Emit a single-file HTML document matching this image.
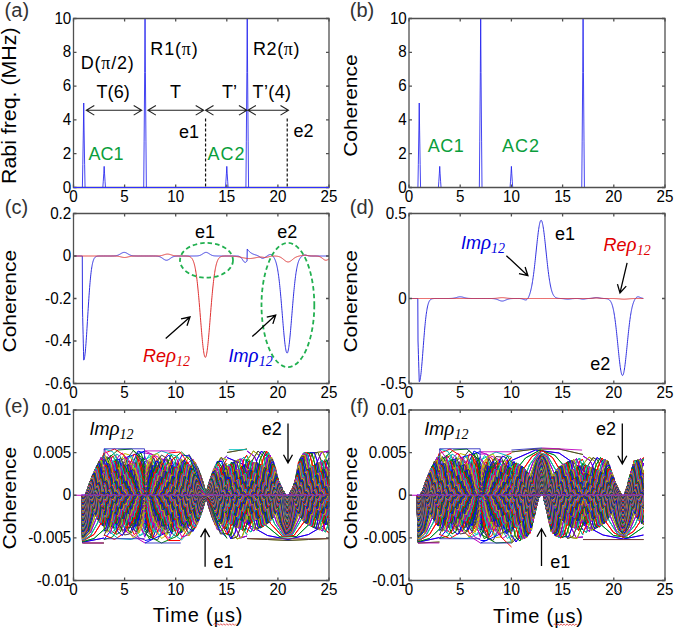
<!DOCTYPE html>
<html><head><meta charset="utf-8"><style>
html,body{margin:0;padding:0;background:#fff;width:675px;height:630px;overflow:hidden}
svg{display:block}
text{font-family:"Liberation Sans", sans-serif}
</style></head><body>
<svg width="675" height="630" viewBox="0 0 675 630">
<rect width="675" height="630" fill="#fff"/>
<path d="M73.5,187.5 82.39,187.5 82.8,164.69 83.36,130.04 83.72,103 84.08,130.04 84.64,164.69 85.05,187.5 102.83,187.5 103.24,181.8 103.8,173.13 104.16,166.38 104.52,173.13 105.08,181.8 105.49,187.5 143.71,187.5 144.12,141.87 144.68,72.58 145.04,18.5 145.4,72.58 145.96,141.87 146.37,187.5 225.47,187.5 225.88,181.8 226.44,173.13 226.8,166.38 227.16,173.13 227.72,181.8 228.13,187.5 245.91,187.5 246.32,141.87 246.88,72.58 247.24,18.5 247.6,72.58 248.16,141.87 248.57,187.5 329,187.5" fill="none" stroke="#2222ee" stroke-width="0.85" stroke-linejoin="round" />
<path d="M73.5,18.5H329.0V187.5H73.5Z" fill="none" stroke="#505050" stroke-width="1.3"/>
<path d="M73.5,187.5v-3M73.5,18.5v3M124.6,187.5v-3M124.6,18.5v3M175.7,187.5v-3M175.7,18.5v3M226.8,187.5v-3M226.8,18.5v3M277.9,187.5v-3M277.9,18.5v3M329,187.5v-3M329,18.5v3M73.5,187.5h3M329.0,187.5h-3M73.5,153.7h3M329.0,153.7h-3M73.5,119.9h3M329.0,119.9h-3M73.5,86.1h3M329.0,86.1h-3M73.5,52.3h3M329.0,52.3h-3M73.5,18.5h3M329.0,18.5h-3" stroke="#505050" stroke-width="1.3"/>
<path d="M205.56,118.5V187M287.22,118.5V187" stroke="#111" stroke-width="1.2" stroke-dasharray="3,2"/>
<path d="M73.5,187.5H329" stroke="#3030ff" stroke-width="1.2"/>
<path d="M409,187.5 417.91,187.5 418.32,164.69 418.88,130.04 419.24,103 419.6,130.04 420.16,164.69 420.57,187.5 438.39,187.5 438.8,181.8 439.36,173.13 439.72,166.38 440.08,173.13 440.64,181.8 441.05,187.5 479.35,187.5 479.76,141.87 480.32,72.58 480.68,18.5 481.04,72.58 481.6,141.87 482.01,187.5 510.07,187.5 510.48,181.8 511.04,173.13 511.4,166.38 511.76,173.13 512.32,181.8 512.73,187.5 581.75,187.5 582.16,141.87 582.72,72.58 583.08,18.5 583.44,72.58 584,141.87 584.41,187.5 665,187.5" fill="none" stroke="#2222ee" stroke-width="0.85" stroke-linejoin="round" />
<path d="M409.0,18.5H665.0V187.5H409.0Z" fill="none" stroke="#505050" stroke-width="1.3"/>
<path d="M409,187.5v-3M409,18.5v3M460.2,187.5v-3M460.2,18.5v3M511.4,187.5v-3M511.4,18.5v3M562.6,187.5v-3M562.6,18.5v3M613.8,187.5v-3M613.8,18.5v3M665,187.5v-3M665,18.5v3M409.0,187.5h3M665.0,187.5h-3M409.0,153.7h3M665.0,153.7h-3M409.0,119.9h3M665.0,119.9h-3M409.0,86.1h3M665.0,86.1h-3M409.0,52.3h3M665.0,52.3h-3M409.0,18.5h3M665.0,18.5h-3" stroke="#505050" stroke-width="1.3"/>
<path d="M73.5,256 73.7,256 73.91,256 74.11,256 74.32,256 74.52,256 74.73,256 74.93,256 75.14,256 75.34,256 75.54,256 75.75,256 75.95,256 76.16,256 76.36,256 76.57,256 76.77,256 76.97,256 77.18,256 77.38,256 77.59,256 77.79,256 78,256 78.2,256 78.41,256 78.61,256 78.81,256 79.02,256 79.22,256 79.43,256 79.63,256 79.84,256 80.04,256 80.25,256 80.45,256 80.65,256 80.86,256 81.06,256 81.27,256 81.47,256 81.68,256 81.88,256 82.08,256 82.29,256 82.49,309.12 82.7,317.62 82.9,326.12 83.11,334.63 83.31,343.12 83.52,351.62 83.72,360.12 83.92,359.98 84.13,359.53 84.33,358.8 84.54,357.78 84.74,356.48 84.95,354.92 85.15,353.11 85.36,351.06 85.56,348.78 85.76,346.3 85.97,343.64 86.17,340.82 86.38,337.85 86.58,334.77 86.79,331.58 86.99,328.32 87.19,325 87.4,321.64 87.6,318.27 87.81,314.91 88.01,311.57 88.22,308.27 88.42,305.02 88.63,301.85 88.83,298.76 89.03,295.76 89.24,292.87 89.44,290.1 89.65,287.44 89.85,284.9 90.06,282.5 90.26,280.23 90.47,278.08 90.67,276.07 90.87,274.2 91.08,272.45 91.28,270.82 91.49,269.32 91.69,267.94 91.9,266.67 92.1,265.51 92.3,264.45 92.51,263.48 92.71,262.61 92.92,261.82 93.12,261.12 93.33,260.48 93.53,259.91 93.74,259.41 93.94,258.96 94.14,258.56 94.35,258.21 94.55,257.91 94.76,257.64 94.96,257.4 95.17,257.2 95.37,257.02 95.58,256.87 95.78,256.73 95.98,256.62 96.19,256.52 96.39,256.44 96.6,256.37 96.8,256.31 97.01,256.25 97.21,256.21 97.41,256.17 97.62,256.14 97.82,256.12 98.03,256.1 98.23,256.08 98.44,256.06 98.64,256.05 98.85,256.04 99.05,256.03 99.25,256.03 99.46,256.02 99.66,256.02 99.87,256.01 100.07,256.01 100.28,256.01 100.48,256.01 100.69,256.01 100.89,256 101.09,256 101.3,256 101.5,256 101.71,256 101.91,256 102.12,256 102.32,256 102.52,256 102.73,256 102.93,256 103.14,256 103.34,256 103.55,256 103.75,256 103.96,256 104.16,256 104.36,256 104.57,256 104.77,256 104.98,256 105.18,256 105.39,256 105.59,256 105.8,256 106,256 106.2,256 106.41,256 106.61,256 106.82,256 107.02,256 107.23,256 107.43,256 107.63,256 107.84,256 108.04,256 108.25,256 108.45,256 108.66,256 108.86,256 109.07,256 109.27,256 109.47,256 109.68,256 109.88,256 110.09,256 110.29,256 110.5,256 110.7,256 110.91,256 111.11,255.99 111.31,255.99 111.52,255.99 111.72,255.99 111.93,255.99 112.13,255.99 112.34,255.98 112.54,255.98 112.74,255.98 112.95,255.97 113.15,255.97 113.36,255.96 113.56,255.95 113.77,255.94 113.97,255.93 114.18,255.92 114.38,255.91 114.58,255.89 114.79,255.88 114.99,255.86 115.2,255.84 115.4,255.81 115.61,255.79 115.81,255.75 116.02,255.72 116.22,255.68 116.42,255.64 116.63,255.6 116.83,255.55 117.04,255.49 117.24,255.43 117.45,255.37 117.65,255.3 117.85,255.22 118.06,255.14 118.26,255.06 118.47,254.97 118.67,254.87 118.88,254.78 119.08,254.67 119.29,254.56 119.49,254.45 119.69,254.33 119.9,254.22 120.1,254.1 120.31,253.97 120.51,253.85 120.72,253.72 120.92,253.6 121.13,253.48 121.33,253.36 121.53,253.24 121.74,253.13 121.94,253.02 122.15,252.92 122.35,252.83 122.56,252.74 122.76,252.66 122.96,252.59 123.17,252.53 123.37,252.48 123.58,252.44 123.78,252.41 123.99,252.39 124.19,252.39 124.4,252.39 124.6,252.41 124.8,252.44 125.01,252.48 125.21,252.53 125.42,252.59 125.62,252.66 125.83,252.74 126.03,252.83 126.24,252.92 126.44,253.02 126.64,253.13 126.85,253.24 127.05,253.36 127.26,253.48 127.46,253.6 127.67,253.72 127.87,253.85 128.07,253.97 128.28,254.1 128.48,254.22 128.69,254.33 128.89,254.45 129.1,254.56 129.3,254.67 129.51,254.78 129.71,254.87 129.91,254.97 130.12,255.06 130.32,255.14 130.53,255.22 130.73,255.3 130.94,255.37 131.14,255.43 131.35,255.49 131.55,255.55 131.75,255.6 131.96,255.64 132.16,255.68 132.37,255.72 132.57,255.75 132.78,255.79 132.98,255.81 133.18,255.84 133.39,255.86 133.59,255.88 133.8,255.89 134,255.91 134.21,255.92 134.41,255.93 134.62,255.94 134.82,255.95 135.02,255.96 135.23,255.97 135.43,255.97 135.64,255.98 135.84,255.98 136.05,255.98 136.25,255.99 136.46,255.99 136.66,255.99 136.86,255.99 137.07,255.99 137.27,255.99 137.48,256 137.68,256 137.89,256 138.09,256 138.29,256 138.5,256 138.7,256 138.91,256 139.11,256 139.32,256 139.52,256 139.73,256 139.93,256 140.13,256 140.34,256 140.54,256 140.75,256 140.95,256 141.16,256 141.36,256 141.57,256 141.77,256 141.97,256 142.18,256 142.38,256 142.59,256 142.79,256 143,256 143.2,256 143.4,256 143.61,256 143.81,256 144.02,256 144.22,256 144.43,256 144.63,256 144.84,256 145.04,256 145.24,256 145.45,256 145.65,256 145.86,256 146.06,256 146.27,256 146.47,256 146.68,256 146.88,256 147.08,256 147.29,256 147.49,256 147.7,256 147.9,256 148.11,256 148.31,256 148.51,256 148.72,256 148.92,256 149.13,256 149.33,256 149.54,256 149.74,256 149.95,256 150.15,256 150.35,256 150.56,256 150.76,256 150.97,256 151.17,256 151.38,256 151.58,256 151.79,256 151.99,256 152.19,256 152.4,256 152.6,256 152.81,256 153.01,256 153.22,256 153.42,256.01 153.62,256.01 153.83,256.01 154.03,256.01 154.24,256.01 154.44,256.02 154.65,256.02 154.85,256.02 155.06,256.03 155.26,256.03 155.46,256.04 155.67,256.05 155.87,256.06 156.08,256.07 156.28,256.08 156.49,256.09 156.69,256.11 156.9,256.12 157.1,256.14 157.3,256.17 157.51,256.19 157.71,256.22 157.92,256.25 158.12,256.29 158.33,256.33 158.53,256.37 158.73,256.42 158.94,256.48 159.14,256.53 159.35,256.6 159.55,256.67 159.76,256.74 159.96,256.83 160.17,256.91 160.37,257.01 160.57,257.11 160.78,257.21 160.98,257.32 161.19,257.44 161.39,257.56 161.6,257.69 161.8,257.82 162.01,257.96 162.21,258.1 162.41,258.24 162.62,258.39 162.82,258.53 163.03,258.68 163.23,258.82 163.44,258.97 163.64,259.11 163.84,259.24 164.05,259.38 164.25,259.5 164.46,259.62 164.66,259.73 164.87,259.84 165.07,259.93 165.28,260.01 165.48,260.08 165.68,260.14 165.89,260.19 166.09,260.22 166.3,260.24 166.5,260.25 166.71,260.24 166.91,260.22 167.12,260.19 167.32,260.14 167.52,260.08 167.73,260.01 167.93,259.93 168.14,259.84 168.34,259.73 168.55,259.62 168.75,259.5 168.95,259.38 169.16,259.24 169.36,259.11 169.57,258.97 169.77,258.82 169.98,258.68 170.18,258.53 170.39,258.39 170.59,258.24 170.79,258.1 171,257.96 171.2,257.82 171.41,257.69 171.61,257.56 171.82,257.44 172.02,257.32 172.23,257.21 172.43,257.11 172.63,257.01 172.84,256.91 173.04,256.83 173.25,256.74 173.45,256.67 173.66,256.6 173.86,256.53 174.06,256.48 174.27,256.42 174.47,256.37 174.68,256.33 174.88,256.29 175.09,256.25 175.29,256.22 175.5,256.19 175.7,256.17 175.9,256.14 176.11,256.12 176.31,256.11 176.52,256.09 176.72,256.08 176.93,256.07 177.13,256.06 177.34,256.05 177.54,256.04 177.74,256.03 177.95,256.03 178.15,256.02 178.36,256.02 178.56,256.02 178.77,256.01 178.97,256.01 179.17,256.01 179.38,256.01 179.58,256.01 179.79,256 179.99,256 180.2,256 180.4,256 180.61,256 180.81,256 181.01,256 181.22,256 181.42,256 181.63,256 181.83,256 182.04,256 182.24,256 182.45,256 182.65,256 182.85,256 183.06,256 183.26,256 183.47,256 183.67,256 183.88,256 184.08,256 184.28,256 184.49,256 184.69,256 184.9,256 185.1,256 185.31,256 185.51,256 185.72,256 185.92,256 186.12,256 186.33,256 186.53,256 186.74,256 186.94,256 187.15,256 187.35,256 187.56,256 187.76,256 187.96,256 188.17,256 188.37,256 188.58,256 188.78,256 188.99,256 189.19,256 189.39,256 189.6,256 189.8,256 190.01,256 190.21,256 190.42,256 190.62,256 190.83,256 191.03,256 191.23,256 191.44,256 191.64,256 191.85,256 192.05,256 192.26,256 192.46,256 192.67,256 192.87,256 193.07,256 193.28,256 193.48,256 193.69,256 193.89,256 194.1,256 194.3,255.99 194.5,255.99 194.71,255.99 194.91,255.99 195.12,255.99 195.32,255.98 195.53,255.98 195.73,255.98 195.94,255.97 196.14,255.97 196.34,255.96 196.55,255.95 196.75,255.94 196.96,255.93 197.16,255.91 197.37,255.9 197.57,255.88 197.78,255.86 197.98,255.83 198.18,255.81 198.39,255.78 198.59,255.74 198.8,255.7 199,255.66 199.21,255.61 199.41,255.55 199.61,255.49 199.82,255.42 200.02,255.35 200.23,255.27 200.43,255.19 200.64,255.1 200.84,255 201.05,254.9 201.25,254.79 201.45,254.67 201.66,254.55 201.86,254.42 202.07,254.3 202.27,254.16 202.48,254.03 202.68,253.89 202.89,253.75 203.09,253.62 203.29,253.48 203.5,253.35 203.7,253.22 203.91,253.09 204.11,252.98 204.32,252.87 204.52,252.77 204.72,252.68 204.93,252.6 205.13,252.53 205.34,252.47 205.54,252.43 205.75,252.4 205.95,252.39 206.16,252.39 206.36,252.4 206.56,252.43 206.77,252.47 206.97,252.53 207.18,252.6 207.38,252.68 207.59,252.77 207.79,252.87 208,252.98 208.2,253.09 208.4,253.22 208.61,253.35 208.81,253.48 209.02,253.62 209.22,253.75 209.43,253.89 209.63,254.03 209.83,254.16 210.04,254.3 210.24,254.42 210.45,254.55 210.65,254.67 210.86,254.79 211.06,254.9 211.27,255 211.47,255.1 211.67,255.19 211.88,255.27 212.08,255.35 212.29,255.42 212.49,255.49 212.7,255.55 212.9,255.61 213.11,255.66 213.31,255.7 213.51,255.74 213.72,255.78 213.92,255.81 214.13,255.83 214.33,255.86 214.54,255.88 214.74,255.9 214.94,255.91 215.15,255.93 215.35,255.94 215.56,255.95 215.76,255.96 215.97,255.97 216.17,255.97 216.38,255.98 216.58,255.98 216.78,255.98 216.99,255.99 217.19,255.99 217.4,255.99 217.6,255.99 217.81,255.99 218.01,256 218.22,256 218.42,256 218.62,256 218.83,256 219.03,256 219.24,256 219.44,256 219.65,256 219.85,256 220.05,256 220.26,256 220.46,256 220.67,256 220.87,256 221.08,256 221.28,256 221.49,256 221.69,256 221.89,256 222.1,256 222.3,256 222.51,256 222.71,256 222.92,256 223.12,256 223.33,256 223.53,256 223.73,256 223.94,256 224.14,256 224.35,256 224.55,256 224.76,256 224.96,256 225.16,256 225.37,256 225.57,256 225.78,256 225.98,256 226.19,256 226.39,256 226.6,256 226.8,256 227,256 227.21,256 227.41,256 227.62,256 227.82,256 228.03,256 228.23,256 228.44,256 228.64,256 228.84,256 229.05,256 229.25,256 229.46,256 229.66,256 229.87,256 230.07,256 230.27,256 230.48,256 230.68,256 230.89,256 231.09,256 231.3,256 231.5,256 231.71,256 231.91,256 232.11,256 232.32,256 232.52,256 232.73,256 232.93,256 233.14,256 233.34,256 233.55,256 233.75,256 233.95,256 234.16,256 234.36,256 234.57,256 234.77,256 234.98,256 235.18,256 235.38,256 235.59,256 235.79,256.01 236,256.01 236.2,256.01 236.41,256.02 236.61,256.02 236.82,256.03 237.02,256.03 237.22,256.04 237.43,256.06 237.63,256.07 237.84,256.09 238.04,256.12 238.25,256.15 238.45,256.18 238.66,256.23 238.86,256.28 239.06,256.34 239.27,256.41 239.47,256.49 239.68,256.59 239.88,256.7 240.09,256.83 240.29,256.97 240.49,257.13 240.7,257.31 240.9,257.51 241.11,257.73 241.31,257.96 241.52,258.21 241.72,258.48 241.93,258.76 242.13,259.06 242.33,259.36 242.54,259.67 242.74,259.98 242.95,260.29 243.15,260.6 243.36,260.89 243.56,261.17 243.77,261.43 243.97,261.67 244.17,261.88 244.38,262.05 244.58,262.19 244.79,262.29 244.99,262.35 245.2,262.38 245.4,262.35 245.6,262.29 245.81,262.19 246.01,262.05 246.22,261.88 246.42,261.67 246.63,261.43 246.83,261.17 247.04,260.89 247.24,248.99 247.44,249.29 247.65,249.58 247.85,249.86 248.06,250.13 248.26,250.38 248.47,250.63 248.67,250.86 248.88,251.09 249.08,251.3 249.28,251.5 249.49,251.7 249.69,251.89 249.9,252.06 250.1,252.24 250.31,252.4 250.51,252.56 250.71,252.71 250.92,252.85 251.12,252.99 251.33,253.12 251.53,253.24 251.74,253.36 251.94,253.48 252.15,253.59 252.35,253.69 252.55,253.79 252.76,253.89 252.96,253.98 253.17,254.07 253.37,254.15 253.58,254.24 253.78,254.31 253.99,254.39 254.19,254.46 254.39,254.53 254.6,254.6 254.8,254.67 255.01,254.73 255.21,254.8 255.42,254.86 255.62,254.92 255.82,254.99 256.03,255.05 256.23,255.12 256.44,255.19 256.64,255.26 256.85,255.33 257.05,255.41 257.26,255.49 257.46,255.57 257.66,255.66 257.87,255.76 258.07,255.86 258.28,255.97 258.48,256.08 258.69,256.2 258.89,256.33 259.1,256.46 259.3,256.6 259.5,256.74 259.71,256.88 259.91,257.02 260.12,257.17 260.32,257.31 260.53,257.45 260.73,257.58 260.93,257.71 261.14,257.83 261.34,257.94 261.55,258.04 261.75,258.12 261.96,258.19 262.16,258.24 262.37,258.28 262.57,258.3 262.77,258.3 262.98,258.29 263.18,258.25 263.39,258.21 263.59,258.14 263.8,258.07 264,257.98 264.21,257.88 264.41,257.77 264.61,257.65 264.82,257.53 265.02,257.4 265.23,257.26 265.43,257.13 265.64,256.99 265.84,256.86 266.04,256.72 266.25,256.58 266.45,256.45 266.66,256.31 266.86,256.18 267.07,256.04 267.27,255.91 267.48,255.78 267.68,255.65 267.88,255.52 268.09,255.39 268.29,255.27 268.5,255.15 268.7,255.04 268.91,254.93 269.11,254.83 269.32,254.74 269.52,254.66 269.72,254.6 269.93,254.55 270.13,254.52 270.34,254.51 270.54,254.52 270.75,254.54 270.95,254.59 271.15,254.66 271.36,254.76 271.56,254.87 271.77,255 271.97,255.16 272.18,255.33 272.38,255.52 272.59,255.73 272.79,255.96 272.99,256.21 273.2,256.47 273.4,256.75 273.61,257.04 273.81,257.36 274.02,257.69 274.22,258.05 274.43,258.42 274.63,258.83 274.83,259.26 275.04,259.72 275.24,260.21 275.45,260.74 275.65,261.31 275.86,261.92 276.06,262.58 276.26,263.28 276.47,264.04 276.67,264.86 276.88,265.74 277.08,266.67 277.29,267.68 277.49,268.75 277.7,269.89 277.9,271.11 278.1,272.4 278.31,273.77 278.51,275.21 278.72,276.73 278.92,278.34 279.13,280.02 279.33,281.78 279.54,283.62 279.74,285.53 279.94,287.53 280.15,289.59 280.35,291.72 280.56,293.92 280.76,296.18 280.97,298.49 281.17,300.86 281.37,303.27 281.58,305.72 281.78,308.2 281.99,310.7 282.19,313.22 282.4,315.74 282.6,318.26 282.81,320.77 283.01,323.26 283.21,325.71 283.42,328.12 283.62,330.47 283.83,332.77 284.03,334.98 284.24,337.11 284.44,339.15 284.65,341.08 284.85,342.9 285.05,344.59 285.26,346.15 285.46,347.57 285.67,348.84 285.87,349.95 286.08,350.91 286.28,351.69 286.48,352.31 286.69,352.76 286.89,353.02 287.1,353.11 287.3,353.02 287.51,352.76 287.71,352.31 287.92,351.7 288.12,350.91 288.32,349.95 288.53,348.84 288.73,347.57 288.94,346.15 289.14,344.59 289.35,342.9 289.55,341.08 289.76,339.15 289.96,337.12 290.16,334.98 290.37,332.77 290.57,330.48 290.78,328.12 290.98,325.71 291.19,323.26 291.39,320.77 291.59,318.27 291.8,315.75 292,313.22 292.21,310.7 292.41,308.2 292.62,305.72 292.82,303.27 293.03,300.86 293.23,298.5 293.43,296.18 293.64,293.92 293.84,291.73 294.05,289.59 294.25,287.53 294.46,285.54 294.66,283.63 294.87,281.79 295.07,280.03 295.27,278.35 295.48,276.74 295.68,275.22 295.89,273.78 296.09,272.41 296.3,271.12 296.5,269.91 296.7,268.77 296.91,267.7 297.11,266.71 297.32,265.77 297.52,264.91 297.73,264.1 297.93,263.35 298.14,262.66 298.34,262.02 298.54,261.43 298.75,260.88 298.95,260.38 299.16,259.92 299.36,259.5 299.57,259.1 299.77,258.75 299.98,258.41 300.18,258.11 300.38,257.83 300.59,257.57 300.79,257.32 301,257.1 301.2,256.89 301.41,256.69 301.61,256.5 301.81,256.33 302.02,256.17 302.22,256.02 302.43,255.87 302.63,255.74 302.84,255.62 303.04,255.51 303.25,255.41 303.45,255.32 303.65,255.25 303.86,255.18 304.06,255.13 304.27,255.09 304.47,255.07 304.68,255.05 304.88,255.05 305.09,255.06 305.29,255.08 305.49,255.11 305.7,255.14 305.9,255.19 306.11,255.24 306.31,255.29 306.52,255.34 306.72,255.4 306.92,255.46 307.13,255.51 307.33,255.57 307.54,255.62 307.74,255.67 307.95,255.71 308.15,255.75 308.36,255.79 308.56,255.82 308.76,255.85 308.97,255.88 309.17,255.9 309.38,255.92 309.58,255.94 309.79,255.95 309.99,255.96 310.2,255.97 310.4,255.98 310.6,255.98 310.81,255.99 311.01,255.99 311.22,255.99 311.42,255.99 311.63,256 311.83,256 312.03,256 312.24,256 312.44,256 312.65,256 312.85,256 313.06,256 313.26,256 313.47,256 313.67,256 313.87,256 314.08,256 314.28,256 314.49,256 314.69,256 314.9,256 315.1,256 315.31,256 315.51,256 315.71,256 315.92,256 316.12,256 316.33,256 316.53,256 316.74,256 316.94,256 317.14,256 317.35,256 317.55,256 317.76,256 317.96,256 318.17,256 318.37,256 318.58,256 318.78,256 318.98,256 319.19,256 319.39,256 319.6,256 319.8,256 320.01,256 320.21,256 320.42,256 320.62,256 320.82,256 321.03,256 321.23,256 321.44,256 321.64,256 321.85,256 322.05,256 322.25,256 322.46,256 322.66,256 322.87,256 323.07,256 323.28,256 323.48,256 323.69,256 323.89,256 324.09,256 324.3,256 324.5,256 324.71,256 324.91,256 325.12,256 325.32,256 325.53,256 325.73,256 325.93,256 326.14,256 326.34,256 326.55,256 326.75,256 326.96,256 327.16,256 327.36,256 327.57,256 327.77,256 327.98,256 328.18,256 328.39,256 328.59,256 328.8,256 329,256" fill="none" stroke="#3030e0" stroke-width="1.0" stroke-linejoin="round" />
<path d="M73.5,256 73.7,256 73.91,256 74.11,256 74.32,256 74.52,256 74.73,256 74.93,256 75.14,256 75.34,256 75.54,256 75.75,256 75.95,256 76.16,256 76.36,256 76.57,256 76.77,256 76.97,256 77.18,256 77.38,256 77.59,256 77.79,256 78,256 78.2,256 78.41,256 78.61,256 78.81,256 79.02,256 79.22,256 79.43,256 79.63,256 79.84,256 80.04,256 80.25,256 80.45,256 80.65,256 80.86,256 81.06,256 81.27,256 81.47,256 81.68,256 81.88,256 82.08,256 82.29,256 82.49,256 82.7,256 82.9,256 83.11,256 83.31,256 83.52,256 83.72,256 83.92,256 84.13,256 84.33,256 84.54,256 84.74,256 84.95,256 85.15,256 85.36,256 85.56,256 85.76,256 85.97,256 86.17,256 86.38,256 86.58,256 86.79,256 86.99,256 87.19,256 87.4,256 87.6,256 87.81,256 88.01,256 88.22,256 88.42,256 88.63,256 88.83,256 89.03,256 89.24,256 89.44,256 89.65,256 89.85,256 90.06,256 90.26,256 90.47,256 90.67,256 90.87,256 91.08,256 91.28,256 91.49,256 91.69,256 91.9,256 92.1,256 92.3,256 92.51,256 92.71,256 92.92,256 93.12,256 93.33,256 93.53,256 93.74,256 93.94,256 94.14,256 94.35,256 94.55,256 94.76,256 94.96,256 95.17,256 95.37,256 95.58,256 95.78,256 95.98,256 96.19,256 96.39,256 96.6,256 96.8,256 97.01,256 97.21,256 97.41,256 97.62,256 97.82,256 98.03,256 98.23,256 98.44,256 98.64,256 98.85,256 99.05,256 99.25,256 99.46,256 99.66,256 99.87,256 100.07,256 100.28,256 100.48,256 100.69,256 100.89,256 101.09,256 101.3,256 101.5,256 101.71,256 101.91,256 102.12,256 102.32,256 102.52,256 102.73,256 102.93,256 103.14,256 103.34,256 103.55,256 103.75,256 103.96,256 104.16,256 104.36,256 104.57,256 104.77,256 104.98,256 105.18,256 105.39,256 105.59,256 105.8,256 106,256 106.2,256 106.41,256 106.61,256 106.82,256 107.02,256 107.23,256 107.43,256 107.63,256 107.84,256 108.04,256 108.25,256 108.45,256 108.66,256 108.86,256 109.07,256 109.27,256 109.47,256 109.68,256 109.88,256 110.09,256 110.29,256 110.5,256 110.7,256 110.91,256 111.11,256 111.31,256 111.52,256 111.72,256 111.93,256 112.13,256 112.34,256 112.54,256.01 112.74,256.01 112.95,256.01 113.15,256.01 113.36,256.01 113.56,256.01 113.77,256.02 113.97,256.02 114.18,256.02 114.38,256.03 114.58,256.03 114.79,256.04 114.99,256.04 115.2,256.05 115.4,256.06 115.61,256.07 115.81,256.08 116.02,256.09 116.22,256.1 116.42,256.11 116.63,256.13 116.83,256.15 117.04,256.17 117.24,256.19 117.45,256.21 117.65,256.23 117.85,256.26 118.06,256.29 118.26,256.32 118.47,256.35 118.67,256.39 118.88,256.42 119.08,256.46 119.29,256.5 119.49,256.55 119.69,256.59 119.9,256.64 120.1,256.69 120.31,256.73 120.51,256.78 120.72,256.83 120.92,256.89 121.13,256.94 121.33,256.99 121.53,257.04 121.74,257.09 121.94,257.14 122.15,257.18 122.35,257.23 122.56,257.27 122.76,257.31 122.96,257.34 123.17,257.38 123.37,257.4 123.58,257.43 123.78,257.45 123.99,257.47 124.19,257.48 124.4,257.49 124.6,257.49 124.8,257.49 125.01,257.48 125.21,257.47 125.42,257.45 125.62,257.43 125.83,257.4 126.03,257.38 126.24,257.34 126.44,257.31 126.64,257.27 126.85,257.23 127.05,257.18 127.26,257.14 127.46,257.09 127.67,257.04 127.87,256.99 128.07,256.94 128.28,256.89 128.48,256.83 128.69,256.78 128.89,256.73 129.1,256.69 129.3,256.64 129.51,256.59 129.71,256.55 129.91,256.5 130.12,256.46 130.32,256.42 130.53,256.39 130.73,256.35 130.94,256.32 131.14,256.29 131.35,256.26 131.55,256.23 131.75,256.21 131.96,256.19 132.16,256.17 132.37,256.15 132.57,256.13 132.78,256.11 132.98,256.1 133.18,256.09 133.39,256.08 133.59,256.07 133.8,256.06 134,256.05 134.21,256.04 134.41,256.04 134.62,256.03 134.82,256.03 135.02,256.02 135.23,256.02 135.43,256.02 135.64,256.01 135.84,256.01 136.05,256.01 136.25,256.01 136.46,256.01 136.66,256.01 136.86,256 137.07,256 137.27,256 137.48,256 137.68,256 137.89,256 138.09,256 138.29,256 138.5,256 138.7,256 138.91,256 139.11,256 139.32,256 139.52,256 139.73,256 139.93,256 140.13,256 140.34,256 140.54,256 140.75,256 140.95,256 141.16,256 141.36,256 141.57,256 141.77,256 141.97,256 142.18,256 142.38,256 142.59,256 142.79,256 143,256 143.2,256 143.4,256 143.61,256 143.81,256 144.02,256 144.22,256 144.43,256 144.63,256 144.84,256 145.04,256 145.24,256 145.45,256 145.65,256 145.86,256 146.06,256 146.27,256 146.47,256 146.68,256 146.88,256 147.08,256 147.29,256 147.49,256 147.7,256 147.9,256 148.11,256 148.31,256 148.51,256 148.72,256 148.92,256 149.13,256 149.33,256 149.54,256 149.74,256 149.95,256 150.15,256 150.35,256 150.56,256 150.76,256 150.97,256 151.17,256 151.38,256 151.58,256 151.79,256 151.99,256 152.19,256 152.4,256 152.6,256 152.81,256 153.01,256 153.22,256 153.42,256 153.62,256 153.83,256 154.03,256 154.24,256 154.44,256 154.65,256 154.85,256 155.06,256 155.26,255.99 155.46,255.99 155.67,255.99 155.87,255.99 156.08,255.99 156.28,255.98 156.49,255.98 156.69,255.98 156.9,255.97 157.1,255.97 157.3,255.96 157.51,255.96 157.71,255.95 157.92,255.94 158.12,255.94 158.33,255.93 158.53,255.91 158.73,255.9 158.94,255.89 159.14,255.87 159.35,255.85 159.55,255.83 159.76,255.81 159.96,255.79 160.17,255.76 160.37,255.73 160.57,255.7 160.78,255.67 160.98,255.63 161.19,255.59 161.39,255.55 161.6,255.5 161.8,255.45 162.01,255.4 162.21,255.35 162.41,255.3 162.62,255.24 162.82,255.18 163.03,255.12 163.23,255.06 163.44,254.99 163.64,254.93 163.84,254.86 164.05,254.8 164.25,254.73 164.46,254.67 164.66,254.6 164.87,254.54 165.07,254.48 165.28,254.42 165.48,254.37 165.68,254.32 165.89,254.27 166.09,254.23 166.3,254.19 166.5,254.16 166.71,254.14 166.91,254.11 167.12,254.1 167.32,254.09 167.52,254.09 167.73,254.09 167.93,254.1 168.14,254.11 168.34,254.14 168.55,254.16 168.75,254.19 168.95,254.23 169.16,254.27 169.36,254.32 169.57,254.37 169.77,254.42 169.98,254.48 170.18,254.54 170.39,254.6 170.59,254.67 170.79,254.73 171,254.8 171.2,254.86 171.41,254.93 171.61,254.99 171.82,255.06 172.02,255.12 172.23,255.18 172.43,255.24 172.63,255.3 172.84,255.35 173.04,255.4 173.25,255.45 173.45,255.5 173.66,255.55 173.86,255.59 174.06,255.63 174.27,255.67 174.47,255.7 174.68,255.73 174.88,255.76 175.09,255.79 175.29,255.81 175.5,255.83 175.7,255.85 175.9,255.87 176.11,255.89 176.31,255.9 176.52,255.91 176.72,255.93 176.93,255.94 177.13,255.94 177.34,255.95 177.54,255.96 177.74,255.96 177.95,255.97 178.15,255.97 178.36,255.98 178.56,255.98 178.77,255.98 178.97,255.99 179.17,255.99 179.38,255.99 179.58,255.99 179.79,255.99 179.99,256 180.2,256 180.4,256 180.61,256 180.81,256 181.01,256 181.22,256 181.42,256 181.63,256 181.83,256 182.04,256 182.24,256 182.45,256 182.65,256 182.85,256 183.06,256 183.26,256 183.47,256 183.67,256.01 183.88,256.01 184.08,256.01 184.28,256.01 184.49,256.01 184.69,256.01 184.9,256.02 185.1,256.02 185.31,256.02 185.51,256.03 185.72,256.03 185.92,256.04 186.12,256.05 186.33,256.06 186.53,256.07 186.74,256.08 186.94,256.09 187.15,256.11 187.35,256.12 187.56,256.15 187.76,256.17 187.96,256.2 188.17,256.23 188.37,256.26 188.58,256.3 188.78,256.35 188.99,256.4 189.19,256.46 189.39,256.53 189.6,256.6 189.8,256.69 190.01,256.78 190.21,256.89 190.42,257.01 190.62,257.14 190.83,257.29 191.03,257.46 191.23,257.65 191.44,257.86 191.64,258.09 191.85,258.34 192.05,258.62 192.26,258.93 192.46,259.27 192.67,259.65 192.87,260.05 193.07,260.5 193.28,260.99 193.48,261.52 193.69,262.1 193.89,262.73 194.1,263.4 194.3,264.14 194.5,264.92 194.71,265.77 194.91,266.68 195.12,267.66 195.32,268.7 195.53,269.81 195.73,271 195.94,272.25 196.14,273.58 196.34,274.99 196.55,276.48 196.75,278.04 196.96,279.68 197.16,281.4 197.37,283.19 197.57,285.07 197.78,287.01 197.98,289.04 198.18,291.13 198.39,293.29 198.59,295.51 198.8,297.8 199,300.14 199.21,302.53 199.41,304.97 199.61,307.44 199.82,309.95 200.02,312.48 200.23,315.03 200.43,317.59 200.64,320.14 200.84,322.69 201.05,325.21 201.25,327.71 201.45,330.17 201.66,332.59 201.86,334.94 202.07,337.23 202.27,339.43 202.48,341.55 202.68,343.58 202.89,345.49 203.09,347.29 203.29,348.96 203.5,350.5 203.7,351.9 203.91,353.16 204.11,354.25 204.32,355.19 204.52,355.97 204.72,356.58 204.93,357.01 205.13,357.27 205.34,357.36 205.54,357.27 205.75,357.01 205.95,356.58 206.16,355.97 206.36,355.19 206.56,354.25 206.77,353.16 206.97,351.9 207.18,350.5 207.38,348.96 207.59,347.29 207.79,345.49 208,343.58 208.2,341.55 208.4,339.43 208.61,337.23 208.81,334.94 209.02,332.59 209.22,330.17 209.43,327.71 209.63,325.21 209.83,322.69 210.04,320.14 210.24,317.59 210.45,315.03 210.65,312.48 210.86,309.95 211.06,307.44 211.27,304.97 211.47,302.53 211.67,300.14 211.88,297.8 212.08,295.51 212.29,293.29 212.49,291.13 212.7,289.04 212.9,287.01 213.11,285.07 213.31,283.19 213.51,281.4 213.72,279.68 213.92,278.04 214.13,276.48 214.33,274.99 214.54,273.58 214.74,272.25 214.94,271 215.15,269.81 215.35,268.7 215.56,267.66 215.76,266.68 215.97,265.77 216.17,264.92 216.38,264.14 216.58,263.4 216.78,262.73 216.99,262.1 217.19,261.52 217.4,260.99 217.6,260.5 217.81,260.05 218.01,259.65 218.22,259.27 218.42,258.93 218.62,258.62 218.83,258.34 219.03,258.09 219.24,257.86 219.44,257.65 219.65,257.46 219.85,257.29 220.05,257.14 220.26,257.01 220.46,256.89 220.67,256.78 220.87,256.69 221.08,256.6 221.28,256.53 221.49,256.46 221.69,256.4 221.89,256.35 222.1,256.3 222.3,256.26 222.51,256.23 222.71,256.2 222.92,256.17 223.12,256.15 223.33,256.13 223.53,256.11 223.73,256.1 223.94,256.08 224.14,256.07 224.35,256.06 224.55,256.06 224.76,256.05 224.96,256.04 225.16,256.04 225.37,256.04 225.57,256.03 225.78,256.03 225.98,256.03 226.19,256.03 226.39,256.03 226.6,256.03 226.8,256.03 227,256.03 227.21,256.03 227.41,256.03 227.62,256.03 227.82,256.03 228.03,256.04 228.23,256.04 228.44,256.04 228.64,256.04 228.84,256.05 229.05,256.05 229.25,256.06 229.46,256.06 229.66,256.06 229.87,256.07 230.07,256.07 230.27,256.08 230.48,256.09 230.68,256.09 230.89,256.1 231.09,256.11 231.3,256.12 231.5,256.12 231.71,256.13 231.91,256.14 232.11,256.15 232.32,256.16 232.52,256.17 232.73,256.18 232.93,256.2 233.14,256.21 233.34,256.22 233.55,256.24 233.75,256.25 233.95,256.27 234.16,256.29 234.36,256.3 234.57,256.32 234.77,256.34 234.98,256.36 235.18,256.38 235.38,256.4 235.59,256.42 235.79,256.45 236,256.47 236.2,256.5 236.41,256.52 236.61,256.55 236.82,256.58 237.02,256.6 237.22,256.63 237.43,256.66 237.63,256.7 237.84,256.73 238.04,256.76 238.25,256.79 238.45,256.83 238.66,256.86 238.86,256.9 239.06,256.94 239.27,256.98 239.47,257.01 239.68,257.05 239.88,257.09 240.09,257.13 240.29,257.18 240.49,257.22 240.7,257.26 240.9,257.3 241.11,257.34 241.31,257.39 241.52,257.43 241.72,257.47 241.93,257.52 242.13,257.56 242.33,257.61 242.54,257.65 242.74,257.69 242.95,257.74 243.15,257.78 243.36,257.82 243.56,257.86 243.77,257.91 243.97,257.95 244.17,257.99 244.38,258.03 244.58,258.06 244.79,258.1 244.99,258.14 245.2,258.17 245.4,258.21 245.6,258.24 245.81,258.27 246.01,258.3 246.22,258.33 246.42,258.36 246.63,258.38 246.83,258.41 247.04,258.43 247.24,258.45 247.44,258.47 247.65,258.49 247.85,258.5 248.06,258.51 248.26,258.52 248.47,258.53 248.67,258.54 248.88,258.55 249.08,258.55 249.28,258.55 249.49,258.55 249.69,258.55 249.9,258.54 250.1,258.53 250.31,258.52 250.51,258.51 250.71,258.5 250.92,258.49 251.12,258.47 251.33,258.45 251.53,258.43 251.74,258.41 251.94,258.38 252.15,258.36 252.35,258.33 252.55,258.3 252.76,258.27 252.96,258.24 253.17,258.21 253.37,258.17 253.58,258.14 253.78,258.1 253.99,258.06 254.19,258.03 254.39,257.99 254.6,257.95 254.8,257.91 255.01,257.87 255.21,257.82 255.42,257.78 255.62,257.74 255.82,257.7 256.03,257.65 256.23,257.61 256.44,257.57 256.64,257.53 256.85,257.49 257.05,257.45 257.26,257.41 257.46,257.37 257.66,257.33 257.87,257.29 258.07,257.26 258.28,257.23 258.48,257.19 258.69,257.16 258.89,257.14 259.1,257.11 259.3,257.09 259.5,257.07 259.71,257.06 259.91,257.04 260.12,257.04 260.32,257.03 260.53,257.03 260.73,257.03 260.93,257.03 261.14,257.04 261.34,257.06 261.55,257.07 261.75,257.09 261.96,257.12 262.16,257.14 262.37,257.17 262.57,257.2 262.77,257.23 262.98,257.26 263.18,257.29 263.39,257.32 263.59,257.35 263.8,257.38 264,257.41 264.21,257.43 264.41,257.45 264.61,257.47 264.82,257.48 265.02,257.48 265.23,257.49 265.43,257.48 265.64,257.47 265.84,257.46 266.04,257.44 266.25,257.41 266.45,257.38 266.66,257.34 266.86,257.3 267.07,257.25 267.27,257.2 267.48,257.15 267.68,257.09 267.88,257.04 268.09,256.98 268.29,256.92 268.5,256.86 268.7,256.8 268.91,256.74 269.11,256.68 269.32,256.62 269.52,256.57 269.72,256.52 269.93,256.47 270.13,256.42 270.34,256.38 270.54,256.34 270.75,256.3 270.95,256.27 271.15,256.24 271.36,256.21 271.56,256.18 271.77,256.16 271.97,256.14 272.18,256.12 272.38,256.11 272.59,256.09 272.79,256.08 272.99,256.08 273.2,256.07 273.4,256.06 273.61,256.06 273.81,256.06 274.02,256.06 274.22,256.06 274.43,256.06 274.63,256.06 274.83,256.07 275.04,256.07 275.24,256.08 275.45,256.09 275.65,256.1 275.86,256.11 276.06,256.13 276.26,256.15 276.47,256.16 276.67,256.19 276.88,256.21 277.08,256.24 277.29,256.26 277.49,256.3 277.7,256.33 277.9,256.37 278.1,256.41 278.31,256.46 278.51,256.51 278.72,256.57 278.92,256.63 279.13,256.69 279.33,256.76 279.54,256.84 279.74,256.92 279.94,257.01 280.15,257.1 280.35,257.2 280.56,257.3 280.76,257.41 280.97,257.53 281.17,257.65 281.37,257.77 281.58,257.91 281.78,258.05 281.99,258.19 282.19,258.34 282.4,258.49 282.6,258.65 282.81,258.81 283.01,258.97 283.21,259.14 283.42,259.31 283.62,259.48 283.83,259.65 284.03,259.82 284.24,259.98 284.44,260.15 284.65,260.32 284.85,260.48 285.05,260.63 285.26,260.79 285.46,260.93 285.67,261.07 285.87,261.2 286.08,261.32 286.28,261.44 286.48,261.54 286.69,261.63 286.89,261.72 287.1,261.79 287.3,261.85 287.51,261.89 287.71,261.92 287.92,261.94 288.12,261.95 288.32,261.94 288.53,261.92 288.73,261.89 288.94,261.85 289.14,261.79 289.35,261.72 289.55,261.63 289.76,261.54 289.96,261.44 290.16,261.32 290.37,261.2 290.57,261.07 290.78,260.93 290.98,260.79 291.19,260.63 291.39,260.48 291.59,260.32 291.8,260.15 292,259.98 292.21,259.81 292.41,259.64 292.62,259.47 292.82,259.31 293.03,259.14 293.23,258.97 293.43,258.81 293.64,258.65 293.84,258.49 294.05,258.34 294.25,258.19 294.46,258.04 294.66,257.9 294.87,257.77 295.07,257.64 295.27,257.52 295.48,257.4 295.68,257.29 295.89,257.19 296.09,257.09 296.3,256.99 296.5,256.9 296.7,256.82 296.91,256.73 297.11,256.66 297.32,256.59 297.52,256.52 297.73,256.46 297.93,256.39 298.14,256.34 298.34,256.28 298.54,256.23 298.75,256.18 298.95,256.13 299.16,256.08 299.36,256.03 299.57,255.98 299.77,255.93 299.98,255.89 300.18,255.84 300.38,255.8 300.59,255.75 300.79,255.7 301,255.66 301.2,255.61 301.41,255.57 301.61,255.53 301.81,255.48 302.02,255.44 302.22,255.4 302.43,255.36 302.63,255.33 302.84,255.29 303.04,255.26 303.25,255.24 303.45,255.21 303.65,255.19 303.86,255.18 304.06,255.17 304.27,255.16 304.47,255.15 304.68,255.16 304.88,255.16 305.09,255.17 305.29,255.19 305.49,255.2 305.7,255.22 305.9,255.25 306.11,255.28 306.31,255.31 306.52,255.34 306.72,255.37 306.92,255.41 307.13,255.44 307.33,255.48 307.54,255.52 307.74,255.55 307.95,255.59 308.15,255.62 308.36,255.66 308.56,255.69 308.76,255.72 308.97,255.75 309.17,255.77 309.38,255.8 309.58,255.82 309.79,255.84 309.99,255.86 310.2,255.88 310.4,255.9 310.6,255.91 310.81,255.92 311.01,255.93 311.22,255.94 311.42,255.95 311.63,255.96 311.83,255.97 312.03,255.97 312.24,255.98 312.44,255.98 312.65,255.99 312.85,255.99 313.06,255.99 313.26,255.99 313.47,256 313.67,256 313.87,256 314.08,256 314.28,256 314.49,256.01 314.69,256.01 314.9,256.01 315.1,256.02 315.31,256.02 315.51,256.02 315.71,256.03 315.92,256.04 316.12,256.04 316.33,256.05 316.53,256.06 316.74,256.08 316.94,256.09 317.14,256.11 317.35,256.13 317.55,256.15 317.76,256.18 317.96,256.21 318.17,256.25 318.37,256.28 318.58,256.33 318.78,256.38 318.98,256.43 319.19,256.49 319.39,256.56 319.6,256.64 319.8,256.72 320.01,256.81 320.21,256.9 320.42,257.01 320.62,257.12 320.82,257.24 321.03,257.36 321.23,257.49 321.44,257.63 321.64,257.78 321.85,257.93 322.05,258.08 322.25,258.24 322.46,258.4 322.66,258.56 322.87,258.73 323.07,258.89 323.28,259.04 323.48,259.2 323.69,259.35 323.89,259.49 324.09,259.62 324.3,259.75 324.5,259.86 324.71,259.96 324.91,260.05 325.12,260.12 325.32,260.18 325.53,260.22 325.73,260.24 325.93,260.25 326.14,260.24 326.34,260.22 326.55,260.18 326.75,260.12 326.96,260.05 327.16,259.96 327.36,259.86 327.57,259.75 327.77,259.62 327.98,259.49 328.18,259.35 328.39,259.2 328.59,259.04 328.8,258.89 329,258.73" fill="none" stroke="#e03030" stroke-width="1.0" stroke-linejoin="round" />
<path d="M73.5,213.5H329.0V383.5H73.5Z" fill="none" stroke="#505050" stroke-width="1.3"/>
<path d="M73.5,383.5v-3M73.5,213.5v3M124.6,383.5v-3M124.6,213.5v3M175.7,383.5v-3M175.7,213.5v3M226.8,383.5v-3M226.8,213.5v3M277.9,383.5v-3M277.9,213.5v3M329,383.5v-3M329,213.5v3M73.5,383.5h3M329.0,383.5h-3M73.5,341h3M329.0,341h-3M73.5,298.5h3M329.0,298.5h-3M73.5,256h3M329.0,256h-3M73.5,213.5h3M329.0,213.5h-3" stroke="#505050" stroke-width="1.3"/>
<path d="M409,298.5 409.2,298.5 409.41,298.5 409.61,298.5 409.82,298.5 410.02,298.5 410.23,298.5 410.43,298.5 410.64,298.5 410.84,298.5 411.05,298.5 411.25,298.5 411.46,298.5 411.66,298.5 411.87,298.5 412.07,298.5 412.28,298.5 412.48,298.5 412.69,298.5 412.89,298.5 413.1,298.5 413.3,298.5 413.51,298.5 413.71,298.5 413.92,298.5 414.12,298.5 414.32,298.5 414.53,298.5 414.73,298.5 414.94,298.5 415.14,298.5 415.35,298.5 415.55,298.5 415.76,298.5 415.96,298.5 416.17,298.5 416.37,298.5 416.58,298.5 416.78,298.5 416.99,298.5 417.19,298.5 417.4,298.5 417.6,298.5 417.81,298.5 418.01,341 418.22,347.8 418.42,354.6 418.63,361.4 418.83,368.2 419.04,375 419.24,381.8 419.44,381.68 419.65,381.33 419.85,380.74 420.06,379.92 420.26,378.89 420.47,377.64 420.67,376.19 420.88,374.54 421.08,372.73 421.29,370.74 421.49,368.62 421.7,366.36 421.9,363.98 422.11,361.51 422.31,358.96 422.52,356.35 422.72,353.7 422.93,351.01 423.13,348.32 423.34,345.63 423.54,342.95 423.75,340.31 423.95,337.72 424.16,335.18 424.36,332.71 424.56,330.31 424.77,328 424.97,325.78 425.18,323.65 425.38,321.62 425.59,319.7 425.79,317.88 426,316.17 426.2,314.56 426.41,313.06 426.61,311.66 426.82,310.36 427.02,309.16 427.23,308.05 427.43,307.03 427.64,306.1 427.84,305.26 428.05,304.49 428.25,303.79 428.46,303.16 428.66,302.59 428.87,302.09 429.07,301.63 429.28,301.23 429.48,300.87 429.68,300.55 429.89,300.27 430.09,300.03 430.3,299.81 430.5,299.62 430.71,299.46 430.91,299.32 431.12,299.19 431.32,299.09 431.53,298.99 431.73,298.92 431.94,298.85 432.14,298.79 432.35,298.74 432.55,298.7 432.76,298.67 432.96,298.64 433.17,298.62 433.37,298.59 433.58,298.58 433.78,298.56 433.99,298.55 434.19,298.54 434.4,298.53 434.6,298.53 434.8,298.52 435.01,298.52 435.21,298.51 435.42,298.51 435.62,298.51 435.83,298.51 436.03,298.51 436.24,298.5 436.44,298.5 436.65,298.5 436.85,298.5 437.06,298.5 437.26,298.5 437.47,298.5 437.67,298.5 437.88,298.5 438.08,298.5 438.29,298.5 438.49,298.5 438.7,298.5 438.9,298.5 439.11,298.5 439.31,298.5 439.52,298.5 439.72,298.5 439.92,298.5 440.13,298.5 440.33,298.5 440.54,298.5 440.74,298.5 440.95,298.5 441.15,298.5 441.36,298.5 441.56,298.5 441.77,298.5 441.97,298.5 442.18,298.5 442.38,298.5 442.59,298.5 442.79,298.5 443,298.5 443.2,298.5 443.41,298.5 443.61,298.5 443.82,298.5 444.02,298.5 444.23,298.5 444.43,298.5 444.64,298.5 444.84,298.5 445.04,298.5 445.25,298.5 445.45,298.5 445.66,298.5 445.86,298.5 446.07,298.5 446.27,298.5 446.48,298.5 446.68,298.5 446.89,298.5 447.09,298.5 447.3,298.5 447.5,298.5 447.71,298.5 447.91,298.49 448.12,298.49 448.32,298.49 448.53,298.49 448.73,298.49 448.94,298.49 449.14,298.48 449.35,298.48 449.55,298.48 449.76,298.47 449.96,298.47 450.16,298.46 450.37,298.46 450.57,298.45 450.78,298.44 450.98,298.43 451.19,298.42 451.39,298.41 451.6,298.4 451.8,298.38 452.01,298.37 452.21,298.35 452.42,298.33 452.62,298.31 452.83,298.29 453.03,298.26 453.24,298.23 453.44,298.2 453.65,298.17 453.85,298.13 454.06,298.1 454.26,298.06 454.47,298.02 454.67,297.97 454.88,297.92 455.08,297.87 455.28,297.82 455.49,297.77 455.69,297.72 455.9,297.66 456.1,297.6 456.31,297.55 456.51,297.49 456.72,297.43 456.92,297.37 457.13,297.31 457.33,297.26 457.54,297.2 457.74,297.15 457.95,297.1 458.15,297.05 458.36,297.01 458.56,296.97 458.77,296.93 458.97,296.9 459.18,296.87 459.38,296.84 459.59,296.82 459.79,296.81 460,296.8 460.2,296.8 460.4,296.8 460.61,296.81 460.81,296.82 461.02,296.84 461.22,296.87 461.43,296.9 461.63,296.93 461.84,296.97 462.04,297.01 462.25,297.05 462.45,297.1 462.66,297.15 462.86,297.2 463.07,297.26 463.27,297.31 463.48,297.37 463.68,297.43 463.89,297.49 464.09,297.55 464.3,297.6 464.5,297.66 464.71,297.72 464.91,297.77 465.12,297.82 465.32,297.87 465.52,297.92 465.73,297.97 465.93,298.02 466.14,298.06 466.34,298.1 466.55,298.13 466.75,298.17 466.96,298.2 467.16,298.23 467.37,298.26 467.57,298.29 467.78,298.31 467.98,298.33 468.19,298.35 468.39,298.37 468.6,298.38 468.8,298.4 469.01,298.41 469.21,298.42 469.42,298.43 469.62,298.44 469.83,298.45 470.03,298.46 470.24,298.46 470.44,298.47 470.64,298.47 470.85,298.48 471.05,298.48 471.26,298.48 471.46,298.49 471.67,298.49 471.87,298.49 472.08,298.49 472.28,298.49 472.49,298.49 472.69,298.5 472.9,298.5 473.1,298.5 473.31,298.5 473.51,298.5 473.72,298.5 473.92,298.5 474.13,298.5 474.33,298.5 474.54,298.5 474.74,298.5 474.95,298.5 475.15,298.5 475.36,298.5 475.56,298.5 475.76,298.5 475.97,298.5 476.17,298.5 476.38,298.5 476.58,298.5 476.79,298.5 476.99,298.5 477.2,298.5 477.4,298.5 477.61,298.5 477.81,298.5 478.02,298.5 478.22,298.5 478.43,298.5 478.63,298.5 478.84,298.5 479.04,298.5 479.25,298.5 479.45,298.5 479.66,298.5 479.86,298.5 480.07,298.5 480.27,298.5 480.48,298.5 480.68,298.5 480.88,298.5 481.09,298.5 481.29,298.5 481.5,298.5 481.7,298.5 481.91,298.5 482.11,298.5 482.32,298.5 482.52,298.5 482.73,298.5 482.93,298.5 483.14,298.5 483.34,298.5 483.55,298.5 483.75,298.5 483.96,298.5 484.16,298.5 484.37,298.5 484.57,298.5 484.78,298.5 484.98,298.5 485.19,298.5 485.39,298.5 485.6,298.5 485.8,298.5 486,298.5 486.21,298.5 486.41,298.5 486.62,298.5 486.82,298.5 487.03,298.5 487.23,298.5 487.44,298.5 487.64,298.5 487.85,298.5 488.05,298.5 488.26,298.5 488.46,298.5 488.67,298.5 488.87,298.5 489.08,298.5 489.28,298.5 489.49,298.51 489.69,298.51 489.9,298.51 490.1,298.51 490.31,298.51 490.51,298.51 490.72,298.52 490.92,298.52 491.12,298.52 491.33,298.53 491.53,298.53 491.74,298.54 491.94,298.55 492.15,298.55 492.35,298.56 492.56,298.57 492.76,298.59 492.97,298.6 493.17,298.62 493.38,298.63 493.58,298.65 493.79,298.67 493.99,298.7 494.2,298.72 494.4,298.75 494.61,298.79 494.81,298.82 495.02,298.86 495.22,298.9 495.43,298.95 495.63,299 495.84,299.05 496.04,299.1 496.24,299.16 496.45,299.23 496.65,299.29 496.86,299.36 497.06,299.44 497.27,299.51 497.47,299.59 497.68,299.68 497.88,299.76 498.09,299.84 498.29,299.93 498.5,300.02 498.7,300.11 498.91,300.19 499.11,300.28 499.32,300.36 499.52,300.45 499.73,300.53 499.93,300.6 500.14,300.67 500.34,300.74 500.55,300.8 500.75,300.86 500.96,300.91 501.16,300.95 501.36,300.99 501.57,301.01 501.77,301.03 501.98,301.05 502.18,301.05 502.39,301.05 502.59,301.03 502.8,301.01 503,300.99 503.21,300.95 503.41,300.91 503.62,300.86 503.82,300.8 504.03,300.74 504.23,300.67 504.44,300.6 504.64,300.53 504.85,300.45 505.05,300.36 505.26,300.28 505.46,300.19 505.67,300.11 505.87,300.02 506.08,299.93 506.28,299.84 506.48,299.76 506.69,299.68 506.89,299.59 507.1,299.51 507.3,299.44 507.51,299.36 507.71,299.29 507.92,299.23 508.12,299.16 508.33,299.1 508.53,299.05 508.74,299 508.94,298.95 509.15,298.9 509.35,298.86 509.56,298.82 509.76,298.79 509.97,298.75 510.17,298.72 510.38,298.7 510.58,298.67 510.79,298.65 510.99,298.63 511.2,298.62 511.4,298.6 511.6,298.59 511.81,298.57 512.01,298.56 512.22,298.55 512.42,298.55 512.63,298.54 512.83,298.53 513.04,298.53 513.24,298.52 513.45,298.52 513.65,298.52 513.86,298.51 514.06,298.51 514.27,298.51 514.47,298.51 514.68,298.51 514.88,298.51 515.09,298.5 515.29,298.5 515.5,298.5 515.7,298.5 515.91,298.5 516.11,298.5 516.32,298.5 516.52,298.5 516.72,298.5 516.93,298.5 517.13,298.5 517.34,298.5 517.54,298.5 517.75,298.5 517.95,298.5 518.16,298.51 518.36,298.51 518.57,298.51 518.77,298.51 518.98,298.52 519.18,298.52 519.39,298.53 519.59,298.53 519.8,298.54 520,298.56 520.21,298.57 520.41,298.58 520.62,298.6 520.82,298.63 521.03,298.65 521.23,298.68 521.44,298.72 521.64,298.76 521.84,298.8 522.05,298.85 522.25,298.9 522.46,298.96 522.66,299.03 522.87,299.1 523.07,299.17 523.28,299.25 523.48,299.33 523.69,299.41 523.89,299.49 524.1,299.57 524.3,299.65 524.51,299.72 524.71,299.79 524.92,299.84 525.12,299.89 525.33,299.92 525.53,299.94 525.74,299.93 525.94,299.91 526.15,299.87 526.35,299.8 526.56,299.7 526.76,299.58 526.96,299.43 527.17,299.25 527.37,299.04 527.58,298.79 527.78,298.51 527.99,298.2 528.19,297.86 528.4,297.48 528.6,297.07 528.81,296.62 529.01,296.14 529.22,295.62 529.42,295.07 529.63,294.48 529.83,293.85 530.04,293.18 530.24,292.48 530.45,291.73 530.65,290.94 530.86,290.1 531.06,289.22 531.27,288.3 531.47,287.32 531.68,286.3 531.88,285.22 532.08,284.09 532.29,282.91 532.49,281.67 532.7,280.37 532.9,279.02 533.11,277.62 533.31,276.15 533.52,274.64 533.72,273.06 533.93,271.44 534.13,269.76 534.34,268.04 534.54,266.27 534.75,264.46 534.95,262.61 535.16,260.73 535.36,258.82 535.57,256.88 535.77,254.93 535.98,252.96 536.18,250.99 536.39,249.02 536.59,247.05 536.8,245.1 537,243.17 537.2,241.28 537.41,239.41 537.61,237.6 537.82,235.83 538.02,234.13 538.23,232.5 538.43,230.94 538.64,229.46 538.84,228.07 539.05,226.78 539.25,225.59 539.46,224.51 539.66,223.55 539.87,222.7 540.07,221.97 540.28,221.37 540.48,220.91 540.69,220.57 540.89,220.37 541.1,220.3 541.3,220.37 541.51,220.57 541.71,220.91 541.92,221.37 542.12,221.97 542.32,222.7 542.53,223.55 542.73,224.51 542.94,225.59 543.14,226.78 543.35,228.07 543.55,229.46 543.76,230.94 543.96,232.5 544.17,234.13 544.37,235.83 544.58,237.6 544.78,239.41 544.99,241.28 545.19,243.17 545.4,245.1 545.6,247.05 545.81,249.02 546.01,250.99 546.22,252.96 546.42,254.92 546.63,256.88 546.83,258.81 547.04,260.72 547.24,262.6 547.44,264.45 547.65,266.25 547.85,268.02 548.06,269.73 548.26,271.4 548.47,273.01 548.67,274.57 548.88,276.08 549.08,277.52 549.29,278.91 549.49,280.23 549.7,281.5 549.9,282.7 550.11,283.85 550.31,284.93 550.52,285.96 550.72,286.93 550.93,287.84 551.13,288.7 551.34,289.51 551.54,290.26 551.75,290.96 551.95,291.62 552.16,292.22 552.36,292.79 552.56,293.31 552.77,293.79 552.97,294.24 553.18,294.65 553.38,295.03 553.59,295.37 553.79,295.69 554,295.98 554.2,296.24 554.41,296.48 554.61,296.69 554.82,296.89 555.02,297.07 555.23,297.23 555.43,297.37 555.64,297.5 555.84,297.62 556.05,297.72 556.25,297.81 556.46,297.9 556.66,297.97 556.87,298.04 557.07,298.1 557.28,298.15 557.48,298.19 557.68,298.23 557.89,298.27 558.09,298.3 558.3,298.33 558.5,298.35 558.71,298.38 558.91,298.39 559.12,298.41 559.32,298.43 559.53,298.44 559.73,298.45 559.94,298.47 560.14,298.48 560.35,298.49 560.55,298.5 560.76,298.51 560.96,298.52 561.17,298.53 561.37,298.55 561.58,298.56 561.78,298.57 561.99,298.59 562.19,298.6 562.4,298.62 562.6,298.64 562.8,298.66 563.01,298.68 563.21,298.7 563.42,298.72 563.62,298.75 563.83,298.77 564.03,298.8 564.24,298.83 564.44,298.86 564.65,298.89 564.85,298.92 565.06,298.95 565.26,298.97 565.47,299 565.67,299.03 565.88,299.06 566.08,299.08 566.29,299.1 566.49,299.12 566.7,299.14 566.9,299.15 567.11,299.16 567.31,299.17 567.52,299.18 567.72,299.18 567.92,299.18 568.13,299.17 568.33,299.16 568.54,299.15 568.74,299.14 568.95,299.12 569.15,299.1 569.36,299.08 569.56,299.06 569.77,299.03 569.97,299 570.18,298.97 570.38,298.95 570.59,298.92 570.79,298.89 571,298.86 571.2,298.83 571.41,298.8 571.61,298.78 571.82,298.75 572.02,298.73 572.23,298.7 572.43,298.68 572.64,298.66 572.84,298.64 573.04,298.63 573.25,298.61 573.45,298.6 573.66,298.58 573.86,298.57 574.07,298.56 574.27,298.55 574.48,298.54 574.68,298.54 574.89,298.53 575.09,298.53 575.3,298.52 575.5,298.52 575.71,298.52 575.91,298.52 576.12,298.51 576.32,298.51 576.53,298.51 576.73,298.51 576.94,298.52 577.14,298.52 577.35,298.52 577.55,298.53 577.76,298.54 577.96,298.54 578.16,298.55 578.37,298.57 578.57,298.58 578.78,298.6 578.98,298.62 579.19,298.64 579.39,298.66 579.6,298.69 579.8,298.72 580.01,298.75 580.21,298.78 580.42,298.82 580.62,298.86 580.83,298.9 581.03,298.94 581.24,298.97 581.44,299.01 581.65,299.05 581.85,299.08 582.06,299.11 582.26,299.13 582.47,299.15 582.67,299.17 582.88,299.18 583.08,299.18 583.28,299.18 583.49,299.17 583.69,299.15 583.9,299.13 584.1,299.11 584.31,299.08 584.51,299.05 584.72,299.01 584.92,298.97 585.13,298.94 585.33,298.9 585.54,298.86 585.74,298.82 585.95,298.78 586.15,298.75 586.36,298.72 586.56,298.69 586.77,298.66 586.97,298.63 587.18,298.61 587.38,298.59 587.59,298.57 587.79,298.55 588,298.54 588.2,298.53 588.4,298.51 588.61,298.5 588.81,298.49 589.02,298.48 589.22,298.47 589.43,298.46 589.63,298.45 589.84,298.44 590.04,298.43 590.25,298.41 590.45,298.4 590.66,298.38 590.86,298.36 591.07,298.34 591.27,298.32 591.48,298.3 591.68,298.27 591.89,298.25 592.09,298.22 592.3,298.19 592.5,298.16 592.71,298.12 592.91,298.09 593.12,298.05 593.32,298.02 593.52,297.98 593.73,297.94 593.93,297.91 594.14,297.87 594.34,297.84 594.55,297.81 594.75,297.78 594.96,297.75 595.16,297.72 595.37,297.7 595.57,297.68 595.78,297.67 595.98,297.66 596.19,297.65 596.39,297.65 596.6,297.65 596.8,297.66 597.01,297.67 597.21,297.68 597.42,297.7 597.62,297.72 597.83,297.75 598.03,297.78 598.24,297.81 598.44,297.84 598.64,297.87 598.85,297.91 599.05,297.94 599.26,297.98 599.46,298.02 599.67,298.05 599.87,298.09 600.08,298.12 600.28,298.16 600.49,298.19 600.69,298.22 600.9,298.25 601.1,298.28 601.31,298.3 601.51,298.32 601.72,298.35 601.92,298.37 602.13,298.39 602.33,298.4 602.54,298.42 602.74,298.43 602.95,298.44 603.15,298.46 603.36,298.47 603.56,298.48 603.76,298.49 603.97,298.5 604.17,298.51 604.38,298.52 604.58,298.53 604.79,298.54 604.99,298.55 605.2,298.56 605.4,298.58 605.61,298.59 605.81,298.61 606.02,298.63 606.22,298.66 606.43,298.69 606.63,298.72 606.84,298.75 607.04,298.79 607.25,298.84 607.45,298.89 607.66,298.95 607.86,299.02 608.07,299.1 608.27,299.19 608.48,299.29 608.68,299.4 608.88,299.53 609.09,299.67 609.29,299.82 609.5,300 609.7,300.2 609.91,300.42 610.11,300.66 610.32,300.93 610.52,301.22 610.73,301.55 610.93,301.91 611.14,302.3 611.34,302.73 611.55,303.21 611.75,303.72 611.96,304.28 612.16,304.88 612.37,305.54 612.57,306.24 612.78,307 612.98,307.82 613.19,308.7 613.39,309.64 613.6,310.63 613.8,311.7 614,312.83 614.21,314.02 614.41,315.28 614.62,316.61 614.82,318 615.03,319.47 615.23,320.99 615.44,322.58 615.64,324.24 615.85,325.95 616.05,327.72 616.26,329.55 616.46,331.42 616.67,333.34 616.87,335.3 617.08,337.29 617.28,339.31 617.49,341.35 617.69,343.41 617.9,345.47 618.1,347.53 618.31,349.59 618.51,351.62 618.72,353.63 618.92,355.6 619.12,357.53 619.33,359.41 619.53,361.22 619.74,362.95 619.94,364.61 620.15,366.18 620.35,367.65 620.56,369.01 620.76,370.26 620.97,371.39 621.17,372.4 621.38,373.27 621.58,374 621.79,374.59 621.99,375.04 622.2,375.34 622.4,375.49 622.61,375.49 622.81,375.34 623.02,375.04 623.22,374.59 623.43,374 623.63,373.27 623.84,372.4 624.04,371.39 624.24,370.26 624.45,369.01 624.65,367.65 624.86,366.18 625.06,364.61 625.27,362.95 625.47,361.22 625.68,359.41 625.88,357.53 626.09,355.6 626.29,353.63 626.5,351.62 626.7,349.59 626.91,347.53 627.11,345.47 627.32,343.41 627.52,341.35 627.73,339.31 627.93,337.29 628.14,335.29 628.34,333.33 628.55,331.42 628.75,329.54 628.96,327.71 629.16,325.94 629.36,324.22 629.57,322.57 629.77,320.97 629.98,319.44 630.18,317.97 630.39,316.56 630.59,315.22 630.8,313.95 631,312.74 631.21,311.59 631.41,310.5 631.62,309.48 631.82,308.51 632.03,307.6 632.23,306.74 632.44,305.93 632.64,305.17 632.85,304.46 633.05,303.79 633.26,303.17 633.46,302.58 633.67,302.03 633.87,301.51 634.08,301.02 634.28,300.57 634.48,300.15 634.69,299.75 634.89,299.38 635.1,299.04 635.3,298.73 635.51,298.44 635.71,298.17 635.92,297.93 636.12,297.71 636.33,297.52 636.53,297.35 636.74,297.21 636.94,297.09 637.15,296.99 637.35,296.91 637.56,296.86 637.76,296.83 637.97,296.81 638.17,296.82 638.38,296.84 638.58,296.87 638.79,296.92 638.99,296.98 639.2,297.05 639.4,297.13 639.6,297.21 639.81,297.3 640.01,297.39 640.22,297.48 640.42,297.57 640.63,297.65 640.83,297.74 641.04,297.82 641.24,297.89 641.45,297.97 641.65,298.03 641.86,298.09 642.06,298.15 642.27,298.2 642.47,298.24 642.68,298.28 642.88,298.32 643.09,298.35 643.29,298.37" fill="none" stroke="#3030e0" stroke-width="1.0" stroke-linejoin="round" />
<path d="M409,298.5 409.2,298.5 409.41,298.5 409.61,298.5 409.82,298.5 410.02,298.5 410.23,298.5 410.43,298.5 410.64,298.5 410.84,298.5 411.05,298.5 411.25,298.5 411.46,298.5 411.66,298.5 411.87,298.5 412.07,298.5 412.28,298.5 412.48,298.5 412.69,298.5 412.89,298.5 413.1,298.5 413.3,298.5 413.51,298.5 413.71,298.5 413.92,298.5 414.12,298.5 414.32,298.5 414.53,298.5 414.73,298.5 414.94,298.5 415.14,298.5 415.35,298.5 415.55,298.5 415.76,298.5 415.96,298.5 416.17,298.5 416.37,298.5 416.58,298.5 416.78,298.5 416.99,298.5 417.19,298.5 417.4,298.5 417.6,298.5 417.81,298.5 418.01,298.5 418.22,298.5 418.42,298.5 418.63,298.5 418.83,298.5 419.04,298.5 419.24,298.5 419.44,298.5 419.65,298.5 419.85,298.5 420.06,298.5 420.26,298.5 420.47,298.5 420.67,298.5 420.88,298.5 421.08,298.5 421.29,298.5 421.49,298.5 421.7,298.5 421.9,298.5 422.11,298.5 422.31,298.5 422.52,298.5 422.72,298.5 422.93,298.5 423.13,298.5 423.34,298.5 423.54,298.5 423.75,298.5 423.95,298.5 424.16,298.5 424.36,298.5 424.56,298.5 424.77,298.5 424.97,298.5 425.18,298.5 425.38,298.5 425.59,298.5 425.79,298.5 426,298.5 426.2,298.5 426.41,298.5 426.61,298.5 426.82,298.5 427.02,298.5 427.23,298.5 427.43,298.5 427.64,298.5 427.84,298.5 428.05,298.5 428.25,298.5 428.46,298.5 428.66,298.5 428.87,298.5 429.07,298.5 429.28,298.5 429.48,298.5 429.68,298.5 429.89,298.5 430.09,298.5 430.3,298.5 430.5,298.5 430.71,298.5 430.91,298.5 431.12,298.5 431.32,298.5 431.53,298.5 431.73,298.5 431.94,298.5 432.14,298.5 432.35,298.5 432.55,298.5 432.76,298.5 432.96,298.5 433.17,298.5 433.37,298.5 433.58,298.5 433.78,298.5 433.99,298.5 434.19,298.5 434.4,298.5 434.6,298.5 434.8,298.5 435.01,298.5 435.21,298.5 435.42,298.5 435.62,298.5 435.83,298.5 436.03,298.5 436.24,298.5 436.44,298.5 436.65,298.5 436.85,298.5 437.06,298.5 437.26,298.5 437.47,298.5 437.67,298.5 437.88,298.5 438.08,298.5 438.29,298.5 438.49,298.5 438.7,298.5 438.9,298.5 439.11,298.5 439.31,298.5 439.52,298.5 439.72,298.5 439.92,298.5 440.13,298.5 440.33,298.5 440.54,298.5 440.74,298.5 440.95,298.5 441.15,298.5 441.36,298.5 441.56,298.5 441.77,298.5 441.97,298.5 442.18,298.5 442.38,298.5 442.59,298.5 442.79,298.5 443,298.5 443.2,298.5 443.41,298.5 443.61,298.5 443.82,298.5 444.02,298.5 444.23,298.5 444.43,298.5 444.64,298.5 444.84,298.5 445.04,298.5 445.25,298.5 445.45,298.5 445.66,298.5 445.86,298.5 446.07,298.5 446.27,298.5 446.48,298.5 446.68,298.5 446.89,298.5 447.09,298.5 447.3,298.5 447.5,298.5 447.71,298.5 447.91,298.5 448.12,298.5 448.32,298.5 448.53,298.5 448.73,298.5 448.94,298.5 449.14,298.5 449.35,298.5 449.55,298.5 449.76,298.5 449.96,298.5 450.16,298.5 450.37,298.5 450.57,298.5 450.78,298.5 450.98,298.5 451.19,298.5 451.39,298.5 451.6,298.5 451.8,298.5 452.01,298.5 452.21,298.5 452.42,298.5 452.62,298.5 452.83,298.5 453.03,298.5 453.24,298.5 453.44,298.5 453.65,298.5 453.85,298.5 454.06,298.5 454.26,298.5 454.47,298.5 454.67,298.5 454.88,298.5 455.08,298.5 455.28,298.5 455.49,298.5 455.69,298.5 455.9,298.5 456.1,298.5 456.31,298.5 456.51,298.5 456.72,298.5 456.92,298.5 457.13,298.5 457.33,298.5 457.54,298.5 457.74,298.5 457.95,298.5 458.15,298.5 458.36,298.5 458.56,298.5 458.77,298.5 458.97,298.5 459.18,298.5 459.38,298.5 459.59,298.5 459.79,298.5 460,298.5 460.2,298.5 460.4,298.5 460.61,298.5 460.81,298.5 461.02,298.5 461.22,298.5 461.43,298.5 461.63,298.5 461.84,298.5 462.04,298.5 462.25,298.5 462.45,298.5 462.66,298.5 462.86,298.5 463.07,298.5 463.27,298.5 463.48,298.5 463.68,298.5 463.89,298.5 464.09,298.5 464.3,298.5 464.5,298.5 464.71,298.5 464.91,298.5 465.12,298.5 465.32,298.5 465.52,298.5 465.73,298.5 465.93,298.5 466.14,298.5 466.34,298.5 466.55,298.5 466.75,298.5 466.96,298.5 467.16,298.5 467.37,298.5 467.57,298.5 467.78,298.5 467.98,298.5 468.19,298.5 468.39,298.5 468.6,298.5 468.8,298.5 469.01,298.5 469.21,298.5 469.42,298.5 469.62,298.5 469.83,298.5 470.03,298.5 470.24,298.5 470.44,298.5 470.64,298.5 470.85,298.5 471.05,298.5 471.26,298.5 471.46,298.5 471.67,298.5 471.87,298.5 472.08,298.5 472.28,298.5 472.49,298.5 472.69,298.5 472.9,298.5 473.1,298.5 473.31,298.5 473.51,298.5 473.72,298.5 473.92,298.5 474.13,298.5 474.33,298.5 474.54,298.5 474.74,298.5 474.95,298.5 475.15,298.5 475.36,298.5 475.56,298.5 475.76,298.5 475.97,298.5 476.17,298.5 476.38,298.5 476.58,298.5 476.79,298.5 476.99,298.5 477.2,298.5 477.4,298.5 477.61,298.5 477.81,298.5 478.02,298.5 478.22,298.5 478.43,298.5 478.63,298.5 478.84,298.5 479.04,298.5 479.25,298.5 479.45,298.5 479.66,298.5 479.86,298.5 480.07,298.5 480.27,298.5 480.48,298.5 480.68,298.5 480.88,298.5 481.09,298.5 481.29,298.5 481.5,298.5 481.7,298.5 481.91,298.5 482.11,298.5 482.32,298.5 482.52,298.5 482.73,298.5 482.93,298.5 483.14,298.5 483.34,298.5 483.55,298.5 483.75,298.5 483.96,298.5 484.16,298.5 484.37,298.5 484.57,298.5 484.78,298.5 484.98,298.5 485.19,298.5 485.39,298.5 485.6,298.5 485.8,298.5 486,298.5 486.21,298.5 486.41,298.5 486.62,298.5 486.82,298.5 487.03,298.5 487.23,298.5 487.44,298.5 487.64,298.5 487.85,298.5 488.05,298.5 488.26,298.5 488.46,298.5 488.67,298.5 488.87,298.5 489.08,298.5 489.28,298.5 489.49,298.5 489.69,298.5 489.9,298.5 490.1,298.5 490.31,298.5 490.51,298.5 490.72,298.49 490.92,298.49 491.12,298.49 491.33,298.49 491.53,298.49 491.74,298.49 491.94,298.48 492.15,298.48 492.35,298.48 492.56,298.48 492.76,298.47 492.97,298.47 493.17,298.46 493.38,298.46 493.58,298.45 493.79,298.44 493.99,298.43 494.2,298.43 494.4,298.42 494.61,298.4 494.81,298.39 495.02,298.38 495.22,298.37 495.43,298.35 495.63,298.33 495.84,298.32 496.04,298.3 496.24,298.28 496.45,298.26 496.65,298.24 496.86,298.21 497.06,298.19 497.27,298.16 497.47,298.14 497.68,298.11 497.88,298.08 498.09,298.05 498.29,298.02 498.5,297.99 498.7,297.96 498.91,297.94 499.11,297.91 499.32,297.88 499.52,297.85 499.73,297.82 499.93,297.8 500.14,297.78 500.34,297.75 500.55,297.73 500.75,297.71 500.96,297.7 501.16,297.68 501.36,297.67 501.57,297.66 501.77,297.66 501.98,297.65 502.18,297.65 502.39,297.65 502.59,297.66 502.8,297.66 503,297.67 503.21,297.68 503.41,297.7 503.62,297.71 503.82,297.73 504.03,297.75 504.23,297.78 504.44,297.8 504.64,297.82 504.85,297.85 505.05,297.88 505.26,297.91 505.46,297.94 505.67,297.96 505.87,297.99 506.08,298.02 506.28,298.05 506.48,298.08 506.69,298.11 506.89,298.14 507.1,298.16 507.3,298.19 507.51,298.21 507.71,298.24 507.92,298.26 508.12,298.28 508.33,298.3 508.53,298.32 508.74,298.33 508.94,298.35 509.15,298.37 509.35,298.38 509.56,298.39 509.76,298.4 509.97,298.42 510.17,298.43 510.38,298.43 510.58,298.44 510.79,298.45 510.99,298.46 511.2,298.46 511.4,298.47 511.6,298.47 511.81,298.48 512.01,298.48 512.22,298.48 512.42,298.48 512.63,298.49 512.83,298.49 513.04,298.49 513.24,298.49 513.45,298.49 513.65,298.49 513.86,298.5 514.06,298.5 514.27,298.5 514.47,298.5 514.68,298.5 514.88,298.5 515.09,298.5 515.29,298.5 515.5,298.5 515.7,298.5 515.91,298.5 516.11,298.5 516.32,298.5 516.52,298.5 516.72,298.5 516.93,298.5 517.13,298.5 517.34,298.5 517.54,298.5 517.75,298.5 517.95,298.5 518.16,298.5 518.36,298.5 518.57,298.5 518.77,298.5 518.98,298.5 519.18,298.5 519.39,298.5 519.59,298.5 519.8,298.5 520,298.5 520.21,298.5 520.41,298.5 520.62,298.5 520.82,298.5 521.03,298.5 521.23,298.5 521.44,298.5 521.64,298.5 521.84,298.5 522.05,298.5 522.25,298.5 522.46,298.5 522.66,298.5 522.87,298.5 523.07,298.5 523.28,298.5 523.48,298.5 523.69,298.5 523.89,298.5 524.1,298.5 524.3,298.5 524.51,298.5 524.71,298.5 524.92,298.5 525.12,298.5 525.33,298.5 525.53,298.5 525.74,298.5 525.94,298.5 526.15,298.5 526.35,298.5 526.56,298.5 526.76,298.5 526.96,298.5 527.17,298.5 527.37,298.5 527.58,298.5 527.78,298.5 527.99,298.5 528.19,298.5 528.4,298.5 528.6,298.5 528.81,298.5 529.01,298.5 529.22,298.5 529.42,298.5 529.63,298.5 529.83,298.5 530.04,298.5 530.24,298.5 530.45,298.5 530.65,298.5 530.86,298.5 531.06,298.5 531.27,298.5 531.47,298.5 531.68,298.5 531.88,298.5 532.08,298.5 532.29,298.5 532.49,298.5 532.7,298.5 532.9,298.5 533.11,298.5 533.31,298.5 533.52,298.5 533.72,298.5 533.93,298.5 534.13,298.5 534.34,298.5 534.54,298.5 534.75,298.5 534.95,298.5 535.16,298.5 535.36,298.5 535.57,298.5 535.77,298.5 535.98,298.5 536.18,298.5 536.39,298.5 536.59,298.5 536.8,298.5 537,298.5 537.2,298.5 537.41,298.5 537.61,298.5 537.82,298.5 538.02,298.5 538.23,298.5 538.43,298.5 538.64,298.5 538.84,298.5 539.05,298.5 539.25,298.5 539.46,298.5 539.66,298.5 539.87,298.5 540.07,298.5 540.28,298.5 540.48,298.5 540.69,298.5 540.89,298.5 541.1,298.5 541.3,298.5 541.51,298.5 541.71,298.5 541.92,298.5 542.12,298.5 542.32,298.5 542.53,298.5 542.73,298.5 542.94,298.5 543.14,298.5 543.35,298.5 543.55,298.5 543.76,298.5 543.96,298.5 544.17,298.5 544.37,298.5 544.58,298.5 544.78,298.5 544.99,298.5 545.19,298.5 545.4,298.5 545.6,298.5 545.81,298.5 546.01,298.5 546.22,298.5 546.42,298.5 546.63,298.5 546.83,298.5 547.04,298.5 547.24,298.5 547.44,298.5 547.65,298.5 547.85,298.5 548.06,298.5 548.26,298.5 548.47,298.5 548.67,298.5 548.88,298.5 549.08,298.5 549.29,298.5 549.49,298.5 549.7,298.5 549.9,298.5 550.11,298.5 550.31,298.5 550.52,298.5 550.72,298.5 550.93,298.5 551.13,298.5 551.34,298.5 551.54,298.5 551.75,298.5 551.95,298.5 552.16,298.5 552.36,298.5 552.56,298.5 552.77,298.5 552.97,298.5 553.18,298.5 553.38,298.5 553.59,298.5 553.79,298.5 554,298.5 554.2,298.5 554.41,298.5 554.61,298.5 554.82,298.5 555.02,298.5 555.23,298.5 555.43,298.5 555.64,298.5 555.84,298.5 556.05,298.5 556.25,298.5 556.46,298.5 556.66,298.5 556.87,298.5 557.07,298.5 557.28,298.5 557.48,298.5 557.68,298.5 557.89,298.5 558.09,298.5 558.3,298.5 558.5,298.5 558.71,298.5 558.91,298.5 559.12,298.5 559.32,298.5 559.53,298.5 559.73,298.5 559.94,298.5 560.14,298.5 560.35,298.5 560.55,298.5 560.76,298.5 560.96,298.5 561.17,298.5 561.37,298.5 561.58,298.5 561.78,298.5 561.99,298.5 562.19,298.5 562.4,298.5 562.6,298.5 562.8,298.5 563.01,298.5 563.21,298.5 563.42,298.5 563.62,298.5 563.83,298.5 564.03,298.5 564.24,298.5 564.44,298.5 564.65,298.5 564.85,298.5 565.06,298.5 565.26,298.5 565.47,298.5 565.67,298.5 565.88,298.5 566.08,298.5 566.29,298.5 566.49,298.5 566.7,298.5 566.9,298.5 567.11,298.5 567.31,298.5 567.52,298.5 567.72,298.5 567.92,298.5 568.13,298.5 568.33,298.5 568.54,298.5 568.74,298.5 568.95,298.5 569.15,298.5 569.36,298.5 569.56,298.5 569.77,298.5 569.97,298.5 570.18,298.5 570.38,298.5 570.59,298.5 570.79,298.5 571,298.5 571.2,298.5 571.41,298.5 571.61,298.5 571.82,298.5 572.02,298.5 572.23,298.5 572.43,298.5 572.64,298.5 572.84,298.5 573.04,298.5 573.25,298.5 573.45,298.5 573.66,298.5 573.86,298.5 574.07,298.5 574.27,298.5 574.48,298.5 574.68,298.5 574.89,298.5 575.09,298.5 575.3,298.5 575.5,298.5 575.71,298.5 575.91,298.5 576.12,298.5 576.32,298.5 576.53,298.5 576.73,298.5 576.94,298.5 577.14,298.5 577.35,298.5 577.55,298.5 577.76,298.5 577.96,298.5 578.16,298.5 578.37,298.5 578.57,298.5 578.78,298.5 578.98,298.5 579.19,298.5 579.39,298.5 579.6,298.5 579.8,298.5 580.01,298.5 580.21,298.5 580.42,298.5 580.62,298.5 580.83,298.5 581.03,298.5 581.24,298.5 581.44,298.5 581.65,298.5 581.85,298.5 582.06,298.5 582.26,298.5 582.47,298.5 582.67,298.5 582.88,298.5 583.08,298.5 583.28,298.5 583.49,298.5 583.69,298.5 583.9,298.5 584.1,298.5 584.31,298.5 584.51,298.5 584.72,298.5 584.92,298.5 585.13,298.5 585.33,298.5 585.54,298.5 585.74,298.5 585.95,298.5 586.15,298.5 586.36,298.5 586.56,298.5 586.77,298.5 586.97,298.5 587.18,298.5 587.38,298.5 587.59,298.49 587.79,298.49 588,298.49 588.2,298.49 588.4,298.49 588.61,298.49 588.81,298.48 589.02,298.48 589.22,298.48 589.43,298.47 589.63,298.47 589.84,298.46 590.04,298.45 590.25,298.45 590.45,298.44 590.66,298.43 590.86,298.42 591.07,298.41 591.27,298.39 591.48,298.38 591.68,298.36 591.89,298.35 592.09,298.33 592.3,298.31 592.5,298.29 592.71,298.27 592.91,298.25 593.12,298.23 593.32,298.21 593.52,298.19 593.73,298.17 593.93,298.14 594.14,298.12 594.34,298.1 594.55,298.08 594.75,298.07 594.96,298.05 595.16,298.03 595.37,298.02 595.57,298.01 595.78,298 595.98,298 596.19,297.99 596.39,297.99 596.6,297.99 596.8,298 597.01,298 597.21,298.01 597.42,298.02 597.62,298.03 597.83,298.05 598.03,298.07 598.24,298.08 598.44,298.1 598.64,298.12 598.85,298.14 599.05,298.17 599.26,298.19 599.46,298.21 599.67,298.23 599.87,298.25 600.08,298.27 600.28,298.29 600.49,298.31 600.69,298.33 600.9,298.35 601.1,298.36 601.31,298.38 601.51,298.39 601.72,298.41 601.92,298.42 602.13,298.43 602.33,298.44 602.54,298.45 602.74,298.45 602.95,298.46 603.15,298.47 603.36,298.47 603.56,298.48 603.76,298.48 603.97,298.48 604.17,298.49 604.38,298.49 604.58,298.49 604.79,298.49 604.99,298.49 605.2,298.5 605.4,298.5 605.61,298.5 605.81,298.5 606.02,298.5 606.22,298.5 606.43,298.5 606.63,298.5 606.84,298.5 607.04,298.5 607.25,298.5 607.45,298.5 607.66,298.5 607.86,298.5 608.07,298.5 608.27,298.5 608.48,298.5 608.68,298.5 608.88,298.5 609.09,298.5 609.29,298.5 609.5,298.5 609.7,298.5 609.91,298.5 610.11,298.5 610.32,298.5 610.52,298.51 610.73,298.51 610.93,298.51 611.14,298.51 611.34,298.51 611.55,298.51 611.75,298.51 611.96,298.51 612.16,298.52 612.37,298.52 612.57,298.52 612.78,298.52 612.98,298.53 613.19,298.53 613.39,298.53 613.6,298.54 613.8,298.54 614,298.55 614.21,298.55 614.41,298.56 614.62,298.56 614.82,298.57 615.03,298.58 615.23,298.59 615.44,298.6 615.64,298.61 615.85,298.61 616.05,298.63 616.26,298.64 616.46,298.65 616.67,298.66 616.87,298.67 617.08,298.69 617.28,298.7 617.49,298.72 617.69,298.73 617.9,298.75 618.1,298.77 618.31,298.78 618.51,298.8 618.72,298.82 618.92,298.84 619.12,298.86 619.33,298.88 619.53,298.9 619.74,298.92 619.94,298.94 620.15,298.96 620.35,298.97 620.56,298.99 620.76,299.01 620.97,299.03 621.17,299.05 621.38,299.06 621.58,299.08 621.79,299.09 621.99,299.11 622.2,299.12 622.4,299.13 622.61,299.14 622.81,299.15 623.02,299.16 623.22,299.17 623.43,299.17 623.63,299.18 623.84,299.18 624.04,299.18 624.24,299.18 624.45,299.18 624.65,299.17 624.86,299.17 625.06,299.16 625.27,299.15 625.47,299.14 625.68,299.13 625.88,299.12 626.09,299.11 626.29,299.09 626.5,299.08 626.7,299.06 626.91,299.05 627.11,299.03 627.32,299.01 627.52,298.99 627.73,298.97 627.93,298.96 628.14,298.94 628.34,298.92 628.55,298.9 628.75,298.88 628.96,298.86 629.16,298.84 629.36,298.82 629.57,298.8 629.77,298.78 629.98,298.77 630.18,298.75 630.39,298.73 630.59,298.72 630.8,298.7 631,298.69 631.21,298.67 631.41,298.66 631.62,298.65 631.82,298.64 632.03,298.63 632.23,298.61 632.44,298.61 632.64,298.6 632.85,298.59 633.05,298.58 633.26,298.57 633.46,298.56 633.67,298.56 633.87,298.55 634.08,298.55 634.28,298.54 634.48,298.54 634.69,298.53 634.89,298.53 635.1,298.53 635.3,298.52 635.51,298.52 635.71,298.52 635.92,298.52 636.12,298.51 636.33,298.51 636.53,298.51 636.74,298.51 636.94,298.51 637.15,298.51 637.35,298.51 637.56,298.51 637.76,298.5 637.97,298.5 638.17,298.5 638.38,298.5 638.58,298.5 638.79,298.5 638.99,298.5 639.2,298.5 639.4,298.5 639.6,298.5 639.81,298.5 640.01,298.5 640.22,298.5 640.42,298.5 640.63,298.5 640.83,298.5 641.04,298.5 641.24,298.5 641.45,298.5 641.65,298.5 641.86,298.5 642.06,298.5 642.27,298.5 642.47,298.5 642.68,298.5 642.88,298.5 643.09,298.5 643.29,298.5" fill="none" stroke="#e03030" stroke-width="1.0" stroke-linejoin="round" />
<path d="M409.0,213.5H665.0V383.5H409.0Z" fill="none" stroke="#505050" stroke-width="1.3"/>
<path d="M409,383.5v-3M409,213.5v3M460.2,383.5v-3M460.2,213.5v3M511.4,383.5v-3M511.4,213.5v3M562.6,383.5v-3M562.6,213.5v3M613.8,383.5v-3M613.8,213.5v3M665,383.5v-3M665,213.5v3M409.0,383.5h3M665.0,383.5h-3M409.0,298.5h3M665.0,298.5h-3M409.0,213.5h3M665.0,213.5h-3" stroke="#505050" stroke-width="1.3"/>
<g fill="none" stroke-width="2.0" stroke-linejoin="round" transform="scale(0.5)">
<path stroke="#0000ff" d="M163,990l2,0 1,0 1,0m0,0l3,0 2,0 3,0 2,0 2,0 3,0 2,0 3,0 2,0 2,0 3,0 2,0 3,0 2,0 3,0 2,0 2,0m0,0l3,0 2,0 3,0 2,0 2,0 3,0 2,0 3,0 2,0 2,0 3,0 2,0 3,0 2,0 2,0 3,0 2,0 3,0 2,0 2,0 3,0 2,0 3,0 2,0 2,0 3,0 2,0 3,0 2,0 2,0 3,0 2,0 3,0 2,0m0,0l3,0 2,0 2,0 3,0 2,0 3,0 2,0 3,0 2,0 2,0 3,0 2,0 3,0 2,0 3,0 2,0 3,0 2,0 2,0 3,0 2,0 3,0 2,0 3,0 2,0 3,0 2,0 2,0 3,0 2,0 3,0 2,0 3,0 2,0 2,0 3,0 2,0 3,0 2,0 3,0 2,0 3,0 2,0 2,0 3,0 2,0 3,0 2,0 3,0 2,0 3,0 2,0 2,0 3,0 2,0 3,0 2,0 3,0 2,0 3,0 2,0 2,0 3,0 2,0 3,0 2,0 3,0m0,0l2,0 2,0 3,0 2,0 3,0 2,0 2,0 3,0 2,0 3,0 2,0 2,0 3,0 2,0 3,0 2,0 2,0m0,0l3,0 2,0 3,0 2,0 3,0 2,0 3,0 2,0 2,0 3,0 2,0 3,0 2,0 3,0 2,0 3,0 2,0 2,0 3,0 2,0 3,0 2,0 3,0 2,0 2,0 3,0 2,0 3,0 2,0 3,0 2,0 3,0 2,0 2,0 3,0 2,0 3,0 2,0 3,0 2,0 3,0 2,0 2,0 3,0 2,0 3,0 2,0 3,0 2,0 3,0 2,0 2,0 3,0 2,0 3,0 2,0 3,0 2,0 2,0 3,0 2,0 3,0 2,0 3,0 2,0 3,0 2,0"/>
<path stroke="#008000" d="M163,990l2,2 1,0 1,0m0,0l3-1 2-2 3,0 2,1 2,1 3,1 2-1 3-1 2-1 2,1 3,2 2,0 3-1 2-2 3,0 2,1 2,2m0-3l3,2 2,1 3-1 2-1 2-1 3,1 2,1 3,1 2-1 2-1 3-1 2,1 3,1 2,1 2-1 3-1 2-1 3,1 2,1 2,1 3-1 2-2 3,0 2,1 2,2 3,0 2-1 3-2 2,0 2,1 3,2 2,0 3-1 2-2m0,2l3-2 2,0 2,1 3,2 2,0 3-1 2-2 3,0 2,2 2,1 3,0 2-2 3-1 2,0 3,2 2,1 3,0 2-2 2-1 3,1 2,1 3,1 2-1 3-1 2-1 3,1 2,1 2,1 3-1 2-2 3,0 2,1 3,2 2,0 2-1 3-2 2,0 3,1 2,2 3,0 2-2 3-1 2,1 2,1 3,0 2,0 3-1 2,0 3,0 2,1 3,0 2,0 2-1 3,0 2,0 3,1 2,1 3-1 2-1 3-1 2,1 2,1 3,1 2-1 3-2 2,0 3,1m0-1l2,1 2,1 3,1 2-1 3-1 2-1 2,1 3,1 2,1 3-1 2-1 2-1 3,1 2,1 3,1 2-1 2-2m0,0l3,0 2,1 3,2 2,0 3-1 2-2 3,0 2,2 2,1 3,0 2-2 3-1 2,0 3,2 2,1 3-1 2-1 2-1 3,1 2,1 3,1 2-1 3-1 2-1 2,1 3,1 2,1 3-1 2-1 3,0 2-1 3,3 2,0 2-1 3-1 2,0 3,0 2,2 3,0 2-2 3-1 2,0 2,2 3,1 2,0 3-2 2-1 3,0 2,2 3,1 2-1 2-1 3-1 2,1 3,1 2,1 3-1 2-2 2,0 3,1 2,2 3,0 2-1 3-2 2,0 3,1 2,2"/>
<path stroke="#ff0000" d="M163,990l2,4 1,0 1,0m0,0l3-2 2-4 3,0 2,2 2,2 3,2 2-2 3-3 2-1 2,1 3,3 2,2 3-2 2-3 3-2 2,2 2,3m0-4l3,2 2,3 3,0 2-2 2-3 3,0 2,2 3,3 2,0 2-2 3-3 2,0 3,2 2,3 2,0 3-2 2-3 3,0 2,2 2,3 3,0 2-2 3-3 2,0 2,2 3,3 2,0 3-2 2-3 2,0 3,2 2,3 3,0 2-2m0-2l3-2 2,2 2,4 3,1 2-2 3-4 2-1 3,3 2,3 2,1 3-3 2-3 3,0 2,2 3,3 2,1 3-3 2-3 2,0 3,2 2,3 3,1 2-3 3-3 2,0 3,2 2,3 2,0 3-3 2-2 3,0 2,3 3,2 2,0 2-3 3-2 2,0 3,3 2,2 3,0 2-3 3-2 2,1 2,2 3,1 2,0 3-2 2-1 3,0 2,2 3,1 2-1 2-1 3-1 2,0 3,2 2,2 3-1 2-3 3-1 2,1 2,3 3,1 2-1 3-3 2-1 3,1m0-1l2,0 2,3 3,2 2,0 3-3 2-2 2,0 3,3 2,2 3,0 2-3 2-2 3,0 2,3 3,2 2,0 2-3m0-3l3,2 2,3 3,1 2-1 3-3 2-2 3,2 2,3 2,1 3-1 2-3 3-2 2,2 3,3 2,1 3-1 2-4 2-1 3,2 2,3 3,1 2-2 3-2 2-1 2,2 3,3 2,0 3-2 2-1 3-1 2-1 3,5 2,0 2-2 3-2 2,0 3,1 2,3 3,0 2-2 3-3 2,0 2,2 3,3 2,0 3-3 2-3 3,1 2,3 3,2 2,0 2-3 3-3 2,1 3,3 2,2 3,0 2-3 2-3 3,1 2,3 3,2 2,0 3-3 2-3 3,1 2,4"/>
<path stroke="#00bfbf" d="M163,990l2,5 1,0 1,0m0,0l3-2 2-6 3,0 2,2 2,3 3,3 2-2 3-4 2-2 2,1 3,4 2,3 3-1 2-5 3-3 2,1 2,5m0-6l3,3 2,5 3,1 2-3 2-5 3-1 2,3 3,4 2,2 2-2 3-5 2-2 3,2 2,5 2,2 3-2 2-5 3-2 2,2 2,4 3,3 2-2 3-4 2-3 2,1 3,5 2,3 3-1 2-5 2-3 3,1 2,4 3,4 2-1m0-8l3,2 2,5 2,3 3-3 2-5 3-2 2,2 3,5 2,2 2-2 3-4 2-3 3,2 2,5 3,2 2-2 3-4 2-3 2,2 3,5 2,3 3-3 2-4 3-3 2,2 3,4 2,3 2-2 3-4 2-3 3,2 2,4 3,3 2-2 2-4 3-3 2,2 3,4 2,3 3-2 2-4 3-2 2,1 2,4 3,1 2-1 3-2 2-2 3,0 2,3 3,1 2,0 2-2 3-2 2,1 3,3 2,2 3-1 2-4 3-2 2,1 2,4 3,3 2-1 3-5 2-3 3,2m0-1l2-1 2,3 3,5 2,1 3-3 2-4 2-2 3,3 2,5 3,1 2-3 2-4 3-2 2,2 3,5 2,2 2-2m0-7l3,4 2,4 3,1 2-4 3-4 2-1 3,4 2,4 2,1 3-4 2-5 3,0 2,4 3,4 2,1 3-4 2-5 2,0 3,4 2,4 3,1 2-4 3-3 2-1 2,3 3,4 2,1 3-4 2-2 3-1 2-1 3,7 2,1 2-4 3-3 2,1 3,1 2,4 3,1 2-4 3-3 2-2 2,4 3,4 2,1 3-4 2-4 3-1 2,3 3,5 2,1 2-4 3-4 2-1 3,3 2,5 3,1 2-3 2-5 3-1 2,3 3,5 2,1 3-3 2-5 3-1 2,3"/>
<path stroke="#bf00bf" d="M163,990l2,7 1,0 1,0m0,0l3-3 2-8 3,0 2,2 2,5 3,4 2-2 3-6 2-3 2,1 3,4 2,5 3,0 2-6 3-5 2,0 2,5m0-6l3,3 2,6 3,4 2-2 2-6 3-5 2,2 3,6 2,4 2,0 3-6 2-5 3,0 2,5 2,6 3,0 2-5 3-5 2-2 2,5 3,6 2,1 3-3 2-6 2-3 3,4 2,6 3,3 2-3 2-6 3-4 2,2 3,6 2,5m0-11l3,6 2,5 2-2 3-6 2-5 3,2 2,6 3,5 2-1 2-6 3-5 2,0 3,6 2,5 3,0 2-5 3-6 2,0 2,5 3,6 2,1 3-6 2-5 3-1 2,4 3,6 2,2 2-5 3-6 2-1 3,4 2,6 3,2 2-4 2-6 3-2 2,3 3,6 2,2 3-3 2-5 3-3 2,3 2,4 3,3 2-2 3-4 2-2 3,1 2,3 3,2 2-1 2-2 3-3 2,1 3,3 2,4 3-1 2-4 3-4 2,0 2,5 3,5 2,0 3-6 2-5 3,1m0,2l2-3 2,2 3,6 2,4 3-2 2-6 2-4 3,1 2,6 3,5 2-1 2-6 3-5 2,0 3,5 2,6 2,0m0-9l3,6 2,3 3-2 2-6 3-4 2,2 3,7 2,3 2-2 3-5 2-5 3,2 2,6 3,4 2-1 3-6 2-5 2,1 3,6 2,5 3-1 2-5 3-4 2,1 2,3 3,5 2,1 3-5 2-3 3-1 2,0 3,8 2,1 2-4 3-5 2,1 3,2 2,5 3,1 2-4 3-5 2-2 2,3 3,6 2,2 3-3 2-6 3-3 2,3 3,6 2,3 2-2 3-7 2-3 3,3 2,6 3,3 2-2 2-6 3-4 2,2 3,6 2,4 3-1 2-6 3-5 2,2"/>
<path stroke="#bfbf00" d="M163,990l2,8 1,0 1,0m0,0l3-3 2-10 3,0 2,2 2,6 3,5 2-1 3-7 2-5 2,0 3,5 2,7 3,1 2-6 3-7 2-2 2,4m0-4l3,1 2,7 3,6 2,0 2-6 3-7 2-1 3,5 2,8 2,2 3-4 2-8 3-4 2,4 2,7 3,5 2-2 3-7 2-6 2,1 3,7 2,6 3,0 2-6 2-7 3-1 2,6 3,7 2,2 2-5 3-7 2-4 3,4 2,8m0-2l3,6 2-1 2-7 3-6 2-1 3,7 2,7 3,1 2-6 2-7 3-2 2,5 3,8 2,3 3-5 2-8 3-3 2,4 2,7 3,5 2-3 3-8 2-5 3,2 2,7 3,6 2-1 2-7 3-6 2,0 3,7 2,6 3,0 2-6 2-6 3-1 2,5 3,7 2,1 3-4 2-7 3-2 2,4 2,5 3,3 2-3 3-4 2-3 3,1 2,4 3,2 2,0 2-3 3-4 2,1 3,4 2,5 3,0 2-5 3-6 2-1 2,6 3,6 2,2 3-6 2-7 3-1m0,5l2-5 2,1 3,6 2,7 3,0 2-7 2-6 3-2 2,6 3,7 2,2 2-4 3-8 2-3 3,3 2,8 2,4m0-7l3,6 2,0 3-6 2-7 3-1 2,6 3,7 2,2 2-5 3-8 2-3 3,5 2,8 3,3 2-4 3-7 2-5 2,3 3,8 2,5 3-2 2-7 3-4 2,1 2,5 3,6 2,0 3-7 2-2 3-2 2,1 3,9 2,1 2-5 3-6 2,2 3,2 2,5 3,3 2-4 3-7 2-4 2,3 3,8 2,4 3-3 2-7 3-6 2,2 3,8 2,5 2-1 3-6 2-7 3,0 2,7 3,7 2,0 2-6 3-7 2-1 3,6 2,7 3,2 2-5 3-7 2-4"/>
<path stroke="#404040" d="M163,990l2,10 1,0 1,0m0,0l3-4 2-12 3,0 2,3 2,5 3,7 2,0 3-8 2-6 2-2 3,6 2,8 3,3 2-5 3-9 2-5 2,3m0-1l3-2 2,7 3,8 2,4 2-5 3-9 2-5 3,3 2,9 2,6 3-1 2-8 3-8 2,0 2,7 3,8 2,2 3-5 2-9 2-4 3,4 2,9 3,5 2-2 2-8 3-8 2,1 3,8 2,8 2,1 3-6 2-9 3-3 2,6m0,12l3,0 2-7 2-9 3-2 2,7 3,9 2,4 3-6 2-9 2-5 3,4 2,9 3,6 2-3 3-8 2-7 3,1 2,8 2,8 3,1 2-8 3-8 2-2 3,6 2,9 3,3 2-5 2-9 3-5 2,4 3,9 2,6 3-3 2-8 2-7 3,1 2,8 3,7 2,0 3-6 2-7 3-2 2,5 2,7 3,2 2-4 3-5 2-3 3,2 2,4 3,3 2-1 2-3 3-4 2,0 3,4 2,6 3,1 2-5 3-7 2-2 2,5 3,8 2,4 3-5 2-9 3-4m0,9l2-7 2-2 3,6 2,9 3,3 2-5 2-8 3-5 2,2 3,9 2,7 2-2 3-8 2-7 3-1 2,7 2,8m0-1l3,3 2-4 3-9 2-5 3,3 2,9 3,6 2-2 2-8 3-7 2,0 3,8 2,8 3,1 2-6 3-10 2-3 2,7 3,8 2,4 3-4 2-8 3-4 2,3 2,7 3,6 2-2 3-7 2-3 3-1 2,2 3,10 2,1 2-6 3-7 2,1 3,2 2,6 3,4 2-4 3-8 2-5 2,2 3,9 2,6 3-2 2-7 3-9 2,0 3,9 2,7 2,2 3-6 2-9 3-3 2,5 3,9 2,4 2-4 3-8 2-6 3,3 2,9 3,6 2-1 3-8 2-8"/>
<path stroke="#0000ff" d="M163,990l2,11 1,0 1,0m0,0l3-4 2-13 3-1 2,3 2,5 3,9 2,0 3-8 2-7 2-3 3,4 2,10 3,5 2-3 3-10 2-8 2,1m0,3l3-5 2,5 3,10 2,7 2-2 3-9 2-9 3-1 2,8 2,10 3,3 2-6 3-10 2-6 2,4 3,10 2,7 3-1 2-8 2-9 3-2 2,7 3,10 2,4 2-5 3-10 2-7 3,3 2,10 2,8 3,0 2-8 3-10 2-2m0,21l3-8 2-10 2-3 3,6 2,10 3,7 2-5 3-11 2-7 2,2 3,9 2,9 3,1 2-9 3-9 2-3 3,7 2,10 2,5 3-5 2-10 3-7 2,3 3,9 2,9 3-1 2-9 2-9 3-2 2,7 3,10 2,4 3-5 2-10 2-6 3,4 2,9 3,7 2-2 3-8 2-7 3-1 2,7 2,7 3,1 2-4 3-6 2-3 3,2 2,5 3,3 2,0 2-4 3-5 2,0 3,5 2,7 3,2 2-6 3-8 2-4 2,4 3,10 2,6 3-3 2-10 3-7m0,14l2-10 2-5 3,4 2,10 3,7 2-1 2-10 3-8 2-1 3,7 2,10 2,4 3-6 2-10 3-6 2,3 2,10m0,7l3-1 2-8 3-10 2-1 3,8 2,10 3,3 2-6 2-10 3-6 2,4 3,11 2,6 3-2 2-9 3-9 2,0 2,9 3,9 2,2 3-6 2-9 3-3 2,4 2,8 3,7 2-3 3-8 2-4 3-1 2,3 3,11 2,1 2-7 3-8 2,1 3,3 2,6 3,6 2-4 3-9 2-7 2,0 3,10 2,8 3,1 2-8 3-10 2-3 3,7 2,10 2,5 3-4 2-11 3-7 2,3 3,10 2,8 2,0 3-9 2-9 3-3 2,8 3,10 2,4 3-5 2-10"/>
<path stroke="#008000" d="M163,990l2,13 1,0 1,0m0,0l3-5 2-14 3-1 2,2 2,5 3,11 2,1 3-8 2-9 2-5 3,4 2,10 3,8 2-1 3-10 2-11 2-2m0,9l3-9 2,2 3,10 2,10 2,2 3-7 2-12 3-5 2,5 2,11 3,8 2-1 3-10 2-11 2-2 3,8 2,11 3,6 2-5 2-11 3-8 2,1 3,10 2,10 2,3 3-8 2-12 3-6 2,5 2,12 3,8 2-1 3-10 2-10m0,14l3-12 2-5 2,5 3,12 2,9 3-3 2-11 3-10 2-1 2,9 3,11 2,4 3-7 2-11 3-6 2,3 3,11 2,10 2-1 3-11 2-10 3-2 2,7 3,12 2,6 3-6 2-12 2-7 3,2 2,10 3,10 2,1 3-9 2-11 2-3 3,6 2,11 3,6 2-4 3-10 2-7 3,1 2,8 2,7 3,1 2-5 3-6 2-3 3,1 2,6 3,4 2,0 2-5 3-5 2-2 3,6 2,8 3,3 2-5 3-9 2-6 2,3 3,10 2,9 3-1 2-9 3-10m0,17l2-11 2-8 3,0 2,9 3,11 2,3 2-7 3-12 2-6 3,4 2,11 2,10 3-1 2-10 3-11 2-3 2,7m0,17l3-7 2-11 3-6 2,4 3,12 2,8 3-2 2-9 2-11 3-2 2,9 3,11 2,4 3-5 2-12 3-8 2,3 2,12 3,9 2,0 3-9 2-10 3-1 2,6 2,9 3,6 2-4 3-9 2-3 3-2 2,6 3,10 2,2 2-8 3-9 2,1 3,2 2,7 3,7 2-3 3-10 2-9 2-1 3,9 2,11 3,3 2-7 3-11 2-7 3,5 2,11 2,8 3-1 2-9 3-11 2-2 3,9 2,11 2,4 3-5 2-11 3-8 2,3 3,11 2,9 3,0 2-8"/>
<path stroke="#ff0000" d="M163,990l2,15 1,0 1,0m0,0l3-6 2-15 3-2 2,2 2,6 3,11 2,3 3-7 2-11 2-7 3,3 2,10 3,11 2,1 3-10 2-12 2-6m0,15l3-12 2-3 3,9 2,13 2,7 3-5 2-12 3-10 2,0 2,10 3,12 2,5 3-7 2-13 2-8 3,2 2,11 3,11 2,3 2-9 3-12 2-7 3,5 2,12 2,10 3,0 2-10 3-13 2-4 2,7 3,13 2,8 3-3 2-10m0-8l3-6 2,4 2,13 3,10 2,0 3-12 2-12 3-3 2,8 2,13 3,7 2-4 3-13 2-10 3,1 2,9 3,13 2,4 2-8 3-13 2-7 3,3 2,12 3,11 2,1 3-11 2-12 2-4 3,7 2,12 3,8 2-3 3-12 2-10 2-1 3,9 2,12 3,4 2-6 3-11 2-7 3,3 2,9 2,8 3,0 2-6 3-7 2-3 3,2 2,6 3,4 2,0 2-4 3-7 2-2 3,5 2,9 3,6 2-4 3-11 2-8 2,1 3,10 2,11 3,3 2-9 3-11m0,18l2-10 2-11 3-3 2,7 3,12 2,8 2-4 3-12 2-10 3-1 2,9 2,12 3,6 2-6 3-12 2-10 2,1m0,22l3-12 2-10 3-1 2,11 3,12 2,4 3-7 2-13 2-8 3,4 2,12 3,10 2,1 3-10 2-13 3-5 2,7 2,13 3,8 2-2 3-11 2-10 3,0 2,8 2,11 3,5 2-6 3-9 2-4 3-1 2,7 3,10 2,2 2-8 3-10 2,0 3,2 2,7 3,9 2-2 3-10 2-11 2-4 3,9 2,13 3,6 2-5 3-12 2-11 3,1 2,12 2,11 3,3 2-7 3-13 2-7 3,4 2,13 2,10 3-1 2-10 3-12 2-4 3,8 2,13 3,7 2-4"/>
<path stroke="#00bfbf" d="M163,990l2,16 1,0 1,0m0,0l3-6 2-16 3-3 2,2 2,6 3,12 2,5 3-7 2-12 2-8 3,0 2,10 3,13 2,4 3-7 2-14 2-10m0,20l3-14 2-7 3,6 2,13 2,11 3,1 2-11 3-13 2-7 2,7 3,13 2,11 3-1 2-11 2-13 3-5 2,7 3,13 2,10 2-2 3-11 2-13 3-4 2,7 2,14 3,10 2-2 3-13 2-13 2-4 3,9 2,14 3,8 2-2m0-28l3,5 2,13 2,12 3,1 2-11 3-15 2-5 3,6 2,14 2,11 3-2 2-12 3-13 2-3 3,8 2,14 3,8 2-3 2-14 3-11 2-2 3,10 2,14 3,7 2-6 3-14 2-10 2,0 3,11 2,13 3,5 2-8 3-13 2-9 2,3 3,11 2,12 3,2 2-8 3-12 2-6 3,4 2,10 2,8 3,0 2-7 3-8 2-3 3,2 2,8 3,4 2,0 2-5 3-7 2-3 3,5 2,10 3,7 2-3 3-11 2-10 2-2 3,9 2,13 3,7 2-6 3-13m0,18l2-8 2-13 3-8 2,3 3,12 2,13 2,2 3-10 2-13 3-8 2,5 2,12 3,12 2,1 3-10 2-13 2-7m0,18l3-13 2-5 3,7 2,13 3,10 2-2 3-12 2-13 2-4 3,10 2,13 3,8 2-4 3-12 2-13 3-2 2,12 2,13 3,6 2-6 3-13 2-9 3,3 2,9 2,12 3,4 2-7 3-10 2-4 3-1 2,8 3,12 2,2 2-10 3-11 2,1 3,2 2,6 3,11 2,0 3-11 2-13 2-6 3,7 2,15 3,9 2-3 3-11 2-14 3-3 2,10 2,14 3,7 2-4 3-13 2-12 3-1 2,11 2,14 3,5 2-6 3-13 2-10 3,1 2,12 3,12 2,4"/>
<path stroke="#bf00bf" d="M163,990l2,18 1,0 1,0m0,0l3-7 2-17 3-4 2,1 2,7 3,13 2,7 3-6 2-13 2-10 3-2 2,8 3,15 2,8 3-5 2-14 2-14m0,25l3-15 2-11 3,1 2,12 2,15 3,6 2-7 3-14 2-12 2-1 3,12 2,15 3,7 2-6 2-14 3-13 2-1 3,11 2,15 2,7 3-5 2-13 3-13 2-2 2,10 3,15 2,9 3-4 2-14 2-14 3-3 2,10 3,15 2,10m0-30l3,14 2,14 2,2 3-11 2-16 3-8 2,5 3,15 2,13 2,2 3-12 2-15 3-7 2,5 3,14 2,13 3,1 2-11 2-15 3-8 2,6 3,15 2,13 3,0 2-12 3-15 2-6 2,6 3,14 2,12 3,0 2-12 3-14 2-6 2,6 3,14 2,11 3,0 2-12 3-12 2-5 3,6 2,12 2,8 3-2 2-8 3-8 2-3 3,3 2,8 3,4 2,1 2-5 3-8 2-4 3,4 2,11 3,8 2-1 3-10 2-12 2-5 3,7 2,15 3,10 2-3 3-12m0,15l2-5 2-14 3-11 2-2 3,10 2,15 2,8 3-4 2-15 3-12 2-3 2,10 3,15 2,9 3-4 2-14 2-13m0,7l3-10 2,2 3,14 2,13 3,4 2-9 3-15 2-10 2,3 3,14 2,13 3,3 2-8 3-16 2-10 3,4 2,15 2,12 3,3 2-9 3-14 2-8 3,5 2,11 2,13 3,2 2-9 3-10 2-3 3-1 2,9 3,12 2,2 2-10 3-12 2,0 3,2 2,6 3,12 2,2 3-10 2-14 2-9 3,5 2,15 3,11 2,2 3-11 2-15 3-8 2,6 2,15 3,12 2,0 3-10 2-15 3-8 2,7 2,15 3,11 2,0 3-11 2-14 3-7 2,7 3,14 2,11"/>
<path stroke="#bfbf00" d="M163,990l2,19 1,0 1,0m0,0l3-6 2-18 3-5 2,0 2,7 3,13 2,9 3-4 2-14 2-12 3-4 2,7 3,15 2,11 3-1 2-13 2-16m0,27l3-14 2-15 3-5 2,9 2,16 3,12 2-1 3-13 2-15 2-8 3,6 2,16 3,13 2,2 2-10 3-16 2-10 3,3 2,14 2,15 3,5 2-8 3-16 2-12 2,0 3,13 2,16 3,8 2-6 2-16 3-14 2-2 3,11 2,16m0-7l3,15 2,3 2-11 3-17 2-10 3,3 2,15 3,16 2,4 2-10 3-16 2-11 3,2 2,13 3,16 2,6 3-8 2-17 2-11 3,0 2,13 3,16 2,7 3-7 2-16 3-13 2-1 2,12 3,16 2,8 3-5 2-15 3-14 2-2 2,11 3,15 2,9 3-4 2-13 3-13 2-3 3,8 2,13 2,7 3-2 2-9 3-9 2-3 3,3 2,9 3,5 2,1 2-6 3-8 2-5 3,4 2,10 3,11 2,1 3-10 2-14 2-7 3,4 2,15 3,13 2,1 3-10m0,11l2-1 2-12 3-15 2-7 3,6 2,14 2,14 3,2 2-11 3-16 2-9 2,3 3,14 2,14 3,5 2-8 2-16m0-10l3-3 2,11 3,16 2,9 3-4 2-13 3-16 2-4 2,10 3,16 2,10 3-2 2-13 3-16 2-6 3,9 2,17 2,11 3-1 2-12 3-15 2-5 3,7 2,13 2,12 3,1 2-11 3-10 2-3 3,0 2,9 3,13 2,2 2-10 3-13 2,0 3,1 2,6 3,13 2,4 3-9 2-16 2-11 3,2 2,15 3,14 2,5 3-8 2-16 3-13 2,2 2,14 3,15 2,6 3-6 2-16 3-13 2-1 2,13 3,16 2,7 3-5 2-15 3-14 2-2 3,12 2,15"/>
<path stroke="#404040" d="M163,990l2,21 1,0 1,0m0,0l3-7 2-18 3-7 2,0 2,6 3,14 2,11 3-2 2-14 2-14 3-7 2,5 3,15 2,14 3,3 2-10 2-17m0,27l3-13 2-17 3-10 2,4 2,15 3,16 2,5 3-7 2-17 2-14 3-1 2,12 3,17 2,10 2-3 3-14 2-16 3-7 2,7 2,17 3,13 2,2 3-10 2-17 2-12 3,2 2,15 3,17 2,7 2-7 3-16 2-15 3-3 2,12m0,26l3,3 2-11 2-18 3-11 2,2 3,15 2,18 3,6 2-8 2-17 3-14 2-1 3,12 2,17 3,10 2-4 3-16 2-15 2-5 3,9 2,17 3,13 2,0 3-14 2-17 3-8 2,5 2,16 3,15 2,3 3-11 2-16 3-11 2,2 2,14 3,15 2,6 3-7 2-15 3-12 2,0 3,10 2,13 2,6 3-3 2-10 3-9 2-3 3,4 2,9 3,5 2,1 2-5 3-9 2-6 3,3 2,11 3,11 2,4 3-9 2-14 2-11 3,2 2,13 3,16 2,6 3-7m0,3l2,5 2-9 3-17 2-12 3,0 2,12 2,17 3,9 2-5 3-15 2-15 2-5 3,8 2,17 3,13 2,1 2-13m0-27l3,7 2,16 3,14 2,2 3-11 2-17 3-11 2,3 2,16 3,15 2,6 3-8 2-17 3-14 2-1 3,14 2,17 2,8 3-4 2-15 3-15 2-3 3,10 2,15 2,11 3-1 2-13 3-9 2-3 3,0 2,11 3,14 2,2 2-11 3-14 2-1 3,1 2,6 3,14 2,6 3-8 2-16 2-14 3-2 2,14 3,17 2,8 3-4 2-15 3-17 2-4 2,10 3,18 2,11 3-1 2-13 3-17 2-8 2,7 3,17 2,14 3,2 2-11 3-16 2-11 3,2 2,15"/>
<path stroke="#0000ff" d="M163,990l2,22 1,0 1,0m0,0l3-7 2-18 3-8 2-1 2,6 3,13 2,13 3,1 2-13 2-16 3-10 2,2 3,14 2,17 3,8 2-7 2-17m0,24l3-9 2-17 3-16 2-3 2,12 3,18 2,13 3-1 2-14 2-18 3-10 2,5 3,16 2,17 2,6 3-8 2-17 3-15 2-3 2,11 3,18 2,12 3,0 2-13 2-19 3-10 2,4 3,17 2,17 2,6 3-7 2-17 3-16 2-2m0,43l3-13 2-18 2-12 3,1 2,15 3,19 2,9 3-7 2-18 2-15 3-4 2,10 3,17 2,14 3,0 2-14 3-18 2-10 2,5 3,16 2,18 3,6 2-10 3-18 2-14 3-2 2,13 2,18 3,11 2-3 3-16 2-17 3-7 2,8 2,16 3,15 2,2 3-10 2-17 3-10 2,1 3,13 2,13 2,6 3-5 2-11 3-9 2-2 3,4 2,9 3,6 2,1 2-5 3-10 2-7 3,2 2,11 3,13 2,6 3-7 2-15 2-13 3-3 2,12 3,17 2,10 3-1m0-7l2,10 2-4 3-16 2-16 3-6 2,7 2,17 3,15 2,3 3-11 2-18 2-12 3,0 2,13 3,18 2,10 2-5m0-35l3,15 2,17 3,7 2-6 3-17 2-16 3-4 2,11 2,18 3,13 2-1 3-13 2-19 3-10 2,5 3,18 2,16 2,5 3-9 2-17 3-14 2,1 3,13 2,15 2,11 3-4 2-15 3-8 2-2 3,0 2,12 3,14 2,2 2-11 3-15 2-1 3,1 2,5 3,14 2,8 3-6 2-16 2-17 3-5 2,11 3,19 2,12 3,0 2-13 3-19 2-10 2,5 3,18 2,16 3,5 2-8 3-18 2-15 2-1 3,13 2,18 3,11 2-3 3-15 2-17 3-8 2,8"/>
<path stroke="#008000" d="M163,990l2,24 1,0 1,0m0,0l3-7 2-19 3-10 2-1 2,6 3,12 2,15 3,3 2-11 2-18 3-12 2-1 3,12 2,18 3,12 2-2 2-15m0,18l3-4 2-16 3-18 2-10 2,6 3,18 2,17 3,6 2-7 2-18 3-17 2-5 3,11 2,19 2,14 3,2 2-12 3-18 2-13 2,0 3,14 2,18 3,12 2-3 2-15 3-19 2-11 3,6 2,18 2,18 3,7 2-8 3-17 2-16m0,27l3-19 2-12 2,1 3,15 2,20 3,11 2-6 3-18 2-18 2-6 3,8 2,18 3,16 2,4 3-12 2-18 3-14 2,0 2,13 3,19 2,13 3-4 2-17 3-18 2-8 3,6 2,17 2,18 3,5 2-10 3-18 2-15 3-2 2,12 2,18 3,12 2-1 3-14 2-17 3-8 2,4 3,14 2,13 2,5 3-6 2-12 3-9 2-2 3,4 2,10 3,6 2,2 2-5 3-10 2-8 3,0 2,10 3,15 2,8 3-5 2-14 2-16 3-6 2,8 3,17 2,15 3,4m0-17l2,15 2,3 3-13 2-19 3-12 2,0 2,14 3,19 2,11 3-4 2-16 2-18 3-8 2,5 3,17 2,17 2,6m0-32l3,18 2,13 3-2 2-14 3-19 2-10 3,4 2,18 2,17 3,7 2-8 3-17 2-18 3-5 2,12 3,20 2,13 2,1 3-13 2-18 3-12 2,5 3,14 2,17 2,8 3-5 2-17 3-7 2-2 3,1 2,13 3,14 2,3 2-12 3-16 2-2 3,1 2,5 3,14 2,10 3-4 2-15 2-19 3-9 2,8 3,19 2,16 3,4 2-10 3-18 2-16 2-1 3,14 2,19 3,12 2-2 3-15 2-19 2-10 3,6 2,18 3,17 2,6 3-9 2-17 3-16 2-4"/>
<path stroke="#ff0000" d="M163,990l2,26 1,0 1,0m0,0l3-8 2-19 3-11 2-2 2,5 3,12 2,17 3,5 2-9 2-19 3-14 2-5 3,9 2,19 3,16 2,3 2-12m0,9l3,3 2-13 3-19 2-16 2-1 3,14 2,19 3,14 2,0 2-14 3-19 2-14 3,1 2,16 2,19 3,12 2-3 3-15 2-19 2-11 3,3 2,17 3,19 2,10 2-5 3-16 2-20 3-10 2,6 2,19 3,18 2,8 3-7 2-17m0-12l3-12 2,2 2,16 3,21 2,11 3-4 2-19 3-20 2-8 2,7 3,17 2,19 3,7 2-9 3-19 2-17 3-4 2,10 2,19 3,17 2,4 3-14 2-20 3-15 2,0 3,13 2,20 2,14 3-2 2-16 3-19 2-11 3,3 2,17 2,18 3,9 2-6 3-16 2-17 3-6 2,7 3,16 2,13 2,3 3-8 2-12 3-9 2-2 3,5 2,10 3,6 2,3 2-5 3-11 2-9 3-1 2,10 3,15 2,10 3-1 2-14 2-17 3-10 2,4 3,16 2,18 3,9m0-26l2,19 2,9 3-8 2-19 3-17 2-6 2,8 3,17 2,18 3,6 2-10 2-19 3-16 2-5 3,10 2,19 2,16m0-17l3,16 2,4 3-11 2-19 3-16 2-2 3,13 2,20 2,13 3,0 2-14 3-20 2-14 3,3 2,18 3,19 2,10 2-5 3-16 2-19 3-8 2,8 3,17 2,17 2,6 3-8 2-17 3-7 2-2 3,2 2,14 3,15 2,2 2-11 3-17 2-3 3,0 2,5 3,14 2,12 3-2 2-14 2-20 3-13 2,4 3,18 2,19 3,9 2-6 3-16 2-20 2-9 3,9 2,20 3,17 2,5 3-9 2-19 2-17 3-4 2,12 3,20 2,15 3,1 2-13 3-19 2-15"/>
<path stroke="#00bfbf" d="M163,990l2,27 1,0 1,0m0,0l3-8 2-18 3-13 2-3 2,5 3,10 2,19 3,8 2-7 2-19 3-16 2-8 3,5 2,18 3,19 2,8 2-7m0-1l3,8 2-7 3-18 2-20 2-9 3,7 2,19 3,19 2,8 2-6 3-18 2-20 3-9 2,7 2,19 3,18 2,9 3-6 2-17 2-20 3-9 2,6 3,18 2,19 2,10 3-6 2-18 3-20 2-10 2,6 3,19 2,19 3,9 2-4m0-47l3,4 2,17 2,21 3,12 2-5 3-19 2-21 3-10 2,6 2,18 3,20 2,10 3-6 2-19 3-19 2-9 3,7 2,18 2,20 3,9 2-8 3-21 2-18 3-7 2,8 3,19 2,19 2,7 3-10 2-20 3-17 2-6 3,9 2,19 2,18 3,4 2-10 3-18 2-16 3-3 2,10 3,17 2,12 2,2 3-9 2-13 3-9 2-2 3,5 2,11 3,7 2,3 2-5 3-11 2-10 3-2 2,8 3,16 2,12 3,2 2-12 2-18 3-14 2,0 3,13 2,20 3,14m0-33l2,20 2,15 3-1 2-15 3-21 2-13 2,0 3,14 2,20 3,15 2,0 2-15 3-21 2-14 3,0 2,14 2,20m0,8l3,8 2-7 3-18 2-20 3-8 2,8 3,20 2,18 2,7 3-9 2-18 3-20 2-7 3,10 2,21 3,17 2,5 2-9 3-19 2-18 3-4 2,12 3,18 2,16 2,4 3-11 2-16 3-7 2-1 3,2 2,15 3,15 2,3 2-12 3-18 2-3 3-1 2,4 3,13 2,15 3,1 2-13 2-20 3-17 2-1 3,16 2,21 3,14 2-1 3-14 2-21 2-15 3,2 2,17 3,20 2,12 3-1 2-16 2-20 3-13 2,3 3,17 2,20 3,11 2-3 3-16 2-21"/>
<path stroke="#bf00bf" d="M163,990l2,29 1,0 1,0m0,0l3-8 2-19 3-14 2-4 2,4 3,10 2,20 3,10 2-4 2-18 3-18 2-12 3,2 2,15 3,21 2,14 2-2m0-13l3,14 2-1 3-15 2-21 2-16 3-1 2,14 3,21 2,16 2,3 3-12 2-21 3-18 2-4 2,11 3,21 2,18 3,5 2-9 2-19 3-19 2-8 3,8 2,20 2,19 3,10 2-6 3-19 2-22 2-11 3,6 2,18 3,21 2,13m0-50l3,18 2,22 2,11 3-5 2-20 3-22 2-11 3,5 2,19 2,21 3,12 2-4 3-18 2-21 3-12 2,3 3,17 2,21 2,14 3-2 2-18 3-22 2-13 3,2 2,16 3,22 2,14 2-1 3-17 2-21 3-14 2,0 3,15 2,21 2,14 3,0 2-14 3-20 2-13 3,0 2,12 3,18 2,11 2,0 3-10 2-13 3-9 2-1 3,5 2,11 3,7 2,3 2-4 3-11 2-11 3-4 2,7 3,16 2,15 3,4 2-9 2-18 3-17 2-5 3,9 2,20 3,18m0-37l2,18 2,20 3,7 2-9 3-21 2-18 2-8 3,7 2,18 3,20 2,10 2-5 3-19 2-21 3-11 2,4 2,17m0,32l3-2 2-17 3-21 2-14 3,3 2,17 3,21 2,13 2-2 3-15 2-22 3-15 2,1 3,17 2,21 3,14 2,0 2-14 3-21 2-16 3,1 2,15 3,19 2,15 2,2 3-14 2-15 3-7 2,0 3,2 2,16 3,16 2,2 2-12 3-18 2-4 3-2 2,4 3,12 2,17 3,4 2-12 2-20 3-19 2-6 3,11 2,23 3,18 2,5 3-10 2-20 2-20 3-6 2,10 3,22 2,18 3,6 2-9 2-19 3-20 2-8 3,9 2,21 3,18 2,8 3-7 2-19"/>
<path stroke="#bfbf00" d="M163,990l2,30 1,0 1,0m0,0l3-8 2-19 3-15 2-4 2,2 3,10 2,19 3,14 2-2 2-16 3-20 2-15 3-2 2,12 3,21 2,18 2,5m0-25l3,19 2,6 3-9 2-20 2-22 3-9 2,7 3,19 2,21 2,12 3-3 2-17 3-22 2-15 2,0 3,15 2,22 3,16 2,3 2-11 3-21 2-19 3-7 2,10 2,20 3,21 2,10 3-7 2-19 2-22 3-13 2,4 3,17 2,23m0-14l3,22 2,10 2-7 3-21 2-22 3-12 2,6 3,18 2,23 2,14 3-3 2-18 3-22 2-14 3,0 2,15 3,22 2,17 2,3 3-15 2-22 3-18 2-4 3,11 2,21 3,21 2,6 2-10 3-21 2-20 3-8 2,7 3,19 2,20 2,11 3-6 2-17 3-20 2-11 3,3 2,15 3,18 2,10 2-2 3-11 2-14 3-8 2-1 3,6 2,11 3,7 2,4 2-4 3-11 2-12 3-5 2,5 3,16 2,16 3,8 2-6 2-18 3-19 2-10 3,5 2,18 3,21m0-39l2,16 2,22 3,14 2-1 3-17 2-22 2-15 3-2 2,13 3,21 2,19 2,5 3-11 2-22 3-19 2-8 2,7m0,49l3-14 2-21 3-18 2-4 3,14 2,22 3,17 2,5 2-10 3-20 2-21 3-8 2,9 3,22 2,19 3,9 2-6 2-18 3-22 2-11 3,5 2,18 3,20 2,13 2-2 3-15 2-15 3-6 2,0 3,4 2,16 3,16 2,3 2-13 3-19 2-5 3-1 2,3 3,10 2,19 3,6 2-8 2-19 3-22 2-11 3,6 2,23 3,20 2,11 3-4 2-17 2-23 3-14 2,2 3,19 2,21 3,15 2,0 2-15 3-21 2-18 3-2 2,14 3,22 2,17 3,4 2-11"/>
<path stroke="#404040" d="M163,990l2,32 1,0 1,0m0,0l3-8 2-20 3-16 2-5 2,2 3,9 2,19 3,16 2,2 2-14 3-21 2-18 3-7 2,8 3,20 2,22 2,11m0-36l3,22 2,13 3-3 2-16 2-23 3-17 2-3 3,14 2,22 2,19 3,7 2-8 3-20 2-22 2-12 3,4 2,18 3,22 2,15 2,1 3-13 2-22 3-19 2-7 2,10 3,22 2,22 3,10 2-6 2-18 3-23 2-15 3,1 2,16m0,39l3,7 2-9 2-22 3-22 2-11 3,5 2,20 3,24 2,14 2-2 3-17 2-23 3-16 2-2 3,12 2,22 3,20 2,7 2-10 3-23 2-21 3-9 2,6 3,19 2,23 3,14 2-3 2-17 3-23 2-16 3-1 2,13 3,22 2,18 2,5 3-10 2-21 3-19 2-7 3,7 2,17 3,18 2,8 2-4 3-12 2-14 3-8 2-1 3,7 2,11 3,8 2,4 2-4 3-11 2-12 3-7 2,3 3,15 2,18 3,11 2-3 2-16 3-20 2-15 3,0 2,14 3,22m0-36l2,12 2,21 3,20 2,7 3-10 2-21 2-20 3-11 2,4 3,18 2,22 2,16 3,0 2-16 3-22 2-18 2-6m0,50l3-21 2-21 3-9 2,8 3,22 2,21 3,11 2-5 2-17 3-23 2-16 3,1 2,16 3,23 2,17 3,3 2-12 2-21 3-20 2-7 3,10 2,20 3,20 2,11 2-5 3-18 2-13 3-6 2,1 3,4 2,17 3,17 2,2 2-12 3-20 2-6 3-2 2,2 3,9 2,20 3,10 2-6 2-18 3-23 2-16 3,1 2,20 3,23 2,16 3,2 2-13 2-22 3-20 2-7 3,12 2,22 3,20 2,9 2-6 3-19 2-22 3-14 2,3 3,18 2,22 3,16 2,1"/>
<path stroke="#0000ff" d="M163,990l2,33 1,0 1,0m0,0l3-8 2-20 3-16 2-7 2,1 3,9 2,17 3,19 2,5 2-11 3-21 2-20 3-11 2,4 3,17 2,23 2,17m0-46l3,24 2,19 3,5 2-10 2-22 3-22 2-12 3,5 2,18 2,23 3,17 2,2 3-13 2-22 2-21 3-9 2,8 3,19 2,22 2,14 3,0 2-15 3-22 2-20 2-7 3,10 2,23 3,22 2,12 2-4 3-17 2-24 3-17 2-2m0,65l3-13 2-23 2-21 3-9 2,7 3,20 2,24 3,15 2-2 2-17 3-24 2-18 3-4 2,12 3,21 2,22 3,11 2-7 2-21 3-23 2-15 3,2 2,16 3,23 2,20 3,4 2-12 2-23 3-21 2-9 3,6 2,19 3,22 2,14 2-1 3-15 2-21 3-18 2-3 3,10 2,19 3,17 2,7 2-6 3-14 2-14 3-7 2,0 3,6 2,12 3,8 2,5 2-4 3-10 2-14 3-8 2,2 3,13 2,19 3,14 2,1 2-13 3-21 2-18 3-6 2,9 3,21m0-29l2,6 2,18 3,23 2,15 3-1 2-16 2-23 3-18 2-6 3,10 2,20 2,23 3,12 2-5 3-18 2-23 2-17m0,32l3-23 2-12 3,3 2,19 3,23 2,16 3,1 2-13 2-22 3-21 2-9 3,10 2,22 3,22 2,12 3-4 2-16 2-24 3-17 2-1 3,14 2,22 3,19 2,7 2-8 3-19 2-12 3-5 2,2 3,5 2,18 3,16 2,3 2-13 3-20 2-7 3-3 2,2 3,8 2,20 3,12 2-2 2-16 3-24 2-19 3-5 2,15 3,25 2,19 3,8 2-7 2-19 3-24 2-14 3,2 2,18 3,23 2,17 2,4 3-12 2-21 3-22 2-9 3,8 2,20 3,22 2,14"/>
<path stroke="#008000" d="M163,990l2,35 1,0 1,0m0,0l3-8 2-20 3-18 2-7 2,0 3,8 2,16 3,20 2,9 2-7 3-20 2-22 3-16 2-1 3,13 2,23 2,21m0-50l3,23 2,22 3,13 2-3 2-17 3-23 2-20 3-6 2,11 2,22 3,22 2,14 3-3 2-16 2-23 3-20 2-6 3,10 2,21 2,22 3,13 2-1 3-15 2-24 2-20 3-8 2,9 3,23 2,23 2,14 3-1 2-15 3-24 2-19m0,43l3-24 2-20 2-7 3,10 2,21 3,25 2,15 3-3 2-19 2-24 3-19 2-4 3,10 2,22 3,23 2,13 3-4 2-19 2-24 3-18 2-4 3,12 2,23 3,23 2,11 3-5 2-21 2-23 3-17 2-2 3,14 2,22 3,21 2,9 2-7 3-20 2-22 3-14 2,1 3,13 2,20 3,17 2,4 2-7 3-15 2-14 3-8 2,1 3,7 2,12 3,8 2,5 2-3 3-10 2-14 3-10 2,0 3,12 2,19 3,16 2,6 2-10 3-20 2-21 3-11 2,3 3,18m0-19l2,0 2,14 3,22 2,21 3,9 2-9 2-21 3-23 2-15 3,0 2,14 2,23 3,21 2,8 3-7 2-20 2-24m0-1l3-15 2,0 3,15 2,24 3,19 2,7 3-9 2-20 2-23 3-15 2,1 3,18 2,24 3,18 2,6 3-10 2-21 2-24 3-13 2,5 3,18 2,23 3,17 2,4 2-11 3-21 2-10 3-4 2,3 3,5 2,19 3,17 2,2 2-12 3-21 2-8 3-3 2,1 3,7 2,19 3,15 2,1 2-13 3-23 2-23 3-11 2,9 3,24 2,23 3,14 2,0 2-15 3-23 2-22 3-7 2,10 3,23 2,22 2,13 3-2 2-16 3-23 2-20 3-5 2,11 3,22 2,22"/>
<path stroke="#ff0000" d="M163,990l2,37 1,0 1,0m0,0l3-8 2-21 3-18 2-8 2-2 3,7 2,15 3,22 2,12 2-4 3-17 2-23 3-19 2-7 3,8 2,21 2,24m0-52l3,20 2,24 3,19 2,6 2-10 3-21 2-24 3-15 2,0 2,15 3,24 2,21 3,10 2-6 2-19 3-24 2-18 3-4 2,11 2,22 3,23 2,13 3-1 2-16 2-23 3-22 2-10 3,8 2,21 2,24 3,17 2,3 3-12 2-22m0-14l3-18 2-3 2,12 3,23 2,25 3,14 2-5 3-20 2-25 2-19 3-5 2,10 3,22 2,24 3,14 2-1 3-17 2-25 2-20 3-8 2,8 3,21 2,25 3,17 2,0 3-15 2-25 2-21 3-10 2,7 3,19 2,24 3,17 2,2 2-12 3-22 2-21 3-11 2,5 3,17 2,20 3,15 2,2 2-9 3-16 2-14 3-7 2,1 3,8 2,12 3,9 2,5 2-2 3-10 2-15 3-11 2-2 3,10 2,19 3,18 2,9 2-5 3-18 2-23 3-16 2-3 3,14m0-7l2-6 2,7 3,19 2,25 3,16 2,1 2-14 3-24 2-21 3-11 2,4 2,18 3,24 2,19 3,6 2-10 2-22m0-37l3-3 2,13 3,23 2,22 3,11 2-4 3-17 2-24 2-20 3-6 2,11 3,24 2,22 3,13 2-2 3-15 2-24 2-22 3-7 2,10 3,22 2,22 3,15 2,1 2-15 3-20 2-9 3-3 2,3 3,6 2,20 3,16 2,3 2-13 3-21 2-8 3-5 2,0 3,7 2,18 3,17 2,5 2-11 3-21 2-25 3-16 2,2 3,20 2,26 3,19 2,6 2-8 3-20 2-25 3-16 2,0 3,16 2,24 2,21 3,9 2-7 3-19 2-24 3-17 2-3 3,14 2,23"/>
<path stroke="#00bfbf" d="M163,990l2,38 1,0 1,0m0,0l3-8 2-20 3-19 2-9 2-3 3,6 2,13 3,23 2,15 2,0 3-14 2-24 3-21 2-12 3,2 2,17 2,25m0-47l3,13 2,24 3,24 2,14 2-2 3-16 2-24 3-22 2-11 2,5 3,19 2,25 3,20 2,6 2-9 3-20 2-24 3-17 2-4 2,13 3,22 2,23 3,15 2-1 2-15 3-24 2-23 3-12 2,5 2,19 3,25 2,20 3,7 2-6m0-66l3,2 2,15 2,25 3,23 2,11 3-6 2-22 3-26 2-19 2-4 3,11 2,22 3,25 2,15 3,0 2-16 3-25 2-21 2-11 3,5 2,19 3,25 2,21 3,6 2-11 3-23 2-24 2-16 3-1 2,15 3,23 2,22 3,12 2-5 2-18 3-23 2-19 3-6 2,9 3,19 2,21 3,13 2,0 2-12 3-16 2-14 3-6 2,2 3,8 2,12 3,9 2,6 2-2 3-10 2-14 3-13 2-4 3,7 2,19 3,20 2,13 2-1 3-15 2-23 3-20 2-9 3,8m0,8l2-13 2,0 3,14 2,23 3,23 2,11 2-5 3-19 2-24 3-20 2-7 2,8 3,20 2,24 3,18 2,4 2-14m0-61l3,11 2,22 3,23 2,15 3,0 2-14 3-23 2-24 2-12 3,5 2,20 3,25 2,19 3,6 2-9 3-21 2-26 2-17 3,0 2,15 3,24 2,22 3,11 2-3 2-17 3-19 2-9 3-2 2,4 3,7 2,20 3,17 2,2 2-12 3-22 2-9 3-5 2-1 3,6 2,16 3,20 2,8 2-7 3-19 2-26 3-21 2-4 3,14 2,25 3,23 2,13 2-1 3-15 2-24 3-23 2-10 3,7 2,21 2,24 3,18 2,5 3-11 2-21 3-24 2-15 3-1 2,16"/>
<path stroke="#bf00bf" d="M163,990l2,40 1,0 1,0m0,0l3-8 2-20 3-21 2-9 2-4 3,4 2,13 3,22 2,18 2,4 3-11 2-22 3-23 2-17 3-3 2,11 2,23m0-38l3,7 2,20 3,25 2,21 2,8 3-8 2-20 3-25 2-20 2-7 3,10 2,22 3,24 2,18 2,4 3-11 2-21 3-24 2-17 2-3 3,12 2,23 3,24 2,16 2,1 3-13 2-24 3-25 2-15 2,1 3,16 2,25 3,22 2,15m0-71l3,20 2,25 2,22 3,7 2-11 3-23 2-26 3-18 2-3 2,13 3,23 2,25 3,16 2,0 3-15 2-25 3-23 2-13 2,3 3,16 2,25 3,24 2,11 3-6 2-21 3-25 2-20 2-8 3,8 2,21 3,25 2,18 3,5 2-12 2-21 3-24 2-15 3-1 2,13 3,21 2,20 3,11 2-3 2-13 3-17 2-14 3-5 2,2 3,8 2,13 3,9 2,6 2-1 3-9 2-14 3-14 2-7 3,5 2,17 3,21 2,16 2,5 3-11 2-21 3-23 2-16 3,2m0,23l2-19 2-7 3,8 2,19 3,25 2,19 2,6 3-10 2-23 3-24 2-17 2-4 3,11 2,22 3,24 2,17 2,0m0-67l3,22 2,24 3,17 2,4 3-11 2-22 3-25 2-17 2-1 3,15 2,25 3,22 2,13 3-2 2-15 3-24 2-25 2-11 3,6 2,20 3,25 2,19 3,8 2-7 2-19 3-17 2-8 3-2 2,5 3,8 2,21 3,16 2,3 2-13 3-22 2-10 3-5 2-2 3,5 2,13 3,22 2,12 2-3 3-17 2-25 3-25 2-11 3,8 2,22 3,26 2,19 2,6 3-8 2-20 3-26 2-19 3-4 2,12 2,24 3,24 2,15 3,1 2-13 3-23 2-24 3-14 2,1"/>
<path stroke="#bfbf00" d="M163,990l2,41 1,0 1,0m0,0l3-7 2-21 3-21 2-10 2-5 3,3 2,12 3,20 2,21 2,8 3-7 2-19 3-25 2-20 3-10 2,6 2,19m0-25l3-1 2,14 3,24 2,25 2,16 3,2 2-13 3-23 2-25 2-17 3-3 2,13 3,24 2,24 2,17 3,2 2-12 3-22 2-24 2-18 3-3 2,12 3,23 2,24 2,18 3,4 2-11 3-23 2-26 2-18 3-4 2,11 3,23 2,26m0-21l3,25 2,18 2,2 3-15 2-25 3-26 2-15 3-1 2,15 2,24 3,25 2,16 3,0 2-16 3-25 2-23 3-14 2,0 2,15 3,24 2,26 3,14 2-1 3-18 2-25 3-23 2-13 2,2 3,16 2,24 3,23 2,13 3-3 2-17 2-24 3-22 2-11 3,4 2,17 3,22 2,19 3,8 2-6 2-14 3-17 2-13 3-5 2,3 3,8 2,13 3,9 2,7 2,0 3-9 2-14 3-15 2-9 3,3 2,15 3,21 2,19 2,9 3-6 2-18 3-25 2-20 3-5m0,37l2-22 2-14 3-1 2,13 3,23 2,24 2,16 3,1 2-15 3-24 2-23 2-16 3-1 2,13 3,23 2,25 2,13m0-47l3,25 2,18 3,7 2-8 3-21 2-25 3-20 2-8 2,11 3,23 2,24 3,18 2,6 3-10 2-21 3-26 2-21 2-4 3,13 2,23 3,24 2,17 3,4 2-11 2-21 3-15 2-7 3,0 2,5 3,9 2,21 3,17 2,2 2-12 3-22 2-11 3-6 2-3 3,4 2,11 3,22 2,15 2,1 3-13 2-22 3-28 2-17 3,0 2,17 3,26 2,23 2,14 3,0 2-15 3-23 2-25 3-15 2,1 2,17 3,26 2,22 3,13 2-2 3-15 2-24 3-24 2-14"/>
<path stroke="#404040" d="M163,990l2,43 1,0 1,0m0,0l3-8 2-20 3-21 2-12 2-6 3,2 2,10 3,19 2,22 2,13 3-2 2-17 3-24 2-23 3-15 2-2 2,13m0-7l3-9 2,7 3,19 2,26 2,23 3,11 2-4 3-17 2-24 2-24 3-15 2,1 3,15 2,25 2,24 3,15 2,2 3-12 2-22 2-25 3-18 2-5 3,10 2,22 2,26 3,20 2,8 3-8 2-21 2-26 3-22 2-10 3,6 2,20m0,50l3,12 2-5 2-19 3-26 2-24 3-13 2,3 3,18 2,25 2,25 3,14 2-1 3-17 2-25 3-23 2-15 3-1 2,14 2,24 3,26 2,18 3,1 2-14 3-25 2-25 3-17 2-3 2,11 3,23 2,25 3,18 2,5 3-10 2-22 2-25 3-18 2-6 3,9 2,20 3,22 2,17 3,6 2-8 2-16 3-18 2-12 3-4 2,4 3,8 2,13 3,10 2,7 2,0 3-8 2-14 3-16 2-11 3,0 2,13 3,21 2,21 2,13 3,0 2-14 3-25 2-23 3-12m0,49l2-24 2-19 3-9 2,5 3,18 2,25 2,23 3,12 2-4 3-18 2-25 2-23 3-13 2,0 3,15 2,24 2,23m0-11l3,20 2,9 3-7 2-19 3-25 2-22 3-11 2,4 2,20 3,26 2,22 3,11 2-4 3-16 2-25 3-26 2-15 2,4 3,19 2,26 3,22 2,14 3-1 2-14 2-23 3-12 2-6 3,1 2,6 3,9 2,22 3,16 2,3 2-12 3-22 2-13 3-6 2-4 3,3 2,9 3,22 2,18 2,5 3-9 2-21 3-27 2-22 3-8 2,10 3,23 2,26 2,20 3,8 2-6 3-19 2-25 3-23 2-11 2,7 3,19 2,26 3,21 2,11 3-4 2-16 3-25 2-24"/>
<path stroke="#0000ff" d="M163,990l2,44 1,0 1,0m0,0l3-7 2-20 3-22 2-12 2-7 3,0 2,8 3,17 2,24 2,16 3,3 2-13 3-22 2-25 3-20 2-8 2,6m0,12l3-16 2-2 3,13 2,23 2,26 3,19 2,6 3-7 2-20 2-25 3-23 2-13 3,4 2,17 2,25 3,24 2,15 3,2 2-12 2-22 3-25 2-20 3-7 2,7 2,21 3,26 2,23 3,11 2-3 2-17 3-25 2-24 3-16 2,0m0,87l3-11 2-23 2-27 3-20 2-9 3,7 2,20 3,27 2,24 2,12 3-4 2-18 3-26 2-23 3-14 2-1 3,13 2,23 2,27 3,19 2,5 3-12 2-23 3-26 2-20 3-8 2,6 2,20 3,25 2,23 3,11 2-3 3-17 2-25 2-23 3-14 2,0 3,14 2,22 3,22 2,14 3,3 2-11 2-17 3-17 2-12 3-3 2,4 3,9 2,13 3,10 2,7 2,1 3-7 2-14 3-16 2-13 3-3 2,10 3,20 2,22 2,17 3,6 2-9 3-22 2-25 3-18m0,58l2-24 2-23 3-16 2-3 3,10 2,21 2,26 3,21 2,7 3-7 2-19 2-26 3-22 2-13 3,2 2,15 2,24m0,34l3,9 2-5 3-18 2-24 3-25 2-13 3,1 2,15 2,26 3,24 2,16 3,2 2-12 3-21 2-27 3-22 2-8 2,12 3,23 2,26 3,20 2,9 3-4 2-18 2-22 3-11 2-4 3,1 2,7 3,10 2,23 3,16 2,2 2-12 3-21 2-14 3-7 2-5 3,1 2,9 3,20 2,20 2,10 3-5 2-18 3-25 2-26 3-15 2,2 3,17 2,27 2,24 3,16 2,2 3-12 2-21 3-27 2-20 2-6 3,10 2,21 3,26 2,20 3,10 2-5 3-17 2-25"/>
<path stroke="#008000" d="M163,990l2,46 1,0 1,0m0,0l3-7 2-20 3-23 2-13 2-8 3-1 2,7 3,15 2,24 2,19 3,7 2-7 3-20 2-25 3-23 2-15 2-2m0,32l3-23 2-10 3,6 2,19 3,27 2,24 3,14 2,0 3-15 2-23 3-27 2-20 3-4 2,11 2,22 3,27 2,20 3,10 2-5 3-18 2-25 3-25 2-15 3-1 2,15 3,26 2,27 3,18 2,5 3-11 2-22 3-26 2-21m0,60l3-27 2-25 3-16 2-2 3,15 2,24 3,29 2,20 3,4 2-11 3-24 2-27 3-21 2-8 3,7 2,19 3,27 2,24 3,14 2-3 3-19 2-27 3-25 2-15 3-1 2,14 3,24 3,26 2,19 3,4 2-11 3-22 2-26 3-20 2-8 3,7 2,19 3,24 2,20 3,10 2-5 3-15 2-19 3-15 2-8 3,1 2,6 3,10 2,14 3,10 2,4 3-2 2-12 3-16 2-17 3-9 2,4 3,16 3,23 2,22 3,13 2-2 3-17 2-25 3-23m0,60l2-19 2-25 3-21 2-12 3,1 2,15 2,22 3,26 2,18 3,6 2-9 2-21 3-26 2-22 3-13 2,2 2,15m0,70l3-4 3-18 2-26 3-25 2-15 3,1 2,16 3,27 2,24 3,17 2,2 3-11 2-23 3-27 2-23 3-8 2,11 3,24 2,27 3,21 2,10 3-5 2-18 3-23 2-11 3-5 2,2 3,7 2,10 3,23 2,17 3,3 2-12 3-23 3-14 2-8 3-5 2,1 3,9 2,21 3,21 2,10 3-5 2-18 3-25 2-28 3-15 2,1 3,18 2,28 3,24 2,17 3,3 2-12 3-22 2-28 3-20 2-7 3,9 2,22 3,27 2,21 3,10 2-4 3-18"/>
<path stroke="#ff0000" d="M163,990l2,47 1,0 1,0m0,0l3-7 3-22 2-23 3-13 2-9 3,0 2,10 3,17 2,27 3,17 3,3 2-13 3-24 2-27 3-22 2-10m0,50l3-28 2-18 3-2 3,13 2,25 3,27 2,21 3,7 2-7 3-21 2-27 3-25 3-13 2,3 3,18 2,26 3,26 2,16 3,3 2-12 3-24 3-27 2-22 3-9 2,8 3,22 2,29 3,24 2,12 3-3 3-17 2-25m0-15l3-22 2-10 3,7 2,20 3,29 3,27 2,14 3-4 2-20 3-28 3-25 2-16 3-1 2,14 3,24 3,28 2,21 3,6 2-11 3-25 3-29 2-21 3-9 2,7 3,20 3,27 2,25 3,13 2-4 3-18 3-26 2-25 3-16 2,0 3,14 3,23 2,25 3,16 2,3 3-11 2-19 3-19 3-13 2-3 3,5 2,9 3,14 3,10 2,9 3,1 2-7 3-15 3-19 2-14 3-3 2,11 3,21 3,24 2,19 3,7 2-10 3-24 3-25m0,57l2-15 3-25 2-26 3-17 2-5 3,11 2,22 3,27 3,23 2,10 3-6 2-21 3-28 2-24 3-15 2,0m0,85l3-18 3-26 2-27 3-16 2,2 3,16 3,27 2,25 3,18 2,3 3-12 3-23 2-28 3-24 2-9 3,10 3,25 2,28 3,22 2,11 3-4 3-18 2-24 3-13 2-5 3,2 3,7 2,10 3,25 2,17 3,3 3-12 2-23 3-15 2-9 3-5 3,1 2,8 3,22 2,23 3,10 2-4 3-18 3-27 2-28 3-16 2,0 3,19 3,28 2,25 3,18 2,3 3-12 3-23 2-27 3-22 2-8 3,8 3,24 2,27 3,23 2,11 3-5"/>
<path stroke="#00bfbf" d="M163,990l2,49 2,0m0,0l3-8 3-20 2-25 3-13 2-10 3-2 2,8 3,16 2,25 3,21 3,8 2-7 3-21 2-27 3-25 2-18m0,64l3-29 3-24 2-12 3,5 3,21 2,29 3,25 2,16 3,0 3-15 2-25 3-29 3-20 2-6 3,11 3,24 2,28 3,22 2,11 3-5 3-19 2-27 3-27 3-18 2-1 3,17 3,28 2,28 3,19 2,6 3-8m0-84l3-2 2,15 3,25 3,30 2,23 3,7 3-13 3-26 2-29 3-23 3-9 2,7 3,20 3,28 2,27 3,14 3-2 2-19 3-30 3-26 2-17 3-1 3,14 2,25 3,29 3,21 2,5 3-11 3-24 2-28 3-23 3-9 3,8 2,20 3,26 3,22 2,11 3-4 3-16 2-21 3-18 3-8 2,1 3,7 3,11 2,14 3,11 3,5 2-2 3-12 3-19 2-18 3-10 3,4 3,17 2,25 3,24 3,15 2-2 3-20 3-25m0,48l2-7 3-20 2-28 3-23 2-14 3,0 2,15 3,23 3,28 2,21 3,8 2-9 3-21 2-28 3-24 2-16m0,70l3-27 3-27 3-17 2,0 3,18 3,27 2,27 3,18 3,4 2-12 3-24 3-29 2-24 3-11 3,10 2,26 3,29 3,23 2,12 3-5 3-18 2-25 3-14 3-5 2,2 3,7 3,11 3,25 2,18 3,4 3-12 2-24 3-16 3-9 2-7 3,1 3,9 2,23 3,23 3,12 2-5 3-18 3-27 2-30 3-17 3,1 2,18 3,29 3,27 3,18 2,4 3-12 3-24 2-28 3-23 3-10 2,10 3,24 3,28 2,24 3,11"/>
<path stroke="#bf00bf" d="M163,990l2,51 2,0m0,0l3-9 3-22 3-25 2-15 3-9 3-1 3,11 2,19 3,28 3,19 2,3 3-14 3-25 3-30 2-24m0,72l3-28 3-29 2-20 3-3 3,14 3,27 2,29 3,22 3,9 3-8 2-22 3-29 3-26 2-14 3,2 3,19 3,27 2,27 3,19 3,4 3-13 2-25 3-30 3-25 2-9 3,9 3,23 3,30 2,25 3,18m0-93l3,21 3,29 2,29 3,16 3-2 3-21 2-31 3-28 3-17 3-2 3,15 2,26 3,29 3,23 3,6 2-11 3-25 3-31 3-24 3-10 2,7 3,22 3,29 3,27 2,15 3-4 3-19 3-28 2-27 3-18 3-1 3,15 3,25 2,26 3,18 3,4 3-10 2-21 3-21 3-14 3-4 2,5 3,10 3,15 3,11 3,9 2,2 3-7 3-17 3-20 2-16 3-3 3,11 3,22 3,27 2,22 3,7 3-13 3-22m0,33l2,1 3-15 3-28 3-28 2-20 3-5 3,10 2,23 3,29 3,26 3,11 2-7 3-20 3-29 2-27m0,28l3-28 3-17 3-2 3,18 2,28 3,28 3,19 3,4 2-12 3-24 3-30 3-26 3-9 2,8 3,26 3,31 3,24 2,12 3-4 3-19 3-26 2-16 3-5 3,3 3,8 3,11 2,25 3,19 3,4 3-12 2-24 3-17 3-10 3-7 2-1 3,10 3,25 3,24 3,12 2-4 3-19 3-27 3-31 2-18 3,1 3,17 3,30 3,28 2,19 3,4 3-12 3-24 2-29 3-25 3-8 3,9 2,24 3,29 3,24"/>
<path stroke="#bfbf00" d="M163,990l2,52 2,0m0,0l3-8 3-22 3-26 2-15 3-10 3-3 3,8 2,18 3,27 3,22 2,9 3-7 3-21 3-29 2-29m0,75l3-25 3-30 3-27 3-12 2,6 3,22 3,29 3,28 3,17 3,1 2-16 3-27 3-30 3-22 3-6 2,10 3,25 3,29 3,25 3,13 3-4 2-20 3-30 3-30 3-18 3-1 2,17 3,28 3,31m0-31l3,31 3,24 3,8 3-12 2-27 3-32 3-25 3-10 3,7 3,22 3,29 3,29 2,16 3-3 3-19 3-30 3-29 3-20 3-1 2,15 3,27 3,31 3,23 3,7 3-13 3-25 3-30 2-25 3-10 3,7 3,22 3,28 3,24 3,12 2-3 3-17 3-23 3-20 3-10 3,2 3,8 3,12 2,14 3,12 3,6 3-2 3-13 3-20 3-20 3-11 2,4 3,18 3,27 3,26 3,16 3-4 3-17m0,13l2,11 3-6 3-22 3-30 2-25 3-16 3-2 2,14 3,25 3,29 3,24 2,9 3-7 3-21 2-28m0-28l3-18 3-1 3,16 3,29 3,29 3,20 3,5 2-12 3-25 3-31 3-26 3-11 3,8 3,26 3,32 2,25 3,13 3-3 3-19 3-28 3-17 3-5 2,2 3,9 3,11 3,26 3,20 3,5 3-12 3-25 2-18 3-10 3-8 3-2 3,10 3,26 3,25 2,13 3-3 3-19 3-28 3-32 3-19 3-1 3,19 2,30 3,29 3,20 3,5 3-12 3-25 3-30 3-25 2-9 3,9 3,23 3,30"/>
<path stroke="#404040" d="M163,990l2,54 2,0m0,0l3-9 3-24 3-26 3-16 3-11 3-1 3,11 3,22 3,30 3,20 3,3 2-14 3-27 3-32m0,71l3-20 3-29 3-31 3-22 3-3 3,15 3,27 3,31 3,24 3,11 2-9 3-23 3-30 3-28 3-16 3,2 3,19 3,29 3,29 3,21 3,5 3-12 2-27 3-32 3-26 3-10 3,8 3,24m0,60l3,17 3-1 3-21 3-32 3-31 3-19 3-2 3,16 3,27 3,32 3,24 3,7 3-11 3-27 3-31 3-26 3-12 3,7 3,22 3,31 3,30 2,16 3-2 3-21 3-30 3-29 3-20 3-2 3,16 3,27 3,28 3,20 3,5 3-11 3-22 3-23 3-16 3-4 3,5 3,11 3,16 3,12 3,10 3,3 3-8 3-18 3-22 3-18 3-4 3,12 3,24 3,29 3,24 3,5 3-9m0-9l3,19 2,3 3-18 3-29 3-30 3-22 3-7 3,10 3,25 3,30 3,27 3,13 3-5 2-23m0-76l3-2 3,17 3,29 3,30 3,21 3,5 3-12 3-25 3-31 3-27 3-13 3,9 3,26 3,33 3,26 3,14 3-4 3-19 3-28 3-19 3-5 3,2 3,9 3,12 3,26 3,21 3,6 3-12 3-25 3-19 3-12 3-8 3-4 3,11 3,28 3,26 2,14 3-4 3-19 3-29 3-32 3-20 3-1 3,18 3,31 3,30 3,21 3,5 3-11 3-25 3-32 3-25 3-10 3,8 3,23"/>
<path stroke="#0000ff" d="M163,990l2,55 2,0m0,0l3-8 3-23 3-28 3-16 3-12 3-3 3,8 3,20 3,28 3,24 3,11 2-7 3-22 3-31m0,60l3-12 3-26 3-33 3-28 3-13 3,6 4,22 3,32 3,29 3,19 3,1 3-17 3-28 3-31 3-24 3-8 3,11 3,25 3,32 3,28 3,15 3-5 3-21 3-31 3-31 3-20 3,1m0,109l3-12 3-27 3-34 3-27 4-14 3,8 3,24 3,32 3,31 3,17 3-2 3-21 3-31 3-30 3-21 3-4 4,16 3,28 3,33 3,26 3,7 3-11 3-28 3-32 3-26 3-13 3,7 3,23 4,30 3,27 3,13 3-3 3-17 3-26 3-21 3-11 3,1 3,9 3,13 3,15 4,13 3,8 3-2 3-14 3-22 3-23 3-12 3,4 3,19 3,29 3,30 4,14 3,0m0-32l3,26 2,13 3-6 3-23 3-31 3-27 3-19 3-4 3,13 3,25 3,31 3,26 3,13 2-8m0-101l4,17 3,29 3,31 3,22 3,6 3-12 3-25 3-33 3-28 3-12 3,7 4,26 3,34 3,27 3,15 3-3 3-20 3-29 3-20 3-7 3,4 3,9 3,13 4,26 3,22 3,6 3-12 3-25 3-21 3-12 3-9 3-6 3,13 3,29 3,27 4,15 3-3 3-19 3-30 3-33 3-21 3-1 3,17 3,32 3,31 3,22 3,6 4-12 3-25 3-32 3-27 3-11 3,7"/>
<path stroke="#008000" d="M163,990l2,57 2,0m0,0l4-10 3-25 3-28 3-17 3-12 3-1 3,12 4,24 3,31 3,21 3,4 3-14 3-29m0,43l3-3 4-20 3-31 3-32 3-22 3-5 3,15 3,29 4,32 3,26 3,11 3-9 3-23 3-31 3-30 4-18 3,1 3,19 3,31 3,33 3,23 3,5 4-14 3-27 3-33 3-25m0,77l3-33 3-32 4-21 3-5 3,16 3,30 4,35 3,26 3,8 3-12 3-28 4-33 3-27 3-13 3,5 3,23 4,34 3,31 3,19 3-2 3-21 4-33 3-31 3-21 3-4 3,16 4,29 3,31 3,22 3,6 3-11 4-24 3-25 3-18 3-5 4,6 3,12 3,17 3,13 3,11 4,4 3-9 3-19 3-25 3-19 4-5 3,12 3,26 3,32 3,23 4,10m0-53l3,31 3,22 3,2 3-17 3-31 3-32 4-24 3-8 3,9 3,25 3,33 3,29 3,11m0-91l4,30 3,32 3,23 3,7 4-12 3-26 3-33 3-30 3-13 4,8 3,26 3,35 3,28 3,15 4-2 3-20 3-30 3-23 3-7 4,4 3,10 3,13 3,27 3,23 4,7 3-12 3-26 3-22 3-13 4-10 3-7 3,13 3,32 3,28 4,15 3-2 3-20 3-30 4-34 3-22 3-2 3,18 3,32 4,32 3,23 3,7 3-12 3-26 4-33 3-28 3-13"/>
<path stroke="#ff0000" d="M163,990l2,58 2,0m0,0l4-9 3-24 3-29 3-17 3-14 3-4 3,9 4,21 3,30 3,26 3,12 3-7 3-22m0,21l4,7 3-12 3-26 3-34 4-30 3-14 3,5 3,22 4,34 3,31 3,19 4,2 3-16 3-29 3-33 4-26 3-10 3,10 3,27 4,35 3,29 3,15 4-4 3-21 3-31m0-15l3-28 4-15 3,6 3,24 4,34 3,34 3,19 4-2 3-22 3-33 4-32 3-22 3-4 4,15 3,30 3,35 4,27 3,9 3-12 4-28 3-35 3-28 4-13 3,5 4,24 3,32 3,29 4,16 3-3 3-19 4-27 3-23 3-12 4,1 3,10 3,14 4,15 3,15 3,8 4-2 3-14 3-25 4-24 3-13 3,3 4,21 3,31 3,29 4,19m0-68l3,31 3,29 3,14 3-5 3-22 3-32 4-30 3-22 3-6 3,11 3,26 3,32 3,26m0-48l4,33 3,24 3,7 4-12 3-26 4-34 3-30 3-15 4,9 3,26 3,35 4,29 3,16 3-2 4-20 3-30 3-25 4-9 3,6 3,10 4,14 3,27 3,24 4,7 3-11 3-27 4-23 3-14 3-12 4-8 3,14 3,34 4,29 3,16 3-2 4-19 3-31 3-36 4-22 3-3 3,19 4,32 3,33 3,24 4,7 3-11 3-27 4-33 3-30"/>
<path stroke="#00bfbf" d="M163,990l2,60 2,0m0,0l4-10 3-26 4-30 3-18 3-14 4-3 3,14 4,26 3,33 4,23 3,5 3-15m0-3l4,16 3-2 4-20 3-33 3-34 4-23 3-6 4,14 3,30 3,35 4,27 3,12 4-8 3-23 3-33 4-33 3-20 4,0 3,19 3,34 4,34 3,24 4,6 3-9m0-101l4-5 3,15 4,30 3,38 3,29 4,9 3-12 4-30 3-35 4-29 3-14 4,5 3,24 4,34 3,34 4,20 3-1 4-22 3-34 4-34 3-22 4-4 3,15 4,30 3,33 4,25 3,7 3-12 4-25 3-28 4-19 3-6 4,7 3,13 4,19 3,12 4,13 3,5 4-9 3-21 4-27 3-21 4-6 3,13 4,27 3,33 4,27m0-78l3,30 3,35 4,23 3,2 4-16 3-32 3-34 4-26 3-11 4,9 3,26 3,33m0,14l4,25 3,8 4-12 3-27 4-35 3-31 4-14 3,7 4,26 3,37 4,30 3,17 4-2 3-20 4-31 3-28 4-10 3,7 4,11 3,14 4,28 3,24 3,9 4-12 3-27 4-24 3-14 4-16 3-8 4,17 3,35 4,30 3,17 4-2 3-20 4-31 3-36 4-25 3-2 4,18 3,33 4,34 3,25 4,8 3-11 4-28 3-34"/>
<path stroke="#bf00bf" d="M163,990l2,62 2,0m0,0l4-10 3-25 4-30 3-19 3-16 4-6 3,10 4,23 3,32 4,28 3,13 3-6m0-29l4,26 3,8 4-11 4-29 3-35 4-31 3-17 4,4 3,25 4,35 3,32 4,21 4,3 3-16 4-30 3-35 4-29 3-13 4,11 3,29 4,36 4,31 3,21m0-116l4,24 3,35 4,36 4,23 3-1 4-24 4-35 3-35 4-23 3-4 4,15 4,30 3,37 4,30 4,10 3-12 4-30 3-36 4-31 4-14 3,5 4,24 4,35 3,31 4,18 4-3 3-19 4-29 3-27 4-13 4,1 3,11 4,15 4,17 3,15 4,10 4-1 3-16 4-27 3-26 4-15 4,3 3,22 4,32 4,33m0-80l3,25 3,32 4,32 3,15 4-2 3-21 3-32 4-33 3-25 4-9 3,9 3,25m0,76l4,8 4-11 3-27 4-36 4-32 3-15 4,6 4,27 3,37 4,31 3,18 4-1 4-21 3-31 4-31 4-11 3,7 4,13 4,15 3,28 4,25 3,9 4-11 4-27 3-26 4-15 4-19 3-9 4,20 3,36 4,31 4,18 3-1 4-20 4-32 3-37 4-25 4-4 3,18 4,34 3,35 4,26 4,9 3-12 4-27"/>
<path stroke="#bfbf00" d="M163,990l2,63 2,0m0,0l4-10 4-28 4-31 3-21 4-15 4-3 3,15 4,29 4,34 4,25 3,5m0-53l4,32 4,19 3-1 4-22 4-33 4-36 3-26 4-8 4,16 3,32 4,35 4,29 4,13 3-6 4-24 4-35 3-36 4-22 4,0 4,21 3,34 4,37m0-42l4,38 4,31 3,13 4-11 4-33 4-38 4-31 4-15 3,5 4,24 4,35 4,37 4,22 3,0 4-22 4-37 4-35 4-25 3-5 4,16 4,31 4,36 4,26 3,10 4-13 4-26 4-31 4-21 3-7 4,8 4,14 4,21 4,12 3,14 4,6 4-9 4-23 4-29 3-23 4-7 4,13 4,29 4,36m0-75l3,19 4,32 4,36 3,24 4,6 4-17 4-32 3-36 4-29 4-13 3,8m0,114l4-11 4-28 4-36 4-33 3-18 4,8 4,26 4,38 4,32 4,19 3-1 4-20 4-32 4-33 4-14 3,7 4,16 4,15 4,28 4,27 3,10 4-11 4-28 4-26 4-17 3-22 4-10 4,23 4,37 4,32 3,19 4-1 4-20 4-32 4-38 3-25 4-6 4,19 4,33 4,36 3,27 4,10 4-11"/>
<path stroke="#404040" d="M163,990l2,65 2,0m0,0l4-10 4-26 4-32 3-21 4-18 4-6 3,9 4,25 4,34 4,30 3,15m0-75l4,37 4,28 4,10 4-13 4-29 4-36 4-34 3-18 4,5 4,24 4,36 4,34 4,23 4,5 4-15 4-32 4-38 3-31 4-12 4,10 4,29m0,69l4,23 4,2 4-22 4-39 4-37 4-25 4-5 4,16 4,31 4,38 4,32 4,13 4-11 4-32 4-39 4-32 4-17 4,6 4,25 4,36 4,33 4,20 4-1 4-21 4-31 4-29 4-15 4,1 4,13 4,15 4,18 4,16 4,12 4-1 4-17 4-29 4-28 4-17 4,3 4,23 4,35m0-62l3,10 4,25 4,34 3,32 4,21 4-1 4-19 3-32 4-35 4-29 3-13m0,115l4-29 4-37 4-33 4-17 4,4 4,28 4,38 4,33 4,20 4,0 4-20 4-33 4-36 4-16 4,7 4,18 4,17 4,28 4,28 4,10 4-11 4-28 4-27 4-18 4-26 4-10 4,25 4,39 4,33 4,20 4,0 4-20 4-33 4-39 4-27 4-4 4,17 4,34 4,37 4,28 4,11"/>
<path stroke="#0000ff" d="M163,990l2,66 2,0m0,0l5-11 4-29 4-32 4-23 4-18 4-3 4,16 4,32 4,36 4,27m0-91l4,39 4,35 5,20 4-2 4-21 4-35 4-38 4-27 4-7 4,15 4,31 4,37 4,32 5,16 4-5 4-25 4-38 4-37 4-23 4,1m0,131l4-10 4-31 5-41 4-35 4-16 4,6 4,26 5,36 4,38 4,24 4,1 4-21 5-39 4-38 4-26 4-7 4,17 5,32 4,38 4,29 4,10 4-11 5-28 4-34 4-24 4-7 4,8 4,16 5,22 4,13 4,15 4,7 4-9 5-24 4-32 4-26 4-8 4,14 5,32m0-43l4,0 4,20 4,33 4,38 4,27 4,6 4-14 4-33 4-38 4-33m0,75l5-38 4-36 4-16 4,5 4,26 5,40 4,34 4,20 4,1 4-21 5-33 4-38 4-19 4,7 4,20 5,18 4,29 4,28 4,12 4-11 5-28 4-29 4-20 4-29 4-7 4,25 5,41 4,34 4,20 4,1 4-21 5-33 4-40 4-27 4-6 4,16 5,36 4,38 4,29"/>
<path stroke="#008000" d="M163,990l2,68 2,0m0,0l5-10 4-27 4-34 4-23 4-20 4-8 4,10 4,26 4,37 4,32m0-99l5,37 4,39 4,29 5,9 4-11 4-29 4-39 5-35 4-18 4,3 5,24 4,37 4,37 5,26 4,8 4-17 4-34 5-39 4-30m0,97l4-38 5-39 4-29 5-7 4,17 5,34 4,40 4,33 5,13 4-10 5-31 4-41 5-34 4-18 4,4 5,26 4,37 5,37 4,22 4-1 5-21 4-33 5-33 4-17 5,1 4,15 4,17 5,18 4,18 5,13 4,0 5-18 4-31 4-32 5-19 4,4 5,25m0-19l4-10 4,8 4,25 4,35 4,35 4,22 4,6 4-19 4-31 4-38m0,5l5-36 4-20 5,6 4,27 5,40 4,35 4,21 5,1 4-20 5-34 4-39 5-23 4,6 4,22 5,20 4,29 5,30 4,12 4-10 5-29 4-30 5-23 4-32 5-4 4,26 4,42 5,35 4,22 5,0 4-20 4-34 5-40 4-28 5-9 4,19 5,35 4,39"/>
<path stroke="#ff0000" d="M163,990l2,69 2,0m0,0l5-11 5-30 4-35 5-25 4-20 5-4 4,17 5,36 4,38m0-98l5,31 4,40 5,36 4,21 5,0 5-21 4-36 5-39 4-29 5-9 4,14 5,31 4,40 5,35 4,18 5-5 5-26 4-37m0-13l5-35 4-20 5,3 5,27 4,40 5,40 5,25 4,1 5-22 5-38 4-40 5-28 5-7 4,15 5,34 5,40 5,32 4,11 5-11 5-29 4-36 5-28 5-8 4,8 5,18 5,24 4,14 5,17 5,8 4-8 5-28 5-34 4-28 5-9 5,17m0,7l4-20 5-1 4,20 5,34 4,40 5,30 4,8 5-15 4-34m0-71l5-19 5,2 4,29 5,40 5,36 5,23 4,1 5-20 5-35 4-41 5-26 5,5 4,23 5,23 5,30 4,31 5,13 5-10 4-29 5-32 5-27 4-34 5-1 5,26 4,44 5,36 5,23 4,1 5-20 5-35 4-41 5-30 5-6 4,17 5,34"/>
<path stroke="#00bfbf" d="M163,990l2,71 2,0m0,0l5-10 5-28 4-36 5-25 4-22 5-10 4,9 5,29 4,38m0-89l5,23 5,37 5,40 5,31 4,12 5-10 5-31 5-40 5-36 4-21 5,1 5,23 5,39 5,40 4,28 5,6 5-11m0-118l5-9 5,15 5,35 5,44 5,35 5,14 5-11 5-32 5-42 5-37 5-20 5,5 4,26 5,39 5,39 5,25 5,0 5-22 5-36 5-35 5-20 5,1 5,16 5,19 5,19 5,19 5,16 5,1 5-20 5-34 5-34 5-20 5,6m0,34l4-28 5-14 4,7 5,24 4,35 5,38 4,26 5,7 4-16m0-124l5,3 5,26 5,42 5,37 5,24 5,2 5-21 5-35 5-43 5-27 5,1 5,25 5,26 5,30 5,32 5,14 5-10 5-29 5-33 5-30 5-36 4,0 5,28 5,45 5,37 5,24 5,2 5-20 5-36 5-42 5-30 5-7 5,14"/>
<path stroke="#bf00bf" d="M163,990l2,73 2,0m0,0l6-12 5-32 5-36 5-29 5-22 5-5 5,20 5,38m0-71l5,11 6,30 5,42 5,37 5,24 5,2 5-23 5-36 5-41 5-31 6-12 5,11 5,33 5,43 5,36 5,24m0-138l5,25 6,41 5,44 5,27 5,1 6-23 5-40 5-42 6-30 5-10 5,17 5,35 6,42 5,34 5,14 5-11 6-31 5-39 5-31 6-10 5,10 5,20 5,23 6,16 5,20 5,10 5-9 6-30 5-38 5-29 6-6m0,59l5-36 5-23 5-2 5,20 5,36 5,41 5,31 5,7m0-136l6,27 5,41 5,38 6,25 5,2 5-20 5-36 6-45 5-29 5-3 6,27 5,30 5,31 5,33 6,14 5-9 5-29 5-35 6-35 5-33 5-1 6,30 5,45 5,38 5,25 6,3 5-21 5-36 5-42 6-31 5-11"/>
<path stroke="#bfbf00" d="M163,990l2,74 2,0m0,0l6-10 5-29 5-37 5-28 5-25 5-13 5,11 5,29m0-44l6-3 5,21 6,39 5,41 6,34 5,13 5-11 6-30 5-40 6-40 5-25 6-2 5,25 6,41 5,43m0-54l6,44 5,39 6,18 6-13 5-34 6-44 6-38 5-22 6,2 5,28 6,41 6,43 5,25 6,2 6-23 5-37 6-39 6-24 5,1 6,18 5,21 6,20 6,21 5,18 6,3 6-22 5-37 6-37 6-18m0,80l5-37 5-31 5-17 5,4 5,22 5,36 5,39 5,26m0-100l6,42 6,39 5,26 6,3 6-20 5-37 6-45 6-33 5-5 6,27 6,34 5,31 6,34 5,16 6-9 6-30 5-36 6-39 6-32 5-2 6,32 6,46 5,39 6,26 5,3 6-20 6-37 5-42 6-34"/>
<path stroke="#404040" d="M163,990l2,76 2,0m0,0l6-13 6-32 6-39 6-32 6-25 5-5 6,21m0-13l6-15 6,8 6,32 6,42 6,40 5,24 6,2 6-20 6-37 6-43 6-37 5-13 6,13 6,35m0,75l6,31 6,6 6-24 6-44 6-43 6-32 6-10 7,14 6,36 6,45 6,38 6,15 6-11 6-33 6-41 6-34 6-15 6,12 6,23 6,22 6,20 6,23 6,12 6-10 6-33 7-40 6-29m0,96l5-41 6-38 6-26 6-4 6,19 6,37 5,41m0-27l7,40 6,27 6,4 6-20 6-37 6-47 6-36 6-6 6,25 6,37 6,34 6,35 6,16 6-8 6-30 6-38 6-44 6-30 7,0 6,31 6,47 6,40 6,27 6,4 6-20 6-37 6-45"/>
<path stroke="#0000ff" d="M163,990l2,77 2,0m0,0l6-10 6-30 6-38 6-31 6-30 5-13 6,8m0,22l7-28 6-5 6,21 6,39 7,43 6,34 6,15 7-8 6-29 6-42 6-43 7-26 6,2m0,152l7-8 6-34 7-48 6-39 7-22 6,2 7,26 6,42 7,46 6,29 7,2 7-23 6-40 7-42 6-27 7-1 6,20 7,24 6,21 7,24 6,21 7,3 7-24 6-41 7-37m0,103l5-32 6-41 6-34 6-21 6-1 6,19 5,35m0,57l7,28 7,5 6-20 7-38 6-47 7-39 6-8 7,21 6,42 7,36 6,36 7,18 7-8 6-31 7-39 6-46 7-32 6,3 7,31 6,46 7,42 6,28 7,5 6-20 7-38"/>
<path stroke="#008000" d="M163,990l2,79 2,0m0,0l7-13 7-33 7-41 7-37 7-28 6-6m0,55l7-38 7-18 7,8 7,30 6,44 7,41 7,27 7,6 7-18 6-38 7-45 7-34m0,117l7-43 7-47 7-34 8-9 7,15 7,36 7,47 7,41 7,18 7-11 7-35 7-44 8-39 7-16 7,11 7,26 7,22 7,24 7,26 7,16 7-13 7-35 8-42m0,99l6-26 7-44 7-41 7-29 7-7 6,17m0,127l8,6 7-20 7-39 7-47 7-39 7-14 7,22 7,43 7,38 8,38 7,18 7-8 7-30 7-41 7-48 7-32 7,4 7,31 8,46 7,43 7,29 7,6 7-20"/>
<path stroke="#ff0000" d="M163,990l2,80 2,0m0,0l7-10 7-30 7-39 7-35 7-33 6-17m0,85l8-45 7-31 8-5 7,17 7,41 8,44 7,37 8,20 7-4 8-32 7-42m0-9l8-43 8-28 7,5 8,29 8,42 8,48 8,33 7,5 8-24 8-44 8-45 8-31 7-4 8,23 8,28 8,22 7,27 8,25 8,2 8-25 8-44m0,86l6-11 7-34 7-42 7-38 7-26 6-8m0,155l8-19 8-39 8-48 8-40 7-17 8,20 8,44 8,42 8,38 7,19 8-7 8-30 8-43 7-49 8-31 8,3 8,29 8,48 7,44 8,30 8,7"/>
<path stroke="#00bfbf" d="M163,990l2,82 2,0m0,0l9-13 8-34 8-43 8-42 8-32m0,107l8-47 9-40 8-20 8,5 8,31 8,44 9,44 8,33 8,6 8-14m0-133l9-15 8,14 9,40 9,48 8,43 9,23 8-10 9-36 9-48 8-42 9-20 8,9 9,31 9,25 8,25 9,31 8,17 9-12 9-41m0,63l8,1 8-29 8-45 8-44 8-34m0,130l9-40 9-48 8-41 9-17 9,15 8,44 9,46 8,39 9,20 9-6 8-31 9-44 8-52 9-28 9,2 8,30 9,47 8,45 9,31"/>
<path stroke="#bf00bf" d="M163,990l2,83 2,0m0,0l9-10 8-29 8-40 8-39 8-37m0,120l9-45 9-46 10-33 9-8 9,18 9,37 9,48 9,40 9,26m0-161l10,26 9,45 10,50 10,33 9,9 10-23 9-46 10-48 10-35 9-7 10,23 10,34 9,23 10,31 9,30 10,2 10-31m0,32l8,16 8-12 8-31 8-41 8-41m0,57l10-49 10-42 9-17 10,11 10,45 9,48 10,41 9,21 10-6 10-31 9-45 10-52 10-29 9,1 10,30 9,46 10,47"/>
<path stroke="#bfbf00" d="M163,990l2,85 2,0m0,0l11-13 10-35 10-45 10-48m0,124l11-40 10-47 10-43 10-21 10,3 11,25 10,46 10,48m0-68l11,50 11,46 11,20 11-7 11-35 10-51 11-45 11-25 11,8 11,34 11,30 11,27 11,38 11,17 11-17m0-4l10,30 10-3 10-27 10-45m0-40l11-42 11-18 11,10 11,42 11,51 11,42 11,22 11-5 11-31 10-46 11-52 11-30 11,0 11,28 11,48"/>
<path stroke="#404040" d="M163,990l2,87 2,0m0,0l11-10 10-28 10-39 10-43m0,115l12-30 12-44 11-47 12-35 12-15 11,13 12,40m0,81l13,40 12,5 13-24 12-44 13-52 13-38 12-13 13,22 12,41 13,26 12,37 13,33 13-1m0-40l10,36 10,15 10-4 10-27m0-126l13-19 13,10 12,39 13,53 12,43 13,23 13-5 12-30 13-47 12-52 13-31 12-2 13,28"/>
<path stroke="#0000ff" d="M163,990l2,88 2,0m0,0l14-13 14-34 13-47m0,95l14-18 14-37 13-47 14-44 13-31 14,5m0,174l15-3 15-41 15-51 15-48 14-28 15,2 15,35 15,39 15,30 15,44 15,16m0-74l13,46 14,28 13-4m0-170l15,11 15,37 15,53 15,44 15,24 15-4 15-31 14-46 15-53 15-32 15-3"/>
<path stroke="#008000" d="M163,990l2,90 2,0m0,0l14-9 14-25 13-35m0,68l17-5 16-26 16-42 17-49 16-34m0,138l18-46 18-54 19-42 18-15 18,17 18,47 18,30 18,46 19,33m0-101l13,39 14,37 13,17m0-157l19,37 18,53 18,45 18,25 18-3 18-31 19-47 18-52 18-35"/>
<path stroke="#ff0000" d="M163,990l2,91 2,0m0,0l21-12 20-32m0,33l21,9 20-13 21-30 20-45m0-4l23-49 24-32 23-2 24,33 23,48 23,37 24,47m0-117l20,42 20,42m0-87l24,52 23,46 24,26 23-2 23-31 24-48 23-53"/>
<path stroke="#00bfbf" d="M163,990l2,93 2,0m0,0l21-6 20-18m0-5l28,23 27,2 27-13m0-147l33-17 32,11 33,45 33,41 33,55m0-123l20,23 20,32m0,14l33,47 33,27 33-1 32-31 33-48"/>
<path stroke="#bf00bf" d="M163,990l2,94 2,0m0,0l41-8m0-44l41,29 41,25m0-184l41,19 41,31 41,39 41,41m0-117l40,17m0,116l41,23 41,8 41-10 41-24"/>
<path stroke="#bfbf00" d="M163,990l2,96 2,0m0,0l41,0m0-81l41,13 41,16m0-83l41,13 41,13 41,14 41,14m0-100l40-7m0,179l41,2 41,2 41-2 41-2"/>
<path stroke="#404040" d="M163,990l2,96 2,0m0,0l41,0m0-111l41-13 41-12m0,83l41-14 41-15 41-14 41-13m0-72l40-7m0,179l41,2 41,2 41-2 41-2"/>
<path stroke="#0000ff" d="M163,990l2,94 2,0m0,0l41-8m0-129l41-31 41-14m0,184l41-20 41-37 41-39 41-38m0-37l40,17m0,116l41,23 41,8 41-10 41-24"/>
<path stroke="#008000" d="M163,990l2,93 2,0m0,0l21-6 20-18m0-135l28-24 27-2 27,22m0,148l33,18 32-14 33-49 33-41 33-50m0-1l20,23 20,32m0,14l33,47 33,27 33-1 32-31 33-48"/>
<path stroke="#ff0000" d="M163,990l2,91 2,0m0,0l21-12 20-32m0-130l21-9 20,13 21,32 20,47m0,4l23,54 24,33 23,0 24-37 23-48 23-37 24-41m0,34l20,42 20,42m0-87l24,52 23,46 24,26 23-2 23-31 24-48 23-53"/>
<path stroke="#00bfbf" d="M163,990l2,90 2,0m0,0l14-9 14-25 13-35m0-113l17,5 16,27 16,44 17,49 16,40m0-138l18,43 18,54 19,45 18,13 18-20 18-47 18-30 18-45 19-27m0,65l13,39 14,37 13,17m0-157l19,37 18,53 18,45 18,25 18-3 18-31 19-47 18-52 18-35"/>
<path stroke="#bf00bf" d="M163,990l2,88 2,0m0,0l14-13 14-34 13-47m0-86l14,19 14,38 13,48 14,42 13,30 14,5m0-174l15,3 15,38 15,49 15,51 14,27 15-5 15-35 15-39 15-30 15-42 15-11m0,90l13,46 14,28 13-4m0-170l15,11 15,37 15,53 15,44 15,24 15-4 15-31 14-46 15-53 15-32 15-3"/>
<path stroke="#bfbf00" d="M163,990l2,87 2,0m0,0l11-10 10-28 10-39 10-43m0-52l12,31 12,47 11,46 12,32 12,15 11-12 12-34m0-81l13-37 12-5 13,22 12,42 13,52 13,38 12,11 13-22 12-41 13-26 12-37 13-31 13,5m0,107l10,36 10,15 10-4 10-27m0-126l13-19 13,10 12,39 13,53 12,43 13,23 13-5 12-30 13-47 12-52 13-31 12-2 13,28"/>
<path stroke="#404040" d="M163,990l2,85 2,0m0,0l11-13 10-35 10-45 10-48m0-14l11,41 10,48 10,41 10,20 10-2 11-25 10-43 10-45m0,67l11-51 11-42 11-19 11,7 11,32 10,48 11,46 11,24 11-8 11-34 11-30 11-27 11-38 11-15 11,20m0,112l10,30 10-3 10-27 10-45m0-40l11-42 11-18 11,10 11,42 11,51 11,42 11,22 11-5 11-31 10-46 11-52 11-30 11,0 11,28 11,48"/>
<path stroke="#0000ff" d="M163,990l2,83 2,0m0,0l9-10 8-29 8-40 8-39 8-37m0,23l9,47 9,44 10,32 9,7 9-17 9-36 9-46 9-42 9-18m0,161l10-28 9-49 10-47 10-31 9-8 10,22 9,41 10,49 10,34 9,7 10-23 10-34 9-23 10-31 9-29 10,0 10,31m0,108l8,16 8-12 8-31 8-41 8-41m0,57l10-49 10-42 9-17 10,11 10,45 9,48 10,41 9,21 10-6 10-31 9-45 10-52 10-29 9,1 10,30 9,46 10,47"/>
<path stroke="#008000" d="M163,990l2,82 2,0m0,0l9-13 8-34 8-43 8-42 8-32m0,57l8,47 9,38 8,19 8-5 8-29 8-42 9-46 8-35 8-6 8,23m0,133l9,16 8-15 9-43 9-49 8-40 9-21 8,10 9,32 9,46 8,42 9,20 8-9 9-31 9-25 8-25 9-31 8-16 9,14 9,39m0,93l8,1 8-29 8-45 8-44 8-34m0,130l9-40 9-48 8-41 9-17 9,15 8,44 9,46 8,39 9,20 9-6 8-31 9-44 8-52 9-28 9,2 8,30 9,47 8,45 9,31"/>
<path stroke="#ff0000" d="M163,990l2,80 2,0m0,0l7-10 7-30 7-39 7-35 7-33 6-17m0,84l8,43 7,29 8,6 7-17 7-39 8-44 7-39 8-21 7,5 8,33 7,44m0,10l8,46 8,30 7-6 8-30 8-46 8-45 8-31 7-4 8,21 8,41 8,45 8,31 7,4 8-23 8-28 8-22 7-27 8-25 8-1 8,26 8,43m0,70l6-11 7-34 7-42 7-38 7-26 6-8m0,155l8-19 8-39 8-48 8-40 7-17 8,20 8,44 8,42 8,38 7,19 8-7 8-30 8-43 7-49 8-31 8,3 8,29 8,48 7,44 8,30 8,7"/>
<path stroke="#00bfbf" d="M163,990l2,79 2,0m0,0l7-13 7-33 7-41 7-37 7-28 6-6m0,103l7,36 7,18 7-9 7-28 6-42 7-43 7-28 7-6 7,18 6,40 7,45 7,40m0-118l7,40 7,49 7,36 8,10 7-17 7-38 7-47 7-38 7-18 7,9 7,32 7,44 8,39 7,16 7-11 7-26 7-22 7-24 7-26 7-16 7,14 7,35 8,44m0,39l6-26 7-44 7-41 7-29 7-7 6,17m0,127l8,6 7-20 7-39 7-47 7-39 7-14 7,22 7,43 7,38 8,38 7,18 7-8 7-30 7-41 7-48 7-32 7,4 7,31 8,46 7,43 7,29 7,6 7-20"/>
<path stroke="#bf00bf" d="M163,990l2,77 2,0m0,0l6-10 6-30 6-38 6-31 6-30 5-13 6,8m0,111l7,27 6,5 6-21 6-36 7-45 6-35 6-15 7,8 6,30 6,44 6,41 7,25 6,7m0-153l7,8 6,31 7,46 6,43 7,24 6-3 7-28 6-45 7-43 6-28 7-4 7,22 6,39 7,42 6,27 7,1 6-20 7-24 6-21 7-24 6-21 7-2 7,24 6,40 7,41m0,6l5-32 6-41 6-34 6-21 6-1 6,19 5,35m0,57l7,28 7,5 6-20 7-38 6-47 7-39 6-8 7,21 6,42 7,36 6,36 7,18 7-8 6-31 7-39 6-46 7-32 6,3 7,31 6,46 7,42 6,28 7,5 6-20 7-38"/>
<path stroke="#bfbf00" d="M163,990l2,76 2,0m0,0l6-13 6-32 6-39 6-32 6-25 5-5 6,21m0,109l6,15 6-8 6-30 6-41 6-43 5-25 6-1 6,21 6,38 6,42 6,36 5,12 6-12 6-29m0-75l6-29 6-5 6,22 6,41 6,45 6,33 6,12 7-16 6-38 6-46 6-36 6-15 6,9 6,32 6,41 6,34 6,15 6-12 6-23 6-22 6-20 6-23 6-12 6,11 6,32 7,42 6,32m0-26l5-41 6-38 6-26 6-4 6,19 6,37 5,41m0-27l7,40 6,27 6,4 6-20 6-37 6-47 6-36 6-6 6,25 6,37 6,34 6,35 6,16 6-8 6-30 6-38 6-44 6-30 7,0 6,31 6,47 6,40 6,27 6,4 6-20 6-37 6-45"/>
<path stroke="#404040" d="M163,990l2,74 2,0m0,0l6-10 5-29 5-37 5-28 5-25 5-13 5,11 5,29m0,98l6,2 5-19 6-37 5-43 6-35 5-13 5,11 6,32 5,41 6,38 5,24 6,2 5-24 6-39 5-40m0,53l6-44 5-37 6-16 6,12 5,32 6,42 6,41 5,23 6-2 5-30 6-44 6-40 5-26 6-3 6,22 5,37 6,39 6,24 5-1 6-18 5-21 6-20 6-21 5-18 6-3 6,23 5,37 6,39 6,21m0-55l5-37 5-31 5-17 5,4 5,22 5,36 5,39 5,26m0-100l6,42 6,39 5,26 6,3 6-20 5-37 6-45 6-33 5-5 6,27 6,34 5,31 6,34 5,16 6-9 6-30 5-36 6-39 6-32 5-2 6,32 6,46 5,39 6,26 5,3 6-20 6-37 5-42 6-34"/>
<path stroke="#0000ff" d="M163,990l2,73 2,0m0,0l6-12 5-32 5-36 5-29 5-22 5-5 5,20 5,38m0,78l5-10 6-29 5-40 5-39 5-25 5-2 5,24 5,38 5,39 5,30 6,12 5-11 5-31 5-42 5-38 5-17m0,138l5-27 6-43 5-42 5-24 5-2 6,22 5,37 5,43 6,33 5,10 5-18 5-37 6-43 5-34 5-15 5,11 6,31 5,39 5,31 6,10 5-10 5-20 5-23 6-16 5-20 5-10 5,9 6,30 5,39 5,31 6,9m0-76l5-36 5-23 5-2 5,20 5,36 5,41 5,31 5,7m0-136l6,27 5,41 5,38 6,25 5,2 5-20 5-36 6-45 5-29 5-3 6,27 5,30 5,31 5,33 6,14 5-9 5-29 5-35 6-35 5-33 5-1 6,30 5,45 5,38 5,25 6,3 5-21 5-36 5-42 6-31 5-11"/>
<path stroke="#008000" d="M163,990l2,71 2,0m0,0l5-10 5-28 4-36 5-25 4-22 5-10 4,9 5,29 4,38m0,54l5-21 5-36 5-41 5-31 4-13 5,10 5,33 5,40 5,35 4,20 5-1 5-22 5-37 5-42 4-29 5-7 5,19m0,118l5,10 5-16 5-37 5-44 5-32 5-13 5,10 5,30 5,40 5,40 5,21 5-5 4-29 5-41 5-38 5-25 5-1 5,22 5,36 5,35 5,20 5-1 5-16 5-19 5-19 5-19 5-16 5-1 5,20 5,34 5,36 5,21 5-4m0-88l4-28 5-14 4,7 5,24 4,35 5,38 4,26 5,7 4-16m0-124l5,3 5,26 5,42 5,37 5,24 5,2 5-21 5-35 5-43 5-27 5,1 5,25 5,26 5,30 5,32 5,14 5-10 5-29 5-33 5-30 5-36 4,0 5,28 5,45 5,37 5,24 5,2 5-20 5-36 5-42 5-30 5-7 5,14"/>
<path stroke="#ff0000" d="M163,990l2,69 2,0m0,0l5-11 5-30 4-35 5-25 4-20 5-4 4,17 5,36 4,38m0,26l5-30 4-39 5-37 4-22 5,0 5,21 4,38 5,39 4,27 5,9 4-13 5-30 4-40 5-37 4-19 5,6 5,28 4,38m0,14l5,38 4,22 5-4 5-30 4-42 5-37 5-23 4-1 5,20 5,36 4,42 5,30 5,8 4-18 5-36 5-40 5-33 4-11 5,11 5,29 4,36 5,28 5,8 4-8 5-18 5-24 4-14 5-17 5-8 4,8 5,28 5,35 4,30 5,8 5-15m0-92l4-20 5-1 4,20 5,34 4,40 5,30 4,8 5-15 4-34m0-71l5-19 5,2 4,29 5,40 5,36 5,23 4,1 5-20 5-35 4-41 5-26 5,5 4,23 5,23 5,30 4,31 5,13 5-10 4-29 5-32 5-27 4-34 5-1 5,26 4,44 5,36 5,23 4,1 5-20 5-35 4-41 5-30 5-6 4,17 5,34"/>
<path stroke="#00bfbf" d="M163,990l2,68 2,0m0,0l5-10 4-27 4-34 4-23 4-20 4-8 4,10 4,26 4,37 4,32m0-4l5-35 4-40 4-31 5-10 4,12 4,31 4,39 5,33 4,18 4-3 5-23 4-35 4-38 5-28 4-8 4,18 4,35 5,39 4,35m0-98l4,36 5,41 4,31 5,7 4-19 5-36 4-39 4-31 5-12 4,9 5,29 4,40 5,37 4,19 4-6 5-27 4-39 5-37 4-22 4,1 5,21 4,33 5,33 4,17 5-1 4-15 4-17 5-18 4-18 5-13 4,0 5,18 4,31 4,33 5,20 4-4 5-25m0-86l4-10 4,8 4,25 4,35 4,35 4,22 4,6 4-19 4-31 4-38m0,5l5-36 4-20 5,6 4,27 5,40 4,35 4,21 5,1 4-20 5-34 4-39 5-23 4,6 4,22 5,20 4,29 5,30 4,12 4-10 5-29 4-30 5-23 4-32 5-4 4,26 4,42 5,35 4,22 5,0 4-20 4-34 5-40 4-28 5-9 4,19 5,35 4,39"/>
<path stroke="#bf00bf" d="M163,990l2,66 2,0m0,0l5-11 4-29 4-32 4-23 4-18 4-3 4,16 4,32 4,36 4,27m0-32l4-38 4-36 5-21 4,2 4,23 4,35 4,38 4,25 4,7 4-14 4-30 4-37 4-33 5-17 4,5 4,26 4,39 4,36 4,22 4,7m0-131l4,9 4,29 5,40 4,37 4,18 4-7 4-27 5-39 4-35 4-22 4-1 4,20 5,35 4,40 4,28 4,6 4-18 5-34 4-38 4-29 4-10 4,11 5,28 4,34 4,24 4,7 4-8 4-16 5-22 4-13 4-15 4-7 4,9 5,24 4,33 4,26 4,10 4-16 5-32m0-73l4,0 4,20 4,33 4,38 4,27 4,6 4-14 4-33 4-38 4-33m0,75l5-38 4-36 4-16 4,5 4,26 5,40 4,34 4,20 4,1 4-21 5-33 4-38 4-19 4,7 4,20 5,18 4,29 4,28 4,12 4-11 5-28 4-29 4-20 4-29 4-7 4,25 5,41 4,34 4,20 4,1 4-21 5-33 4-40 4-27 4-6 4,16 5,36 4,38 4,29"/>
<path stroke="#bfbf00" d="M163,990l2,65 2,0m0,0l4-10 4-26 4-32 3-21 4-18 4-6 3,9 4,25 4,34 4,30 3,15m0-55l4-38 4-28 4-11 4,13 4,31 4,37 4,32 3,17 4-5 4-23 4-34 4-36 4-24 4-5 4,16 4,33 4,38 3,30 4,11 4-10 4-24m0-68l4-22 4-1 4,21 4,35 4,39 4,27 4,6 4-17 4-34 4-38 4-29 4-12 4,10 4,30 4,38 4,34 4,17 4-7 4-26 4-37 4-33 4-20 4,1 4,21 4,31 4,29 4,15 4-1 4-13 4-15 4-18 4-16 4-12 4,1 4,17 4,29 4,29 4,18 4-2 4-25 4-35m0-54l3,10 4,25 4,34 3,32 4,21 4-1 4-19 3-32 4-35 4-29 3-13m0,115l4-29 4-37 4-33 4-17 4,4 4,28 4,38 4,33 4,20 4,0 4-20 4-33 4-36 4-16 4,7 4,18 4,17 4,28 4,28 4,10 4-11 4-28 4-27 4-18 4-26 4-10 4,25 4,39 4,33 4,20 4,0 4-20 4-33 4-39 4-27 4-4 4,17 4,34 4,37 4,28 4,11"/>
<path stroke="#404040" d="M163,990l2,63 2,0m0,0l4-10 4-28 4-31 3-21 4-15 4-3 3,15 4,29 4,34 4,25 3,5m0-72l4-34 4-20 3,1 4,23 4,35 4,35 3,25 4,7 4-15 3-30 4-36 4-30 4-14 3,6 4,25 4,37 3,34 4,21 4,0 4-20 3-32 4-35m0,41l4-37 4-29 3-12 4,10 4,31 4,37 4,34 4,16 3-6 4-26 4-37 4-34 4-21 3,0 4,21 4,34 4,37 4,26 3,4 4-17 4-32 4-36 4-26 3-10 4,13 4,26 4,31 4,21 3,7 4-8 4-14 4-21 4-12 3-14 4-6 4,9 4,23 4,29 3,24 4,8 4-12 4-32 4-34m0-32l3,19 4,32 4,36 3,24 4,6 4-17 4-32 3-36 4-29 4-13 3,8m0,114l4-11 4-28 4-36 4-33 3-18 4,8 4,26 4,38 4,32 4,19 3-1 4-20 4-32 4-33 4-14 3,7 4,16 4,15 4,28 4,27 3,10 4-11 4-28 4-26 4-17 3-22 4-10 4,23 4,37 4,32 3,19 4-1 4-20 4-32 4-38 3-25 4-6 4,19 4,33 4,36 3,27 4,10 4-11"/>
<path stroke="#0000ff" d="M163,990l2,62 2,0m0,0l4-10 3-25 4-30 3-19 3-16 4-6 3,10 4,23 3,32 4,28 3,13 3-6m0-84l4-26 3-9 4,12 4,30 3,35 4,30 3,16 4-4 3-23 4-34 3-34 4-22 4-3 3,17 4,31 3,35 4,28 3,12 4-10 3-28 4-35 4-33 3-14m0,115l4-26 3-37 4-33 4-21 3,1 4,21 4,34 3,36 4,25 3,5 4-17 4-32 3-36 4-28 4-10 3,12 4,27 3,36 4,32 4,14 3-6 4-25 4-35 3-31 4-18 4,3 3,19 4,29 3,27 4,13 4-1 3-11 4-15 4-17 3-15 4-10 4,1 3,16 4,27 3,26 4,16 4-2 3-22 4-34 4-30m0-8l3,25 3,32 4,32 3,15 4-2 3-21 3-32 4-33 3-25 4-9 3,9 3,25m0,76l4,8 4-11 3-27 4-36 4-32 3-15 4,6 4,27 3,37 4,31 3,18 4-1 4-21 3-31 4-31 4-11 3,7 4,13 4,15 3,28 4,25 3,9 4-11 4-27 3-26 4-15 4-19 3-9 4,20 3,36 4,31 4,18 3-1 4-20 4-32 3-37 4-25 4-4 3,18 4,34 3,35 4,26 4,9 3-12 4-27"/>
<path stroke="#008000" d="M163,990l2,60 2,0m0,0l4-10 3-26 4-30 3-18 3-14 4-3 3,14 4,26 3,33 4,23 3,5 3-15m0-87l4-18 3,2 4,21 3,34 3,33 4,23 3,5 4-13 3-29 3-35 4-28 3-12 4,7 3,25 3,34 4,31 3,19 4,1 3-19 3-32 4-36 3-25 4-6 3,15m0,102l4,5 3-16 4-33 3-36 3-27 4-9 3,12 4,28 3,35 4,31 3,15 4-6 3-25 4-36 3-32 4-19 3,1 4,20 3,32 4,35 3,23 4,4 3-16 4-31 3-33 4-25 3-7 3,12 4,25 3,28 4,19 3,6 4-7 3-13 4-19 3-12 4-13 3-5 4,9 3,21 4,27 3,22 4,6 3-12 4-29 3-33 4-24m0,16l3,30 3,35 4,23 3,2 4-16 3-32 3-34 4-26 3-11 4,9 3,26 3,33m0,14l4,25 3,8 4-12 3-27 4-35 3-31 4-14 3,7 4,26 3,37 4,30 3,17 4-2 3-20 4-31 3-28 4-10 3,7 4,11 3,14 4,28 3,24 3,9 4-12 3-27 4-24 3-14 4-16 3-8 4,17 3,35 4,30 3,17 4-2 3-20 4-31 3-36 4-25 3-2 4,18 3,33 4,34 3,25 4,8 3-11 4-28 3-34"/>
<path stroke="#ff0000" d="M163,990l2,58 2,0m0,0l4-9 3-24 3-29 3-17 3-14 3-4 3,9 4,21 3,30 3,26 3,12 3-7 3-22m0-83l4-7 3,12 3,29 3,34 4,28 3,13 3-4 3-22 4-32 3-33 3-20 4-2 3,18 3,30 3,32 4,25 3,9 3-9 3-26 4-34 3-31 3-16 4,4 3,23 3,32m0,16l3,31 4,15 3-6 3-26 4-36 3-31 3-17 4,1 3,20 3,31 4,34 3,23 3,5 4-16 3-32 3-34 4-25 3-9 3,11 4,26 3,35 3,28 4,13 3-6 4-24 3-32 3-29 4-16 3,3 3,19 4,27 3,23 3,12 4-1 3-10 3-14 4-15 3-15 3-8 4,2 3,14 3,25 4,24 3,14 3-3 4-21 3-31 3-30 4-15m0,37l3,31 3,29 3,14 3-5 3-22 3-32 4-30 3-22 3-6 3,11 3,26 3,32 3,26m0-48l4,33 3,24 3,7 4-12 3-26 4-34 3-30 3-15 4,9 3,26 3,35 4,29 3,16 3-2 4-20 3-30 3-25 4-9 3,6 3,10 4,14 3,27 3,24 4,7 3-11 3-27 4-23 3-14 3-12 4-8 3,14 3,34 4,29 3,16 3-2 4-19 3-31 3-36 4-22 3-3 3,19 4,32 3,33 3,24 4,7 3-11 3-27 4-33 3-30"/>
<path stroke="#00bfbf" d="M163,990l2,57 2,0m0,0l4-10 3-25 3-28 3-17 3-12 3-1 3,12 4,24 3,31 3,21 3,4 3-14 3-29m0-71l3,3 4,21 3,32 3,32 3,21 3,4 3-14 3-27 4-33 3-27 3-11 3,8 3,25 3,32 3,28 4,17 3-1 3-18 3-30 3-33 3-24 3-6 4,15 3,29 3,32 3,30m0-79l3,31 3,34 4,23 3,5 3-17 3-33 4-33 3-24 3-8 3,11 3,26 4,33 3,29 3,14 3-6 3-24 4-35 3-30 3-17 3,2 3,19 4,31 3,32 3,21 3,3 3-16 4-29 3-31 3-22 3-6 3,11 4,24 3,25 3,18 3,5 4-6 3-12 3-17 3-13 3-11 4-4 3,9 3,19 3,25 3,19 4,5 3-11 3-27 3-31 3-24 4-5m0,53l3,31 3,22 3,2 3-17 3-31 3-32 4-24 3-8 3,9 3,25 3,33 3,29 3,11m0-91l4,30 3,32 3,23 3,7 4-12 3-26 3-33 3-30 3-13 4,8 3,26 3,35 3,28 3,15 4-2 3-20 3-30 3-23 3-7 4,4 3,10 3,13 3,27 3,23 4,7 3-12 3-26 3-22 3-13 4-10 3-7 3,13 3,32 3,28 4,15 3-2 3-20 3-30 4-34 3-22 3-2 3,18 3,32 4,32 3,23 3,7 3-12 3-26 4-33 3-28 3-13"/>
<path stroke="#bf00bf" d="M163,990l2,55 2,0m0,0l3-8 3-23 3-28 3-16 3-12 3-3 3,8 3,20 3,28 3,24 3,11 2-7 3-22 3-31m0-54l3,13 3,27 3,33 3,27 3,12 3-5 4-22 3-30 3-31 3-19 3-1 3,17 3,29 3,31 3,23 3,7 3-10 3-24 3-32 3-29 3-15 3,4 3,23 3,32 3,30 3,18 3,6m0-109l3,11 3,25 3,34 3,30 4,14 3-8 3-26 3-33 3-29 3-16 3,2 3,19 3,29 3,33 3,22 3,4 4-17 3-31 3-32 3-23 3-8 3,11 3,26 3,32 3,26 3,12 3-7 3-23 4-30 3-27 3-13 3,3 3,17 3,26 3,21 3,11 3-1 3-9 3-13 3-15 4-13 3-8 3,2 3,14 3,22 3,23 3,12 3-4 3-19 3-29 3-27 4-17 3,4m0,65l3,26 2,13 3-6 3-23 3-31 3-27 3-19 3-4 3,13 3,25 3,31 3,26 3,13 2-8m0-101l4,17 3,29 3,31 3,22 3,6 3-12 3-25 3-33 3-28 3-12 3,7 4,26 3,34 3,27 3,15 3-3 3-20 3-29 3-20 3-7 3,4 3,9 3,13 4,26 3,22 3,6 3-12 3-25 3-21 3-12 3-9 3-6 3,13 3,29 3,27 4,15 3-3 3-19 3-30 3-33 3-21 3-1 3,17 3,32 3,31 3,22 3,6 4-12 3-25 3-32 3-27 3-11 3,7"/>
<path stroke="#bfbf00" d="M163,990l2,54 2,0m0,0l3-9 3-24 3-26 3-16 3-11 3-1 3,11 3,22 3,30 3,20 3,3 2-14 3-27 3-32m0-32l3,21 3,30 3,30 3,20 3,3 3-14 3-26 3-31 3-25 3-11 2,9 3,24 3,31 3,26 3,15 3-2 3-17 3-28 3-31 3-21 3-6 3,13 2,29 3,31 3,25 3,10 3-8 3-20m0-59l3-16 3,1 3,19 3,30 3,33 3,21 3,2 3-17 3-30 3-30 3-23 3-6 3,10 3,25 3,31 3,28 3,14 3-8 3-25 3-32 3-27 2-16 3,1 3,20 3,29 3,30 3,19 3,2 3-16 3-27 3-28 3-20 3-5 3,11 3,22 3,23 3,16 3,4 3-5 3-11 3-16 3-12 3-10 3-3 3,8 3,18 3,22 3,18 3,4 3-11 3-25 3-28 3-22 3-8 3,13m0,70l3,19 2,3 3-18 3-29 3-30 3-22 3-7 3,10 3,25 3,30 3,27 3,13 3-5 2-23m0-76l3-2 3,17 3,29 3,30 3,21 3,5 3-12 3-25 3-31 3-27 3-13 3,9 3,26 3,33 3,26 3,14 3-4 3-19 3-28 3-19 3-5 3,2 3,9 3,12 3,26 3,21 3,6 3-12 3-25 3-19 3-12 3-8 3-4 3,11 3,28 3,26 2,14 3-4 3-19 3-29 3-32 3-20 3-1 3,18 3,31 3,30 3,21 3,5 3-11 3-25 3-32 3-25 3-10 3,8 3,23"/>
<path stroke="#404040" d="M163,990l2,52 2,0m0,0l3-8 3-22 3-26 2-15 3-10 3-3 3,8 2,18 3,27 3,22 2,9 3-7 3-21 3-29 2-29m0-8l3,26 3,31 3,25 3,12 2-6 3-21 3-29 3-28 3-18 3-1 2,16 3,29 3,29 3,21 3,6 2-10 3-24 3-29 3-26 3-13 3,4 2,21 3,31 3,28 3,18 3,0 2-16 3-26 3-29m0,30l3-30 3-23 3-7 3,11 2,25 3,32 3,27 3,11 3-8 3-23 3-31 3-26 2-15 3,2 3,18 3,28 3,32 3,20 3,2 2-16 3-29 3-30 3-22 3-7 3,11 3,25 3,30 2,24 3,10 3-7 3-22 3-28 3-24 3-12 2,3 3,17 3,23 3,20 3,10 3-2 3-8 3-12 2-14 3-12 3-6 3,2 3,13 3,20 3,20 3,12 2-4 3-19 3-26 3-26 3-14 3,1 3,19m0,68l2,11 3-6 3-22 3-30 2-25 3-16 3-2 2,14 3,25 3,29 3,24 2,9 3-7 3-21 2-28m0-28l3-18 3-1 3,16 3,29 3,29 3,20 3,5 2-12 3-25 3-31 3-26 3-11 3,8 3,26 3,32 2,25 3,13 3-3 3-19 3-28 3-17 3-5 2,2 3,9 3,11 3,26 3,20 3,5 3-12 3-25 2-18 3-10 3-8 3-2 3,10 3,26 3,25 2,13 3-3 3-19 3-28 3-32 3-19 3-1 3,19 2,30 3,29 3,20 3,5 3-12 3-25 3-30 3-25 2-9 3,9 3,23 3,30"/>
<path stroke="#0000ff" d="M163,990l2,51 2,0m0,0l3-9 3-22 3-25 2-15 3-9 3-1 3,11 2,19 3,28 3,19 2,3 3-14 3-25 3-30 2-24m0,13l3,30 3,28 2,18 3,4 3-14 3-25 2-29 3-24 3-9 3,8 2,23 3,29 3,25 2,14 3-3 3-17 3-26 2-29 3-19 3-4 3,13 2,26 3,30 3,24 2,8 3-8 3-22 3-29 2-27 3-12m0,93l3-23 3-30 2-27 3-15 3,2 3,19 2,29 3,30 3,19 3,1 3-16 2-27 3-29 3-20 3-7 2,11 3,23 3,31 3,26 3,10 2-7 3-23 3-30 3-26 2-15 3,3 3,19 3,27 2,28 3,17 3,1 3-15 3-25 2-26 3-18 3-4 3,10 2,21 3,21 3,14 3,4 2-5 3-10 3-15 3-11 3-9 2-2 3,7 3,17 3,20 2,16 3,4 3-11 3-23 3-26 2-21 3-6 3,9 3,25m0,60l2,1 3-15 3-28 3-28 2-20 3-5 3,10 2,23 3,29 3,26 3,11 2-7 3-20 3-29 2-27m0,28l3-28 3-17 3-2 3,18 2,28 3,28 3,19 3,4 2-12 3-24 3-30 3-26 3-9 2,8 3,26 3,31 3,24 2,12 3-4 3-19 3-26 2-16 3-5 3,3 3,8 3,11 2,25 3,19 3,4 3-12 2-24 3-17 3-10 3-7 2-1 3,10 3,25 3,24 3,12 2-4 3-19 3-27 3-31 2-18 3,1 3,17 3,30 3,28 2,19 3,4 3-12 3-24 2-29 3-25 3-8 3,9 2,24 3,29 3,24"/>
<path stroke="#008000" d="M163,990l2,49 2,0m0,0l3-8 3-20 2-25 3-13 2-10 3-2 2,8 3,16 2,25 3,21 3,8 2-7 3-21 2-27 3-25 2-18m0,34l3,29 3,24 2,10 3-5 3-19 2-28 3-27 2-16 3,0 3,15 2,27 3,28 3,19 2,5 3-10 3-22 2-28 3-24 2-11 3,5 3,20 2,28 3,26 3,17 2,0 3-16 3-26 2-29 3-20 2-6 3,13m0,84l3,2 2-15 3-28 3-29 2-21 3-6 3,12 3,24 2,30 3,24 3,10 2-8 3-22 3-28 2-25 3-14 3,3 2,17 3,28 3,28 2,19 3,1 3-16 2-27 3-28 3-20 2-6 3,11 3,24 2,27 3,23 3,9 3-8 2-20 3-26 3-22 2-11 3,4 3,16 2,21 3,18 3,8 2-1 3-7 3-11 2-14 3-11 3-5 2,2 3,12 3,19 2,18 3,10 3-4 3-17 2-25 3-23 3-14 2,3 3,16 3,26m0,47l2-7 3-20 2-28 3-23 2-14 3,0 2,15 3,23 3,28 2,21 3,8 2-9 3-21 2-28 3-24 2-16m0,70l3-27 3-27 3-17 2,0 3,18 3,27 2,27 3,18 3,4 2-12 3-24 3-29 2-24 3-11 3,10 2,26 3,29 3,23 2,12 3-5 3-18 2-25 3-14 3-5 2,2 3,7 3,11 3,25 2,18 3,4 3-12 2-24 3-16 3-9 2-7 3,1 3,9 2,23 3,23 3,12 2-5 3-18 3-27 2-30 3-17 3,1 2,18 3,29 3,27 3,18 2,4 3-12 3-24 2-28 3-23 3-10 2,10 3,24 3,28 2,24 3,11"/>
<path stroke="#ff0000" d="M163,990l2,47 1,0 1,0m0,0l3-7 3-22 2-23 3-13 2-9 3,0 2,10 3,17 2,27 3,17 3,3 2-13 3-24 2-27 3-22 2-10m0,49l3,27 2,17 3,2 3-12 2-24 3-28 2-22 3-8 2,8 3,22 2,28 3,23 3,13 2-3 3-17 2-25 3-27 2-17 3-3 2,13 3,24 3,27 2,21 3,9 2-8 3-21 2-28 3-25 2-13 3,3 3,18 2,26m0,16l3,24 2,10 3-7 2-22 3-29 3-25 2-13 3,4 2,18 3,26 3,27 2,17 3,1 2-15 3-26 3-26 2-20 3-5 2,10 3,23 3,29 2,23 3,10 2-8 3-22 3-28 2-24 3-12 2,3 3,17 3,26 2,25 3,16 2,0 3-14 3-23 2-25 3-16 2-3 3,11 2,19 3,19 3,13 2,3 3-5 2-9 3-14 3-10 2-9 3-1 2,7 3,15 3,19 2,14 3,3 2-11 3-21 3-24 2-18 3-6 2,10 3,22 3,26m0,29l2-15 3-25 2-26 3-17 2-5 3,11 2,22 3,27 3,23 2,10 3-6 2-21 3-28 2-24 3-15 2,0m0,85l3-18 3-26 2-27 3-16 2,2 3,16 3,27 2,25 3,18 2,3 3-12 3-23 2-28 3-24 2-9 3,10 3,25 2,28 3,22 2,11 3-4 3-18 2-24 3-13 2-5 3,2 3,7 2,10 3,25 2,17 3,3 3-12 2-23 3-15 2-9 3-5 3,1 2,8 3,22 2,23 3,10 2-4 3-18 3-27 2-28 3-16 2,0 3,19 3,28 2,25 3,18 2,3 3-12 3-23 2-27 3-22 2-8 3,8 3,24 2,27 3,23 2,11 3-5"/>
<path stroke="#00bfbf" d="M163,990l2,46 1,0 1,0m0,0l3-7 2-20 3-23 2-13 2-8 3-1 2,7 3,15 2,24 2,19 3,7 2-7 3-20 2-25 3-23 2-15 2-2m0,60l3,22 2,9 3-5 2-18 3-26 2-25 3-15 2,0 3,15 2,25 3,26 2,19 3,4 2-10 2-22 3-26 2-22 3-10 2,5 3,19 2,26 3,24 2,14 3,1 2-15 3-24 2-28 3-19 2-5 3,11 2,23 3,27 2,24m0-61l3,26 2,26 3,18 2,1 3-15 2-27 3-27 2-19 3-4 2,11 3,22 2,27 3,22 2,9 3-7 2-21 3-27 2-23 3-12 2,2 3,18 2,25 3,27 2,17 3,0 2-15 3-25 3-26 2-19 3-4 2,10 3,22 2,26 3,20 2,8 3-7 2-19 3-24 2-20 3-10 2,5 3,15 2,19 3,15 2,8 3-1 2-6 3-10 2-14 3-10 2-4 3,2 2,12 3,16 2,17 3,9 2-4 3-16 3-23 2-21 3-12 2,2 3,16 2,24 3,25m0,9l2-19 2-25 3-21 2-12 3,1 2,15 2,22 3,26 2,18 3,6 2-9 2-21 3-26 2-22 3-13 2,2 2,15m0,70l3-4 3-18 2-26 3-25 2-15 3,1 2,16 3,27 2,24 3,17 2,2 3-11 2-23 3-27 2-23 3-8 2,11 3,24 2,27 3,21 2,10 3-5 2-18 3-23 2-11 3-5 2,2 3,7 2,10 3,23 2,17 3,3 2-12 3-23 3-14 2-8 3-5 2,1 3,9 2,21 3,21 2,10 3-5 2-18 3-25 2-28 3-15 2,1 3,18 2,28 3,24 2,17 3,3 2-12 3-22 2-28 3-20 2-7 3,9 2,22 3,27 2,21 3,10 2-4 3-18"/>
<path stroke="#bf00bf" d="M163,990l2,44 1,0 1,0m0,0l3-7 2-20 3-22 2-12 2-7 3,0 2,8 3,17 2,24 2,16 3,3 2-13 3-22 2-25 3-20 2-8 2,6m0,64l3,15 2,2 3-12 2-22 2-27 3-20 2-7 3,9 2,20 2,25 3,23 2,12 3-4 2-16 2-24 3-25 2-16 3-2 2,13 2,23 3,24 2,19 3,7 2-7 2-20 3-26 2-24 3-12 2,4 2,18 3,26 2,23 3,15 2,5m0-87l3,10 2,22 2,27 3,22 2,9 3-7 2-22 3-27 2-23 2-11 3,4 2,17 3,24 2,25 3,16 2,0 3-14 2-25 2-25 3-18 2-5 3,11 2,22 3,26 2,22 3,8 2-7 2-21 3-26 2-22 3-11 2,3 3,16 2,25 2,23 3,14 2,0 3-14 2-22 3-22 2-14 3-3 2,11 2,17 3,17 2,12 3,3 2-4 3-9 2-13 3-10 2-7 2-1 3,7 2,14 3,16 2,13 3,3 2-10 3-20 2-22 2-16 3-5 2,9 3,20 2,25 3,20m0-9l2-24 2-23 3-16 2-3 3,10 2,21 2,26 3,21 2,7 3-7 2-19 2-26 3-22 2-13 3,2 2,15 2,24m0,34l3,9 2-5 3-18 2-24 3-25 2-13 3,1 2,15 2,26 3,24 2,16 3,2 2-12 3-21 2-27 3-22 2-8 2,12 3,23 2,26 3,20 2,9 3-4 2-18 2-22 3-11 2-4 3,1 2,7 3,10 2,23 3,16 2,2 2-12 3-21 2-14 3-7 2-5 3,1 2,9 3,20 2,20 2,10 3-5 2-18 3-25 2-26 3-15 2,2 3,17 2,27 2,24 3,16 2,2 3-12 2-21 3-27 2-20 2-6 3,10 2,21 3,26 2,20 3,10 2-5 3-17 2-25"/>
<path stroke="#bfbf00" d="M163,990l2,43 1,0 1,0m0,0l3-8 2-20 3-21 2-12 2-6 3,2 2,10 3,19 2,22 2,13 3-2 2-17 3-24 2-23 3-15 2-2 2,13m0,62l3,9 2-6 3-19 2-26 2-23 3-12 2,4 3,18 2,25 2,23 3,14 2-1 3-15 2-23 2-25 3-16 2-2 3,13 2,23 2,24 3,17 2,5 3-10 2-21 2-25 3-22 2-8 3,9 2,21 2,26 3,21 2,10 3-6 2-16m0-49l3-11 2,3 2,18 3,26 2,25 3,14 2-3 3-19 2-27 2-23 3-13 2,1 3,15 2,24 3,25 2,16 3,1 2-15 2-25 3-25 2-17 3-1 2,13 3,23 2,26 3,18 2,4 2-13 3-23 2-25 3-18 2-5 3,10 2,21 2,25 3,18 2,6 3-9 2-20 3-22 2-17 3-6 2,8 2,16 3,18 2,12 3,4 2-4 3-8 2-13 3-10 2-7 2,0 3,8 2,14 3,16 2,11 3,0 2-13 3-21 2-20 2-13 3,0 2,15 3,23 2,22 3,16m0-27l2-24 2-19 3-9 2,5 3,18 2,25 2,23 3,12 2-4 3-18 2-25 2-23 3-13 2,0 3,15 2,24 2,23m0-11l3,20 2,9 3-7 2-19 3-25 2-22 3-11 2,4 2,20 3,26 2,22 3,11 2-4 3-16 2-25 3-26 2-15 2,4 3,19 2,26 3,22 2,14 3-1 2-14 2-23 3-12 2-6 3,1 2,6 3,9 2,22 3,16 2,3 2-12 3-22 2-13 3-6 2-4 3,3 2,9 3,22 2,18 2,5 3-9 2-21 3-27 2-22 3-8 2,10 3,23 2,26 2,20 3,8 2-6 3-19 2-25 3-23 2-11 2,7 3,19 2,26 3,21 2,11 3-4 2-16 3-25 2-24"/>
<path stroke="#404040" d="M163,990l2,41 1,0 1,0m0,0l3-7 2-21 3-21 2-10 2-5 3,3 2,12 3,20 2,21 2,8 3-7 2-19 3-25 2-20 3-10 2,6 2,19m0,54l3,1 2-14 3-23 2-25 2-17 3-2 2,14 3,24 2,24 2,16 3,3 2-12 3-23 2-25 2-17 3-3 2,13 3,22 2,24 2,17 3,3 2-11 3-22 2-25 2-19 3-4 2,12 3,24 2,25 2,17 3,4 2-11 3-21 2-25m0,21l3-25 2-16 2-2 3,14 2,24 3,26 2,17 3,1 2-16 2-26 3-23 2-15 3,0 2,15 3,23 2,25 3,15 2,0 2-16 3-26 2-24 3-13 2,1 3,16 2,24 3,25 2,14 2-3 3-17 2-25 3-23 2-12 3,2 2,17 2,24 3,22 2,11 3-4 2-17 3-22 2-19 3-8 2,6 2,14 3,17 2,13 3,5 2-3 3-8 2-13 3-9 2-7 2,0 3,9 2,14 3,15 2,9 3-3 2-15 3-21 2-18 2-9 3,6 2,18 3,24 2,19 3,9m0-39l2-22 2-14 3-1 2,13 3,23 2,24 2,16 3,1 2-15 3-24 2-23 2-16 3-1 2,13 3,23 2,25 2,13m0-47l3,25 2,18 3,7 2-8 3-21 2-25 3-20 2-8 2,11 3,23 2,24 3,18 2,6 3-10 2-21 3-26 2-21 2-4 3,13 2,23 3,24 2,17 3,4 2-11 2-21 3-15 2-7 3,0 2,5 3,9 2,21 3,17 2,2 2-12 3-22 2-11 3-6 2-3 3,4 2,11 3,22 2,15 2,1 3-13 2-22 3-28 2-17 3,0 2,17 3,26 2,23 2,14 3,0 2-15 3-23 2-25 3-15 2,1 2,17 3,26 2,22 3,13 2-2 3-15 2-24 3-24 2-14"/>
<path stroke="#0000ff" d="M163,990l2,40 1,0 1,0m0,0l3-8 2-20 3-21 2-9 2-4 3,4 2,13 3,22 2,18 2,4 3-11 2-22 3-23 2-17 3-3 2,11 2,23m0,43l3-6 2-20 3-25 2-21 2-9 3,9 2,21 3,25 2,19 2,6 3-9 2-21 3-25 2-19 2-4 3,11 2,23 3,23 2,17 2,2 3-12 2-21 3-25 2-16 2-2 3,14 2,25 3,24 2,14 2-1 3-15 2-24 3-23 2-12m0,71l3-21 2-25 2-20 3-7 2,10 3,22 2,26 3,19 2,3 2-13 3-24 2-24 3-15 2,0 3,14 2,23 3,25 2,13 2-2 3-18 2-26 3-22 2-10 3,6 2,19 3,25 2,21 2,8 3-9 2-22 3-24 2-19 3-4 2,11 2,21 3,24 2,15 3,1 2-13 3-21 2-20 3-11 2,3 2,13 3,17 2,14 3,5 2-2 3-8 2-13 3-9 2-6 2,1 3,9 2,14 3,14 2,7 3-5 2-17 3-21 2-16 2-4 3,11 2,21 3,23 2,14 3,2m0-47l2-19 2-7 3,8 2,19 3,25 2,19 2,6 3-10 2-23 3-24 2-17 2-4 3,11 2,22 3,24 2,17 2,0m0-67l3,22 2,24 3,17 2,4 3-11 2-22 3-25 2-17 2-1 3,15 2,25 3,22 2,13 3-2 2-15 3-24 2-25 2-11 3,6 2,20 3,25 2,19 3,8 2-7 2-19 3-17 2-8 3-2 2,5 3,8 2,21 3,16 2,3 2-13 3-22 2-10 3-5 2-2 3,5 2,13 3,22 2,12 2-3 3-17 2-25 3-25 2-11 3,8 2,22 3,26 2,19 2,6 3-8 2-20 3-26 2-19 3-4 2,12 2,24 3,24 2,15 3,1 2-13 3-23 2-24 3-14 2,1"/>
<path stroke="#008000" d="M163,990l2,38 1,0 1,0m0,0l3-8 2-20 3-19 2-9 2-3 3,6 2,13 3,23 2,15 2,0 3-14 2-24 3-21 2-12 3,2 2,17 2,25m0,29l3-14 2-22 3-25 2-14 2,1 3,17 2,24 3,22 2,10 2-5 3-18 2-25 3-20 2-7 2,9 3,21 2,24 3,17 2,3 2-12 3-22 2-23 3-15 2,0 2,16 3,24 2,23 3,11 2-5 2-18 3-25 2-20 3-8 2,10m0,66l3-1 2-17 2-25 3-22 2-11 3,7 2,20 3,26 2,20 2,5 3-12 2-24 3-23 2-15 3,1 2,14 3,24 2,23 2,12 3-5 2-21 3-25 2-19 3-6 2,10 3,21 2,25 2,17 3,0 2-15 3-24 2-22 3-12 2,5 2,18 3,23 2,19 3,6 2-9 3-19 2-21 3-13 2,0 2,12 3,16 2,14 3,6 2-2 3-8 2-12 3-9 2-6 2,2 3,10 2,14 3,13 2,4 3-7 2-19 3-19 2-13 2,1 3,14 2,23 3,21 2,8 3-5m0-50l2-13 2,0 3,14 2,23 3,23 2,11 2-5 3-19 2-24 3-20 2-7 2,8 3,20 2,24 3,18 2,4 2-14m0-61l3,11 2,22 3,23 2,15 3,0 2-14 3-23 2-24 2-12 3,5 2,20 3,25 2,19 3,6 2-9 3-21 2-26 2-17 3,0 2,15 3,24 2,22 3,11 2-3 2-17 3-19 2-9 3-2 2,4 3,7 2,20 3,17 2,2 2-12 3-22 2-9 3-5 2-1 3,6 2,16 3,20 2,8 2-7 3-19 2-26 3-21 2-4 3,14 2,25 3,23 2,13 2-1 3-15 2-24 3-23 2-10 3,7 2,21 2,24 3,18 2,5 3-11 2-21 3-24 2-15 3-1 2,16"/>
<path stroke="#ff0000" d="M163,990l2,37 1,0 1,0m0,0l3-8 2-21 3-18 2-8 2-2 3,7 2,15 3,22 2,12 2-4 3-17 2-23 3-19 2-7 3,8 2,21 2,24m0,13l3-18 2-25 3-20 2-6 2,10 3,23 2,23 3,15 2,0 2-15 3-23 2-23 3-10 2,7 2,19 3,24 2,17 3,5 2-11 2-21 3-23 2-15 3,2 2,16 2,24 3,21 2,9 3-7 2-21 2-24 3-18 2-3 3,13 2,23m0,15l3,19 2,4 2-13 3-25 2-23 3-13 2,4 3,19 2,25 2,20 3,6 2-11 3-24 2-22 3-14 2,2 3,16 2,24 2,21 3,9 2-9 3-23 2-24 3-15 2-1 3,15 2,23 2,23 3,9 2-7 3-20 2-24 3-17 2-2 2,12 3,22 2,21 3,11 2-5 3-17 2-20 3-15 2-2 2,9 3,16 2,14 3,7 2-1 3-8 2-12 3-9 2-5 2,2 3,10 2,15 3,11 2,2 3-10 2-19 3-18 2-9 2,6 3,17 2,23 3,17 2,1 3-11m0-48l2-6 2,7 3,19 2,25 3,16 2,1 2-14 3-24 2-21 3-11 2,4 2,18 3,24 2,19 3,6 2-10 2-22m0-37l3-3 2,13 3,23 2,22 3,11 2-4 3-17 2-24 2-20 3-6 2,11 3,24 2,22 3,13 2-2 3-15 2-24 2-22 3-7 2,10 3,22 2,22 3,15 2,1 2-15 3-20 2-9 3-3 2,3 3,6 2,20 3,16 2,3 2-13 3-21 2-8 3-5 2,0 3,7 2,18 3,17 2,5 2-11 3-21 2-25 3-16 2,2 3,20 2,26 3,19 2,6 2-8 3-20 2-25 3-16 2,0 3,16 2,24 2,21 3,9 2-7 3-19 2-24 3-17 2-3 3,14 2,23"/>
<path stroke="#00bfbf" d="M163,990l2,35 1,0 1,0m0,0l3-8 2-20 3-18 2-7 2,0 3,8 2,16 3,20 2,9 2-7 3-20 2-22 3-16 2-1 3,13 2,23 2,21m0-2l3-22 2-23 3-13 2,2 2,18 3,24 2,18 3,6 2-10 2-21 3-23 2-14 3,2 2,17 2,24 3,19 2,6 3-10 2-20 2-23 3-14 2,1 3,17 2,23 2,20 3,7 2-8 3-22 2-24 2-15 3,1 2,17 3,23 2,22m0-44l3,24 2,21 2,7 3-10 2-23 3-24 2-13 3,2 2,18 2,24 3,20 2,5 3-12 2-22 3-22 2-12 3,4 2,17 2,24 3,20 2,4 3-14 2-24 3-21 2-11 3,5 2,19 2,24 3,17 2,2 3-14 2-23 3-21 2-9 2,7 3,20 2,22 3,14 2-1 3-13 2-20 3-17 2-4 2,7 3,15 2,14 3,8 2-1 3-7 2-12 3-8 2-5 2,3 3,10 2,14 3,10 2,0 3-12 2-19 3-16 2-5 2,9 3,20 2,22 3,12 2-6 3-16m0-41l2,0 2,14 3,22 2,21 3,9 2-9 2-21 3-23 2-15 3,0 2,14 2,23 3,21 2,8 3-7 2-20 2-24m0-1l3-15 2,0 3,15 2,24 3,19 2,7 3-9 2-20 2-23 3-15 2,1 3,18 2,24 3,18 2,6 3-10 2-21 2-24 3-13 2,5 3,18 2,23 3,17 2,4 2-11 3-21 2-10 3-4 2,3 3,5 2,19 3,17 2,2 2-12 3-21 2-8 3-3 2,1 3,7 2,19 3,15 2,1 2-13 3-23 2-23 3-11 2,9 3,24 2,23 3,14 2,0 2-15 3-23 2-22 3-7 2,10 3,23 2,22 2,13 3-2 2-16 3-23 2-20 3-5 2,11 3,22 2,22"/>
<path stroke="#bf00bf" d="M163,990l2,33 1,0 1,0m0,0l3-8 2-20 3-16 2-7 2,1 3,9 2,17 3,19 2,5 2-11 3-21 2-20 3-11 2,4 3,17 2,23 2,17m0-16l3-24 2-19 3-5 2,10 2,23 3,21 2,11 3-4 2-17 2-24 3-17 2-3 3,14 2,23 2,20 3,8 2-7 3-19 2-22 2-15 3,1 2,15 3,23 2,19 2,6 3-9 2-22 3-23 2-13 2,5 3,18 2,23 3,17 2,5m0-65l3,12 2,22 2,23 3,10 2-8 3-21 2-24 3-14 2,2 2,16 3,24 2,19 3,4 2-12 3-23 2-21 3-9 2,6 2,19 3,24 2,16 3-1 2-18 3-23 2-19 3-4 2,11 2,22 3,22 2,9 3-6 2-20 3-22 2-14 2,1 3,15 2,21 3,18 2,3 3-10 2-19 3-17 2-7 2,6 3,14 2,14 3,7 2,0 3-6 2-12 3-8 2-5 2,4 3,10 2,14 3,8 2-2 3-13 2-19 3-13 2-1 2,12 3,21 2,20 3,5 2-11 3-20m0-30l2,6 2,18 3,23 2,15 3-1 2-16 2-23 3-18 2-6 3,10 2,20 2,23 3,12 2-5 3-18 2-23 2-17m0,32l3-23 2-12 3,3 2,19 3,23 2,16 3,1 2-13 2-22 3-21 2-9 3,10 2,22 3,22 2,12 3-4 2-16 2-24 3-17 2-1 3,14 2,22 3,19 2,7 2-8 3-19 2-12 3-5 2,2 3,5 2,18 3,16 2,3 2-13 3-20 2-7 3-3 2,2 3,8 2,20 3,12 2-2 2-16 3-24 2-19 3-5 2,15 3,25 2,19 3,8 2-7 2-19 3-24 2-14 3,2 2,18 3,23 2,17 2,4 3-12 2-21 3-22 2-9 3,8 2,20 3,22 2,14"/>
<path stroke="#bfbf00" d="M163,990l2,32 1,0 1,0m0,0l3-8 2-20 3-16 2-5 2,2 3,9 2,19 3,16 2,2 2-14 3-21 2-18 3-7 2,8 3,20 2,22 2,11m0-27l3-23 2-13 3,2 2,18 2,23 3,16 2,2 3-12 2-22 2-20 3-8 2,9 3,21 2,21 2,11 3-4 2-17 3-22 2-15 2-1 3,14 2,22 3,18 2,6 2-9 3-21 2-23 3-11 2,6 2,20 3,22 2,14 3,0 2-14m0-38l3-7 2,9 2,20 3,24 2,11 3-5 2-21 3-23 2-14 2,2 3,16 2,23 3,17 2,3 3-14 2-23 3-19 2-6 2,10 3,21 2,22 3,11 2-7 3-21 2-22 3-13 2,2 2,17 3,23 2,16 3,1 2-14 3-22 2-18 2-5 3,10 2,21 3,19 2,7 3-7 2-17 3-18 2-8 2,4 3,12 2,14 3,8 2,1 3-7 2-11 3-8 2-4 2,4 3,11 2,12 3,7 2-3 3-15 2-18 3-10 2,2 2,16 3,21 2,15 3,0 2-16 3-20m0-20l2,12 2,21 3,20 2,7 3-10 2-21 2-20 3-11 2,4 3,18 2,22 2,16 3,0 2-16 3-22 2-18 2-6m0,50l3-21 2-21 3-9 2,8 3,22 2,21 3,11 2-5 2-17 3-23 2-16 3,1 2,16 3,23 2,17 3,3 2-12 2-21 3-20 2-7 3,10 2,20 3,20 2,11 2-5 3-18 2-13 3-6 2,1 3,4 2,17 3,17 2,2 2-12 3-20 2-6 3-2 2,2 3,9 2,20 3,10 2-6 2-18 3-23 2-16 3,1 2,20 3,23 2,16 3,2 2-13 2-22 3-20 2-7 3,12 2,22 3,20 2,9 2-6 3-19 2-22 3-14 2,3 3,18 2,22 3,16 2,1"/>
<path stroke="#404040" d="M163,990l2,30 1,0 1,0m0,0l3-8 2-19 3-15 2-4 2,2 3,10 2,19 3,14 2-2 2-16 3-20 2-15 3-2 2,12 3,21 2,18 2,5m0-34l3-20 2-6 3,9 2,21 2,21 3,9 2-7 3-18 2-22 2-12 3,3 2,17 3,22 2,15 2-1 3-14 2-21 3-17 2-4 2,13 3,21 2,18 3,6 2-9 2-19 3-22 2-10 3,7 2,20 2,21 3,12 2-3 3-17 2-21m0,13l3-20 2-10 2,7 3,19 2,23 3,13 2-6 3-20 2-22 2-13 3,3 2,17 3,22 2,15 3,0 2-16 3-22 2-16 2-2 3,13 2,22 3,19 2,4 3-12 2-22 3-19 2-7 2,10 3,20 2,20 3,9 2-8 3-19 2-20 2-11 3,6 2,17 3,20 2,11 3-3 2-15 3-18 2-10 2,2 3,11 2,14 3,8 2,1 3-6 2-11 3-7 2-4 2,4 3,11 2,12 3,5 2-5 3-16 2-16 3-8 2,7 2,17 3,20 2,11 3-6 2-19 3-20m0-7l2,16 2,22 3,14 2-1 3-17 2-22 2-15 3-2 2,13 3,21 2,19 2,5 3-11 2-22 3-19 2-8 2,7m0,49l3-14 2-21 3-18 2-4 3,14 2,22 3,17 2,5 2-10 3-20 2-21 3-8 2,9 3,22 2,19 3,9 2-6 2-18 3-22 2-11 3,5 2,18 3,20 2,13 2-2 3-15 2-15 3-6 2,0 3,4 2,16 3,16 2,3 2-13 3-19 2-5 3-1 2,3 3,10 2,19 3,6 2-8 2-19 3-22 2-11 3,6 2,23 3,20 2,11 3-4 2-17 2-23 3-14 2,2 3,19 2,21 3,15 2,0 2-15 3-21 2-18 3-2 2,14 3,22 2,17 3,4 2-11"/>
<path stroke="#0000ff" d="M163,990l2,29 1,0 1,0m0,0l3-8 2-19 3-14 2-4 2,4 3,10 2,20 3,10 2-4 2-18 3-18 2-12 3,2 2,15 3,21 2,14 2-2m0-38l3-15 2,1 3,15 2,22 2,15 3,1 2-14 3-21 2-17 2-3 3,13 2,21 3,18 2,4 2-11 3-20 2-19 3-6 2,10 2,20 3,18 2,8 3-8 2-19 2-20 3-10 2,6 3,20 2,21 2,10 3-5 2-17 3-21 2-11m0,49l3-19 2-21 2-10 3,5 2,18 3,23 2,12 3-6 2-19 2-21 3-11 2,4 3,17 2,21 3,13 2-4 3-17 2-21 2-13 3,2 2,17 3,22 2,14 3-2 2-17 3-22 2-14 2,1 3,16 2,21 3,15 2-1 3-15 2-21 2-14 3,0 2,14 3,20 2,13 3,0 2-12 3-18 2-11 2,0 3,10 2,13 3,9 2,1 3-5 2-11 3-7 2-3 2,4 3,11 2,11 3,4 2-7 3-16 2-15 3-4 2,9 2,19 3,17 2,6 3-11 2-20 3-17m0,5l2,18 2,20 3,7 2-9 3-21 2-18 2-8 3,7 2,18 3,20 2,10 2-5 3-19 2-21 3-11 2,4 2,17m0,32l3-2 2-17 3-21 2-14 3,3 2,17 3,21 2,13 2-2 3-15 2-22 3-15 2,1 3,17 2,21 3,14 2,0 2-14 3-21 2-16 3,1 2,15 3,19 2,15 2,2 3-14 2-15 3-7 2,0 3,2 2,16 3,16 2,2 2-12 3-18 2-4 3-2 2,4 3,12 2,17 3,4 2-12 2-20 3-19 2-6 3,11 2,23 3,18 2,5 3-10 2-20 2-20 3-6 2,10 3,22 2,18 3,6 2-9 2-19 3-20 2-8 3,9 2,21 3,18 2,8 3-7 2-19"/>
<path stroke="#008000" d="M163,990l2,27 1,0 1,0m0,0l3-8 2-18 3-13 2-3 2,5 3,10 2,19 3,8 2-7 2-19 3-16 2-8 3,5 2,18 3,19 2,8 2-7m0-39l3-8 2,7 3,19 2,19 2,9 3-7 2-18 3-20 2-9 2,7 3,19 2,19 3,9 2-7 2-18 3-19 2-9 3,6 2,18 2,19 3,9 2-6 3-17 2-20 2-10 3,6 2,19 3,20 2,9 2-6 3-18 2-20 3-10 2,7m0,48l3-4 2-18 2-21 3-11 2,5 3,17 2,22 3,11 2-6 2-19 3-20 2-9 3,6 2,18 3,20 2,9 3-7 2-20 2-18 3-9 2,8 3,19 2,20 3,7 2-8 3-21 2-18 2-7 3,9 2,20 3,18 2,6 3-10 2-19 2-18 3-4 2,10 3,18 2,16 3,3 2-10 3-17 2-12 2-2 3,9 2,13 3,9 2,2 3-5 2-11 3-7 2-3 2,5 3,11 2,10 3,2 2-8 3-16 2-12 3-2 2,12 2,19 3,14 2,1 3-15 2-20 3-12m0,14l2,20 2,15 3-1 2-15 3-21 2-13 2,0 3,14 2,20 3,15 2,0 2-15 3-21 2-14 3,0 2,14 2,20m0,8l3,8 2-7 3-18 2-20 3-8 2,8 3,20 2,18 2,7 3-9 2-18 3-20 2-7 3,10 2,21 3,17 2,5 2-9 3-19 2-18 3-4 2,12 3,18 2,16 2,4 3-11 2-16 3-7 2-1 3,2 2,15 3,15 2,3 2-12 3-18 2-3 3-1 2,4 3,13 2,15 3,1 2-13 2-20 3-17 2-1 3,16 2,21 3,14 2-1 3-14 2-21 2-15 3,2 2,17 3,20 2,12 3-1 2-16 2-20 3-13 2,3 3,17 2,20 3,11 2-3 3-16 2-21"/>
<path stroke="#ff0000" d="M163,990l2,26 1,0 1,0m0,0l3-8 2-19 3-11 2-2 2,5 3,12 2,17 3,5 2-9 2-19 3-14 2-5 3,9 2,19 3,16 2,3 2-12m0-36l3-2 2,13 3,20 2,15 2,1 3-13 2-20 3-14 2,0 2,14 3,20 2,13 3-1 2-15 2-20 3-12 2,3 3,15 2,19 2,11 3-3 2-16 3-19 2-11 2,5 3,17 2,20 3,9 2-6 2-18 3-19 2-8 3,7 2,18m0,13l3,13 2-3 2-17 3-19 2-12 3,5 2,18 3,20 2,9 2-7 3-19 2-18 3-7 2,9 3,18 2,18 3,5 2-11 2-20 3-16 2-3 3,13 2,20 3,15 2,1 3-15 2-20 2-13 3,2 2,15 3,19 2,12 3-4 2-17 2-18 3-9 2,6 3,16 2,17 3,6 2-7 3-16 2-13 2-3 3,8 2,12 3,9 2,2 3-5 2-10 3-6 2-3 2,5 3,11 2,9 3,1 2-10 3-15 2-10 3,1 2,14 2,17 3,11 2-4 3-17 2-18 3-7m0,21l2,19 2,9 3-8 2-19 3-17 2-6 2,8 3,17 2,18 3,6 2-10 2-19 3-16 2-5 3,10 2,19 2,16m0-17l3,16 2,4 3-11 2-19 3-16 2-2 3,13 2,20 2,13 3,0 2-14 3-20 2-14 3,3 2,18 3,19 2,10 2-5 3-16 2-19 3-8 2,8 3,17 2,17 2,6 3-8 2-17 3-7 2-2 3,2 2,14 3,15 2,2 2-11 3-17 2-3 3,0 2,5 3,14 2,12 3-2 2-14 2-20 3-13 2,4 3,18 2,19 3,9 2-6 3-16 2-20 2-9 3,9 2,20 3,17 2,5 3-9 2-19 2-17 3-4 2,12 3,20 2,15 3,1 2-13 3-19 2-15"/>
<path stroke="#00bfbf" d="M163,990l2,24 1,0 1,0m0,0l3-7 2-19 3-10 2-1 2,6 3,12 2,15 3,3 2-11 2-18 3-12 2-1 3,12 2,18 3,12 2-2 2-15m0-30l3,4 2,17 3,18 2,9 2-6 3-17 2-18 3-7 2,9 2,18 3,16 2,5 3-11 2-18 2-15 3-2 2,12 3,19 2,12 2,0 3-13 2-19 3-12 2,3 2,16 3,19 2,9 3-5 2-17 2-18 3-8 2,8 3,18 2,18m0-29l3,20 2,13 2-2 3-16 2-19 3-10 2,5 3,17 2,19 2,7 3-9 2-19 3-15 2-3 3,10 2,19 3,15 2,0 2-14 3-20 2-11 3,3 2,16 3,19 2,9 3-7 2-18 2-17 3-5 2,9 3,18 2,15 3,3 2-13 2-18 3-12 2,1 3,14 2,17 3,8 2-4 3-14 2-13 2-5 3,6 2,12 3,9 2,2 3-4 2-10 3-6 2-2 2,5 3,10 2,8 3,0 2-10 3-15 2-8 3,5 2,14 2,16 3,7 2-8 3-18 2-15 3-2m0,26l2,15 2,3 3-13 2-19 3-12 2,0 2,14 3,19 2,11 3-4 2-16 2-18 3-8 2,5 3,17 2,17 2,6m0-32l3,18 2,13 3-2 2-14 3-19 2-10 3,4 2,18 2,17 3,7 2-8 3-17 2-18 3-5 2,12 3,20 2,13 2,1 3-13 2-18 3-12 2,5 3,14 2,17 2,8 3-5 2-17 3-7 2-2 3,1 2,13 3,14 2,3 2-12 3-16 2-2 3,1 2,5 3,14 2,10 3-4 2-15 2-19 3-9 2,8 3,19 2,16 3,4 2-10 3-18 2-16 2-1 3,14 2,19 3,12 2-2 3-15 2-19 2-10 3,6 2,18 3,17 2,6 3-9 2-17 3-16 2-4"/>
<path stroke="#bf00bf" d="M163,990l2,22 1,0 1,0m0,0l3-7 2-18 3-8 2-1 2,6 3,13 2,13 3,1 2-13 2-16 3-10 2,2 3,14 2,17 3,8 2-7 2-17m0-22l3,9 2,18 3,15 2,3 2-12 3-18 2-13 3,2 2,14 2,17 3,10 2-4 3-16 2-17 2-7 3,8 2,18 3,14 2,3 2-11 3-17 2-13 3,0 2,14 2,18 3,10 2-4 3-16 2-17 2-7 3,8 2,17 3,15 2,5m0-43l3,11 2,19 2,13 3-2 2-16 3-18 2-9 3,7 2,17 2,17 3,4 2-11 3-18 2-13 3,0 2,14 3,18 2,10 2-5 3-17 2-16 3-6 2,9 3,17 2,16 3,1 2-13 2-18 3-11 2,3 3,15 2,17 3,7 2-8 2-16 3-15 2-2 3,10 2,17 3,10 2-1 3-13 2-13 2-6 3,5 2,11 3,9 2,2 3-4 2-9 3-6 2-1 2,5 3,10 2,7 3-2 2-11 3-13 2-5 3,6 2,15 2,14 3,2 2-11 3-17 2-12 3,4m0,28l2,10 2-4 3-16 2-16 3-6 2,7 2,17 3,15 2,3 3-11 2-18 2-12 3,0 2,13 3,18 2,10 2-5m0-35l3,15 2,17 3,7 2-6 3-17 2-16 3-4 2,11 2,18 3,13 2-1 3-13 2-19 3-10 2,5 3,18 2,16 2,5 3-9 2-17 3-14 2,1 3,13 2,15 2,11 3-4 2-15 3-8 2-2 3,0 2,12 3,14 2,2 2-11 3-15 2-1 3,1 2,5 3,14 2,8 3-6 2-16 2-17 3-5 2,11 3,19 2,12 3,0 2-13 3-19 2-10 2,5 3,18 2,16 3,5 2-8 3-18 2-15 2-1 3,13 2,18 3,11 2-3 3-15 2-17 3-8 2,8"/>
<path stroke="#bfbf00" d="M163,990l2,21 1,0 1,0m0,0l3-7 2-18 3-7 2,0 2,6 3,14 2,11 3-2 2-14 2-14 3-7 2,5 3,15 2,14 3,3 2-10 2-17m0-13l3,13 2,17 3,10 2-3 2-15 3-16 2-6 3,8 2,16 2,14 3,1 2-11 3-17 2-11 2,3 3,15 2,16 3,6 2-7 2-16 3-14 2-2 3,11 2,17 2,11 3-2 2-15 3-17 2-7 2,7 3,17 2,14 3,3 2-10m0-26l3-3 2,11 2,17 3,13 2-3 3-16 2-16 3-7 2,8 2,17 3,14 2,1 3-12 2-17 3-10 2,4 3,15 2,16 2,6 3-10 2-18 3-12 2,1 3,13 2,17 3,9 2-7 2-16 3-15 2-3 3,11 2,16 3,12 2-3 2-14 3-15 2-6 3,7 2,15 3,12 2,0 3-10 2-13 2-6 3,3 2,10 3,9 2,3 3-4 2-9 3-5 2-1 2,5 3,9 2,6 3-3 2-11 3-11 2-4 3,9 2,14 2,11 3-1 2-14 3-15 2-7 3,8m0,27l2,5 2-9 3-17 2-12 3,0 2,12 2,17 3,9 2-5 3-15 2-15 2-5 3,8 2,17 3,13 2,1 2-13m0-27l3,7 2,16 3,14 2,2 3-11 2-17 3-11 2,3 2,16 3,15 2,6 3-8 2-17 3-14 2-1 3,14 2,17 2,8 3-4 2-15 3-15 2-3 3,10 2,15 2,11 3-1 2-13 3-9 2-3 3,0 2,11 3,14 2,2 2-11 3-14 2-1 3,1 2,6 3,14 2,6 3-8 2-16 2-14 3-2 2,14 3,17 2,8 3-4 2-15 3-17 2-4 2,10 3,18 2,11 3-1 2-13 3-17 2-8 2,7 3,17 2,14 3,2 2-11 3-16 2-11 3,2 2,15"/>
<path stroke="#404040" d="M163,990l2,19 1,0 1,0m0,0l3-6 2-18 3-5 2,0 2,7 3,13 2,9 3-4 2-14 2-12 3-4 2,7 3,15 2,11 3-1 2-13 2-16m0-3l3,15 2,14 3,5 2-9 2-16 3-12 2,1 3,13 2,16 2,7 3-6 2-15 3-14 2-2 2,11 3,16 2,9 3-3 2-14 2-14 3-5 2,8 3,16 2,11 2,0 3-12 2-16 3-8 2,6 2,15 3,14 2,2 3-10 2-15m0,6l3-14 2-2 2,10 3,17 2,11 3-4 2-16 3-15 2-4 2,9 3,17 2,11 3-2 2-14 3-15 2-6 3,8 2,16 2,13 3-1 2-13 3-16 2-7 3,7 2,15 3,14 2,1 2-13 3-16 2-8 3,6 2,14 3,14 2,2 2-11 3-15 2-9 3,4 2,13 3,13 2,3 3-8 2-13 2-7 3,2 2,9 3,9 2,3 3-3 2-9 3-5 2-1 2,6 3,8 2,5 3-4 2-10 3-11 2-1 3,10 2,14 2,8 3-5 2-14 3-13 2-3 3,11m0,24l2-1 2-12 3-15 2-7 3,6 2,14 2,14 3,2 2-11 3-16 2-9 2,3 3,14 2,14 3,5 2-8 2-16m0-10l3-3 2,11 3,16 2,9 3-4 2-13 3-16 2-4 2,10 3,16 2,10 3-2 2-13 3-16 2-6 3,9 2,17 2,11 3-1 2-12 3-15 2-5 3,7 2,13 2,12 3,1 2-11 3-10 2-3 3,0 2,9 3,13 2,2 2-10 3-13 2,0 3,1 2,6 3,13 2,4 3-9 2-16 2-11 3,2 2,15 3,14 2,5 3-8 2-16 3-13 2,2 2,14 3,15 2,6 3-6 2-16 3-13 2-1 2,13 3,16 2,7 3-5 2-15 3-14 2-2 3,12 2,15"/>
<path stroke="#0000ff" d="M163,990l2,18 1,0 1,0m0,0l3-7 2-17 3-4 2,1 2,7 3,13 2,7 3-6 2-13 2-10 3-2 2,8 3,15 2,8 3-5 2-14 2-14m0,5l3,15 2,11 3,0 2-12 2-15 3-6 2,7 3,14 2,12 2,0 3-11 2-15 3-7 2,6 2,14 3,12 2,1 3-10 2-15 2-8 3,5 2,14 3,13 2,2 2-10 3-16 2-9 3,5 2,14 2,13 3,3 2-9 3-15 2-9m0,30l3-15 2-13 2-2 3,11 2,15 3,9 2-5 3-16 2-12 2-1 3,10 2,15 3,8 2-5 3-15 2-12 3-1 2,11 2,15 3,8 2-6 3-16 2-11 3-1 2,11 3,15 2,7 2-6 3-15 2-11 3-1 2,12 3,14 2,6 2-6 3-14 2-11 3,0 2,12 3,12 2,5 3-6 2-12 2-8 3,2 2,8 3,8 2,3 3-3 2-8 3-4 2-1 2,5 3,8 2,4 3-4 2-11 3-8 2,1 3,10 2,12 2,5 3-7 2-14 3-10 2,2 3,12m0,18l2-5 2-14 3-11 2-2 3,10 2,15 2,8 3-4 2-15 3-12 2-3 2,10 3,15 2,9 3-4 2-14 2-13m0,7l3-10 2,2 3,14 2,13 3,4 2-9 3-15 2-10 2,3 3,14 2,13 3,3 2-8 3-16 2-10 3,4 2,15 2,12 3,3 2-9 3-14 2-8 3,5 2,11 2,13 3,2 2-9 3-10 2-3 3-1 2,9 3,12 2,2 2-10 3-12 2,0 3,2 2,6 3,12 2,2 3-10 2-14 2-9 3,5 2,15 3,11 2,2 3-11 2-15 3-8 2,6 2,15 3,12 2,0 3-10 2-15 3-8 2,7 2,15 3,11 2,0 3-11 2-14 3-7 2,7 3,14 2,11"/>
<path stroke="#008000" d="M163,990l2,16 1,0 1,0m0,0l3-6 2-16 3-3 2,2 2,6 3,12 2,5 3-7 2-12 2-8 3,0 2,10 3,13 2,4 3-7 2-14 2-10m0,11l3,13 2,7 3-5 2-13 2-12 3,0 2,11 3,13 2,6 2-6 3-13 2-11 3,0 2,12 2,13 3,5 2-7 3-13 2-10 2,1 3,12 2,12 3,5 2-8 2-13 3-10 2,2 3,13 2,12 2,4 3-8 2-14 3-9 2,4m0,28l3-5 2-14 2-11 3-1 2,11 3,14 2,7 3-8 2-14 2-10 3,2 2,11 3,13 2,4 3-8 2-14 3-8 2,3 2,13 3,12 2,2 3-10 2-14 3-7 2,6 3,13 2,11 2,0 3-12 2-13 3-5 2,8 3,13 2,9 2-3 3-11 2-12 3-2 2,8 3,12 2,6 3-4 2-10 2-8 3,0 2,7 3,8 2,3 3-2 2-8 3-4 2,0 2,5 3,7 2,3 3-5 2-10 3-7 2,3 3,11 2,10 2,2 3-9 2-13 3-6 2,5 3,13m0,11l2-8 2-13 3-8 2,3 3,12 2,13 2,2 3-10 2-13 3-8 2,5 2,12 3,12 2,1 3-10 2-13 2-7m0,18l3-13 2-5 3,7 2,13 3,10 2-2 3-12 2-13 2-4 3,10 2,13 3,8 2-4 3-12 2-13 3-2 2,12 2,13 3,6 2-6 3-13 2-9 3,3 2,9 2,12 3,4 2-7 3-10 2-4 3-1 2,8 3,12 2,2 2-10 3-11 2,1 3,2 2,6 3,11 2,0 3-11 2-13 2-6 3,7 2,15 3,9 2-3 3-11 2-14 3-3 2,10 2,14 3,7 2-4 3-13 2-12 3-1 2,11 2,14 3,5 2-6 3-13 2-10 3,1 2,12 3,12 2,4"/>
<path stroke="#ff0000" d="M163,990l2,15 1,0 1,0m0,0l3-6 2-15 3-2 2,2 2,6 3,11 2,3 3-7 2-11 2-7 3,3 2,10 3,11 2,1 3-10 2-12 2-6m0,14l3,12 2,2 3-8 2-13 2-7 3,5 2,12 3,10 2,0 2-10 3-12 2-5 3,7 2,12 2,9 3-3 2-10 3-12 2-2 2,8 3,13 2,6 3-4 2-12 2-11 3,0 2,11 3,12 2,5 2-7 3-13 2-8 3,2 2,11m0,8l3,7 2-5 2-13 3-9 2,0 3,11 2,13 3,3 2-8 2-13 3-7 2,4 3,12 2,11 3-1 2-10 3-12 2-4 2,7 3,13 2,8 3-4 2-12 3-11 2,0 3,10 2,12 2,5 3-7 2-13 3-8 2,3 3,12 2,10 2,1 3-9 2-12 3-4 2,6 3,11 2,7 3-3 2-9 2-8 3,0 2,6 3,7 2,3 3-2 2-6 3-4 2,0 2,4 3,7 2,2 3-5 2-9 3-6 2,4 3,11 2,8 2-1 3-10 2-11 3-2 2,7 3,13m0,4l2-10 2-11 3-3 2,7 3,12 2,8 2-4 3-12 2-10 3-1 2,9 2,12 3,6 2-6 3-12 2-10 2,1m0,22l3-12 2-10 3-1 2,11 3,12 2,4 3-7 2-13 2-8 3,4 2,12 3,10 2,1 3-10 2-13 3-5 2,7 2,13 3,8 2-2 3-11 2-10 3,0 2,8 2,11 3,5 2-6 3-9 2-4 3-1 2,7 3,10 2,2 2-8 3-10 2,0 3,2 2,7 3,9 2-2 3-10 2-11 2-4 3,9 2,13 3,6 2-5 3-12 2-11 3,1 2,12 2,11 3,3 2-7 3-13 2-7 3,4 2,13 2,10 3-1 2-10 3-12 2-4 3,8 2,13 3,7 2-4"/>
<path stroke="#00bfbf" d="M163,990l2,13 1,0 1,0m0,0l3-5 2-14 3-1 2,2 2,5 3,11 2,1 3-8 2-9 2-5 3,4 2,10 3,8 2-1 3-10 2-11 2-2m0,16l3,8 2-1 3-10 2-11 2-2 3,8 2,11 3,6 2-5 2-11 3-9 2,2 3,10 2,10 2,2 3-7 2-12 3-5 2,5 2,11 3,8 2-1 3-10 2-11 2-2 3,8 2,12 3,5 2-5 2-11 3-9 2,2 3,10 2,11m0-15l3,12 2,6 2-6 3-12 2-8 3,3 2,10 3,11 2,1 2-10 3-11 2-3 3,6 2,11 3,7 2-4 3-11 2-9 2,1 3,10 2,11 3,2 2-8 3-11 2-6 3,5 2,12 2,8 3-3 2-10 3-10 2-1 3,9 2,11 2,3 3-6 2-11 3-6 2,4 3,10 2,7 3-1 2-8 2-7 3-1 2,5 3,6 2,3 3-1 2-6 3-4 2,0 2,5 3,5 2,2 3-6 2-8 3-3 2,5 3,9 2,6 2-2 3-11 2-8 3,0 2,9 3,11m0-1l2-11 2-8 3,0 2,9 3,11 2,3 2-7 3-12 2-6 3,4 2,11 2,10 3-1 2-10 3-11 2-3 2,7m0,17l3-7 2-11 3-6 2,4 3,12 2,8 3-2 2-9 2-11 3-2 2,9 3,11 2,4 3-5 2-12 3-8 2,3 2,12 3,9 2,0 3-9 2-10 3-1 2,6 2,9 3,6 2-4 3-9 2-3 3-2 2,6 3,10 2,2 2-8 3-9 2,1 3,2 2,7 3,7 2-3 3-10 2-9 2-1 3,9 2,11 3,3 2-7 3-11 2-7 3,5 2,11 2,8 3-1 2-9 3-11 2-2 3,9 2,11 2,4 3-5 2-11 3-8 2,3 3,11 2,9 3,0 2-8"/>
<path stroke="#bf00bf" d="M163,990l2,11 1,0 1,0m0,0l3-4 2-13 3-1 2,3 2,5 3,9 2,0 3-8 2-7 2-3 3,4 2,10 3,5 2-3 3-10 2-8 2,1m0,16l3,5 2-5 3-10 2-8 2,3 3,9 2,9 3,0 2-7 2-10 3-4 2,6 3,11 2,5 2-3 3-10 2-8 3,1 2,9 2,9 3,2 2-7 3-10 2-5 2,5 3,11 2,7 3-3 2-10 2-9 3,0 2,9 3,9 2,4m0-22l3,8 2,10 2,4 3-6 2-11 3-6 2,4 3,11 2,8 2-2 3-10 2-9 3,0 2,8 3,10 2,3 3-7 2-10 2-5 3,4 2,11 3,7 2-3 3-10 2-8 3,0 2,9 2,9 3,2 2-7 3-10 2-4 3,5 2,10 2,6 3-4 2-9 3-7 2,2 3,8 2,7 3,1 2-7 2-7 3-1 2,4 3,6 2,3 3-2 2-5 3-3 2,0 2,4 3,5 2,0 3-5 2-7 3-2 2,6 3,8 2,4 2-4 3-10 2-6 3,3 2,9 3,8m0-5l2-10 2-5 3,4 2,10 3,7 2-1 2-10 3-8 2-1 3,7 2,10 2,4 3-6 2-10 3-6 2,3 2,10m0,7l3-1 2-8 3-10 2-1 3,8 2,10 3,3 2-6 2-10 3-6 2,4 3,11 2,6 3-2 2-9 3-9 2,0 2,9 3,9 2,2 3-6 2-9 3-3 2,4 2,8 3,7 2-3 3-8 2-4 3-1 2,3 3,11 2,1 2-7 3-8 2,1 3,3 2,6 3,6 2-4 3-9 2-7 2,0 3,10 2,8 3,1 2-8 3-10 2-3 3,7 2,10 2,5 3-4 2-11 3-7 2,3 3,10 2,8 2,0 3-9 2-9 3-3 2,8 3,10 2,4 3-5 2-10"/>
<path stroke="#bfbf00" d="M163,990l2,10 1,0 1,0m0,0l3-4 2-12 3,0 2,3 2,5 3,7 2,0 3-8 2-6 2-2 3,6 2,8 3,3 2-5 3-9 2-5 2,3m0,14l3,2 2-7 3-9 2-3 2,5 3,9 2,5 3-3 2-9 2-7 3,2 2,8 3,7 2,1 2-7 3-8 2-3 3,6 2,9 2,4 3-5 2-8 3-6 2,3 2,8 3,7 2,0 3-8 2-9 2-1 3,7 2,9 3,3 2-5m0-12l3-1 2,7 2,9 3,2 2-7 3-9 2-3 3,5 2,10 2,4 3-4 2-9 3-5 2,2 3,8 2,8 3-1 2-9 2-7 3-1 2,7 3,9 2,2 3-6 2-9 3-4 2,5 2,9 3,5 2-4 3-9 2-5 3,2 2,8 2,7 3-1 2-8 3-7 2,0 3,6 2,7 3,2 2-5 2-7 3-2 2,4 3,5 2,3 3-2 2-4 3-3 2,1 2,3 3,4 2,0 3-4 2-6 3-1 2,5 3,7 2,3 2-6 3-8 2-3 3,4 2,9 3,5m0-9l2-7 2-2 3,6 2,9 3,3 2-5 2-8 3-5 2,2 3,9 2,7 2-2 3-8 2-7 3-1 2,7 2,8m0-1l3,3 2-4 3-9 2-5 3,3 2,9 3,6 2-2 2-8 3-7 2,0 3,8 2,8 3,1 2-6 3-10 2-3 2,7 3,8 2,4 3-4 2-8 3-4 2,3 2,7 3,6 2-2 3-7 2-3 3-1 2,2 3,10 2,1 2-6 3-7 2,1 3,2 2,6 3,4 2-4 3-8 2-5 2,2 3,9 2,6 3-2 2-7 3-9 2,0 3,9 2,7 2,2 3-6 2-9 3-3 2,5 3,9 2,4 2-4 3-8 2-6 3,3 2,9 3,6 2-1 3-8 2-8"/>
<path stroke="#404040" d="M163,990l2,8 1,0 1,0m0,0l3-3 2-10 3,0 2,2 2,6 3,5 2-1 3-7 2-5 2,0 3,5 2,7 3,1 2-6 3-7 2-2 2,4m0,11l3-1 2-7 3-7 2,0 2,7 3,6 2,2 3-5 2-8 2-2 3,4 2,8 3,3 2-3 2-8 3-4 2,2 3,7 2,6 2-2 3-6 2-7 3,0 2,7 2,7 3,1 2-6 3-7 2-3 2,5 3,8 2,3 3-4 2-7m0,2l3-6 2,1 2,7 3,7 2,0 3-7 2-7 3-1 2,6 2,7 3,2 2-5 3-7 2-3 3,4 2,8 3,4 2-4 2-8 3-4 2,3 3,7 2,6 3-3 2-7 3-6 2,2 2,7 3,6 2-1 3-7 2-6 3,0 2,6 2,6 3,1 2-5 3-7 2-1 3,4 2,7 3,2 2-4 2-5 3-3 2,3 3,4 2,3 3-1 2-4 3-2 2,0 2,3 3,4 2-1 3-4 2-5 3,0 2,5 3,6 2,1 2-6 3-6 2-1 3,5 2,7 3,2m0-9l2-5 2,1 3,6 2,7 3,0 2-7 2-6 3-2 2,6 3,7 2,2 2-4 3-8 2-3 3,3 2,8 2,4m0-7l3,6 2,0 3-6 2-7 3-1 2,6 3,7 2,2 2-5 3-8 2-3 3,5 2,8 3,3 2-4 3-7 2-5 2,3 3,8 2,5 3-2 2-7 3-4 2,1 2,5 3,6 2,0 3-7 2-2 3-2 2,1 3,9 2,1 2-5 3-6 2,2 3,2 2,5 3,3 2-4 3-7 2-4 2,3 3,8 2,4 3-3 2-7 3-6 2,2 3,8 2,5 2-1 3-6 2-7 3,0 2,7 3,7 2,0 2-6 3-7 2-1 3,6 2,7 3,2 2-5 3-7 2-4"/>
<path stroke="#0000ff" d="M163,990l2,7 1,0 1,0m0,0l3-3 2-8 3,0 2,2 2,5 3,4 2-2 3-6 2-3 2,1 3,4 2,5 3,0 2-6 3-5 2,0 2,5m0,7l3-3 2-6 3-4 2,2 2,6 3,4 2-1 3-6 2-4 2,0 3,6 2,5 3,0 2-5 2-6 3,0 2,5 3,5 2,1 2-4 3-6 2-2 3,4 2,6 2,3 3-4 2-6 3-3 2,3 2,6 3,4 2-3 3-6 2-3m0,10l3-6 2-4 2,1 3,6 2,5 3-1 2-7 3-4 2,1 2,5 3,5 2,0 3-6 2-5 3,0 2,5 3,6 2,0 2-5 3-6 2,0 3,5 2,6 3,1 2-5 3-6 2-1 2,4 3,6 2,2 3-5 2-5 3-3 2,4 2,6 3,2 2-3 3-6 2-2 3,3 2,5 3,3 2-3 2-4 3-3 2,2 3,4 2,2 3-1 2-3 3-2 2,1 2,2 3,3 2-1 3-3 2-4 3,1 2,4 3,4 2,0 2-5 3-5 2,1 3,5 2,5 3,0m0-8l2-3 2,2 3,6 2,4 3-2 2-6 2-4 3,1 2,6 3,5 2-1 2-6 3-5 2,0 3,5 2,6 2,0m0-9l3,6 2,3 3-2 2-6 3-4 2,2 3,7 2,3 2-2 3-5 2-5 3,2 2,6 3,4 2-1 3-6 2-5 2,1 3,6 2,5 3-1 2-5 3-4 2,1 2,3 3,5 2,1 3-5 2-3 3-1 2,0 3,8 2,1 2-4 3-5 2,1 3,2 2,5 3,1 2-4 3-5 2-2 2,3 3,6 2,2 3-3 2-6 3-3 2,3 3,6 2,3 2-2 3-7 2-3 3,3 2,6 3,3 2-2 2-6 3-4 2,2 3,6 2,4 3-1 2-6 3-5 2,2"/>
<path stroke="#008000" d="M163,990l2,5 1,0 1,0m0,0l3-2 2-6 3,0 2,2 2,3 3,3 2-2 3-4 2-2 2,1 3,4 2,3 3-1 2-5 3-3 2,1 2,5m0,3l3-3 2-5 3-1 2,3 2,4 3,2 2-3 3-4 2-2 2,2 3,5 2,2 3-2 2-5 2-2 3,2 2,4 3,3 2-2 2-4 3-3 2,1 3,5 2,3 2-1 3-5 2-3 3,1 2,5 2,3 3-1 2-4 3-4 2,1m0,8l3-2 2-5 2-2 3,2 2,5 3,3 2-3 3-5 2-2 2,2 3,5 2,2 3-2 2-4 3-3 2,2 3,5 2,2 2-2 3-4 2-3 3,2 2,4 3,3 2-2 3-4 2-3 2,2 3,4 2,3 3-2 2-4 3-3 2,2 2,4 3,3 2-2 3-4 2-3 3,2 2,4 3,2 2-1 2-4 3-1 2,1 3,2 2,2 3,0 2-3 3-1 2,0 2,2 3,2 2-1 3-3 2-2 3,1 2,4 3,2 2-1 2-4 3-3 2,2 3,4 2,3 3-1m0-7l2-1 2,3 3,5 2,1 3-3 2-4 2-2 3,3 2,5 3,1 2-3 2-4 3-2 2,2 3,5 2,2 2-2m0-7l3,4 2,4 3,1 2-4 3-4 2-1 3,4 2,4 2,1 3-4 2-5 3,0 2,4 3,4 2,1 3-4 2-5 2,0 3,4 2,4 3,1 2-4 3-3 2-1 2,3 3,4 2,1 3-4 2-2 3-1 2-1 3,7 2,1 2-4 3-3 2,1 3,1 2,4 3,1 2-4 3-3 2-2 2,4 3,4 2,1 3-4 2-4 3-1 2,3 3,5 2,1 2-4 3-4 2-1 3,3 2,5 3,1 2-3 2-5 3-1 2,3 3,5 2,1 3-3 2-5 3-1 2,3"/>
<path stroke="#ff0000" d="M163,990l2,4 1,0 1,0m0,0l3-2 2-4 3,0 2,2 2,2 3,2 2-2 3-3 2-1 2,1 3,3 2,2 3-2 2-3 3-2 2,2 2,3m0,1l3-2 2-3 3,0 2,2 2,3 3,0 2-2 3-3 2,0 2,2 3,3 2,0 3-2 2-3 2,0 3,2 2,3 3,0 2-2 2-3 3,0 2,2 3,3 2,0 2-2 3-3 2,0 3,2 2,3 2,0 3-2 2-3 3,0 2,2m0,2l3,2 2-2 2-3 3-2 2,2 3,4 2,1 3-3 2-3 2,0 3,2 2,3 3,1 2-3 3-3 2,0 3,2 2,3 2,1 3-3 2-3 3,0 2,2 3,3 2,0 3-2 2-3 2,0 3,3 2,2 3,0 2-3 3-2 2,0 2,3 3,2 2,0 3-3 2-2 3,0 2,3 3,2 2-1 2-2 3-1 2,0 3,2 2,1 3,0 2-2 3-1 2,1 2,1 3,1 2,0 3-2 2-2 3,1 2,3 3,1 2-1 2-3 3-1 2,1 3,3 2,1 3-1m0-4l2,0 2,3 3,2 2,0 3-3 2-2 2,0 3,3 2,2 3,0 2-3 2-2 3,0 2,3 3,2 2,0 2-3m0-3l3,2 2,3 3,1 2-1 3-3 2-2 3,2 2,3 2,1 3-1 2-3 3-2 2,2 3,3 2,1 3-1 2-4 2-1 3,2 2,3 3,1 2-2 3-2 2-1 2,2 3,3 2,0 3-2 2-1 3-1 2-1 3,5 2,0 2-2 3-2 2,0 3,1 2,3 3,0 2-2 3-3 2,0 2,2 3,3 2,0 3-3 2-3 3,1 2,3 3,2 2,0 2-3 3-3 2,1 3,3 2,2 3,0 2-3 2-3 3,1 2,3 3,2 2,0 3-3 2-3 3,1 2,4"/>
<path stroke="#00bfbf" d="M163,990l2,2 1,0 1,0m0,0l3-1 2-2 3,0 2,1 2,1 3,1 2-1 3-1 2-1 2,1 3,2 2,0 3-1 2-2 3,0 2,1 2,2m0,0l3-2 2-1 3,0 2,2 2,1 3-1 2-1 3-1 2,1 2,1 3,1 2-1 3-1 2-1 2,1 3,1 2,1 3-1 2-1 2-1 3,1 2,1 3,1 2-1 2-2 3,0 2,1 3,2 2,0 2-1 3-2 2,0 3,1 2,2m0-2l3,2 2,0 2-1 3-2 2,0 3,1 2,2 3,0 2-2 2-1 3,0 2,2 3,1 2,0 3-2 2-1 3,0 2,2 2,1 3-1 2-1 3-1 2,1 3,1 2,1 3-1 2-1 2-1 3,1 2,2 3,0 2-1 3-2 2,0 2,1 3,2 2,0 3-1 2-2 3,0 2,2 3,1 2-1 2-1 3,0 2,0 3,1 2,0 3,0 2-1 3,0 2,0 2,1 3,0 2,0 3-1 2-1 3,1 2,1 3,1 2-1 2-1 3-1 2,1 3,2 2,0 3-1m0-2l2,1 2,1 3,1 2-1 3-1 2-1 2,1 3,1 2,1 3-1 2-1 2-1 3,1 2,1 3,1 2-1 2-2m0,0l3,0 2,1 3,2 2,0 3-1 2-2 3,0 2,2 2,1 3,0 2-2 3-1 2,0 3,2 2,1 3-1 2-1 2-1 3,1 2,1 3,1 2-1 3-1 2-1 2,1 3,1 2,1 3-1 2-1 3,0 2-1 3,3 2,0 2-1 3-1 2,0 3,0 2,2 3,0 2-2 3-1 2,0 2,2 3,1 2,0 3-2 2-1 3,0 2,2 3,1 2-1 2-1 3-1 2,1 3,1 2,1 3-1 2-2 2,0 3,1 2,2 3,0 2-1 3-2 2,0 3,1 2,2"/>
<path stroke="#bf00bf" d="M163,990l2,0 1,0 1,0m0,0l3,0 2,0 3,0 2,0 2,0 3,0 2,0 3,0 2,0 2,0 3,0 2,0 3,0 2,0 3,0 2,0 2,0m0,0l3,0 2,0 3,0 2,0 2,0 3,0 2,0 3,0 2,0 2,0 3,0 2,0 3,0 2,0 2,0 3,0 2,0 3,0 2,0 2,0 3,0 2,0 3,0 2,0 2,0 3,0 2,0 3,0 2,0 2,0 3,0 2,0 3,0 2,0m0,0l3,0 2,0 2,0 3,0 2,0 3,0 2,0 3,0 2,0 2,0 3,0 2,0 3,0 2,0 3,0 2,0 3,0 2,0 2,0 3,0 2,0 3,0 2,0 3,0 2,0 3,0 2,0 2,0 3,0 2,0 3,0 2,0 3,0 2,0 2,0 3,0 2,0 3,0 2,0 3,0 2,0 3,0 2,0 2,0 3,0 2,0 3,0 2,0 3,0 2,0 3,0 2,0 2,0 3,0 2,0 3,0 2,0 3,0 2,0 3,0 2,0 2,0 3,0 2,0 3,0 2,0 3,0m0,0l2,0 2,0 3,0 2,0 3,0 2,0 2,0 3,0 2,0 3,0 2,0 2,0 3,0 2,0 3,0 2,0 2,0m0,0l3,0 2,0 3,0 2,0 3,0 2,0 3,0 2,0 2,0 3,0 2,0 3,0 2,0 3,0 2,0 3,0 2,0 2,0 3,0 2,0 3,0 2,0 3,0 2,0 2,0 3,0 2,0 3,0 2,0 3,0 2,0 3,0 2,0 2,0 3,0 2,0 3,0 2,0 3,0 2,0 3,0 2,0 2,0 3,0 2,0 3,0 2,0 3,0 2,0 3,0 2,0 2,0 3,0 2,0 3,0 2,0 3,0 2,0 2,0 3,0 2,0 3,0 2,0 3,0 2,0 3,0 2,0"/>
</g>
<path d="M82.39,542.99L103.65,542.99" stroke="#bf00bf" stroke-width="0.9"/>
<path d="M104.16,464.56L104.16,448.79" stroke="#3030c0" stroke-width="0.9"/>
<path d="M104.16,448.79L144.53,448.79" stroke="#3030c0" stroke-width="0.9"/>
<path d="M144.53,448.79L144.53,457.74" stroke="#3030c0" stroke-width="0.9"/>
<path d="M145.04,450.92L175.7,450.92" stroke="#bf00bf" stroke-width="0.9"/>
<path d="M104.16,538.73L144.53,538.73" stroke="#3030c0" stroke-width="0.9"/>
<path d="M145.04,542.99L180.81,542.99" stroke="#3030c0" stroke-width="0.9"/>
<path d="M228.84,449.64L246.73,449.64" stroke="#00bfbf" stroke-width="0.9"/>
<path d="M247.24,538.73L329,538.73" stroke="#804040" stroke-width="0.9"/>
<path d="M73.5,495.25H82.39" stroke="#c000c0" stroke-width="1"/>
<g fill="none" stroke-width="2.0" stroke-linejoin="round" transform="scale(0.5)">
<path stroke="#0000ff" d="M834,990l2,0 1,0 1,0m0,0l3,0 2,0 3,0 2,0 3,0 2,0 2,0 3,0 2,0 3,0 2,0 2,0 3,0 2,0 3,0 2,0 2,0m0,0l3,0 2,0 3,0 2,0 2,0 3,0 2,0 3,0 2,0 3,0 2,0 2,0 3,0 2,0 3,0 2,0 2,0 3,0 2,0 3,0 2,0 2,0 3,0 2,0 3,0 2,0 2,0 3,0 2,0 3,0 2,0 3,0 2,0 2,0m0,0l3,0 2,0 3,0 2,0 3,0 2,0 3,0 2,0 2,0 3,0 2,0 3,0 2,0 3,0 2,0 3,0 2,0 3,0 2,0 3,0 2,0 2,0 3,0 2,0 3,0m0,0l2,0 3,0 2,0 3,0 2,0 2,0 3,0 2,0 3,0 2,0 3,0 2,0 2,0 3,0 2,0 3,0 2,0 3,0 2,0 2,0 3,0 2,0 3,0 2,0 3,0 2,0 2,0 3,0 2,0 3,0 2,0 3,0 2,0 2,0 3,0 2,0 3,0 2,0 3,0 2,0 2,0 3,0 2,0 3,0 2,0 3,0 2,0 2,0 3,0 2,0 3,0 2,0 3,0 2,0 2,0 3,0 2,0 3,0 2,0m0,0l3,0 2,0 2,0 3,0 2,0 3,0 2,0 2,0 3,0 2,0 3,0 2,0 3,0 2,0 2,0 3,0 2,0 3,0 2,0 2,0 3,0 2,0 3,0 2,0 3,0 2,0 2,0 3,0 2,0 3,0 2,0 2,0 3,0 2,0 3,0 2,0 3,0 2,0 2,0 3,0 2,0 3,0 2,0 2,0 3,0 2,0 3,0 2,0 3,0 2,0"/>
<path stroke="#008000" d="M834,990l2,2 1,0 1,0m0,0l3-1 2-2 3,0 2,1 3,1 2,1 2-1 3-1 2-1 3,1 2,2 2,0 3-1 2-2 3,0 2,1 2,2m0-3l3,2 2,1 3-1 2-1 2-1 3,1 2,1 3,1 2-1 3-1 2-1 2,1 3,1 2,1 3-1 2-1 2-1 3,1 2,1 3,1 2-1 2-2 3,0 2,1 3,2 2,0 2-1 3-2 2,0 3,1 2,2 3,0 2-1 2-2m0,2l3-2 2,0 3,1 2,2 3,0 2-1 3-2 2,0 2,2 3,1 2,0 3-2 2-1 3,0 2,2 3,1 2-1 3-1 2-1 3,1 2,1 2,1 3-1 2-1 3-1m0,1l2-1 3,0 2,2 3,1 2,0 2-2 3-1 2,1 3,1 2,1 3-1 2-1 2-1 3,1 2,1 3,1 2-1 3-1 2-1 2,1 3,1 2,1 3,0 2-3 3,0 2,1 2,2 3,0 2-1 3-2 2,0 3,1 2,2 2,0 3-2 2-1 3,0 2,2 3,1 2,0 2-2 3-1 2,0 3,2 2,1 3,0 2-2 2-1 3,1 2,1 3,1 2-1 3-1 2-1 2,1 3,1 2,1 3-1 2-1m0-1l3,0 2,1 2,2 3,0 2-1 3-2 2,0 2,1 3,2 2,0 3-2 2-1 3,0 2,2 2,1 3,0 2-2 3-1 2,0 2,2 3,1 2,0 3-2 2-1 3,1 2,1 2,1 3-1 2-1 3,0 2-1 2,2 3,1 2-1 3-2 2,0 3,1 2,1 2,1 3-1 2-1 3-1 2,1 2,1 3,1 2-1 3-2 2,0 3,1 2,2"/>
<path stroke="#ff0000" d="M834,990l2,4 1,0 1,0m0,0l3-2 2-4 3,0 2,2 3,2 2,2 2-2 3-3 2-1 3,1 2,3 2,2 3-2 2-3 3-2 2,2 2,3m0-4l3,2 2,3 3,0 2-2 2-3 3,0 2,2 3,3 2,0 3-2 2-3 2,0 3,2 2,3 3,0 2-2 2-3 3,0 2,2 3,3 2,0 2-2 3-3 2,0 3,2 2,3 2,0 3-2 2-3 3,0 2,2 3,3 2,0 2-2m0-2l3-1 2,1 3,4 2,1 3-2 2-4 3-1 2,3 2,3 3,1 2-3 3-3 2,0 3,2 2,3 3,0 2-2 3-3 2,0 3,2 2,3 2,0 3-3 2-2 3,0m0,1l2-1 3,1 2,4 3,1 2-2 2-3 3-1 2,1 3,4 2,1 3-2 2-4 2,0 3,2 2,3 3,1 2-3 3-3 2,0 2,2 3,2 2,1 3,0 2-5 3,0 2,2 2,4 3-1 2-2 3-3 2,0 3,2 2,3 2,1 3-3 2-3 3,0 2,2 3,3 2,1 2-3 3-3 2,0 3,2 2,3 3,0 2-2 2-3 3,0 2,3 3,2 2,0 3-3 2-2 2,0 3,3 2,2 3,0 2-3m0-2l3,1 2,3 2,1 3-1 2-3 3-1 2,1 2,3 3,1 2-1 3-3 2-1 3,1 2,3 2,1 3-1 2-3 3-1 2,1 2,3 3,1 2-1 3-2 2-2 3,1 2,3 2,1 3-1 2-2 3-1 2-1 2,4 3,1 2-1 3-5 2,1 3,1 2,3 2,1 3-1 2-3 3-2 2,2 2,3 3,1 2-1 3-3 2-1 3,1 2,3"/>
<path stroke="#00bfbf" d="M834,990l2,5 1,0 1,0m0,0l3-2 2-6 3,0 2,2 3,3 2,3 2-2 3-4 2-2 3,1 2,4 2,3 3-1 2-5 3-3 2,1 2,5m0-6l3,3 2,4 3,2 2-3 2-5 3-1 2,3 3,4 2,2 3-2 2-5 2-2 3,2 2,5 3,2 2-2 2-5 3-2 2,2 3,4 2,3 2-2 3-4 2-3 3,1 2,5 2,3 3-1 2-5 3-3 2,1 3,4 2,4 2-1m0-8l3,2 2,5 3,3 2-3 3-5 2-2 3,2 2,5 2,2 3-2 2-5 3-2 2,2 3,5 2,2 3-2 2-5 3-2 2,2 3,5 2,3 2-3 3-5 2-2 3,2m0-1l2,0 3,3 2,5 3,0 2-4 2-4 3,0 2,3 3,5 2,0 3-4 2-4 2-1 3,4 2,5 3,0 2-4 3-4 2-1 2,4 3,3 2,1 3,0 2-7 3-1 2,4 2,5 3-1 2-3 3-4 2-1 3,3 2,5 2,2 3-4 2-5 3-1 2,3 3,5 2,2 2-4 3-4 2-2 3,3 2,5 3,1 2-3 2-4 3-2 2,3 3,4 2,2 3-2 2-5 2-2 3,2 2,5 3,2 2-2m0-6l3,3 2,4 2,1 3-4 2-4 3,0 2,3 2,4 3,1 2-3 3-5 2-1 3,3 2,5 2,1 3-3 2-4 3-2 2,3 2,4 3,2 2-3 3-4 2-1 3,2 2,4 2,2 3-2 2-3 3-2 2-1 2,6 3,2 2-2 3-8 2,2 3,1 2,4 2,3 3-2 2-4 3-3 2,1 2,5 3,3 2-1 3-5 2-3 3,1 2,4"/>
<path stroke="#bf00bf" d="M834,990l2,7 1,0 1,0m0,0l3-3 2-8 3,0 2,2 3,5 2,4 2-2 3-6 2-3 3,1 2,4 2,5 3,0 2-6 3-5 2,0 2,5m0-6l3,3 2,6 3,4 2-2 2-6 3-5 2,2 3,5 2,5 3-1 2-5 2-5 3,0 2,5 3,5 2,1 2-5 3-5 2-2 3,5 2,6 2,1 3-3 2-6 3-3 2,4 2,6 3,3 2-3 3-6 2-4 3,2 2,6 2,5m0-11l3,6 2,5 3-2 2-6 3-4 2,1 3,6 2,5 2-1 3-6 2-5 3,1 2,5 3,5 2,0 3-6 2-5 3,0 2,6 3,5 2,0 2-5 3-6 2,0 3,5m0-5l2,2 3,6 2,5 3-3 2-6 2-4 3,1 2,6 3,5 2-1 3-6 2-5 2,1 3,5 2,6 3,0 2-7 3-5 2,0 2,5 3,4 2,1 3-1 2-8 3-1 2,4 2,7 3,0 2-4 3-5 2-3 3,4 2,7 2,3 3-4 2-7 3-3 2,3 3,7 2,3 2-2 3-7 2-4 3,2 2,6 3,5 2-2 2-6 3-4 2,1 3,5 2,5 3,0 2-6 2-5 3,0 2,5 3,6 2,0m0-8l3,5 2,4 2-3 3-5 2-4 3,2 2,5 2,4 3-1 2-5 3-5 2,1 3,5 2,5 2,0 3-5 2-5 3-1 2,5 2,5 3,1 2-4 3-5 2-1 3,3 2,5 2,2 3-3 2-4 3-1 2-1 2,6 3,3 2-2 3-10 2,2 3,2 2,4 2,4 3-1 2-6 3-5 2,1 2,6 3,5 2-1 3-5 2-5 3,0 2,5"/>
<path stroke="#bfbf00" d="M834,990l2,8 1,0 1,0m0,0l3-3 2-10 3,0 2,2 3,6 2,5 2-1 3-7 2-5 3,0 2,5 2,7 3,1 2-6 3-7 2-2 2,4m0-4l3,1 2,7 3,6 2,0 2-6 3-7 2-1 3,5 2,7 3,3 2-4 2-8 3-4 2,4 3,7 2,5 2-2 3-7 2-6 3,1 2,7 2,6 3,0 2-6 3-7 2-1 2,6 3,7 2,2 3-5 2-7 3-4 2,4 2,8m0-2l3,6 2-1 3-7 2-6 3,0 2,6 3,8 2,0 2-6 3-7 2-2 3,6 2,7 3,2 2-5 3-7 2-3 3,4 2,8 3,4 2-4 2-8 3-4 2,3 3,8m0-10l2,5 3,8 2,2 3-6 2-7 2-3 3,4 2,8 3,4 2-3 3-8 2-5 2,2 3,8 2,6 3-2 2-8 3-5 2,0 2,7 3,4 2,0 3-1 2-9 3-2 2,6 2,8 3,0 2-4 3-7 2-3 3,4 2,8 2,4 3-3 2-8 3-5 2,2 3,7 2,7 2-2 3-7 2-6 3,0 2,6 3,7 2,1 2-6 3-7 2-2 3,5 2,7 3,3 2-4 2-7 3-4 2,3 3,8 2,4m0-7l3,6 2,0 2-6 3-6 2-1 3,5 2,6 2,3 3-4 2-7 3-4 2,4 3,7 2,4 2-3 3-6 2-5 3,1 2,6 2,6 3,0 2-6 3-5 2,0 3,4 2,6 2,2 3-5 2-4 3-2 2-1 2,8 3,4 2-3 3-12 2,1 3,2 2,6 2,5 3-1 2-6 3-7 2,0 2,7 3,6 2,1 3-5 2-7 3-2 2,5"/>
<path stroke="#404040" d="M834,990l2,10 1,0 1,0m0,0l3-4 2-12 3,0 2,3 3,5 2,7 2,0 3-8 2-6 3-2 2,6 2,8 3,3 2-5 3-9 2-5 2,3m0-1l3-2 2,7 3,8 2,4 2-5 3-9 2-5 3,3 2,9 3,6 2-1 2-8 3-8 2,0 3,7 2,8 2,2 3-5 2-9 3-4 2,4 2,9 3,5 2-2 3-8 2-8 2,1 3,8 2,8 3,1 2-6 3-9 2-3 2,6m0,12l3,0 2-7 3-9 2-1 3,6 2,9 3,4 2-6 2-9 3-5 2,5 3,8 2,6 3-3 2-9 3-6 2,2 3,8 2,7 3,0 2-8 2-8 3-1 2,7 3,9m0-14l2,9 3,7 2-1 3-9 2-7 2-1 3,7 2,9 3,3 2-7 3-9 2-4 2,5 3,9 2,6 3-4 2-9 3-6 2,1 2,8 3,5 2,0 3-2 2-11 3-1 2,6 2,10 3,0 2-4 3-8 2-5 3,4 2,9 2,7 3-3 2-9 3-7 2,1 3,7 2,9 2,1 3-7 2-9 3-3 2,6 3,9 2,4 2-4 3-9 2-5 3,2 2,8 3,7 2,0 2-9 3-7 2-1 3,7 2,8m0-1l3,4 2-5 2-8 3-5 2,3 3,7 2,7 2-1 3-7 2-7 3-1 2,6 3,8 2,2 2-5 3-8 2-4 3,4 2,8 2,5 3-2 2-8 3-5 2,1 3,5 2,8 2,1 3-6 2-5 3-2 2-1 2,10 3,4 2-3 3-13 2,0 3,2 2,7 2,6 3,0 2-7 3-8 2-2 2,7 3,8 2,3 3-5 2-8 3-4 2,3"/>
<path stroke="#0000ff" d="M834,990l2,11 1,0 1,0m0,0l3-4 2-13 3-1 2,3 3,5 2,9 2,0 3-8 2-7 3-3 2,4 2,10 3,5 2-3 3-10 2-8 2,1m0,3l3-5 2,5 3,10 2,7 2-2 3-9 2-9 3-1 2,8 3,10 2,3 2-6 3-10 2-6 3,4 2,10 2,7 3-1 2-8 3-9 2-2 2,7 3,10 2,4 3-5 2-10 2-7 3,3 2,10 3,8 2,0 3-8 2-10 2-2m0,21l3-8 2-10 3-3 2,6 3,11 2,6 3-5 2-11 2-7 3,2 2,10 3,9 2-1 3-8 2-9 3-2 2,6 3,11 2,4 3-6 2-10 2-6 3,4 2,10 3,8m0-15l2,11 3,5 2-6 3-11 2-6 2,3 3,10 2,9 3-1 2-10 3-9 2-2 2,7 3,11 2,5 3-6 2-11 3-6 2,3 2,9 3,5 2,0 3-4 2-11 3-2 2,7 2,12 3,1 2-5 3-9 2-6 3,3 2,10 2,9 3-1 2-10 3-9 2-2 3,7 2,11 2,4 3-5 2-11 3-6 2,3 3,10 2,8 2-1 3-9 2-9 3-2 2,7 3,11 2,4 2-6 3-10 2-6 3,3 2,10m0,7l3-1 2-8 2-8 3-2 2,7 3,9 2,4 2-5 3-10 2-5 3,2 2,9 3,8 2-1 2-8 3-8 2-2 3,6 2,9 2,5 3-5 2-9 3-4 2,2 3,7 2,7 2,1 3-8 2-5 3-1 2-1 2,11 3,5 2-4 3-15 2,0 3,2 2,7 2,8 3,1 2-7 3-10 2-4 2,7 3,9 2,6 3-4 2-9 3-7 2,1"/>
<path stroke="#008000" d="M834,990l2,13 1,0 1,0m0,0l3-5 2-14 3-1 2,2 3,5 2,11 2,1 3-8 2-9 3-5 2,4 2,10 3,8 2-1 3-10 2-11 2-2m0,9l3-9 2,2 3,10 2,10 2,2 3-8 2-11 3-5 2,5 3,11 2,8 2-1 3-10 2-11 3-2 2,8 2,11 3,5 2-4 3-11 2-8 2,1 3,10 2,10 3,2 2-7 2-12 3-6 2,5 3,12 2,8 3-1 2-10 2-10m0,14l3-12 2-5 3,6 2,11 3,9 2-3 3-12 2-9 2,0 3,9 2,11 3,3 2-7 3-12 2-5 3,4 2,11 3,9 2-2 3-11 2-10 2-1 3,9 2,11 3,6m0-13l2,11 3,0 2-10 3-11 2-3 2,6 3,12 2,8 3-5 2-12 3-8 2,0 2,9 3,12 2,3 3-8 2-12 3-6 2,5 2,10 3,5 2,0 3-6 2-11 3-2 2,7 2,14 3,1 2-5 3-9 2-8 3,2 2,10 2,11 3,2 2-10 3-11 2-5 3,6 2,12 2,8 3-3 2-12 3-9 2-1 3,9 2,11 2,4 3-6 2-12 3-6 2,3 3,11 2,9 2,0 3-10 2-10 3-3 2,7m0,16l3-7 2-10 2-6 3,4 2,10 3,8 2,0 2-9 3-10 2-2 3,6 2,11 3,5 2-4 2-10 3-8 2,1 3,9 2,9 2,3 3-7 2-10 3-4 2,4 3,8 2,8 2-1 3-9 2-4 3-2 2,0 2,12 3,5 2-4 3-16 2-1 3,2 2,7 2,10 3,2 2-8 3-11 2-5 2,5 3,11 2,8 3-2 2-9 3-10 2-2"/>
<path stroke="#ff0000" d="M834,990l2,15 1,0 1,0m0,0l3-6 2-15 3-2 2,2 3,6 2,11 2,3 3-7 2-11 3-7 2,3 2,10 3,11 2,1 3-10 2-12 2-6m0,15l3-12 2-3 3,9 2,13 2,6 3-4 2-12 3-10 2,0 3,10 2,12 2,4 3-6 2-13 3-8 2,2 2,11 3,11 2,2 3-8 2-12 2-7 3,5 2,12 3,10 2,0 2-10 3-13 2-4 3,7 2,12 3,9 2-3 2-10m0-8l3-6 2,5 3,12 2,11 3-1 2-12 3-12 2-3 2,8 3,13 2,7 3-5 2-13 3-9 2,1 3,10 2,13 3,3 2-9 3-13 2-6 2,5 3,12 2,10 3,0m0-5l2,7 3-5 2-13 3-10 2,1 2,10 3,13 2,4 3-8 2-13 3-8 2,3 2,12 3,12 2,1 3-11 2-12 3-5 2,6 2,11 3,5 2-1 3-7 2-11 3-3 2,9 2,14 3,2 2-4 3-11 2-9 3,1 2,10 2,13 3,4 2-8 3-14 2-7 3,4 2,11 2,12 3,0 2-10 3-12 2-5 3,6 2,13 2,8 3-2 2-12 3-11 2-1 3,8 2,13 2,6 3-6 2-12 3-9 2,2m0,20l3-11 2-10 2,0 3,9 2,11 3,5 2-6 2-12 3-7 2,1 3,10 2,11 3,2 2-8 2-11 3-7 2,5 3,11 2,9 2,0 3-9 2-10 3-3 2,6 3,10 2,7 2-2 3-11 2-4 3-2 2,1 2,13 3,6 2-5 3-17 2-2 3,2 2,7 2,11 3,3 2-6 3-13 2-8 2,4 3,12 2,10 3,1 2-9 3-12 2-5"/>
<path stroke="#00bfbf" d="M834,990l2,16 1,0 1,0m0,0l3-6 2-16 3-3 2,2 3,6 2,12 2,5 3-7 2-12 3-8 2,0 2,10 3,13 2,4 3-7 2-14 2-10m0,20l3-14 2-7 3,6 2,13 2,11 3,0 2-10 3-13 2-7 3,7 2,13 2,11 3-1 2-11 3-13 2-5 2,7 3,13 2,9 3-1 2-11 2-13 3-4 2,7 3,14 2,9 2-2 3-12 2-13 3-4 2,9 3,14 2,8 2-2m0-27l3,4 2,13 3,12 2,1 3-12 2-14 3-5 2,7 2,14 3,10 2-2 3-13 2-12 3-3 2,9 3,14 2,8 3-5 2-14 3-11 2,0 2,10 3,14 2,6 3-7m0,5l2,2 3-11 2-14 3-6 2,5 2,13 3,12 2,1 3-13 2-13 3-5 2,6 2,14 3,11 2-2 3-13 2-13 3-3 2,7 2,12 3,5 2-1 3-9 2-12 3-2 2,9 2,16 3,3 2-5 3-11 2-11 3-1 2,11 2,14 3,7 2-7 3-14 2-11 3,1 2,11 2,14 3,5 2-8 3-14 2-9 3,2 2,12 2,13 3,3 2-9 3-13 2-8 3,3 2,13 2,12 3,1 2-10 3-13 2-6m0,18l3-13 2-4 2,5 3,13 2,9 3-1 2-11 2-12 3-3 2,6 3,13 2,9 3-2 2-12 2-12 3-3 2,8 3,13 2,8 2-3 3-12 2-10 3-1 2,8 3,11 2,7 2-4 3-11 2-5 3-1 2,1 2,14 3,6 2-5 3-18 2-2 3,0 2,8 2,12 3,5 2-6 3-13 2-10 2,1 3,11 2,13 3,4 2-7 3-13 2-9"/>
<path stroke="#bf00bf" d="M834,990l2,18 1,0 1,0m0,0l3-7 2-17 3-4 2,1 3,7 2,13 2,7 3-6 2-13 3-10 2-2 2,8 3,15 2,8 3-5 2-14 2-14m0,25l3-15 2-11 3,1 2,12 2,14 3,6 2-6 3-14 2-12 3-1 2,12 2,15 3,6 2-6 3-13 2-13 2-1 3,11 2,14 3,8 2-5 2-13 3-13 2-2 3,10 2,15 2,9 3-5 2-13 3-14 2-3 3,10 2,15 2,10m0-29l3,13 2,14 3,2 2-11 3-16 2-8 3,6 2,14 2,13 3,1 2-12 3-14 2-7 3,6 2,14 3,13 2,0 3-13 2-14 3-6 2,7 2,15 3,11 2-1 3-13m0,17l2-5 3-16 2-12 3-2 2,10 2,15 3,10 2-5 3-16 2-12 3-2 2,9 2,16 3,10 2-5 3-15 2-13 3-3 2,10 2,12 3,6 2-3 3-9 2-13 3-3 2,10 2,17 3,4 2-4 3-11 2-13 3-3 2,10 2,16 3,9 2-4 3-15 2-13 3-3 2,10 2,15 3,10 2-5 3-14 2-13 3-3 2,10 2,14 3,10 2-4 3-14 2-13 3-3 2,9 2,15 3,9 2-3 3-14 2-12m0,7l3-9 2,2 2,11 3,13 2,5 3-8 2-14 2-9 3,1 2,12 3,13 2,5 3-7 2-14 2-10 3,0 2,12 3,13 2,6 2-7 3-13 2-9 3,1 2,9 3,13 2,6 2-6 3-12 2-5 3-1 2,2 2,15 3,6 2-5 3-18 2-4 3,0 2,8 2,12 3,7 2-4 3-14 2-12 2-2 3,11 2,14 3,7 2-4 3-13 2-12"/>
<path stroke="#bfbf00" d="M834,990l2,19 1,0 1,0m0,0l3-6 2-18 3-5 2,0 3,7 2,13 2,9 3-4 2-14 3-12 2-4 2,7 3,15 2,11 3-1 2-13 2-16m0,27l3-14 2-15 3-5 2,9 2,16 3,11 2-1 3-12 2-15 3-8 2,6 2,16 3,13 2,2 3-11 2-15 2-10 3,3 2,14 3,14 2,5 2-8 3-15 2-12 3,0 2,13 2,16 3,7 2-6 3-15 2-14 3-2 2,11 2,16m0-7l3,15 2,3 3-12 2-16 3-10 2,4 3,15 2,15 2,4 3-11 2-16 3-10 2,3 3,14 2,15 3,5 2-10 3-16 2-11 3,2 2,13 2,16 3,6 2-8 3-17m0,26l2-12 3-17 2-9 3,4 2,13 2,16 3,6 2-11 3-17 2-10 3,1 2,13 2,17 3,7 2-8 3-17 2-13 3,0 2,11 2,13 3,5 2-3 3-11 2-14 3-2 2,10 2,18 3,5 2-3 3-12 2-14 3-5 2,9 2,16 3,13 2-1 3-15 2-15 3-7 2,7 2,15 3,14 2,1 3-12 2-16 3-9 2,5 2,15 3,14 2,3 3-10 2-16 3-10 2,3 2,13 3,15 2,5 3-8 2-15m0-9l3-3 2,10 2,14 3,10 2-3 3-13 2-13 2-5 3,7 2,14 3,12 2-1 3-11 2-15 2-7 3,5 2,14 3,13 2,2 2-10 3-14 2-8 3,4 2,11 3,13 2,5 2-8 3-12 2-5 3,0 2,2 2,16 3,7 2-6 3-18 2-6 3-1 2,8 2,14 3,9 2-4 3-13 2-15 2-4 3,9 2,15 3,11 2-1 3-12 2-14"/>
<path stroke="#404040" d="M834,990l2,21 1,0 1,0m0,0l3-7 2-18 3-7 2,0 3,6 2,14 2,11 3-2 2-14 3-14 2-7 2,5 3,15 2,14 3,3 2-10 2-17m0,26l3-12 2-17 3-10 2,4 2,15 3,15 2,6 3-8 2-16 3-14 2-1 2,12 3,17 2,10 3-4 2-13 2-16 3-7 2,7 3,17 2,13 2,2 3-11 2-16 3-12 2,2 2,15 3,17 2,7 3-7 2-16 3-15 2-3 2,12m0,26l3,3 2-11 3-18 2-11 3,3 2,14 3,18 2,6 2-9 3-17 2-13 3,0 2,12 3,17 2,9 3-5 2-16 3-15 2-4 3,10 2,18 2,12 3-2 2-16 3-15m0,30l2-18 3-14 2-4 3,9 2,17 2,14 3-1 2-15 3-17 2-8 3,6 2,15 2,17 3,4 2-12 3-18 2-11 3,1 2,14 2,12 3,5 2-4 3-12 2-14 3-3 2,11 2,19 3,6 2-3 3-11 2-16 3-6 2,7 2,16 3,16 2,2 3-12 2-18 3-11 2,3 2,14 3,18 2,6 3-8 2-17 3-14 2-1 2,12 3,17 2,10 3-4 2-15 3-16 2-5 2,8 3,16 2,14 3,1 2-13m0-25l3,6 2,15 2,14 3,2 2-10 3-16 2-10 2,2 3,12 2,16 3,7 2-6 3-16 2-13 2-3 3,10 2,16 3,11 2-2 2-13 3-15 2-5 3,6 2,12 3,14 2,3 2-10 3-12 2-4 3-1 2,4 2,16 3,7 2-6 3-18 2-8 3-1 2,7 2,15 3,10 2-1 3-13 2-16 2-8 3,7 2,15 3,14 2,3 3-10 2-15"/>
<path stroke="#0000ff" d="M834,990l2,22 1,0 1,0m0,0l3-7 2-18 3-8 2-1 3,6 2,13 2,13 3,1 2-13 3-16 2-10 2,2 3,14 2,17 3,8 2-7 2-17m0,23l3-8 2-17 3-16 2-3 2,12 3,18 2,12 3-1 2-13 3-18 2-10 2,5 3,16 2,16 3,6 2-7 2-17 3-15 2-3 3,11 2,18 2,12 3-1 2-13 3-18 2-10 2,4 3,17 2,16 3,7 2-8 3-16 2-16 2-2m0,43l3-13 2-18 3-12 2,2 3,15 2,19 3,8 2-7 2-19 3-15 2-3 3,11 2,18 3,13 2-2 3-15 2-17 3-8 2,5 3,17 2,17 2,4 3-11 2-18 3-12m0,28l2-18 3-11 2,2 3,14 2,19 2,9 3-7 2-19 3-15 2-4 3,10 2,18 2,15 3,0 2-15 3-18 2-10 3,3 2,16 2,12 3,4 2-5 3-13 2-14 3-3 2,11 2,20 3,7 2-2 3-11 2-17 3-9 2,5 2,16 3,19 2,6 3-10 2-19 3-14 2-2 2,12 3,19 2,12 3-3 2-16 3-17 2-8 2,7 3,16 2,16 3,4 2-10 3-18 2-13 2,0 3,13 2,18 3,10 2-5m0-33l3,13 2,17 2,8 3-6 2-16 3-14 2-5 2,9 3,16 2,13 3,1 2-12 3-16 2-11 2,2 3,14 2,16 3,8 2-6 2-16 3-14 2-2 3,9 2,14 3,13 2,1 2-12 3-12 2-4 3,0 2,4 2,17 3,8 2-6 3-18 2-10 3-2 2,7 2,14 3,13 2,0 3-11 2-18 2-11 3,4 2,15 3,16 2,7 3-6 2-16"/>
<path stroke="#008000" d="M834,990l2,24 1,0 1,0m0,0l3-7 2-19 3-10 2-1 3,6 2,12 2,15 3,3 2-11 3-18 2-12 2-1 3,12 2,18 3,12 2-2 2-15m0,17l3-3 2-16 3-18 2-10 2,6 3,18 2,17 3,6 2-8 3-17 2-17 2-5 3,11 2,19 3,14 2,2 2-12 3-18 2-13 3,0 2,14 2,18 3,11 2-2 3-15 2-19 2-11 3,6 2,18 3,17 2,7 3-7 2-17 2-16m0,27l3-19 2-12 3,2 2,15 3,19 2,11 3-6 2-19 2-17 3-6 2,9 3,18 2,16 3,3 2-13 3-19 2-12 3,1 2,14 3,19 2,11 2-5 3-18 2-17 3-6m0,21l2-16 3-5 2,9 3,18 2,17 2,3 3-13 2-20 3-13 2,0 3,14 2,20 2,13 3-4 2-19 3-18 2-8 3,6 2,17 2,12 3,3 2-6 3-13 2-16 3-3 2,12 2,20 3,9 2-1 3-11 2-17 3-12 2,3 2,15 3,20 2,11 3-7 2-19 3-17 2-6 2,8 3,18 2,17 3,4 2-12 3-19 2-14 2-1 3,13 2,19 3,13 2-3 3-16 2-18 2-9 3,5 2,17 3,17 2,6m0-31l3,17 2,13 2-1 3-14 2-17 3-10 2,3 2,14 3,18 2,8 3-6 2-16 3-16 2-6 2,8 3,17 2,15 3,3 2-10 2-18 3-12 2,0 3,12 2,16 3,11 2-1 2-14 3-11 2-4 3,1 2,5 2,18 3,7 2-6 3-17 2-12 3-4 2,7 2,14 3,15 2,3 3-11 2-18 2-14 3,0 2,13 3,18 2,12 3-2 2-15"/>
<path stroke="#ff0000" d="M834,990l2,26 1,0 1,0m0,0l3-8 2-19 3-11 2-2 3,5 2,12 2,17 3,5 2-9 3-19 2-14 2-5 3,9 2,19 3,16 2,3 2-12m0,9l3,2 2-12 3-19 2-16 2-1 3,14 2,19 3,14 2,0 3-14 2-19 2-14 3,1 2,16 3,19 2,11 2-2 3-15 2-19 3-11 2,3 2,17 3,18 2,10 3-4 2-16 2-20 3-10 2,6 3,19 2,18 3,8 2-7 2-17m0-11l3-13 2,3 3,15 2,21 3,12 2-6 3-19 2-19 2-8 3,8 2,17 3,19 2,6 3-10 2-19 3-16 2-4 3,11 2,20 3,16 2,2 2-15 3-20 2-13 3,2m0,10l2-12 3,2 2,15 3,21 2,12 2-4 3-19 2-19 3-9 2,5 3,17 2,21 2,9 3-8 2-21 3-17 2-7 3,9 2,18 2,11 3,3 2-7 3-14 2-16 3-3 2,11 2,22 3,9 2,1 3-10 2-19 3-13 2,0 2,14 3,21 2,14 3-2 2-17 3-20 2-11 2,3 3,17 2,19 3,11 2-6 3-19 2-18 2-8 3,7 2,18 3,18 2,7 3-9 2-19 2-17 3-4 2,10 3,18 2,16m0-17l3,16 2,4 2-10 3-19 2-14 3-2 2,11 2,18 3,14 2,1 3-13 2-18 3-13 2,0 2,13 3,19 2,12 3-2 2-14 2-18 3-10 2,4 3,13 2,17 3,10 2-4 2-15 3-10 2-4 3,2 2,6 2,18 3,8 2-7 3-16 2-15 3-4 2,6 2,14 3,16 2,6 3-9 2-18 2-17 3-4 2,11 3,18 2,15 3,3 2-11"/>
<path stroke="#00bfbf" d="M834,990l2,27 1,0 1,0m0,0l3-8 2-18 3-13 2-3 3,5 2,10 2,19 3,8 2-7 3-19 2-16 2-8 3,5 2,18 3,19 2,8 2-7m0-2l3,9 2-7 3-18 2-20 2-9 3,7 2,19 3,18 2,9 3-6 2-18 2-20 3-9 2,7 3,19 2,18 2,9 3-6 2-17 3-20 2-9 2,6 3,18 2,19 3,9 2-5 2-18 3-20 2-10 3,6 2,19 3,19 2,9 2-4m0-46l3,3 2,17 3,21 2,12 3-5 2-20 3-20 2-10 2,7 3,18 2,20 3,9 2-7 3-20 2-18 3-8 2,8 3,18 2,20 3,8 2-10 2-21 3-17 2-6 3,10m0-4l2-5 3,9 2,20 3,19 2,6 2-12 3-22 2-16 3-5 2,11 3,20 2,20 2,5 3-14 2-21 3-17 2-4 3,11 2,19 2,11 3,1 2-7 3-15 2-17 3-3 2,12 2,22 3,11 2,1 3-9 2-18 3-16 2-3 2,13 3,21 2,18 3,2 2-14 3-22 2-16 2-1 3,13 2,20 3,17 2,1 3-14 2-21 2-15 3-1 2,14 3,20 2,15 3,1 2-14 2-21 3-14 2,0 3,14 2,19m0,8l3,8 2-7 2-17 3-18 2-7 3,6 2,16 2,19 3,8 2-7 3-17 2-18 3-8 2,6 2,17 3,18 2,8 3-6 2-17 2-18 3-8 2,8 3,16 2,17 3,8 2-6 2-17 3-9 2-3 3,1 2,8 2,18 3,8 2-6 3-18 2-15 3-5 2,5 2,14 3,17 2,8 3-6 2-18 2-19 3-8 2,8 3,18 2,17 3,8 2-6"/>
<path stroke="#bf00bf" d="M834,990l2,29 1,0 1,0m0,0l3-8 2-19 3-14 2-4 3,4 2,10 2,20 3,10 2-4 3-18 2-18 2-12 3,2 2,15 3,21 2,14 2-2m0-13l3,14 2-1 3-15 2-21 2-16 3-1 2,14 3,21 2,16 3,3 2-12 2-21 3-18 2-4 3,11 2,21 2,17 3,6 2-9 3-19 2-19 2-8 3,8 2,20 3,19 2,9 2-6 3-18 2-22 3-11 2,6 3,18 2,20 2,14m0-49l3,18 2,21 3,11 2-5 3-21 2-21 3-10 2,5 2,19 3,21 2,12 3-6 2-19 3-20 2-11 3,5 2,17 3,21 2,13 3-5 2-18 2-21 3-12 2,4 3,17m0-20l2,3 3,16 2,23 3,14 2-3 2-18 3-22 2-13 3,1 2,15 3,23 2,17 2-1 3-17 2-22 3-15 2-1 3,13 2,19 2,11 3,0 2-8 3-17 2-16 3-3 2,12 2,22 3,12 2,3 3-8 2-19 3-18 2-5 2,10 3,21 2,21 3,7 2-10 3-23 2-19 2-7 3,8 2,19 3,21 2,9 3-8 2-20 2-19 3-10 2,6 3,18 2,21 3,11 2-5 2-19 3-20 2-11 3,4 2,17m0,32l3-3 2-16 2-19 3-13 2,2 3,14 2,19 2,14 3,0 2-14 3-19 2-14 3-2 2,12 2,20 3,15 2,3 3-11 2-20 2-16 3-4 2,12 3,17 2,17 3,6 2-10 2-17 3-8 2-3 3,2 2,9 2,19 3,8 2-7 3-18 2-16 3-6 2,4 2,13 3,19 2,10 3-4 2-16 2-20 3-12 2,3 3,16 2,20 3,13 2-2"/>
<path stroke="#bfbf00" d="M834,990l2,30 1,0 1,0m0,0l3-8 2-19 3-15 2-4 3,2 2,10 2,19 3,14 2-2 3-16 2-20 2-15 3-2 2,12 3,21 2,18 2,5m0-25l3,18 2,6 3-9 2-19 2-22 3-9 2,7 3,19 2,21 3,11 2-3 2-16 3-22 2-15 3,0 2,15 2,22 3,16 2,3 3-12 2-20 2-19 3-7 2,10 3,20 2,21 2,9 3-6 2-19 3-22 2-13 3,4 2,17 2,23m0-14l3,22 2,10 3-7 2-22 3-21 2-11 3,5 2,19 2,23 3,13 2-4 3-18 2-22 3-13 2,1 3,16 2,22 3,16 2,1 3-16 2-22 2-17 3-2 2,13 3,22m0-35l2,12 3,21 2,21 3,7 2-11 2-23 3-20 2-8 3,7 2,19 3,23 2,13 2-5 3-21 2-22 3-13 2,2 3,16 2,19 2,10 3-1 2-9 3-18 2-17 3-3 2,12 2,23 3,14 2,3 3-6 2-19 3-19 2-9 2,8 3,19 2,23 3,13 2-6 3-21 2-22 2-12 3,2 2,16 3,23 2,15 3,1 2-16 2-22 3-17 2-2 3,12 2,21 3,19 2,6 2-11 3-21 2-19 3-8 2,9m0,47l3-14 2-21 2-15 3-4 2,11 3,19 2,18 2,7 3-9 2-19 3-19 2-8 3,5 2,17 2,20 3,12 2-3 3-16 2-21 2-14 3,2 2,14 3,19 2,16 3,2 2-11 2-18 3-8 2-2 3,3 2,10 2,19 3,8 2-7 3-17 2-17 3-8 2,2 2,14 3,19 2,13 3-1 2-15 2-21 3-16 2-1 3,13 2,21 3,16 2,5"/>
<path stroke="#404040" d="M834,990l2,32 1,0 1,0m0,0l3-8 2-20 3-16 2-5 3,2 2,9 2,19 3,16 2,2 3-14 2-21 2-18 3-7 2,8 3,20 2,22 2,10m0-35l3,21 2,13 3-2 2-16 2-23 3-17 2-3 3,14 2,22 3,19 2,7 2-8 3-20 2-22 3-12 2,4 2,18 3,22 2,15 3,1 2-14 2-21 3-19 2-7 3,10 2,22 2,21 3,11 2-6 3-18 2-23 3-15 2,1 2,16m0,39l3,7 2-9 3-23 2-21 3-10 2,5 3,20 2,23 2,15 3-3 2-18 3-23 2-15 3-1 2,13 3,22 2,20 3,5 2-12 3-23 2-20 2-8 3,8 2,20 3,24m0-45l2,18 3,24 2,16 3-3 2-19 2-23 3-16 2-2 3,12 2,23 3,22 2,7 2-11 3-24 2-20 3-10 2,5 3,18 2,19 2,8 3-2 2-10 3-18 2-17 3-3 2,12 2,23 3,15 2,5 3-6 2-17 3-21 2-12 2,5 3,18 2,23 3,17 2,0 3-17 2-24 2-17 3-5 2,12 3,21 2,21 3,9 2-8 2-21 3-21 2-12 3,3 2,17 3,23 2,16 2,1 3-15 2-22 3-18 2-3m0,46l3-21 2-18 2-8 3,7 2,18 3,20 2,13 2-3 3-17 2-20 3-15 2-2 3,13 2,20 2,18 3,6 2-9 3-20 2-19 2-11 3,6 2,17 3,20 2,14 3,0 2-15 2-17 3-7 2-1 3,4 2,10 2,19 3,9 2-7 3-18 2-18 3-9 2,1 2,13 3,19 2,16 3,2 2-13 2-21 3-18 2-7 3,10 2,19 3,20 2,11"/>
<path stroke="#0000ff" d="M834,990l2,33 1,0 1,0m0,0l3-8 2-20 3-16 2-7 3,1 2,9 2,17 3,19 2,5 3-11 2-21 2-20 3-11 2,4 3,17 2,23 2,16m0-45l3,24 2,18 3,5 2-10 2-21 3-22 2-12 3,5 2,18 3,23 2,16 2,3 3-13 2-22 3-21 2-9 2,8 3,19 2,22 3,14 2-1 2-14 3-22 2-20 3-7 2,10 2,23 3,22 2,11 3-3 2-18 3-23 2-17 2-1m0,64l3-13 2-23 3-21 2-9 3,7 2,21 3,24 2,15 2-3 3-19 2-23 3-17 2-3 3,13 2,21 3,22 2,9 3-9 2-21 3-23 2-13 2,3 3,17 2,24 3,21m0-47l2,22 3,22 2,7 3-13 2-24 2-21 3-10 2,4 3,18 2,24 3,19 2,2 2-17 3-25 2-19 3-7 2,8 3,20 2,19 2,7 3-4 2-10 3-20 2-17 3-3 2,12 2,23 3,17 2,6 3-4 2-17 3-22 2-14 2,1 3,16 2,23 3,21 2,6 3-13 2-24 2-21 3-10 2,5 3,18 2,24 3,16 2,1 2-15 3-24 2-19 3-6 2,9 3,20 2,23 2,12 3-4 2-17 3-23 2-15m0,29l3-20 2-11 2,3 3,15 2,22 3,16 2,3 2-12 3-21 2-19 3-8 2,6 3,18 2,21 2,14 3-1 2-14 3-22 2-17 2-6 3,10 2,19 3,20 2,12 3-4 2-17 2-15 3-7 2,0 3,4 2,12 2,19 3,8 2-7 3-18 2-19 3-9 2-1 2,12 3,19 2,18 3,5 2-10 2-20 3-21 2-11 3,5 2,17 3,22 2,15"/>
<path stroke="#008000" d="M834,990l2,35 1,0 1,0m0,0l3-8 2-20 3-18 2-7 3,0 2,8 2,16 3,20 2,9 3-7 2-20 2-22 3-16 2-1 3,13 2,23 2,21m0-50l3,23 2,22 3,12 2-2 2-17 3-23 2-20 3-6 2,11 3,22 2,22 2,13 3-2 2-16 3-23 2-20 2-6 3,10 2,21 3,22 2,13 2-1 3-16 2-23 3-20 2-8 2,9 3,23 2,23 3,14 2-1 3-16 2-23 2-18m0,42l3-24 2-19 3-7 2,9 3,22 2,25 3,14 2-4 2-19 3-24 2-18 3-4 2,12 3,21 2,23 3,12 2-5 3-20 2-24 3-17 2-2 2,14 3,23 2,22 3,13m0-41l2,25 3,14 2-3 3-20 2-25 2-18 3-4 2,11 3,21 2,26 3,13 2-4 2-21 3-25 2-17 3-4 2,11 3,22 2,18 2,5 3-4 2-12 3-20 2-17 3-4 2,13 2,22 3,18 2,8 3-2 2-16 3-23 2-17 2-2 3,13 2,22 3,25 2,11 3-7 2-22 2-24 3-16 2-2 3,13 2,23 3,22 2,10 2-7 3-20 2-23 3-16 2-1 3,13 2,23 2,21 3,9 2-7 3-20 2-22m0-1l3-13 2,0 2,13 3,21 2,20 3,7 2-7 2-19 3-21 2-14 3-1 2,13 3,22 2,19 2,8 3-7 2-19 3-22 2-14 2-1 3,14 2,21 3,20 2,8 3-7 2-19 2-14 3-6 2,0 3,5 2,13 2,19 3,8 2-6 3-19 2-19 3-11 2-1 2,10 3,19 2,19 3,9 2-7 2-18 3-23 2-15 3-1 2,14 3,22 2,19"/>
<path stroke="#ff0000" d="M834,990l2,37 1,0 1,0m0,0l3-8 2-21 3-18 2-8 3-2 2,7 2,15 3,22 2,12 3-4 2-17 2-23 3-19 2-7 3,8 2,21 2,23m0-51l3,20 2,24 3,19 2,6 2-10 3-21 2-24 3-15 2,0 3,15 2,24 2,21 3,9 2-6 3-18 2-24 2-18 3-4 2,11 3,22 2,22 2,13 3-1 2-15 3-23 2-22 2-10 3,8 2,21 3,24 2,17 3,2 2-12 2-21m0-14l3-17 2-4 3,13 2,23 3,24 2,14 3-6 2-20 2-25 3-18 2-4 3,11 2,21 3,24 2,14 3-3 2-18 3-25 2-19 3-6 2,9 2,22 3,25 2,15 3,1m0-21l2,19 3,4 2-13 3-26 2-22 2-12 3,3 2,17 3,25 2,22 3,8 2-11 2-25 3-23 2-15 3,0 2,14 3,23 2,16 2,5 3-6 2-13 3-21 2-17 3-3 2,12 2,23 3,19 2,9 3-1 2-14 3-23 2-19 2-7 3,10 2,21 3,26 2,17 3-1 2-17 2-26 3-20 2-10 3,7 2,19 3,25 2,18 2,3 3-13 2-24 3-22 2-12 3,4 2,17 2,24 3,19 2,7 3-10 2-22m0-33l3-3 2,11 2,20 3,22 2,12 3-3 2-16 2-23 3-17 2-7 3,8 2,19 3,22 2,15 2,1 3-14 2-21 3-21 2-10 2,5 3,18 2,22 3,17 2,5 3-10 2-21 2-12 3-5 2,1 3,5 2,14 2,20 3,8 2-7 3-18 2-20 3-12 2-3 2,8 3,19 2,21 3,11 2-3 2-16 3-23 2-19 3-6 2,9 3,20 2,22"/>
<path stroke="#00bfbf" d="M834,990l2,38 1,0 1,0m0,0l3-8 2-20 3-19 2-9 3-3 2,6 2,13 3,23 2,15 3,0 2-14 2-24 3-21 2-12 3,2 2,17 2,25m0-47l3,13 2,24 3,23 2,14 2-1 3-16 2-24 3-22 2-11 3,5 2,19 2,25 3,19 2,7 3-9 2-20 2-24 3-17 2-4 3,13 2,22 2,23 3,14 2,0 3-15 2-24 2-23 3-12 2,5 3,19 2,25 3,19 2,7 2-5m0-65l3,1 2,16 3,24 2,24 3,10 2-7 3-22 2-26 2-17 3-4 2,12 3,22 2,24 3,15 2-2 3-17 2-24 3-21 2-10 3,7 2,19 2,26 3,19 2,4 3-10m0,4l2,10 3-8 2-22 3-25 2-18 2-5 3,10 2,21 3,27 2,18 3,0 2-16 2-27 3-22 2-11 3,4 2,17 3,23 2,15 2,3 3-8 2-13 3-21 2-17 3-4 2,13 2,22 3,20 2,11 3,1 2-13 3-23 2-21 2-10 3,6 2,19 3,25 2,22 3,6 2-12 2-24 3-24 2-15 3-2 2,14 3,23 2,24 2,12 3-3 2-18 3-25 2-20 3-8 2,8 2,20 3,24 2,18 3,4 2-13m0-58l3,10 2,19 2,23 3,15 2,1 3-13 2-23 2-20 3-11 2,2 3,15 2,23 3,19 2,9 2-7 3-18 2-23 3-17 2-5 2,10 3,20 2,22 3,15 2,1 3-13 2-21 2-11 3-4 2,2 3,6 2,15 2,19 3,8 2-6 3-19 2-20 3-13 2-5 2,7 3,18 2,22 3,14 2,1 2-14 3-22 2-21 3-12 2,4 3,16 2,23"/>
<path stroke="#bf00bf" d="M834,990l2,40 1,0 1,0m0,0l3-8 2-20 3-21 2-9 3-4 2,4 2,13 3,22 2,18 3,4 2-11 2-22 3-23 2-17 3-3 2,11 2,23m0-38l3,7 2,20 3,25 2,20 2,8 3-8 2-20 3-24 2-20 3-7 2,10 2,22 3,24 2,17 3,4 2-10 2-21 3-24 2-17 3-3 2,12 2,23 3,23 2,16 3,1 2-13 2-23 3-25 2-15 3,1 2,16 3,25 2,22 2,15m0-70l3,19 2,26 3,21 2,7 3-11 2-24 3-26 2-16 2-3 3,13 2,23 3,25 2,15 3-1 2-16 3-25 2-22 3-11 2,3 3,18 2,25 2,23 3,9 2-8 3-21m0,30l2-1 3-18 2-27 3-21 2-12 2,3 3,17 2,24 3,26 2,11 3-6 2-22 2-27 3-20 2-7 3,7 2,20 3,23 2,14 2,1 3-9 2-14 3-22 2-17 3-3 2,12 2,22 3,21 2,12 3,3 2-10 3-23 2-23 2-13 3,1 2,16 3,25 2,25 3,13 2-6 2-20 3-26 2-20 3-10 2,7 3,19 2,25 2,20 3,8 2-9 3-22 2-25 3-17 2-5 2,11 3,21 2,25 3,17 2,0m0-63l3,19 2,23 2,17 3,5 2-11 3-21 2-22 2-16 3-1 2,11 3,20 2,23 3,14 2,1 2-14 3-22 2-22 3-12 2,1 2,14 3,23 2,21 3,11 2-3 3-16 2-20 2-10 3-3 2,3 3,7 2,15 2,20 3,8 2-7 3-18 2-21 3-14 2-6 2,5 3,16 2,23 3,17 2,5 2-10 3-21 2-23 3-16 2-3 3,12 2,22"/>
<path stroke="#bfbf00" d="M834,990l2,41 1,0 1,0m0,0l3-7 2-21 3-21 2-10 3-5 2,3 2,12 3,20 2,21 3,8 2-7 2-19 3-25 2-20 3-10 2,6 2,19m0-25l3-1 2,14 3,24 2,24 2,16 3,2 2-13 3-22 2-25 3-17 2-3 2,13 3,24 2,24 3,16 2,2 2-11 3-22 2-24 3-18 2-3 2,12 3,23 2,24 3,17 2,4 2-11 3-22 2-26 3-18 2-4 3,11 2,23 2,26m0-21l3,25 2,18 3,2 2-15 3-26 2-25 3-15 2,0 2,15 3,24 2,25 3,15 2-1 3-16 2-26 3-22 2-13 3,2 2,16 3,24 2,25 2,13 3-4 2-18 3-26m0,51l2-13 3-25 2-25 3-17 2-4 2,11 3,22 2,27 3,20 2,4 3-13 2-26 2-25 3-17 2-3 3,11 2,22 3,23 2,12 2-2 3-9 2-15 3-23 2-17 3-3 2,12 2,23 3,21 2,13 3,5 2-8 3-22 2-24 2-17 3-2 2,12 3,22 2,28 3,18 2,2 2-14 3-25 2-25 3-16 2-2 3,13 2,22 2,25 3,17 2,3 3-15 2-23 3-24 2-16 2-1 3,12 2,23 3,25 2,14m0-47l3,23 2,20 2,7 3-8 2-20 3-23 2-18 2-7 3,7 2,19 3,23 2,19 3,7 2-7 2-20 3-23 2-19 3-7 2,7 2,18 3,24 2,19 3,7 2-6 3-19 2-19 2-9 3-2 2,4 3,7 2,17 2,19 3,8 2-6 3-19 2-21 3-15 2-7 2,3 3,15 2,23 3,19 2,8 2-6 3-18 2-24 3-20 2-8 3,6 2,18"/>
<path stroke="#404040" d="M834,990l2,43 1,0 1,0m0,0l3-8 2-20 3-21 2-12 3-6 2,2 2,10 3,19 2,22 3,13 2-2 2-17 3-24 2-23 3-15 2-2 2,13m0-7l3-9 2,7 3,19 2,26 2,22 3,11 2-4 3-16 2-24 3-24 2-15 2,1 3,15 2,25 3,24 2,15 2,1 3-12 2-21 3-25 2-18 2-5 3,10 2,22 3,25 2,20 2,8 3-8 2-20 3-26 2-22 3-10 2,6 2,20m0,50l3,12 2-5 3-19 2-27 3-23 2-12 3,3 2,18 2,25 3,25 2,14 3-3 2-17 3-26 2-22 3-14 2,1 3,14 2,24 3,26 2,17 2-1 3-15 2-26 3-23m0,62l2-23 3-27 2-20 3-10 2,5 2,17 3,25 2,26 3,14 2-4 3-19 2-28 2-22 3-14 2,1 3,15 2,24 3,21 2,10 2-3 3-11 2-15 3-23 2-17 3-3 2,12 2,22 3,22 2,14 3,7 2-6 3-20 2-26 2-19 3-7 2,8 3,21 2,26 3,24 2,9 2-8 3-21 2-26 3-22 2-10 3,4 2,18 2,24 3,24 2,13 3-3 2-17 3-25 2-23 2-13 3,0 2,14 3,23 2,24m0-11l3,21 2,8 2-6 3-18 2-24 3-19 2-11 2,3 3,16 2,22 3,23 2,12 3-1 2-15 2-23 3-22 2-14 3-1 2,12 2,22 3,23 2,16 3,3 2-10 3-21 2-16 2-8 3-2 2,5 3,8 2,18 2,19 3,8 2-7 3-18 2-22 3-15 2-9 2,1 3,13 2,23 3,21 2,12 2-2 3-15 2-23 3-23 2-13 3-1 2,14"/>
<path stroke="#0000ff" d="M834,990l2,44 1,0 1,0m0,0l3-7 2-20 3-22 2-12 3-7 2,0 2,8 3,17 2,24 3,16 2,3 2-13 3-22 2-25 3-20 2-8 2,6m0,12l3-16 2-2 3,13 2,23 2,25 3,19 2,7 3-8 2-19 3-25 2-23 2-13 3,4 2,17 3,25 2,23 2,15 3,2 2-12 3-21 2-25 2-20 3-7 2,7 3,21 2,26 2,22 3,12 2-4 3-17 2-24 3-24 2-16 2,1m0,86l3-11 2-23 3-27 2-20 3-8 2,7 3,20 2,27 2,24 3,11 2-4 3-19 2-26 3-23 2-13 3,0 2,15 3,23 2,26 3,18 2,4 2-14 3-24 2-26 3-17m0,60l2-27 3-23 2-14 3-1 2,12 2,23 3,27 2,21 3,7 2-12 3-24 2-27 2-21 3-9 2,6 3,18 2,25 3,20 2,7 2-5 3-12 2-16 3-23 2-17 3-3 2,12 2,22 3,23 2,15 3,9 2-4 3-18 2-26 2-22 3-11 2,4 3,17 2,24 3,27 2,16 2,0 3-15 2-25 3-25 2-18 3-5 2,10 2,21 3,25 2,22 3,9 2-6 3-19 2-26 2-22 3-12 2,1 3,15 2,24m0,33l3,10 2-5 2-18 3-23 2-21 3-13 2,0 2,13 3,21 2,24 3,16 2,5 3-10 2-20 2-24 3-20 2-8 3,5 2,18 2,23 3,22 2,12 3-1 2-14 3-23 2-13 2-7 3,0 2,5 3,9 2,19 2,19 3,7 2-6 3-18 2-22 3-17 2-10 2-1 3,12 2,21 3,23 2,15 2,3 3-11 2-21 3-25 2-18 3-7 2,7"/>
<path stroke="#008000" d="M834,990l2,46 1,0 1,0m0,0l3-7 2-20 3-23 2-13 3-8 2-1 2,7 3,15 2,24 3,19 2,7 2-7 3-20 2-25 3-23 2-15 2-2m0,32l3-23 2-10 3,6 2,19 3,27 2,24 3,13 2,0 3-14 2-24 3-26 2-20 3-4 2,11 3,22 2,26 3,21 2,9 3-5 2-18 3-24 2-25 3-15 2-1 2,15 3,26 2,26 3,18 2,5 3-11 2-21 3-26 2-20m0,59l3-27 2-24 3-16 2-2 3,12 2,23 3,27 2,22 2,8 3-8 2-21 3-26 2-23 3-12 2,1 3,15 2,23 3,26 2,19 3,6 2-11 2-24 3-26 2-21 3-9m0,48l2-25 3-18 2-5 3,10 2,21 3,28 2,25 3,10 2-7 3-23 2-29 3-23 2-12 3,2 3,17 2,24 3,24 2,11 3-3 2-12 3-17 2-23 3-19 2-6 3,10 2,22 3,24 2,17 3,11 2-1 3-17 2-28 3-24 2-13 3,2 2,16 3,25 2,28 3,19 2,1 3-14 2-26 3-26 2-19 3-6 2,9 3,21 3,26 2,23 3,10 2-5 3-19 2-27 3-23 2-14 3,2 2,16m0,68l3-5 2-18 3-25 2-22 3-12 2,1 3,13 2,23 3,24 2,17 3,3 2-12 3-22 2-25 3-19 2-7 3,8 2,20 3,25 3,21 2,11 3-5 2-17 3-23 2-12 3-6 2,2 3,7 2,10 3,23 2,17 3,3 2-11 3-22 2-21 3-16 2-7 3,4 2,16 3,25 2,22 3,10 2-3 3-17 2-25 3-23 2-15 3,1"/>
<path stroke="#ff0000" d="M834,990l2,47 1,0 1,0m0,0l3-7 3-22 2-23 3-13 2-9 3,0 2,10 3,17 3,27 2,17 3,3 2-13 3-24 2-27 3-22 2-10m0,50l3-28 3-18 2-2 3,13 2,25 3,27 2,20 3,7 2-7 3-20 3-27 2-25 3-13 2,3 3,18 2,26 3,25 3,16 2,3 3-12 2-23 3-27 2-22 3-9 2,8 3,22 3,29 2,23 3,12 2-3 3-16 2-25m0-15l3-21 2-10 3,6 3,19 2,27 3,28 2,15 3-2 2-17 3-27 3-26 2-17 3-4 2,10 3,22 2,27 3,24 2,10 3-6 3-21 2-29 3-23 2-14 3,2m0,27l2-21 3-9 3,7 2,20 3,27 2,28 3,15 3-4 2-20 3-31 2-25 3-15 3-1 2,14 3,25 3,27 2,14 3-1 2-12 3-16 3-24 2-21 3-9 2,8 3,21 3,26 2,19 3,13 2,1 3-16 3-29 2-25 3-15 2,0 3,15 3,25 2,29 3,21 2,3 3-13 3-26 2-28 3-20 2-8 3,8 3,22 2,27 3,24 3,12 2-4 3-20 2-28 3-24 3-15 2,4m0,80l3-18 2-26 3-23 2-14 3,1 3,13 2,22 3,26 2,18 3,5 2-10 3-22 3-26 2-21 3-9 2,5 3,19 2,25 3,23 3,14 2-1 3-15 2-24 3-16 2-7 3,0 3,6 2,10 3,19 2,21 3,8 2-6 3-19 3-24 2-18 3-12 2-1 3,12 2,24 3,24 3,17 2,3 3-12 2-23 3-25 2-20 3-8"/>
<path stroke="#00bfbf" d="M834,990l2,49 2,0m0,0l3-8 3-20 2-25 3-13 2-10 3-2 2,8 3,16 3,25 2,21 3,8 2-7 3-21 2-27 3-25 2-18m0,64l3-29 3-24 2-12 3,5 3,21 2,29 3,25 3,15 2,0 3-14 3-25 2-29 3-20 2-6 3,11 3,24 2,27 3,23 3,10 2-5 3-18 3-27 2-27 3-18 3-1 2,17 3,28 2,27 3,19 3,6 2-7m0-83l3-2 3,14 2,25 3,30 3,23 2,7 3-12 3-26 2-29 3-22 3-10 2,5 3,20 3,27 2,27 3,15 3,0 2-18 3-28 3-27 2-18 3-3 3,13m0,1l2-13 3,2 3,17 2,25 3,31 3,20 2,4 3-15 3-29 2-29 3-20 3-8 2,8 3,21 3,29 2,22 3,7 3-8 2-16 3-18 3-26 2-17 3-2 3,14 2,25 3,24 2,18 3,11 3-5 2-22 3-30 3-24 2-11 3,4 3,19 2,27 3,29 3,17 2,0 3-16 3-28 2-27 3-20 3-5 2,10 3,23 3,28 2,24 3,12 3-7 2-21 3-27 3-25 2-12m0,65l3-27 3-24 2-15 3,1 3,15 2,24 3,26 3,18 2,4 3-12 3-24 2-26 3-21 3-8 2,8 3,21 3,27 2,23 3,11 3-4 3-18 2-25 3-14 3-6 2,2 3,8 3,11 2,24 3,18 3,4 2-12 3-23 3-23 2-17 3-9 3,4 3,18 2,28 3,23 3,11 2-4 3-18 3-26 2-25 3-15"/>
<path stroke="#bf00bf" d="M834,990l2,51 2,0m0,0l3-9 3-22 3-25 2-15 3-9 3-1 3,11 2,19 3,28 3,19 3,3 2-14 3-25 3-30 2-24m0,72l3-28 3-29 3-20 2-3 3,14 3,27 3,28 2,22 3,9 3-8 2-21 3-29 3-26 3-14 2,2 3,19 3,27 3,27 2,18 3,4 3-12 3-25 2-30 3-25 3-9 2,9 3,23 3,30 3,24 2,19m0-93l3,20 3,28 2,28 3,17 3,1 2-16 3-28 3-29 2-20 3-7 3,8 2,21 3,27 3,26 2,16 3-1 3-17 2-27 3-28 3-20 2-6 3,10 3,22m0-27l3-2 2,14 3,24 3,32 3,24 2,8 3-11 3-27 3-31 2-24 3-11 3,5 3,20 2,28 3,27 3,10 3-6 2-16 3-18 3-27 3-20 2-4 3,12 3,25 3,26 2,19 3,13 3-2 3-21 3-32 2-26 3-13 3,2 3,18 2,28 3,30 3,20 3,1 2-15 3-28 3-29 3-21 2-7 3,10 3,23 3,29 2,25 3,13 3-6 3-21 2-29 3-24m0,25l3-24 3-15 2-1 3,14 3,24 3,27 2,20 3,6 3-11 3-23 2-27 3-22 3-11 3,5 2,20 3,27 3,25 3,15 2-1 3-16 3-25 3-18 2-8 3,0 3,7 3,10 2,21 3,22 3,9 3-7 2-20 3-25 3-20 3-13 2-2 3,13 3,26 3,26 2,18 3,4 3-13 2-24 3-27 3-21"/>
<path stroke="#bfbf00" d="M834,990l2,52 2,0m0,0l3-8 3-22 3-26 2-15 3-10 3-3 3,8 2,18 3,27 3,22 3,9 2-7 3-21 3-29 2-29m0,75l3-25 3-30 3-27 3-12 3,6 2,22 3,29 3,27 3,17 3,1 3-16 2-26 3-30 3-22 3-6 3,10 2,25 3,29 3,24 3,13 3-4 3-20 2-29 3-30 3-18 3-1 3,17 3,28 2,31m0-31l3,30 3,24 3,9 3-9 2-25 3-32 3-25 3-13 2,2 3,18 3,27 3,29 3,21 2,5 3-13 3-26 3-30 3-24 2-11 3,6 3,20 3,29m0-53l3,11 3,23 2,31 3,29 3,13 3-7 3-25 3-33 3-27 2-15 3,2 3,18 3,27 3,32 3,14 3-4 3-15 2-20 3-26 3-22 3-8 3,10 3,24 3,27 2,22 3,16 3,0 3-20 3-34 3-27 3-16 3,1 2,17 3,28 3,31 3,22 3,4 3-15 3-28 2-30 3-23 3-8 3,9 3,23 3,30 3,27 3,12 2-5 3-20 3-30m0-25l3-15 3-1 3,14 3,26 3,28 2,20 3,5 3-12 3-25 3-28 3-22 3-9 3,7 2,22 3,29 3,24 3,13 3-4 3-19 3-27 3-16 2-6 3,2 3,9 3,12 3,25 3,20 3,4 3-12 2-25 3-24 3-19 3-10 3,3 3,20 3,30 3,25 2,12 3-4 3-19 3-28 3-27"/>
<path stroke="#404040" d="M834,990l2,54 2,0m0,0l3-9 3-24 3-26 3-16 3-11 3-1 3,11 3,22 3,30 3,20 3,3 3-14 3-27 2-32m0,70l3-20 3-28 3-31 3-22 3-3 3,15 3,27 3,31 3,23 3,11 3-9 3-22 2-30 3-28 3-16 3,2 3,19 3,29 3,29 3,20 3,5 3-12 3-27 3-31 3-26 3-10 2,8 3,24m0,60l3,17 3-1 3-19 3-31 3-31 3-20 3-4 3,13 3,26 3,31 3,25 2,11 3-7 3-23 3-31 3-27 3-17 3,1 3,18 3,28 3,33m0-73l3,21 3,31 3,32 3,18 3-3 3-21 3-34 3-29 3-19 3-2 3,15 3,27 3,34 3,20 3-1 3-16 3-20 3-26 3-25 3-11 3,8 3,23 2,29 3,24 3,18 3,3 3-20 3-34 3-29 3-18 3-2 3,17 3,28 3,32 3,23 3,6 3-14 3-28 3-31 3-24 3-10 3,8 3,24 3,31 3,28 3,13 3-4 3-22m0-72l3,0 3,14 3,25 3,29 3,22 3,6 3-11 3-24 3-29 3-23 3-12 3,5 2,20 3,28 3,27 3,16 3,0 3-16 3-27 3-21 3-9 3,1 3,7 3,12 3,21 3,24 3,10 3-7 3-21 3-27 3-21 2-15 3-3 3,13 3,29 3,29 3,19 3,4 3-13 3-26 3-29"/>
<path stroke="#0000ff" d="M834,990l2,55 2,0m0,0l3-8 3-23 3-28 3-16 3-12 3-3 3,8 3,20 3,28 3,24 3,11 3-7 3-22 2-31m0,59l3-12 4-26 3-32 3-28 3-13 3,6 3,22 3,32 3,29 3,18 3,1 3-17 3-27 3-31 3-24 3-8 3,11 3,25 3,32 3,27 3,15 3-5 3-21 3-30 3-31 3-20 3,2m0,108l3-11 4-28 3-33 3-27 3-13 3,6 3,23 3,31 3,31 3,18 3-1 3-19 3-31 3-30 3-21 4-5 3,13 3,27 3,33 3,30m0-80l3,28 3,34 3,24 3,5 3-17 3-31 3-33 3-24 3-9 3,8 3,24 3,32 3,30 4,10 3-10 3-20 3-21 3-30 3-20 3-3 3,14 3,28 3,27 3,24 3,15 3-4 3-28 3-34 3-28 3-14 3,3 3,20 3,30 4,33 3,21 3,1 3-16 3-30 3-31 3-23 3-8 3,9 3,25 3,31 3,28 3,14 3-6m0-96l3,15 3,26 3,31 4,22 3,6 3-13 3-26 3-30 3-23 3-10 3,7 3,22 3,30 4,27 3,14 3-4 3-20 3-28 3-20 3-7 3,4 3,10 3,12 4,27 3,21 3,5 3-13 3-25 3-27 3-21 3-12 3,4 3,22 3,33 4,26 3,13 3-4 3-21 3-29"/>
<path stroke="#008000" d="M834,990l2,57 2,0m0,0l4-10 3-25 3-28 3-17 3-12 3-1 4,12 3,24 3,31 3,21 3,4 3-14 3-29m0,42l4-3 3-20 3-30 3-32 3-22 3-5 3,15 4,29 3,32 3,25 3,10 3-7 3-23 4-31 3-30 3-18 3,1 3,19 3,31 3,32 4,23 3,5 3-14 3-27 3-32 3-24m0,76l3-31 4-30 3-23 3-6 3,11 3,26 3,32 3,29 3,15 3-3 3-21 3-31 3-29 3-21 3-6 4,11 3,25 3,32 3,29 3,20m0-73l3,35 3,28 3,10 4-11 3-30 3-35 3-27 3-14 3,5 4,21 3,31 3,35 3,16 3-7 4-21 3-22 3-30 3-23 3-7 4,13 3,27 3,29 3,26 3,17 3,0 4-28 3-36 3-29 3-17 3,2 4,19 3,30 3,34 3,22 3,5 3-16 4-30 3-32 3-25 3-10 3,9 4,25 3,32 3,29 3,13m0-88l3,27 4,31 3,23 3,7 3-11 3-25 3-31 4-25 3-12 3,5 3,20 3,30 3,29 4,17 3,0 3-17 3-28 3-24 4-11 3,2 3,9 3,12 3,23 3,25 4,11 3-7 3-22 3-29 3-23 4-17 3-4 3,15 3,32 3,30 3,20 4,5 3-14 3-27"/>
<path stroke="#ff0000" d="M834,990l2,58 2,0m0,0l4-9 3-24 3-29 3-17 3-14 3-4 4,9 3,21 3,30 3,26 3,12 3-7 3-23m0,21l4,7 3-12 3-26 4-33 3-30 3-14 3,5 4,22 3,34 3,30 3,19 4,2 3-16 3-28 4-33 3-26 3-10 3,10 4,27 3,35 3,29 4,14 3-4 3-21 3-30m0-15l4-27 3-14 3,4 3,20 4,32 3,34 3,22 3,3 3-16 4-29 3-33 3-25 3-11 4,6 3,22 3,32 3,33 4,19 3,6m0-47l3,32 3,17 4-8 3-26 3-37 4-30 3-18 3,1 4,19 3,30 3,37 4,23 3-4 3-20 4-24 3-29 3-26 4-10 3,10 3,26 4,31 3,27 3,21 4,2 3-27 3-37 4-31 3-19 3-1 4,18 3,31 3,35 4,24 3,7 3-16 4-29 3-34 3-27 4-10 3,8 3,25 4,33 3,29m0-48l3,32 4,24 3,8 3-10 3-25 4-31 3-26 3-15 4,3 3,18 3,30 3,30 4,20 3,4 3-14 3-27 4-28 3-15 3-1 3,8 4,13 3,18 3,28 4,16 3,0 3-18 3-29 4-25 3-22 3-10 3,6 4,29 3,32 3,27 3,12 4-5 3-21"/>
<path stroke="#00bfbf" d="M834,990l2,60 2,0m0,0l4-10 3-26 4-30 3-18 4-14 3-3 3,14 4,26 3,33 4,23 3,5 3-16m0-3l4,16 3-2 4-20 3-32 4-34 3-23 3-6 4,14 3,30 4,35 3,26 3,12 4-8 3-23 4-32 3-33 3-20 4,0 3,19 4,34 3,34 4,23 3,6 3-8m0-100l4-5 3,14 4,29 3,36 3,30 4,11 3-9 4-27 3-35 3-29 4-18 3,1 4,19 3,30 4,36 3,25 3,6 4-10m0-9l3,20 4,1 3-22 3-36 4-33 3-23 4-7 3,12 4,27 3,36 3,32 4,10 3-14 4-25 3-25 3-31 4-20 3-2 4,17 3,31 3,29 4,28 3,17 4-10 3-32 4-36 3-29 3-16 4,4 3,22 4,32 3,34 3,23 4,3 3-17 4-31 3-34 4-26 3-10 3,9 4,26 3,32m0,14l4,25 3,9 4-12 3-26 3-33 4-26 3-13 4,4 3,21 4,31 3,31 4,19 3,0 3-18 4-29 3-28 4-12 3,2 4,10 3,15 4,23 3,27 4,12 3-7 3-24 4-30 3-25 4-20 3-5 4,19 3,33 4,32 3,22 4,5 3-15"/>
<path stroke="#bf00bf" d="M834,990l2,62 2,0m0,0l4-10 3-25 4-30 3-19 4-16 3-6 3,10 4,23 3,32 4,28 3,13 3-7m0-28l4,25 4,8 3-11 4-28 3-35 4-31 3-17 4,4 3,25 4,35 4,31 3,21 4,3 3-16 4-29 3-35 4-29 4-13 3,11 4,29 3,36 4,30 3,22m0-115l4,23 4,35 3,36 4,23 3-1 4-22 4-35 3-34 4-24 3-6 4,14 4,28 3,36 4,32 4,12 3-9 4-26m0,34l3,4 4-16 4-35 3-36 4-27 3-12 4,8 3,26 4,35 4,36 3,19 4-12 3-25 4-27 4-32 3-24 4-5 3,15 4,30 3,32 4,30 4,20 3-8 4-30 3-38 4-32 4-17 3,1 4,21 3,33 4,35 3,25 4,5 4-16 3-32 4-35 3-27 4-11 4,9 3,26m0,74l4,8 3-10 4-27 3-32 4-28 3-15 4,3 4,19 3,31 4,31 3,22 4,4 3-15 4-28 3-31 4-17 4-2 3,11 4,14 3,19 4,29 3,18 4,0 3-19 4-30 4-28 3-24 4-12 3,9 4,31 3,34 4,27 3,14 4-5"/>
<path stroke="#bfbf00" d="M834,990l2,63 2,0m0,0l4-10 4-28 4-31 3-21 4-15 4-3 4,15 3,29 4,34 4,25 3,4m0-52l4,32 4,18 4-1 3-22 4-32 4-36 4-26 3-8 4,16 4,32 3,35 4,28 4,13 4-6 3-23 4-35 4-36 3-22 4,0 4,21 4,34 3,37m0-42l4,36 4,31 3,14 4-6 3-27 4-37 4-32 3-20 4-4 3,15 4,28 4,35 3,31 4,16 4-6 3-25 4-36m0,72l4-13 3-32 4-39 4-30 4-16 3,4 4,22 4,35 4,39 4,24 3-4 4-26 4-29 4-33 3-26 4-9 4,13 4,29 3,33 4,32 4,25 4-7 4-29 3-40 4-33 4-20 4,0 3,20 4,33 4,37 4,26 4,8 3-17 4-31 4-36 4-29 3-12 4,11m0,109l4-11 4-28 3-34 4-28 4-15 4,5 4,21 3,33 4,32 4,20 4,1 3-18 4-31 4-31 4-16 4,3 3,13 4,16 4,24 4,29 3,12 4-7 4-24 4-32 4-28 3-22 4-7 4,24 4,35 3,33 4,23 4,6"/>
<path stroke="#404040" d="M834,990l2,65 2,0m0,0l4-10 4-26 4-32 3-21 4-18 4-6 4,9 3,25 4,34 4,30 3,14m0-74l4,37 4,27 4,10 4-13 4-28 4-36 4-34 4-18 4,5 3,24 4,36 4,33 4,23 4,5 4-15 4-31 4-38 4-31 4-12 3,10 4,30m0,68l4,23 4,2 4-19 4-35 4-37 3-27 4-10 4,10 4,26 4,34 4,35 3,21 4,1 4-21 4-35 4-35m0,92l4-30 4-40 4-34 4-20 4-1 4,19 4,33 4,42 4,29 4,5 4-26 4-32 4-32 4-30 4-12 4,9 3,28 4,35 4,34 4,29 4-6 4-27 4-41 4-35 4-22 4-2 4,18 4,34 4,37 4,29 4,8 4-14 4-32 4-37 4-30 4-10m0,109l4-28 4-35 4-29 4-15 4,2 4,21 3,31 4,34 4,23 4,4 4-15 4-30 4-34 4-20 4-3 4,13 3,17 4,19 4,32 4,19 4-1 4-19 4-31 4-30 4-27 4-15 3,14 4,31 4,36 4,29 4,15"/>
<path stroke="#0000ff" d="M834,990l2,66 2,0m0,0l5-11 4-29 4-32 4-23 4-18 4-3 4,16 4,32 4,36 4,25m0-89l5,39 4,34 4,20 4-2 4-21 4-34 4-38 4-27 4-7 4,15 4,31 5,37 4,31 4,15 4-4 4-24 4-38 4-37 4-23 4,2m0,130l4-10 5-29 4-40 4-34 4-18 4,3 4,22 4,33 4,38 4,27 4,8 5-15 4-33 4-39 4-29m0,95l4-39 4-37 4-26 4-8 4,13 4,29 4,39 5,37 4,18 4-12 4-32 4-31 4-35 4-23 4-4 4,18 4,33 5,35 4,35 4,17 4-12 4-32 4-41 4-33 4-19 4,2 4,22 4,34 5,38 4,27 4,6 4-14 4-33 4-38 4-27m0,69l4-36 4-31 5-14 4,4 4,23 4,33 4,34 4,22 5,1 4-18 4-33 4-36 4-18 4,2 5,16 4,19 4,26 4,29 4,14 4-7 5-25 4-34 4-31 4-26 4-1 4,24 5,35 4,36 4,24"/>
<path stroke="#008000" d="M834,990l2,68 2,0m0,0l5-10 4-27 4-34 4-23 4-20 4-8 4,10 4,26 4,37 4,31m0-98l5,37 4,38 4,29 5,9 4-11 4-29 5-38 4-35 4-18 5,3 4,24 4,37 4,36 5,26 4,8 4-17 5-33 4-39 4-29m0,96l5-38 4-38 5-29 4-7 4,16 5,32 4,40 4,33 5,15 4-8 5-30 4-40 4-34 5-18m0,80l4-40 4-30 5-13 4,8 5,27 4,38 4,42 5,22 4-2 4-33 5-35 4-35 4-27 5-7 4,15 4,32 5,37 4,38 4,19 5-9 4-31 4-42 5-35 4-21 4,0 5,20 4,35 4,39 5,28 4,10 4-16 5-32 4-37m0,3l4-30 5-18 4,5 4,21 5,33 4,35 4,24 5,5 4-16 4-31 5-36 4-26 4-3 5,15 4,20 4,21 5,33 4,20 4,0 4-19 5-33 4-33 4-31 5-13 4,16 4,32 5,36 4,32"/>
<path stroke="#ff0000" d="M834,990l2,69 2,0m0,0l5-11 5-30 4-35 5-25 4-20 5-4 4,17 5,36 4,38m0-98l5,31 5,40 4,36 5,20 4,0 5-20 4-36 5-39 4-29 5-9 5,14 4,31 5,40 4,35 5,17 4-6 5-25 4-36m0-13l5-33 4-20 5,0 4,21 4,34 5,39 4,30 4,13 5-10 4-28 5-38 4-35 4-22 5-2m0,52l4-34 5-18 5,3 4,24 5,36 5,45 4,29 5,3 4-28 5-38 5-37 4-30 5-11 5,12 4,31 5,38 4,41 5,22 5-6 4-29 5-44 5-37 4-23 5-3 4,20 5,35 5,40 4,31 5,10 5-15 4-33m0-66l5-17 4,3 5,24 5,35 4,36 5,23 5,3 4-20 5-34 5-37 4-25 5,1 5,19 4,22 5,28 5,31 4,15 5-7 4-26 5-36 5-35 4-29 5,4 5,24 4,37 5,37"/>
<path stroke="#00bfbf" d="M834,990l2,71 2,0m0,0l5-10 5-28 4-36 5-25 4-22 5-10 4,9 5,29 4,38m0-89l5,23 5,37 5,40 5,29 5,12 4-9 5-31 5-39 5-36 5-21 4,1 5,23 5,39 5,39 5,27 5,7 4-10m0-116l5-9 5,12 5,30 4,41 5,37 5,19 4-3 5-24 5-38 5-38 4-28 5-8 5,14m0,15l5-24 5-2 5,20 5,35 5,45 4,35 5,9 5-19 5-42 5-39 5-33 5-15 5,8 5,30 5,39 5,44 5,24 5-2 5-29 5-43 5-39 5-26 4-5 5,19 5,36 5,41 5,32 5,10 5-15m0-117l5,3 5,22 5,35 4,37 5,25 5,5 5-16 5-33 5-38 4-31 5-5 5,16 5,25 5,23 5,35 4,21 5,0 5-20 5-34 5-36 5-35 4-8 5,16 5,31 5,38"/>
<path stroke="#bf00bf" d="M834,990l2,73 2,0m0,0l6-12 5-32 5-36 5-29 5-22 5-5 5,20 5,38m0-71l6,11 5,30 5,42 5,36 5,24 5,1 5-22 5-35 6-41 5-31 5-12 5,11 5,33 5,43 5,35 5,25m0-137l5,24 6,38 5,44 5,28 5,4 5-19 5-36 5-40 5-33 6-17 5,9 5,29m0-26l5-9 5,13 5,32 5,42 5,41 6,22 5-8 5-33 5-41 5-39 5-26 5-5 5,17 5,35 6,42 5,40 5,16 5-9 5-34 5-44 5-37 5-23 6-1 5,21 5,36 5,41 5,31 5,8m0-129l5,23 6,37 5,38 5,25 5,3 6-20 5-35 5-39 5-30 6-3 5,21 5,28 5,29 6,33 5,16 5-7 5-27 6-38 5-39 5-25 5,3 6,24 5,37"/>
<path stroke="#bfbf00" d="M834,990l2,74 2,0m0,0l6-10 5-29 5-37 5-28 5-25 5-13 5,11 5,29m0-44l6-3 5,21 6,39 5,41 6,33 5,12 6-10 5-30 6-39 5-40 6-25 5-2 5,25 6,41 5,43m0-54l6,43 6,39 5,19 6-12 5-33 6-43 5-37 6-23 6-1 5,25 6,39m0-64l5,8 6,29 5,41 6,44 5,28 6-1 5-27 6-46 5-40 6-30 5-10 6,15 5,34 6,42 6,43 5,20 6-7 5-32 6-44 5-40 6-25 5-3 6,20 5,36 6,42 5,31m0-97l6,36 5,39 6,26 5,6 6-18 5-34 6-39 5-32 6-15 5,19 6,29 5,27 6,36 5,22 6,1 5-20 6-36 5-39 6-35 5-7 5,14 6,32"/>
<path stroke="#404040" d="M834,990l2,76 2,0m0,0l6-13 6-32 6-39 6-32 6-25 6-5 5,21m0-13l6-15 6,8 6,32 6,42 6,40 6,23 5,2 6-20 6-36 6-43 6-37 6-13 6,13 5,35m0,75l6,29 6,9 5-17 6-37 5-42 6-34 5-20 6,0 6,19 5,36 6,44m0-96l6,25 6,39 6,47 6,33 6,7 6-24 6-45 6-43 6-33 6-14 6,11 5,33 6,43 6,45 6,24 6-5 6-31 6-44 6-41 6-28 6-5 6,19 6,37 6,42m0-28l6,41 6,27 6,4 6-20 6-37 6-41 6-32 6-11 7,23 6,32 6,33 6,35 6,17 6-7 6-28 6-40 6-44 6-21 6,2 6,24"/>
<path stroke="#0000ff" d="M834,990l2,77 2,0m0,0l6-10 6-30 6-38 6-31 6-30 6-13 5,8m0,22l7-28 6-5 6,21 7,39 6,43 6,33 7,14 6-7 6-29 6-41 7-43 6-26 6,3m0,151l7-6 6-30 6-45 6-39 6-25 6-6 6,15 7,33 6,43 6,44m0-113l6,37 7,48 6,39 7,13 6-17 7-42 6-47 7-38 6-18 7,7 6,31 7,44 7,47 6,28 7-2 6-30 7-44 6-43 7-30 6-7 7,19 6,38m0,56l7,28 6,5 6-18 7-36 6-41 6-34 7-15 6,11 6,35 7,32 6,37 6,24 7,1 6-21 7-37 6-44 6-30 7-10 6,14"/>
<path stroke="#008000" d="M834,990l2,79 2,0m0,0l7-13 7-33 7-41 7-37 7-28 6-6m0,55l7-38 7-18 7,8 7,30 7,44 6,40 7,26 7,6 7-17 7-37 7-45 6-33m0,116l7-41 7-45 7-33 7-13 6,11 7,29 7,42 7,44 7,33m0-108l7,45 6,43 7,23 7-5 7-32 7-48 7-42 6-29 7-8 7,18 7,36 7,46 7,42 6,20 7-8 7-33 7-44 7-41 7-28 6-6 7,22m0,122l7,5 7-21 7-38 8-43 7-33 7-12 7,12 7,41 7,36 7,37 7,18 7-6 8-29 7-42 7-43 7-23 7,1"/>
<path stroke="#ff0000" d="M834,990l2,80 2,0m0,0l7-10 7-30 7-39 7-35 7-33 6-17m0,85l8-45 7-31 8-5 7,17 8,41 7,44 8,36 7,20 7-5 8-31 7-41m0-9l8-42 8-27 7,4 8,26 8,41 7,47 8,35 8,15m0-80l7,47 8,28 7,2 8-27 8-48 7-46 8-33 7-12 8,14 7,35 8,47 7,45 8,23 7-6 8-30 8-45 7-43 8-30 7-3m0,148l8-20 7-37 8-42 7-34 8-18 7,9 8,34 8,37 7,40 8,25 7,1 8-21 7-38 8-45 7-31 8-12"/>
<path stroke="#00bfbf" d="M834,990l2,82 2,0m0,0l9-13 8-34 8-43 8-42 8-32m0,106l9-46 8-40 8-20 8,5 8,31 9,44 8,43 8,33 8,5 8-12m0-132l8-14 8,7 7,32 8,40 8,42 7,33 8,12 8-7m0-31l8,35 9,8 8-22 9-46 8-49 8-37 9-17 8,10 9,34 8,46 9,49 8,25 8-3 9-29 8-44 9-45 8-28m0,123l9-41 8-44 9-34 9-15 8,13 9,36 9,43 8,39 9,19 8-6 9-31 9-44 8-42 9-25"/>
<path stroke="#bf00bf" d="M834,990l2,83 2,0m0,0l9-10 8-29 8-40 8-39 8-37m0,119l10-44 9-46 9-33 9-8 9,18 9,37 9,47 9,40 9,27m0-160l9,22 9,40 9,46 8,36 9,18 9-6 9-28m0,27l9,14 10-16 9-43 10-52 10-41 9-22 10,7 9,31 10,47 9,50 10,28 9,1 10-27 10-45 9-45m0,53l9-44 10-34 9-17 9,7 10,31 9,43 9,41 10,26 9,2 9-21 9-40 10-44 9-34"/>
<path stroke="#bfbf00" d="M834,990l2,85 2,0m0,0l11-13 10-35 10-45 10-48m0,122l11-38 10-47 10-43 10-21 11,3 10,25 10,46 10,48m0-68l11,47 10,44 10,23 10-1 11-24 10-45m0,81l10-9 10-33 11-50 10-45 10-31 10-10 10,16 11,37 10,48 10,44 10,24 11-4 10-26 10-45m0-37l10-34 10-16 10,6 10,25 11,41 10,42 10,30 10,10 10-13 10-33 10-42 10-40"/>
<path stroke="#404040" d="M834,990l2,87 2,0m0,0l11-10 10-28 10-39 10-43m0,113l12-29 12-43 12-47 11-35 12-15 12,13 11,41m0,80l13,39 12,7 12-22 13-42 12-50m0,118l12-31 12-49 12-49 12-35 12-15 11,13 12,35 12,48 12,46 12,27 12,2 12-29m0-119l12-15 12,9 12,29 12,44 13,43 12,27 12,2 12-22 12-40 12-45"/>
<path stroke="#0000ff" d="M834,990l2,88 2,0m0,0l14-13 14-34 13-47m0,93l14-17 14-36 13-47 14-44 14-31 13,7m0,172l13,0 12-27 12-41 13-43 12-34m0,129l14-49 14-51 15-40 14-20 14,9 15,34 14,47 14,49 15,31 14-1m0-162l14,9 13,27 13,41 14,42 13,31 14,10 13-13 14-32 13-43"/>
<path stroke="#008000" d="M834,990l2,90 2,0m0,0l14-9 14-25 13-36m0,67l17-5 16-25 17-41 16-49 16-33m0,137l16-37 15-47 15-39 16-24m0,116l18-55 18-45 18-25 17,5 18,31 18,49 18,50 18,30m0-149l17,32 18,44 17,44 17,27 17,4 18-22 17-41"/>
<path stroke="#ff0000" d="M834,990l2,91 2,0m0,0l21-12 20-33m0,33l21,8 20-12 21-30 20-44m0-4l21-44 20-28 21-9m0,81l20-43 21-31 20-12 21,14 20,34 21,45 20,43m0-83l20,40 20,42 21,29 20,10 20-12 20-30"/>
<path stroke="#00bfbf" d="M834,990l2,93 2,0m0,0l21-6 20-19m0-5l28,23 27,1 27-11m0-146l31-16 31,10m0,37l28-35 29-16 29,10 28,32 29,44m0,15l30,43 31,27 30,4 30-21"/>
<path stroke="#bf00bf" d="M834,990l2,94 2,0m0,0l41-9m0-44l41,29 41,26m0-182l31,12 31,21m0-16l48-21 47,6 48,33m0,110l40,21 41,8 40-8"/>
<path stroke="#bfbf00" d="M834,990l2,96 2,0m0,0l41-2m0-79l41,12 41,17m0-83l31,10 31,10m0-67l48-6 47,0 48,11m0,170l40,0 41,0 40,0"/>
<path stroke="#404040" d="M834,990l2,96 2,0m0,0l41-2m0-109l41-13 41-11m0,82l31-10 31-9m0-110l48-6 47,0 48,11m0,170l40,0 41,0 40,0"/>
<path stroke="#0000ff" d="M834,990l2,94 2,0m0,0l41-9m0-128l41-31 41-13m0,183l31-14 31-16m0-135l48-21 47,6 48,33m0,110l40,21 41,8 40-8"/>
<path stroke="#008000" d="M834,990l2,93 2,0m0,0l21-6 20-19m0-134l28-24 27-2 27,24m0,146l31,18 31-2m0-133l28-35 29-16 29,10 28,32 29,44m0,15l30,43 31,27 30,4 30-21"/>
<path stroke="#ff0000" d="M834,990l2,91 2,0m0,0l21-12 20-33m0-129l21-9 20,13 21,32 20,47m0,4l21,48 20,32 21,20m0-107l20-43 21-31 20-12 21,14 20,34 21,45 20,43m0-83l20,40 20,42 21,29 20,10 20-12 20-30"/>
<path stroke="#00bfbf" d="M834,990l2,90 2,0m0,0l14-9 14-25 13-36m0-112l17,5 16,27 17,44 16,48 16,41m0-136l16,33 15,45 15,43 16,36m0-54l18-55 18-45 18-25 17,5 18,31 18,49 18,50 18,30m0-149l17,32 18,44 17,44 17,27 17,4 18-22 17-41"/>
<path stroke="#bf00bf" d="M834,990l2,88 2,0m0,0l14-13 14-34 13-47m0-86l14,19 14,38 13,48 14,41 14,29 13,7m0-172l13,0 12,25 12,37 13,42 12,45m0,8l14-49 14-51 15-40 14-20 14,9 15,34 14,47 14,49 15,31 14-1m0-162l14,9 13,27 13,41 14,42 13,31 14,10 13-13 14-32 13-43"/>
<path stroke="#bfbf00" d="M834,990l2,87 2,0m0,0l11-10 10-28 10-39 10-43m0-52l12,31 12,47 12,45 11,32 12,14 12-12 11-32m0-80l13-36 12-6 12,20 13,39 12,52m0,66l12-31 12-49 12-49 12-35 12-15 11,13 12,35 12,48 12,46 12,27 12,2 12-29m0-119l12-15 12,9 12,29 12,44 13,43 12,27 12,2 12-22 12-40 12-45"/>
<path stroke="#404040" d="M834,990l2,85 2,0m0,0l11-13 10-35 10-45 10-48m0-14l11,41 10,48 10,40 10,19 11-2 10-24 10-42 10-44m0,66l11-47 10-41 10-21 10,1 11,23 10,42m0,107l10-9 10-33 11-50 10-45 10-31 10-10 10,16 11,37 10,48 10,44 10,24 11-4 10-26 10-45m0-37l10-34 10-16 10,6 10,25 11,41 10,42 10,30 10,10 10-13 10-33 10-42 10-40"/>
<path stroke="#0000ff" d="M834,990l2,83 2,0m0,0l9-10 8-29 8-40 8-39 8-37m0,23l10,47 9,43 9,31 9,7 9-17 9-34 9-46 9-42 9-17m0,160l9-24 9-43 9-45 8-33 9-16 9,5 9,31m0,122l9,14 10-16 9-43 10-52 10-41 9-22 10,7 9,31 10,47 9,50 10,28 9,1 10-27 10-45 9-45m0,53l9-44 10-34 9-17 9,7 10,31 9,43 9,41 10,26 9,2 9-21 9-40 10-44 9-34"/>
<path stroke="#008000" d="M834,990l2,82 2,0m0,0l9-13 8-34 8-43 8-42 8-32m0,57l9,47 8,37 8,19 8-5 8-29 9-41 8-46 8-35 8-6 8,24m0,132l8,16 8-8 7-35 8-43 8-40 7-29 8-11 8,14m0,113l8,35 9,8 8-22 9-46 8-49 8-37 9-17 8,10 9,34 8,46 9,49 8,25 8-3 9-29 8-44 9-45 8-28m0,123l9-41 8-44 9-34 9-15 8,13 9,36 9,43 8,39 9,19 8-6 9-31 9-44 8-42 9-25"/>
<path stroke="#ff0000" d="M834,990l2,80 2,0m0,0l7-10 7-30 7-39 7-35 7-33 6-17m0,84l8,43 7,28 8,5 7-16 8-38 7-44 8-39 7-21 7,5 8,33 7,44m0,10l8,46 8,29 7-4 8-29 8-44 7-44 8-32 8-6m0,85l7,47 8,28 7,2 8-27 8-48 7-46 8-33 7-12 8,14 7,35 8,47 7,45 8,23 7-6 8-30 8-45 7-43 8-30 7-3m0,148l8-20 7-37 8-42 7-34 8-18 7,9 8,34 8,37 7,40 8,25 7,1 8-21 7-38 8-45 7-31 8-12"/>
<path stroke="#00bfbf" d="M834,990l2,79 2,0m0,0l7-13 7-33 7-41 7-37 7-28 6-6m0,102l7,36 7,17 7-8 7-28 7-41 6-43 7-28 7-6 7,18 7,40 7,45 6,40m0-117l7,37 7,47 7,37 7,13 6-11 7-33 7-45 7-39 7-23m0,46l7,45 6,43 7,23 7-5 7-32 7-48 7-42 6-29 7-8 7,18 7,36 7,46 7,42 6,20 7-8 7-33 7-44 7-41 7-28 6-6 7,22m0,122l7,5 7-21 7-38 8-43 7-33 7-12 7,12 7,41 7,36 7,37 7,18 7-6 8-29 7-42 7-43 7-23 7,1"/>
<path stroke="#bf00bf" d="M834,990l2,77 2,0m0,0l6-10 6-30 6-38 6-31 6-30 6-13 5,8m0,110l7,26 6,5 6-20 7-36 6-44 6-35 7-15 6,8 6,30 6,44 7,40 6,24 6,9m0-151l7,6 6,27 6,41 6,43 6,28 6,6 6-17 7-36 6-43 6-34m0,2l6,37 7,48 6,39 7,13 6-17 7-42 6-47 7-38 6-18 7,7 6,31 7,44 7,47 6,28 7-2 6-30 7-44 6-43 7-30 6-7 7,19 6,38m0,56l7,28 6,5 6-18 7-36 6-41 6-34 7-15 6,11 6,35 7,32 6,37 6,24 7,1 6-21 7-37 6-44 6-30 7-10 6,14"/>
<path stroke="#bfbf00" d="M834,990l2,76 2,0m0,0l6-13 6-32 6-39 6-32 6-25 6-5 5,21m0,108l6,14 6-7 6-30 6-40 6-43 6-25 5-1 6,21 6,38 6,42 6,34 6,13 6-12 5-28m0-74l6-27 6-7 5,15 6,34 5,40 6,38 5,22 6,0 6-21 5-40 6-40m0-40l6,25 6,39 6,47 6,33 6,7 6-24 6-45 6-43 6-33 6-14 6,11 5,33 6,43 6,45 6,24 6-5 6-31 6-44 6-41 6-28 6-5 6,19 6,37 6,42m0-28l6,41 6,27 6,4 6-20 6-37 6-41 6-32 6-11 7,23 6,32 6,33 6,35 6,17 6-7 6-28 6-40 6-44 6-21 6,2 6,24"/>
<path stroke="#404040" d="M834,990l2,74 2,0m0,0l6-10 5-29 5-37 5-28 5-25 5-13 5,11 5,29m0,97l6,2 5-19 6-37 5-42 6-35 5-13 6,11 5,32 6,41 5,37 6,23 5,3 5-24 6-38 5-40m0,53l6-43 6-36 5-17 6,11 5,30 6,41 5,41 6,25 6,1 5-28 6-41m0-75l5,8 6,29 5,41 6,44 5,28 6-1 5-27 6-46 5-40 6-30 5-10 6,15 5,34 6,42 6,43 5,20 6-7 5-32 6-44 5-40 6-25 5-3 6,20 5,36 6,42 5,31m0-97l6,36 5,39 6,26 5,6 6-18 5-34 6-39 5-32 6-15 5,19 6,29 5,27 6,36 5,22 6,1 5-20 6-36 5-39 6-35 5-7 5,14 6,32"/>
<path stroke="#0000ff" d="M834,990l2,73 2,0m0,0l6-12 5-32 5-36 5-29 5-22 5-5 5,20 5,38m0,77l6-10 5-28 5-40 5-39 5-25 5-2 5,24 5,38 6,39 5,29 5,12 5-11 5-31 5-41 5-38 5-15m0,136l5-26 6-42 5-40 5-25 5-5 5,18 5,33 5,40 5,37 6,18 5-10 5-27m0-99l5-9 5,13 5,32 5,42 5,41 6,22 5-8 5-33 5-41 5-39 5-26 5-5 5,17 5,35 6,42 5,40 5,16 5-9 5-34 5-44 5-37 5-23 6-1 5,21 5,36 5,41 5,31 5,8m0-129l5,23 6,37 5,38 5,25 5,3 6-20 5-35 5-39 5-30 6-3 5,21 5,28 5,29 6,33 5,16 5-7 5-27 6-38 5-39 5-25 5,3 6,24 5,37"/>
<path stroke="#008000" d="M834,990l2,71 2,0m0,0l5-10 5-28 4-36 5-25 4-22 5-10 4,9 5,29 4,38m0,53l5-21 5-35 5-41 5-31 5-13 4,10 5,33 5,40 5,34 5,20 4-1 5-22 5-36 5-42 5-29 5-7 4,20m0,117l5,10 5-13 5-34 4-42 5-33 5-18 4,3 5,22 5,35 5,40 4,31 5,9 5-9m0-104l5-24 5-2 5,20 5,35 5,45 4,35 5,9 5-19 5-42 5-39 5-33 5-15 5,8 5,30 5,39 5,44 5,24 5-2 5-29 5-43 5-39 5-26 4-5 5,19 5,36 5,41 5,32 5,10 5-15m0-117l5,3 5,22 5,35 4,37 5,25 5,5 5-16 5-33 5-38 4-31 5-5 5,16 5,25 5,23 5,35 4,21 5,0 5-20 5-34 5-36 5-35 4-8 5,16 5,31 5,38"/>
<path stroke="#ff0000" d="M834,990l2,69 2,0m0,0l5-11 5-30 4-35 5-25 4-20 5-4 4,17 5,36 4,38m0,25l5-29 5-39 4-37 5-22 4,0 5,21 4,38 5,38 4,27 5,8 5-12 4-30 5-39 4-37 5-19 4,6 5,28 4,38m0,14l5,36 4,22 5,1 4-23 4-38 5-38 4-27 4-11 5,8 4,26 5,36 4,38 4,24 5,10m0-89l4-34 5-18 5,3 4,24 5,36 5,45 4,29 5,3 4-28 5-38 5-37 4-30 5-11 5,12 4,31 5,38 4,41 5,22 5-6 4-29 5-44 5-37 4-23 5-3 4,20 5,35 5,40 4,31 5,10 5-15 4-33m0-66l5-17 4,3 5,24 5,35 4,36 5,23 5,3 4-20 5-34 5-37 4-25 5,1 5,19 4,22 5,28 5,31 4,15 5-7 4-26 5-36 5-35 4-29 5,4 5,24 4,37 5,37"/>
<path stroke="#00bfbf" d="M834,990l2,68 2,0m0,0l5-10 4-27 4-34 4-23 4-20 4-8 4,10 4,26 4,37 4,31m0-4l5-35 4-39 4-31 5-10 4,12 4,31 5,39 4,33 4,17 5-3 4-23 4-34 4-38 5-28 4-8 4,18 5,35 4,38 4,36m0-97l5,34 4,41 5,31 4,9 4-18 5-36 4-39 4-30 5-14 4,8 5,26 4,39 4,37 5,28m0-55l4-40 4-30 5-13 4,8 5,27 4,38 4,42 5,22 4-2 4-33 5-35 4-35 4-27 5-7 4,15 4,32 5,37 4,38 4,19 5-9 4-31 4-42 5-35 4-21 4,0 5,20 4,35 4,39 5,28 4,10 4-16 5-32 4-37m0,3l4-30 5-18 4,5 4,21 5,33 4,35 4,24 5,5 4-16 4-31 5-36 4-26 4-3 5,15 4,20 4,21 5,33 4,20 4,0 4-19 5-33 4-33 4-31 5-13 4,16 4,32 5,36 4,32"/>
<path stroke="#bf00bf" d="M834,990l2,66 2,0m0,0l5-11 4-29 4-32 4-23 4-18 4-3 4,16 4,32 4,36 4,25m0-30l5-38 4-36 4-21 4,2 4,23 4,35 4,37 4,25 4,7 4-14 4-29 5-37 4-33 4-17 4,5 4,26 4,39 4,35 4,22 4,8m0-130l4,9 5,27 4,38 4,37 4,20 4-3 4-24 4-37 4-35 4-25 4-7 5,14 4,30 4,39 4,37m0-10l4-39 4-37 4-26 4-8 4,13 4,29 4,39 5,37 4,18 4-12 4-32 4-31 4-35 4-23 4-4 4,18 4,33 5,35 4,35 4,17 4-12 4-32 4-41 4-33 4-19 4,2 4,22 4,34 5,38 4,27 4,6 4-14 4-33 4-38 4-27m0,69l4-36 4-31 5-14 4,4 4,23 4,33 4,34 4,22 5,1 4-18 4-33 4-36 4-18 4,2 5,16 4,19 4,26 4,29 4,14 4-7 5-25 4-34 4-31 4-26 4-1 4,24 5,35 4,36 4,24"/>
<path stroke="#bfbf00" d="M834,990l2,65 2,0m0,0l4-10 4-26 4-32 3-21 4-18 4-6 4,9 3,25 4,34 4,30 3,14m0-54l4-38 4-28 4-11 4,13 4,31 4,37 4,31 4,17 4-5 3-23 4-33 4-36 4-24 4-5 4,16 4,33 4,38 4,29 4,11 3-10 4-23m0-67l4-21 4-2 4,17 4,32 4,38 3,30 4,11 4-11 4-28 4-36 4-32 3-20 4-1 4,20 4,32 4,40m0,35l4-30 4-40 4-34 4-20 4-1 4,19 4,33 4,42 4,29 4,5 4-26 4-32 4-32 4-30 4-12 4,9 3,28 4,35 4,34 4,29 4-6 4-27 4-41 4-35 4-22 4-2 4,18 4,34 4,37 4,29 4,8 4-14 4-32 4-37 4-30 4-10m0,109l4-28 4-35 4-29 4-15 4,2 4,21 3,31 4,34 4,23 4,4 4-15 4-30 4-34 4-20 4-3 4,13 3,17 4,19 4,32 4,19 4-1 4-19 4-31 4-30 4-27 4-15 3,14 4,31 4,36 4,29 4,15"/>
<path stroke="#404040" d="M834,990l2,63 2,0m0,0l4-10 4-28 4-31 3-21 4-15 4-3 4,15 3,29 4,34 4,25 3,4m0-71l4-34 4-20 4,1 3,23 4,35 4,34 4,25 3,6 4-14 4-30 3-35 4-30 4-14 4,6 3,25 4,36 4,34 3,21 4,0 4-19 4-32 3-34m0,40l4-35 4-28 3-13 4,6 3,24 4,34 4,35 3,23 4,3 3-16 4-31 4-34 3-29 4-14 4,6 3,22 4,33m0,71l4-13 3-32 4-39 4-30 4-16 3,4 4,22 4,35 4,39 4,24 3-4 4-26 4-29 4-33 3-26 4-9 4,13 4,29 3,33 4,32 4,25 4-7 4-29 3-40 4-33 4-20 4,0 3,20 4,33 4,37 4,26 4,8 3-17 4-31 4-36 4-29 3-12 4,11m0,109l4-11 4-28 3-34 4-28 4-15 4,5 4,21 3,33 4,32 4,20 4,1 3-18 4-31 4-31 4-16 4,3 3,13 4,16 4,24 4,29 3,12 4-7 4-24 4-32 4-28 3-22 4-7 4,24 4,35 3,33 4,23 4,6"/>
<path stroke="#0000ff" d="M834,990l2,62 2,0m0,0l4-10 3-25 4-30 3-19 4-16 3-6 3,10 4,23 3,32 4,28 3,13 3-7m0-83l4-26 4-9 3,12 4,30 3,35 4,29 3,16 4-4 3-23 4-33 4-34 3-22 4-3 3,17 4,31 3,35 4,27 4,12 3-10 4-28 3-34 4-33 3-13m0,114l4-26 4-36 3-33 4-21 3,1 4,20 4,32 3,36 4,26 3,6 4-15 4-31 3-35 4-29 4-12 3,9 4,26m0,88l3,4 4-16 4-35 3-36 4-27 3-12 4,8 3,26 4,35 4,36 3,19 4-12 3-25 4-27 4-32 3-24 4-5 3,15 4,30 3,32 4,30 4,20 3-8 4-30 3-38 4-32 4-17 3,1 4,21 3,33 4,35 3,25 4,5 4-16 3-32 4-35 3-27 4-11 4,9 3,26m0,74l4,8 3-10 4-27 3-32 4-28 3-15 4,3 4,19 3,31 4,31 3,22 4,4 3-15 4-28 3-31 4-17 4-2 3,11 4,14 3,19 4,29 3,18 4,0 3-19 4-30 4-28 3-24 4-12 3,9 4,31 3,34 4,27 3,14 4-5"/>
<path stroke="#008000" d="M834,990l2,60 2,0m0,0l4-10 3-26 4-30 3-18 4-14 3-3 3,14 4,26 3,33 4,23 3,5 3-16m0-86l4-18 3,2 4,21 3,34 4,33 3,22 3,5 4-13 3-28 4-35 3-28 3-12 4,7 3,25 4,34 3,30 3,19 4,1 3-19 4-32 3-35 4-25 3-6 3,16m0,101l4,6 3-16 4-31 3-36 3-27 4-11 3,9 4,25 3,33 3,32 4,19 3-1 4-20 3-34 4-33 3-23 3-5 4,14m0,86l3,20 4,1 3-22 3-36 4-33 3-23 4-7 3,12 4,27 3,36 3,32 4,10 3-14 4-25 3-25 3-31 4-20 3-2 4,17 3,31 3,29 4,28 3,17 4-10 3-32 4-36 3-29 3-16 4,4 3,22 4,32 3,34 3,23 4,3 3-17 4-31 3-34 4-26 3-10 3,9 4,26 3,32m0,14l4,25 3,9 4-12 3-26 3-33 4-26 3-13 4,4 3,21 4,31 3,31 4,19 3,0 3-18 4-29 3-28 4-12 3,2 4,10 3,15 4,23 3,27 4,12 3-7 3-24 4-30 3-25 4-20 3-5 4,19 3,33 4,32 3,22 4,5 3-15"/>
<path stroke="#ff0000" d="M834,990l2,58 2,0m0,0l4-9 3-24 3-29 3-17 3-14 3-4 4,9 3,21 3,30 3,26 3,12 3-7 3-23m0-82l4-7 3,12 3,29 4,34 3,27 3,13 3-4 4-21 3-32 3-33 3-20 4-2 3,18 3,30 4,32 3,24 3,9 3-9 4-25 3-34 3-31 4-16 3,4 3,23 3,32m0,16l4,30 3,16 3-4 3-23 4-35 3-31 3-20 3-3 3,14 4,28 3,32 3,28 3,13 4-7 3-25 3-34 3-29 4-18 3,0m0,69l3,32 3,17 4-8 3-26 3-37 4-30 3-18 3,1 4,19 3,30 3,37 4,23 3-4 3-20 4-24 3-29 3-26 4-10 3,10 3,26 4,31 3,27 3,21 4,2 3-27 3-37 4-31 3-19 3-1 4,18 3,31 3,35 4,24 3,7 3-16 4-29 3-34 3-27 4-10 3,8 3,25 4,33 3,29m0-48l3,32 4,24 3,8 3-10 3-25 4-31 3-26 3-15 4,3 3,18 3,30 3,30 4,20 3,4 3-14 3-27 4-28 3-15 3-1 3,8 4,13 3,18 3,28 4,16 3,0 3-18 3-29 4-25 3-22 3-10 3,6 4,29 3,32 3,27 3,12 4-5 3-21"/>
<path stroke="#00bfbf" d="M834,990l2,57 2,0m0,0l4-10 3-25 3-28 3-17 3-12 3-1 4,12 3,24 3,31 3,21 3,4 3-14 3-29m0-71l4,3 3,21 3,32 3,31 3,21 3,4 3-14 4-26 3-33 3-27 3-11 3,8 3,25 4,32 3,28 3,16 3-1 3-17 3-30 3-33 4-24 3-6 3,15 3,29 3,32 3,30m0-78l3,28 4,33 3,24 3,8 3-12 3-29 3-33 3-27 3-13 3,3 3,19 3,28 3,32 3,23 3,7 4-12 3-28 3-33 3-26 3-12m0,42l3,35 3,28 3,10 4-11 3-30 3-35 3-27 3-14 3,5 4,21 3,31 3,35 3,16 3-7 4-21 3-22 3-30 3-23 3-7 4,13 3,27 3,29 3,26 3,17 3,0 4-28 3-36 3-29 3-17 3,2 4,19 3,30 3,34 3,22 3,5 3-16 4-30 3-32 3-25 3-10 3,9 4,25 3,32 3,29 3,13m0-88l3,27 4,31 3,23 3,7 3-11 3-25 3-31 4-25 3-12 3,5 3,20 3,30 3,29 4,17 3,0 3-17 3-28 3-24 4-11 3,2 3,9 3,12 3,23 3,25 4,11 3-7 3-22 3-29 3-23 4-17 3-4 3,15 3,32 3,30 3,20 4,5 3-14 3-27"/>
<path stroke="#bf00bf" d="M834,990l2,55 2,0m0,0l3-8 3-23 3-28 3-16 3-12 3-3 3,8 3,20 3,28 3,24 3,11 3-7 3-22 2-31m0-54l3,13 4,27 3,33 3,26 3,12 3-5 3-21 3-30 3-31 3-19 3-1 3,17 3,29 3,31 3,22 3,7 3-10 3-24 3-31 3-29 3-15 3,4 3,23 3,32 3,29 3,19 3,6m0-108l3,11 4,24 3,33 3,30 3,15 3-8 3-25 3-33 3-28 3-16 3,0 3,18 3,28 3,32 3,23 4,6 3-14 3-30 3-32 3-23m0,12l3,28 3,34 3,24 3,5 3-17 3-31 3-33 3-24 3-9 3,8 3,24 3,32 3,30 4,10 3-10 3-20 3-21 3-30 3-20 3-3 3,14 3,28 3,27 3,24 3,15 3-4 3-28 3-34 3-28 3-14 3,3 3,20 3,30 4,33 3,21 3,1 3-16 3-30 3-31 3-23 3-8 3,9 3,25 3,31 3,28 3,14 3-6m0-96l3,15 3,26 3,31 4,22 3,6 3-13 3-26 3-30 3-23 3-10 3,7 3,22 3,30 4,27 3,14 3-4 3-20 3-28 3-20 3-7 3,4 3,10 3,12 4,27 3,21 3,5 3-13 3-25 3-27 3-21 3-12 3,4 3,22 3,33 4,26 3,13 3-4 3-21 3-29"/>
<path stroke="#bfbf00" d="M834,990l2,54 2,0m0,0l3-9 3-24 3-26 3-16 3-11 3-1 3,11 3,22 3,30 3,20 3,3 3-14 3-27 2-32m0-32l3,21 3,30 3,29 3,20 3,3 3-13 3-26 3-31 3-25 3-11 3,9 3,24 2,31 3,26 3,14 3-1 3-18 3-27 3-31 3-21 3-6 3,13 3,29 3,31 3,24 3,10 2-8 3-19m0-59l3-15 3,1 3,17 3,29 3,32 3,23 3,4 3-14 3-28 3-31 3-23 2-11 3,7 3,21 3,30 3,29 3,18 3,0 3-20 3-30 3-29m0-19l3,21 3,31 3,32 3,18 3-3 3-21 3-34 3-29 3-19 3-2 3,15 3,27 3,34 3,20 3-1 3-16 3-20 3-26 3-25 3-11 3,8 3,23 2,29 3,24 3,18 3,3 3-20 3-34 3-29 3-18 3-2 3,17 3,28 3,32 3,23 3,6 3-14 3-28 3-31 3-24 3-10 3,8 3,24 3,31 3,28 3,13 3-4 3-22m0-72l3,0 3,14 3,25 3,29 3,22 3,6 3-11 3-24 3-29 3-23 3-12 3,5 2,20 3,28 3,27 3,16 3,0 3-16 3-27 3-21 3-9 3,1 3,7 3,12 3,21 3,24 3,10 3-7 3-21 3-27 3-21 2-15 3-3 3,13 3,29 3,29 3,19 3,4 3-13 3-26 3-29"/>
<path stroke="#404040" d="M834,990l2,52 2,0m0,0l3-8 3-22 3-26 2-15 3-10 3-3 3,8 2,18 3,27 3,22 3,9 2-7 3-21 3-29 2-29m0-8l3,26 3,30 3,25 3,12 3-6 2-20 3-29 3-28 3-18 3-1 3,16 2,29 3,28 3,21 3,6 3-10 2-23 3-29 3-26 3-13 3,4 3,21 2,31 3,28 3,17 3,0 3-15 3-27 2-28m0,30l3-29 3-22 3-8 3,8 2,23 3,31 3,28 3,14 2-3 3-19 3-29 3-28 3-18 2-5 3,12 3,23 3,30 3,27 2,11 3-6 3-22 3-30m0-45l3,11 3,23 2,31 3,29 3,13 3-7 3-25 3-33 3-27 2-15 3,2 3,18 3,27 3,32 3,14 3-4 3-15 2-20 3-26 3-22 3-8 3,10 3,24 3,27 2,22 3,16 3,0 3-20 3-34 3-27 3-16 3,1 2,17 3,28 3,31 3,22 3,4 3-15 3-28 2-30 3-23 3-8 3,9 3,23 3,30 3,27 3,12 2-5 3-20 3-30m0-25l3-15 3-1 3,14 3,26 3,28 2,20 3,5 3-12 3-25 3-28 3-22 3-9 3,7 2,22 3,29 3,24 3,13 3-4 3-19 3-27 3-16 2-6 3,2 3,9 3,12 3,25 3,20 3,4 3-12 2-25 3-24 3-19 3-10 3,3 3,20 3,30 3,25 2,12 3-4 3-19 3-28 3-27"/>
<path stroke="#0000ff" d="M834,990l2,51 2,0m0,0l3-9 3-22 3-25 2-15 3-9 3-1 3,11 2,19 3,28 3,19 3,3 2-14 3-25 3-30 2-24m0,13l3,30 3,27 3,18 2,4 3-14 3-24 3-29 2-24 3-9 3,8 2,23 3,29 3,25 3,13 2-2 3-17 3-27 3-28 2-19 3-4 3,13 3,26 2,29 3,24 3,8 2-8 3-22 3-28 3-27 2-11m0,92l3-22 3-29 2-26 3-16 3-1 2,15 3,26 3,30 2,22 3,8 3-9 2-23 3-28 3-24 2-14 3,0 3,15 2,26 3,29 3,22 2,6 3-10 3-22m0-64l3-2 2,14 3,24 3,32 3,24 2,8 3-11 3-27 3-31 2-24 3-11 3,5 3,20 2,28 3,27 3,10 3-6 2-16 3-18 3-27 3-20 2-4 3,12 3,25 3,26 2,19 3,13 3-2 3-21 3-32 2-26 3-13 3,2 3,18 2,28 3,30 3,20 3,1 2-15 3-28 3-29 3-21 2-7 3,10 3,23 3,29 2,25 3,13 3-6 3-21 2-29 3-24m0,25l3-24 3-15 2-1 3,14 3,24 3,27 2,20 3,6 3-11 3-23 2-27 3-22 3-11 3,5 2,20 3,27 3,25 3,15 2-1 3-16 3-25 3-18 2-8 3,0 3,7 3,10 2,21 3,22 3,9 3-7 2-20 3-25 3-20 3-13 2-2 3,13 3,26 3,26 2,18 3,4 3-13 2-24 3-27 3-21"/>
<path stroke="#008000" d="M834,990l2,49 2,0m0,0l3-8 3-20 2-25 3-13 2-10 3-2 2,8 3,16 3,25 2,21 3,8 2-7 3-21 2-27 3-25 2-18m0,34l3,29 3,23 2,11 3-5 3-20 2-27 3-27 3-16 2,0 3,15 3,27 2,27 3,19 2,6 3-11 3-22 2-27 3-24 3-11 2,5 3,20 3,28 2,25 3,17 3,0 2-15 3-26 2-29 3-20 3-6 2,13m0,84l3,2 3-15 2-27 3-29 3-21 2-6 3,11 3,23 2,29 3,25 3,11 2-7 3-21 3-28 2-25 3-14 3,1 2,16 3,26 3,29 2,19 3,4 3-11m0-71l2-13 3,2 3,17 2,25 3,31 3,20 2,4 3-15 3-29 2-29 3-20 3-8 2,8 3,21 3,29 2,22 3,7 3-8 2-16 3-18 3-26 2-17 3-2 3,14 2,25 3,24 2,18 3,11 3-5 2-22 3-30 3-24 2-11 3,4 3,19 2,27 3,29 3,17 2,0 3-16 3-28 2-27 3-20 3-5 2,10 3,23 3,28 2,24 3,12 3-7 2-21 3-27 3-25 2-12m0,65l3-27 3-24 2-15 3,1 3,15 2,24 3,26 3,18 2,4 3-12 3-24 2-26 3-21 3-8 2,8 3,21 3,27 2,23 3,11 3-4 3-18 2-25 3-14 3-6 2,2 3,8 3,11 2,24 3,18 3,4 2-12 3-23 3-23 2-17 3-9 3,4 3,18 2,28 3,23 3,11 2-4 3-18 3-26 2-25 3-15"/>
<path stroke="#ff0000" d="M834,990l2,47 1,0 1,0m0,0l3-7 3-22 2-23 3-13 2-9 3,0 2,10 3,17 3,27 2,17 3,3 2-13 3-24 2-27 3-22 2-10m0,49l3,26 3,17 2,2 3-12 2-24 3-27 2-22 3-8 2,8 3,22 3,27 2,24 3,12 2-3 3-17 2-24 3-27 3-17 2-3 3,13 2,24 3,27 2,20 3,9 2-7 3-21 3-28 2-25 3-13 2,3 3,18 2,26m0,16l3,24 2,10 3-6 3-21 2-29 3-25 2-14 3,2 2,16 3,25 3,27 2,19 3,5 2-12 3-24 2-27 3-21 2-9 3,5 3,19 2,27 3,26 2,15 3,3m0-65l2-21 3-9 3,7 2,20 3,27 2,28 3,15 3-4 2-20 3-31 2-25 3-15 3-1 2,14 3,25 3,27 2,14 3-1 2-12 3-16 3-24 2-21 3-9 2,8 3,21 3,26 2,19 3,13 2,1 3-16 3-29 2-25 3-15 2,0 3,15 3,25 2,29 3,21 2,3 3-13 3-26 2-28 3-20 2-8 3,8 3,22 2,27 3,24 3,12 2-4 3-20 2-28 3-24 3-15 2,4m0,80l3-18 2-26 3-23 2-14 3,1 3,13 2,22 3,26 2,18 3,5 2-10 3-22 3-26 2-21 3-9 2,5 3,19 2,25 3,23 3,14 2-1 3-15 2-24 3-16 2-7 3,0 3,6 2,10 3,19 2,21 3,8 2-6 3-19 3-24 2-18 3-12 2-1 3,12 2,24 3,24 3,17 2,3 3-12 2-23 3-25 2-20 3-8"/>
<path stroke="#00bfbf" d="M834,990l2,46 1,0 1,0m0,0l3-7 2-20 3-23 2-13 3-8 2-1 2,7 3,15 2,24 3,19 2,7 2-7 3-20 2-25 3-23 2-15 2-2m0,60l3,21 2,10 3-6 2-18 3-25 2-25 3-15 2,0 3,15 2,25 3,26 2,18 3,4 2-10 3-21 2-26 3-22 2-10 3,5 2,19 3,26 2,23 3,15 2,0 2-14 3-25 2-27 3-19 2-5 3,11 2,23 3,27 2,24m0-60l3,24 2,26 3,18 2,3 3-14 2-25 3-27 2-19 2-8 3,8 2,19 3,25 2,24 3,14 2-1 3-16 2-26 3-24 2-17 3-5 2,9 2,22 3,26 2,23 3,15m0-46l2-25 3-18 2-5 3,10 2,21 3,28 2,25 3,10 2-7 3-23 2-29 3-23 2-12 3,2 3,17 2,24 3,24 2,11 3-3 2-12 3-17 2-23 3-19 2-6 3,10 2,22 3,24 2,17 3,11 2-1 3-17 2-28 3-24 2-13 3,2 2,16 3,25 2,28 3,19 2,1 3-14 2-26 3-26 2-19 3-6 2,9 3,21 3,26 2,23 3,10 2-5 3-19 2-27 3-23 2-14 3,2 2,16m0,68l3-5 2-18 3-25 2-22 3-12 2,1 3,13 2,23 3,24 2,17 3,3 2-12 3-22 2-25 3-19 2-7 3,8 2,20 3,25 3,21 2,11 3-5 2-17 3-23 2-12 3-6 2,2 3,7 2,10 3,23 2,17 3,3 2-11 3-22 2-21 3-16 2-7 3,4 2,16 3,25 2,22 3,10 2-3 3-17 2-25 3-23 2-15 3,1"/>
<path stroke="#bf00bf" d="M834,990l2,44 1,0 1,0m0,0l3-7 2-20 3-22 2-12 3-7 2,0 2,8 3,17 2,24 3,16 2,3 2-13 3-22 2-25 3-20 2-8 2,6m0,63l3,16 2,1 3-12 2-22 2-26 3-20 2-7 3,9 2,20 3,25 2,22 2,12 3-3 2-17 3-23 2-25 2-16 3-2 2,13 3,23 2,24 2,19 3,7 2-8 3-19 2-26 2-24 3-12 2,4 3,18 2,26 3,23 2,15 2,5m0-86l3,10 2,21 3,27 2,22 3,9 2-7 3-23 2-27 2-22 3-10 2,4 3,17 2,25 3,24 2,15 3,0 2-16 3-25 2-25 3-17 2-3 2,13 3,22 2,26 3,24m0-17l2-27 3-23 2-14 3-1 2,12 2,23 3,27 2,21 3,7 2-12 3-24 2-27 2-21 3-9 2,6 3,18 2,25 3,20 2,7 2-5 3-12 2-16 3-23 2-17 3-3 2,12 2,22 3,23 2,15 3,9 2-4 3-18 2-26 2-22 3-11 2,4 3,17 2,24 3,27 2,16 2,0 3-15 2-25 3-25 2-18 3-5 2,10 2,21 3,25 2,22 3,9 2-6 3-19 2-26 2-22 3-12 2,1 3,15 2,24m0,33l3,10 2-5 2-18 3-23 2-21 3-13 2,0 2,13 3,21 2,24 3,16 2,5 3-10 2-20 2-24 3-20 2-8 3,5 2,18 2,23 3,22 2,12 3-1 2-14 3-23 2-13 2-7 3,0 2,5 3,9 2,19 2,19 3,7 2-6 3-18 2-22 3-17 2-10 2-1 3,12 2,21 3,23 2,15 2,3 3-11 2-21 3-25 2-18 3-7 2,7"/>
<path stroke="#bfbf00" d="M834,990l2,43 1,0 1,0m0,0l3-8 2-20 3-21 2-12 3-6 2,2 2,10 3,19 2,22 3,13 2-2 2-17 3-24 2-23 3-15 2-2 2,13m0,61l3,9 2-6 3-19 2-25 2-23 3-12 2,4 3,18 2,25 3,22 2,14 2,0 3-15 2-23 3-25 2-16 2-2 3,13 2,23 3,24 2,17 2,4 3-9 2-21 3-25 2-22 2-8 3,9 2,21 3,26 2,21 3,9 2-5 2-16m0-49l3-11 2,4 3,18 2,25 3,26 2,13 3-4 2-19 2-27 3-22 2-13 3,2 2,16 3,24 2,25 3,15 2-1 3-16 2-26 3-24 2-15 2,0 3,15 2,23 3,28m0,14l2-23 3-27 2-20 3-10 2,5 2,17 3,25 2,26 3,14 2-4 3-19 2-28 2-22 3-14 2,1 3,15 2,24 3,21 2,10 2-3 3-11 2-15 3-23 2-17 3-3 2,12 2,22 3,22 2,14 3,7 2-6 3-20 2-26 2-19 3-7 2,8 3,21 2,26 3,24 2,9 2-8 3-21 2-26 3-22 2-10 3,4 2,18 2,24 3,24 2,13 3-3 2-17 3-25 2-23 2-13 3,0 2,14 3,23 2,24m0-11l3,21 2,8 2-6 3-18 2-24 3-19 2-11 2,3 3,16 2,22 3,23 2,12 3-1 2-15 2-23 3-22 2-14 3-1 2,12 2,22 3,23 2,16 3,3 2-10 3-21 2-16 2-8 3-2 2,5 3,8 2,18 2,19 3,8 2-7 3-18 2-22 3-15 2-9 2,1 3,13 2,23 3,21 2,12 2-2 3-15 2-23 3-23 2-13 3-1 2,14"/>
<path stroke="#404040" d="M834,990l2,41 1,0 1,0m0,0l3-7 2-21 3-21 2-10 3-5 2,3 2,12 3,20 2,21 3,8 2-7 2-19 3-25 2-20 3-10 2,6 2,19m0,53l3,1 2-13 3-23 2-25 2-17 3-2 2,14 3,24 2,23 3,16 2,3 2-12 3-22 2-25 3-17 2-3 2,13 3,22 2,24 3,16 2,3 2-11 3-21 2-25 3-19 2-4 2,12 3,24 2,25 3,17 2,4 3-11 2-22 2-23m0,20l3-24 2-16 3-2 2,14 3,23 2,27 3,17 2-1 2-16 3-26 2-23 3-14 2,1 3,16 2,23 3,25 2,14 3-2 2-18 3-26 2-22 2-12 3,3 2,17 3,25m0,39l2-13 3-25 2-25 3-17 2-4 2,11 3,22 2,27 3,20 2,4 3-13 2-26 2-25 3-17 2-3 3,11 2,22 3,23 2,12 2-2 3-9 2-15 3-23 2-17 3-3 2,12 2,23 3,21 2,13 3,5 2-8 3-22 2-24 2-17 3-2 2,12 3,22 2,28 3,18 2,2 2-14 3-25 2-25 3-16 2-2 3,13 2,22 2,25 3,17 2,3 3-15 2-23 3-24 2-16 2-1 3,12 2,23 3,25 2,14m0-47l3,23 2,20 2,7 3-8 2-20 3-23 2-18 2-7 3,7 2,19 3,23 2,19 3,7 2-7 2-20 3-23 2-19 3-7 2,7 2,18 3,24 2,19 3,7 2-6 3-19 2-19 2-9 3-2 2,4 3,7 2,17 2,19 3,8 2-6 3-19 2-21 3-15 2-7 2,3 3,15 2,23 3,19 2,8 2-6 3-18 2-24 3-20 2-8 3,6 2,18"/>
<path stroke="#0000ff" d="M834,990l2,40 1,0 1,0m0,0l3-8 2-20 3-21 2-9 3-4 2,4 2,13 3,22 2,18 3,4 2-11 2-22 3-23 2-17 3-3 2,11 2,23m0,42l3-6 2-19 3-25 2-21 2-9 3,9 2,21 3,24 2,19 3,6 2-9 2-20 3-25 2-19 3-4 2,11 2,23 3,23 2,16 3,3 2-12 2-22 3-24 2-16 3-2 2,14 2,25 3,24 2,13 3,0 2-16 3-23 2-23 2-11m0,70l3-21 2-25 3-20 2-6 3,10 2,22 3,26 2,19 2,2 3-14 2-25 3-23 2-14 3,1 2,15 3,23 2,24 3,13 2-4 3-19 2-26 2-21 3-8 2,7 3,20m0,53l2-1 3-18 2-27 3-21 2-12 2,3 3,17 2,24 3,26 2,11 3-6 2-22 2-27 3-20 2-7 3,7 2,20 3,23 2,14 2,1 3-9 2-14 3-22 2-17 3-3 2,12 2,22 3,21 2,12 3,3 2-10 3-23 2-23 2-13 3,1 2,16 3,25 2,25 3,13 2-6 2-20 3-26 2-20 3-10 2,7 3,19 2,25 2,20 3,8 2-9 3-22 2-25 3-17 2-5 2,11 3,21 2,25 3,17 2,0m0-63l3,19 2,23 2,17 3,5 2-11 3-21 2-22 2-16 3-1 2,11 3,20 2,23 3,14 2,1 2-14 3-22 2-22 3-12 2,1 2,14 3,23 2,21 3,11 2-3 3-16 2-20 2-10 3-3 2,3 3,7 2,15 2,20 3,8 2-7 3-18 2-21 3-14 2-6 2,5 3,16 2,23 3,17 2,5 2-10 3-21 2-23 3-16 2-3 3,12 2,22"/>
<path stroke="#008000" d="M834,990l2,38 1,0 1,0m0,0l3-8 2-20 3-19 2-9 3-3 2,6 2,13 3,23 2,15 3,0 2-14 2-24 3-21 2-12 3,2 2,17 2,25m0,28l3-13 2-23 3-24 2-14 2,1 3,17 2,24 3,21 2,10 3-5 2-17 2-25 3-20 2-7 3,9 2,21 2,24 3,16 2,3 3-11 2-22 2-23 3-15 2,0 3,16 2,24 2,23 3,11 2-5 3-18 2-25 3-20 2-8 2,10m0,66l3-1 2-17 3-26 2-21 3-10 2,7 3,20 2,26 2,20 3,4 2-13 3-24 2-23 3-14 2,2 3,15 2,24 3,23 2,10 3-7 2-21 2-25 3-18 2-4 3,12m0,56l2,10 3-8 2-22 3-25 2-18 2-5 3,10 2,21 3,27 2,18 3,0 2-16 2-27 3-22 2-11 3,4 2,17 3,23 2,15 2,3 3-8 2-13 3-21 2-17 3-4 2,13 2,22 3,20 2,11 3,1 2-13 3-23 2-21 2-10 3,6 2,19 3,25 2,22 3,6 2-12 2-24 3-24 2-15 3-2 2,14 3,23 2,24 2,12 3-3 2-18 3-25 2-20 3-8 2,8 2,20 3,24 2,18 3,4 2-13m0-58l3,10 2,19 2,23 3,15 2,1 3-13 2-23 2-20 3-11 2,2 3,15 2,23 3,19 2,9 2-7 3-18 2-23 3-17 2-5 2,10 3,20 2,22 3,15 2,1 3-13 2-21 2-11 3-4 2,2 3,6 2,15 2,19 3,8 2-6 3-19 2-20 3-13 2-5 2,7 3,18 2,22 3,14 2,1 2-14 3-22 2-21 3-12 2,4 3,16 2,23"/>
<path stroke="#ff0000" d="M834,990l2,37 1,0 1,0m0,0l3-8 2-21 3-18 2-8 3-2 2,7 2,15 3,22 2,12 3-4 2-17 2-23 3-19 2-7 3,8 2,21 2,23m0,14l3-19 2-24 3-20 2-6 2,10 3,23 2,23 3,14 2,0 3-14 2-23 2-23 3-10 2,7 3,19 2,24 2,17 3,4 2-11 3-20 2-23 2-15 3,2 2,16 3,24 2,21 2,9 3-8 2-20 3-24 2-18 3-3 2,13 2,23m0,15l3,19 2,4 3-14 2-24 3-23 2-12 3,5 2,18 2,25 3,20 2,5 3-13 2-23 3-22 2-13 3,3 2,17 3,24 2,21 3,7 2-11 2-24 3-23 2-14 3,3m0,47l2,19 3,4 2-13 3-26 2-22 2-12 3,3 2,17 3,25 2,22 3,8 2-11 2-25 3-23 2-15 3,0 2,14 3,23 2,16 2,5 3-6 2-13 3-21 2-17 3-3 2,12 2,23 3,19 2,9 3-1 2-14 3-23 2-19 2-7 3,10 2,21 3,26 2,17 3-1 2-17 2-26 3-20 2-10 3,7 2,19 3,25 2,18 2,3 3-13 2-24 3-22 2-12 3,4 2,17 2,24 3,19 2,7 3-10 2-22m0-33l3-3 2,11 2,20 3,22 2,12 3-3 2-16 2-23 3-17 2-7 3,8 2,19 3,22 2,15 2,1 3-14 2-21 3-21 2-10 2,5 3,18 2,22 3,17 2,5 3-10 2-21 2-12 3-5 2,1 3,5 2,14 2,20 3,8 2-7 3-18 2-20 3-12 2-3 2,8 3,19 2,21 3,11 2-3 2-16 3-23 2-19 3-6 2,9 3,20 2,22"/>
<path stroke="#00bfbf" d="M834,990l2,35 1,0 1,0m0,0l3-8 2-20 3-18 2-7 3,0 2,8 2,16 3,20 2,9 3-7 2-20 2-22 3-16 2-1 3,13 2,23 2,21m0-2l3-22 2-23 3-13 2,2 2,18 3,24 2,18 3,5 2-9 3-21 2-23 2-14 3,2 2,17 3,24 2,18 2,6 3-9 2-20 3-23 2-14 2,1 3,17 2,23 3,19 2,8 2-9 3-21 2-24 3-15 2,1 3,17 2,23 2,22m0-44l3,24 2,21 3,7 2-10 3-24 2-23 3-13 2,3 2,18 3,24 2,19 3,5 2-13 3-23 2-21 3-11 2,5 3,18 2,24 3,19 2,2 2-15 3-24 2-21 3-8m0,31l2,25 3,14 2-3 3-20 2-25 2-18 3-4 2,11 3,21 2,26 3,13 2-4 2-21 3-25 2-17 3-4 2,11 3,22 2,18 2,5 3-4 2-12 3-20 2-17 3-4 2,13 2,22 3,18 2,8 3-2 2-16 3-23 2-17 2-2 3,13 2,22 3,25 2,11 3-7 2-22 2-24 3-16 2-2 3,13 2,23 3,22 2,10 2-7 3-20 2-23 3-16 2-1 3,13 2,23 2,21 3,9 2-7 3-20 2-22m0-1l3-13 2,0 2,13 3,21 2,20 3,7 2-7 2-19 3-21 2-14 3-1 2,13 3,22 2,19 2,8 3-7 2-19 3-22 2-14 2-1 3,14 2,21 3,20 2,8 3-7 2-19 2-14 3-6 2,0 3,5 2,13 2,19 3,8 2-6 3-19 2-19 3-11 2-1 2,10 3,19 2,19 3,9 2-7 2-18 3-23 2-15 3-1 2,14 3,22 2,19"/>
<path stroke="#bf00bf" d="M834,990l2,33 1,0 1,0m0,0l3-8 2-20 3-16 2-7 3,1 2,9 2,17 3,19 2,5 3-11 2-21 2-20 3-11 2,4 3,17 2,23 2,16m0-15l3-24 2-19 3-5 2,10 2,23 3,21 2,11 3-4 2-18 3-23 2-17 2-3 3,14 2,23 3,19 2,9 2-7 3-19 2-22 3-15 2,1 2,15 3,23 2,18 3,7 2-10 2-21 3-23 2-13 3,5 2,18 3,23 2,16 2,6m0-64l3,12 2,21 3,23 2,10 3-8 2-22 3-23 2-14 2,3 3,17 2,23 3,19 2,3 3-14 2-23 3-20 2-8 3,8 2,20 3,23 2,15 2-4 3-18 2-24 3-16m0,14l2,22 3,22 2,7 3-13 2-24 2-21 3-10 2,4 3,18 2,24 3,19 2,2 2-17 3-25 2-19 3-7 2,8 3,20 2,19 2,7 3-4 2-10 3-20 2-17 3-3 2,12 2,23 3,17 2,6 3-4 2-17 3-22 2-14 2,1 3,16 2,23 3,21 2,6 3-13 2-24 2-21 3-10 2,5 3,18 2,24 3,16 2,1 2-15 3-24 2-19 3-6 2,9 3,20 2,23 2,12 3-4 2-17 3-23 2-15m0,29l3-20 2-11 2,3 3,15 2,22 3,16 2,3 2-12 3-21 2-19 3-8 2,6 3,18 2,21 2,14 3-1 2-14 3-22 2-17 2-6 3,10 2,19 3,20 2,12 3-4 2-17 2-15 3-7 2,0 3,4 2,12 2,19 3,8 2-7 3-18 2-19 3-9 2-1 2,12 3,19 2,18 3,5 2-10 2-20 3-21 2-11 3,5 2,17 3,22 2,15"/>
<path stroke="#bfbf00" d="M834,990l2,32 1,0 1,0m0,0l3-8 2-20 3-16 2-5 3,2 2,9 2,19 3,16 2,2 3-14 2-21 2-18 3-7 2,8 3,20 2,22 2,10m0-26l3-23 2-13 3,2 2,18 2,22 3,16 2,3 3-13 2-21 3-20 2-8 2,9 3,21 2,21 3,11 2-4 2-17 3-22 2-15 3-1 2,14 2,22 3,18 2,6 3-10 2-20 2-23 3-11 2,6 3,20 2,22 3,14 2-1 2-13m0-38l3-6 2,8 3,21 2,23 3,12 2-7 3-21 2-23 2-13 3,3 2,16 3,23 2,17 3,1 2-15 3-22 2-18 3-5 2,11 3,21 2,22 2,9 3-9 2-22 3-20m0-6l2,18 3,24 2,16 3-3 2-19 2-23 3-16 2-2 3,12 2,23 3,22 2,7 2-11 3-24 2-20 3-10 2,5 3,18 2,19 2,8 3-2 2-10 3-18 2-17 3-3 2,12 2,23 3,15 2,5 3-6 2-17 3-21 2-12 2,5 3,18 2,23 3,17 2,0 3-17 2-24 2-17 3-5 2,12 3,21 2,21 3,9 2-8 2-21 3-21 2-12 3,3 2,17 3,23 2,16 2,1 3-15 2-22 3-18 2-3m0,46l3-21 2-18 2-8 3,7 2,18 3,20 2,13 2-3 3-17 2-20 3-15 2-2 3,13 2,20 2,18 3,6 2-9 3-20 2-19 2-11 3,6 2,17 3,20 2,14 3,0 2-15 2-17 3-7 2-1 3,4 2,10 2,19 3,9 2-7 3-18 2-18 3-9 2,1 2,13 3,19 2,16 3,2 2-13 2-21 3-18 2-7 3,10 2,19 3,20 2,11"/>
<path stroke="#404040" d="M834,990l2,30 1,0 1,0m0,0l3-8 2-19 3-15 2-4 3,2 2,10 2,19 3,14 2-2 3-16 2-20 2-15 3-2 2,12 3,21 2,18 2,5m0-34l3-20 2-6 3,9 2,21 2,20 3,9 2-6 3-18 2-22 3-12 2,3 2,17 3,22 2,14 3,0 2-14 2-21 3-17 2-4 3,13 2,21 2,18 3,6 2-9 3-19 2-22 2-10 3,7 2,20 3,21 2,12 3-4 2-16 2-21m0,13l3-20 2-9 3,7 2,19 3,23 2,12 3-6 2-21 2-21 3-12 2,3 3,17 2,22 3,15 2-2 3-17 2-21 3-16 2,0 3,14 2,22 2,18 3,3 2-14 3-23m0-21l2,12 3,21 2,21 3,7 2-11 2-23 3-20 2-8 3,7 2,19 3,23 2,13 2-5 3-21 2-22 3-13 2,2 3,16 2,19 2,10 3-1 2-9 3-18 2-17 3-3 2,12 2,23 3,14 2,3 3-6 2-19 3-19 2-9 2,8 3,19 2,23 3,13 2-6 3-21 2-22 2-12 3,2 2,16 3,23 2,15 3,1 2-16 2-22 3-17 2-2 3,12 2,21 3,19 2,6 2-11 3-21 2-19 3-8 2,9m0,47l3-14 2-21 2-15 3-4 2,11 3,19 2,18 2,7 3-9 2-19 3-19 2-8 3,5 2,17 2,20 3,12 2-3 3-16 2-21 2-14 3,2 2,14 3,19 2,16 3,2 2-11 2-18 3-8 2-2 3,3 2,10 2,19 3,8 2-7 3-17 2-17 3-8 2,2 2,14 3,19 2,13 3-1 2-15 2-21 3-16 2-1 3,13 2,21 3,16 2,5"/>
<path stroke="#0000ff" d="M834,990l2,29 1,0 1,0m0,0l3-8 2-19 3-14 2-4 3,4 2,10 2,20 3,10 2-4 3-18 2-18 2-12 3,2 2,15 3,21 2,14 2-2m0-38l3-15 2,1 3,15 2,21 2,16 3,0 2-13 3-21 2-17 3-3 2,13 2,21 3,17 2,4 3-11 2-19 2-19 3-6 2,10 3,20 2,18 2,7 3-7 2-19 3-20 2-10 2,6 3,20 2,21 3,10 2-5 3-17 2-21 2-11m0,49l3-19 2-20 3-11 2,6 3,18 2,22 3,12 2-6 2-20 3-21 2-10 3,5 2,17 3,21 2,12 3-5 2-18 3-21 2-11 3,4 2,17 2,22 3,13 2-5 3-18m0-32l2,3 3,16 2,23 3,14 2-3 2-18 3-22 2-13 3,1 2,15 3,23 2,17 2-1 3-17 2-22 3-15 2-1 3,13 2,19 2,11 3,0 2-8 3-17 2-16 3-3 2,12 2,22 3,12 2,3 3-8 2-19 3-18 2-5 2,10 3,21 2,21 3,7 2-10 3-23 2-19 2-7 3,8 2,19 3,21 2,9 3-8 2-20 2-19 3-10 2,6 3,18 2,21 3,11 2-5 2-19 3-20 2-11 3,4 2,17m0,32l3-3 2-16 2-19 3-13 2,2 3,14 2,19 2,14 3,0 2-14 3-19 2-14 3-2 2,12 2,20 3,15 2,3 3-11 2-20 2-16 3-4 2,12 3,17 2,17 3,6 2-10 2-17 3-8 2-3 3,2 2,9 2,19 3,8 2-7 3-18 2-16 3-6 2,4 2,13 3,19 2,10 3-4 2-16 2-20 3-12 2,3 3,16 2,20 3,13 2-2"/>
<path stroke="#008000" d="M834,990l2,27 1,0 1,0m0,0l3-8 2-18 3-13 2-3 3,5 2,10 2,19 3,8 2-7 3-19 2-16 2-8 3,5 2,18 3,19 2,8 2-7m0-39l3-8 2,7 3,19 2,19 2,9 3-7 2-18 3-20 2-9 3,7 2,19 2,19 3,8 2-6 3-18 2-19 2-9 3,6 2,18 3,19 2,9 2-6 3-17 2-20 3-10 2,6 2,19 3,19 2,10 3-6 2-18 3-20 2-10 2,8m0,47l3-4 2-18 3-21 2-10 3,4 2,18 3,22 2,10 2-7 3-19 2-19 3-9 2,7 3,18 2,20 3,8 2-8 3-20 2-18 3-7 2,9 2,19 3,19 2,6 3-9m0-38l2-5 3,9 2,20 3,19 2,6 2-12 3-22 2-16 3-5 2,11 3,20 2,20 2,5 3-14 2-21 3-17 2-4 3,11 2,19 2,11 3,1 2-7 3-15 2-17 3-3 2,12 2,22 3,11 2,1 3-9 2-18 3-16 2-3 2,13 3,21 2,18 3,2 2-14 3-22 2-16 2-1 3,13 2,20 3,17 2,1 3-14 2-21 2-15 3-1 2,14 3,20 2,15 3,1 2-14 2-21 3-14 2,0 3,14 2,19m0,8l3,8 2-7 2-17 3-18 2-7 3,6 2,16 2,19 3,8 2-7 3-17 2-18 3-8 2,6 2,17 3,18 2,8 3-6 2-17 2-18 3-8 2,8 3,16 2,17 3,8 2-6 2-17 3-9 2-3 3,1 2,8 2,18 3,8 2-6 3-18 2-15 3-5 2,5 2,14 3,17 2,8 3-6 2-18 2-19 3-8 2,8 3,18 2,17 3,8 2-6"/>
<path stroke="#ff0000" d="M834,990l2,26 1,0 1,0m0,0l3-8 2-19 3-11 2-2 3,5 2,12 2,17 3,5 2-9 3-19 2-14 2-5 3,9 2,19 3,16 2,3 2-12m0-36l3-2 2,13 3,20 2,14 2,2 3-13 2-20 3-14 2,0 3,14 2,20 2,13 3-2 2-14 3-20 2-12 2,3 3,15 2,19 3,11 2-4 2-15 3-19 2-11 3,5 2,17 2,19 3,9 2-6 3-17 2-19 3-8 2,7 2,18m0,13l3,13 2-3 3-17 2-19 3-11 2,5 3,17 2,20 2,9 3-8 2-19 3-17 2-6 3,9 2,19 3,17 2,4 3-12 2-20 3-15 2-2 2,14 3,20 2,14 3,1m0-36l2-12 3,2 2,15 3,21 2,12 2-4 3-19 2-19 3-9 2,5 3,17 2,21 2,9 3-8 2-21 3-17 2-7 3,9 2,18 2,11 3,3 2-7 3-14 2-16 3-3 2,11 2,22 3,9 2,1 3-10 2-19 3-13 2,0 2,14 3,21 2,14 3-2 2-17 3-20 2-11 2,3 3,17 2,19 3,11 2-6 3-19 2-18 2-8 3,7 2,18 3,18 2,7 3-9 2-19 2-17 3-4 2,10 3,18 2,16m0-17l3,16 2,4 2-10 3-19 2-14 3-2 2,11 2,18 3,14 2,1 3-13 2-18 3-13 2,0 2,13 3,19 2,12 3-2 2-14 2-18 3-10 2,4 3,13 2,17 3,10 2-4 2-15 3-10 2-4 3,2 2,6 2,18 3,8 2-7 3-16 2-15 3-4 2,6 2,14 3,16 2,6 3-9 2-18 2-17 3-4 2,11 3,18 2,15 3,3 2-11"/>
<path stroke="#00bfbf" d="M834,990l2,24 1,0 1,0m0,0l3-7 2-19 3-10 2-1 3,6 2,12 2,15 3,3 2-11 3-18 2-12 2-1 3,12 2,18 3,12 2-2 2-15m0-30l3,4 2,17 3,18 2,8 2-5 3-17 2-18 3-7 2,9 3,18 2,16 2,4 3-10 2-18 3-15 2-2 2,12 3,18 2,13 3,0 2-14 2-18 3-12 2,3 3,16 2,18 2,10 3-6 2-16 3-18 2-8 3,8 2,18 2,18m0-28l3,19 2,13 3-2 2-16 3-19 2-10 3,6 2,17 2,19 3,6 2-10 3-19 2-14 3-3 2,12 3,19 2,13 3-1 2-15 3-19 2-10 2,5 3,16 2,19 3,9m0-27l2-16 3-5 2,9 3,18 2,17 2,3 3-13 2-20 3-13 2,0 3,14 2,20 2,13 3-4 2-19 3-18 2-8 3,6 2,17 2,12 3,3 2-6 3-13 2-16 3-3 2,12 2,20 3,9 2-1 3-11 2-17 3-12 2,3 2,15 3,20 2,11 3-7 2-19 3-17 2-6 2,8 3,18 2,17 3,4 2-12 3-19 2-14 2-1 3,13 2,19 3,13 2-3 3-16 2-18 2-9 3,5 2,17 3,17 2,6m0-31l3,17 2,13 2-1 3-14 2-17 3-10 2,3 2,14 3,18 2,8 3-6 2-16 3-16 2-6 2,8 3,17 2,15 3,3 2-10 2-18 3-12 2,0 3,12 2,16 3,11 2-1 2-14 3-11 2-4 3,1 2,5 2,18 3,7 2-6 3-17 2-12 3-4 2,7 2,14 3,15 2,3 3-11 2-18 2-14 3,0 2,13 3,18 2,12 3-2 2-15"/>
<path stroke="#bf00bf" d="M834,990l2,22 1,0 1,0m0,0l3-7 2-18 3-8 2-1 3,6 2,13 2,13 3,1 2-13 3-16 2-10 2,2 3,14 2,17 3,8 2-7 2-17m0-22l3,9 2,18 3,15 2,2 2-11 3-18 2-13 3,2 2,14 3,17 2,9 2-4 3-15 2-17 3-7 2,8 2,18 3,14 2,2 3-10 2-17 2-13 3,0 2,14 3,18 2,10 2-4 3-16 2-17 3-7 2,8 3,17 2,15 2,5m0-43l3,11 2,19 3,13 2-2 3-16 2-18 3-8 2,7 2,17 3,16 2,4 3-12 2-18 3-12 2,1 3,14 2,18 3,9 2-6 3-18 2-15 2-4 3,10 2,18 3,16m0-14l2-18 3-11 2,2 3,14 2,19 2,9 3-7 2-19 3-15 2-4 3,10 2,18 2,15 3,0 2-15 3-18 2-10 3,3 2,16 2,12 3,4 2-5 3-13 2-14 3-3 2,11 2,20 3,7 2-2 3-11 2-17 3-9 2,5 2,16 3,19 2,6 3-10 2-19 3-14 2-2 2,12 3,19 2,12 3-3 2-16 3-17 2-8 2,7 3,16 2,16 3,4 2-10 3-18 2-13 2,0 3,13 2,18 3,10 2-5m0-33l3,13 2,17 2,8 3-6 2-16 3-14 2-5 2,9 3,16 2,13 3,1 2-12 3-16 2-11 2,2 3,14 2,16 3,8 2-6 2-16 3-14 2-2 3,9 2,14 3,13 2,1 2-12 3-12 2-4 3,0 2,4 2,17 3,8 2-6 3-18 2-10 3-2 2,7 2,14 3,13 2,0 3-11 2-18 2-11 3,4 2,15 3,16 2,7 3-6 2-16"/>
<path stroke="#bfbf00" d="M834,990l2,21 1,0 1,0m0,0l3-7 2-18 3-7 2,0 3,6 2,14 2,11 3-2 2-14 3-14 2-7 2,5 3,15 2,14 3,3 2-10 2-17m0-13l3,13 2,17 3,10 2-4 2-14 3-16 2-6 3,8 2,16 3,14 2,1 2-11 3-17 2-11 3,3 2,15 2,16 3,6 2-7 3-16 2-14 2-2 3,11 2,17 3,11 2-3 2-14 3-17 2-7 3,7 2,17 3,14 2,2 2-9m0-25l3-3 2,10 3,18 2,12 3-3 2-16 3-17 2-5 2,8 3,17 2,14 3,0 2-13 3-17 2-9 3,5 2,16 3,15 2,4 3-10 2-18 2-11 3,2 2,14 3,18m0,2l2-18 3-14 2-4 3,9 2,17 2,14 3-1 2-15 3-17 2-8 3,6 2,15 2,17 3,4 2-12 3-18 2-11 3,1 2,14 2,12 3,5 2-4 3-12 2-14 3-3 2,11 2,19 3,6 2-3 3-11 2-16 3-6 2,7 2,16 3,16 2,2 3-12 2-18 3-11 2,3 2,14 3,18 2,6 3-8 2-17 3-14 2-1 2,12 3,17 2,10 3-4 2-15 3-16 2-5 2,8 3,16 2,14 3,1 2-13m0-25l3,6 2,15 2,14 3,2 2-10 3-16 2-10 2,2 3,12 2,16 3,7 2-6 3-16 2-13 2-3 3,10 2,16 3,11 2-2 2-13 3-15 2-5 3,6 2,12 3,14 2,3 2-10 3-12 2-4 3-1 2,4 2,16 3,7 2-6 3-18 2-8 3-1 2,7 2,15 3,10 2-1 3-13 2-16 2-8 3,7 2,15 3,14 2,3 3-10 2-15"/>
<path stroke="#404040" d="M834,990l2,19 1,0 1,0m0,0l3-6 2-18 3-5 2,0 3,7 2,13 2,9 3-4 2-14 3-12 2-4 2,7 3,15 2,11 3-1 2-13 2-16m0-3l3,15 2,14 3,5 2-9 2-16 3-12 2,1 3,13 2,16 3,7 2-6 2-15 3-14 2-2 3,11 2,16 2,9 3-3 2-14 3-14 2-5 2,8 3,16 2,11 3,0 2-12 2-16 3-8 2,6 3,15 2,14 3,2 2-10 2-15m0,6l3-13 2-3 3,10 2,17 3,11 2-5 3-16 2-14 2-3 3,9 2,17 3,10 2-3 3-14 2-15 3-4 2,8 3,16 2,12 3-2 2-14 2-15 3-5 2,7 3,17m0,14l2-12 3-17 2-9 3,4 2,13 2,16 3,6 2-11 3-17 2-10 3,1 2,13 2,17 3,7 2-8 3-17 2-13 3,0 2,11 2,13 3,5 2-3 3-11 2-14 3-2 2,10 2,18 3,5 2-3 3-12 2-14 3-5 2,9 2,16 3,13 2-1 3-15 2-15 3-7 2,7 2,15 3,14 2,1 3-12 2-16 3-9 2,5 2,15 3,14 2,3 3-10 2-16 3-10 2,3 2,13 3,15 2,5 3-8 2-15m0-9l3-3 2,10 2,14 3,10 2-3 3-13 2-13 2-5 3,7 2,14 3,12 2-1 3-11 2-15 2-7 3,5 2,14 3,13 2,2 2-10 3-14 2-8 3,4 2,11 3,13 2,5 2-8 3-12 2-5 3,0 2,2 2,16 3,7 2-6 3-18 2-6 3-1 2,8 2,14 3,9 2-4 3-13 2-15 2-4 3,9 2,15 3,11 2-1 3-12 2-14"/>
<path stroke="#0000ff" d="M834,990l2,18 1,0 1,0m0,0l3-7 2-17 3-4 2,1 3,7 2,13 2,7 3-6 2-13 3-10 2-2 2,8 3,15 2,8 3-5 2-14 2-14m0,5l3,15 2,11 3-1 2-11 2-15 3-6 2,7 3,14 2,11 3,1 2-11 2-15 3-7 2,6 3,14 2,12 2,1 3-11 2-14 3-8 2,5 2,14 3,12 2,2 3-9 2-16 2-9 3,5 2,14 3,13 2,3 3-10 2-14 2-8m0,29l3-15 2-12 3-2 2,10 3,16 2,8 3-6 2-15 2-12 3-1 2,11 3,15 2,7 3-6 2-15 3-11 2,0 3,11 2,15 3,7 2-8 2-15 3-11 2,1 3,12m0,22l2-5 3-16 2-12 3-2 2,10 2,15 3,10 2-5 3-16 2-12 3-2 2,9 2,16 3,10 2-5 3-15 2-13 3-3 2,10 2,12 3,6 2-3 3-9 2-13 3-3 2,10 2,17 3,4 2-4 3-11 2-13 3-3 2,10 2,16 3,9 2-4 3-15 2-13 3-3 2,10 2,15 3,10 2-5 3-14 2-13 3-3 2,10 2,14 3,10 2-4 3-14 2-13 3-3 2,9 2,15 3,9 2-3 3-14 2-12m0,7l3-9 2,2 2,11 3,13 2,5 3-8 2-14 2-9 3,1 2,12 3,13 2,5 3-7 2-14 2-10 3,0 2,12 3,13 2,6 2-7 3-13 2-9 3,1 2,9 3,13 2,6 2-6 3-12 2-5 3-1 2,2 2,15 3,6 2-5 3-18 2-4 3,0 2,8 2,12 3,7 2-4 3-14 2-12 2-2 3,11 2,14 3,7 2-4 3-13 2-12"/>
<path stroke="#008000" d="M834,990l2,16 1,0 1,0m0,0l3-6 2-16 3-3 2,2 3,6 2,12 2,5 3-7 2-12 3-8 2,0 2,10 3,13 2,4 3-7 2-14 2-10m0,11l3,13 2,7 3-5 2-13 2-12 3,0 2,11 3,13 2,5 3-5 2-13 2-11 3,0 2,12 3,12 2,5 2-6 3-13 2-10 3,1 2,12 2,12 3,4 2-7 3-13 2-10 2,2 3,13 2,12 3,4 2-9 3-13 2-9 2,4m0,28l3-5 2-14 3-11 2-1 3,11 2,15 3,6 2-8 2-14 3-10 2,2 3,12 2,13 3,3 2-9 3-14 2-7 3,4 2,13 3,12 2,1 2-12 3-13 2-5 3,6m0,23l2,2 3-11 2-14 3-6 2,5 2,13 3,12 2,1 3-13 2-13 3-5 2,6 2,14 3,11 2-2 3-13 2-13 3-3 2,7 2,12 3,5 2-1 3-9 2-12 3-2 2,9 2,16 3,3 2-5 3-11 2-11 3-1 2,11 2,14 3,7 2-7 3-14 2-11 3,1 2,11 2,14 3,5 2-8 3-14 2-9 3,2 2,12 2,13 3,3 2-9 3-13 2-8 3,3 2,13 2,12 3,1 2-10 3-13 2-6m0,18l3-13 2-4 2,5 3,13 2,9 3-1 2-11 2-12 3-3 2,6 3,13 2,9 3-2 2-12 2-12 3-3 2,8 3,13 2,8 2-3 3-12 2-10 3-1 2,8 3,11 2,7 2-4 3-11 2-5 3-1 2,1 2,14 3,6 2-5 3-18 2-2 3,0 2,8 2,12 3,5 2-6 3-13 2-10 2,1 3,11 2,13 3,4 2-7 3-13 2-9"/>
<path stroke="#ff0000" d="M834,990l2,15 1,0 1,0m0,0l3-6 2-15 3-2 2,2 3,6 2,11 2,3 3-7 2-11 3-7 2,3 2,10 3,11 2,1 3-10 2-12 2-6m0,14l3,12 2,2 3-9 2-12 2-7 3,5 2,12 3,10 2,0 3-10 2-12 2-5 3,7 2,12 3,8 2-2 2-10 3-12 2-2 3,8 2,12 2,7 3-4 2-12 3-11 2,0 2,11 3,12 2,4 3-6 2-13 3-8 2,2 2,11m0,8l3,7 2-5 3-13 2-9 3,1 2,10 3,13 2,3 2-9 3-13 2-6 3,5 2,12 3,10 2-1 3-11 2-12 3-3 2,8 3,13 2,8 2-6 3-13 2-9 3,1m0,20l2,7 3-5 2-13 3-10 2,1 2,10 3,13 2,4 3-8 2-13 3-8 2,3 2,12 3,12 2,1 3-11 2-12 3-5 2,6 2,11 3,5 2-1 3-7 2-11 3-3 2,9 2,14 3,2 2-4 3-11 2-9 3,1 2,10 2,13 3,4 2-8 3-14 2-7 3,4 2,11 2,12 3,0 2-10 3-12 2-5 3,6 2,13 2,8 3-2 2-12 3-11 2-1 3,8 2,13 2,6 3-6 2-12 3-9 2,2m0,20l3-11 2-10 2,0 3,9 2,11 3,5 2-6 2-12 3-7 2,1 3,10 2,11 3,2 2-8 2-11 3-7 2,5 3,11 2,9 2,0 3-9 2-10 3-3 2,6 3,10 2,7 2-2 3-11 2-4 3-2 2,1 2,13 3,6 2-5 3-17 2-2 3,2 2,7 2,11 3,3 2-6 3-13 2-8 2,4 3,12 2,10 3,1 2-9 3-12 2-5"/>
<path stroke="#00bfbf" d="M834,990l2,13 1,0 1,0m0,0l3-5 2-14 3-1 2,2 3,5 2,11 2,1 3-8 2-9 3-5 2,4 2,10 3,8 2-1 3-10 2-11 2-2m0,16l3,8 2-1 3-10 2-11 2-2 3,8 2,11 3,5 2-4 3-11 2-9 2,2 3,10 2,10 3,2 2-7 2-12 3-5 2,5 3,11 2,8 2-2 3-9 2-11 3-2 2,8 2,11 3,6 2-5 3-11 2-9 3,2 2,10 2,11m0-14l3,11 2,6 3-6 2-12 3-8 2,3 3,11 2,10 2,0 3-9 2-11 3-3 2,7 3,11 2,6 3-4 2-12 3-8 2,2 3,10 2,11 2,1 3-9 2-11 3-4m0,13l2,11 3,0 2-10 3-11 2-3 2,6 3,12 2,8 3-5 2-12 3-8 2,0 2,9 3,12 2,3 3-8 2-12 3-6 2,5 2,10 3,5 2,0 3-6 2-11 3-2 2,7 2,14 3,1 2-5 3-9 2-8 3,2 2,10 2,11 3,2 2-10 3-11 2-5 3,6 2,12 2,8 3-3 2-12 3-9 2-1 3,9 2,11 2,4 3-6 2-12 3-6 2,3 3,11 2,9 2,0 3-10 2-10 3-3 2,7m0,16l3-7 2-10 2-6 3,4 2,10 3,8 2,0 2-9 3-10 2-2 3,6 2,11 3,5 2-4 2-10 3-8 2,1 3,9 2,9 2,3 3-7 2-10 3-4 2,4 3,8 2,8 2-1 3-9 2-4 3-2 2,0 2,12 3,5 2-4 3-16 2-1 3,2 2,7 2,10 3,2 2-8 3-11 2-5 2,5 3,11 2,8 3-2 2-9 3-10 2-2"/>
<path stroke="#bf00bf" d="M834,990l2,11 1,0 1,0m0,0l3-4 2-13 3-1 2,3 3,5 2,9 2,0 3-8 2-7 3-3 2,4 2,10 3,5 2-3 3-10 2-8 2,1m0,16l3,4 2-4 3-10 2-8 2,3 3,9 2,9 3,0 2-7 3-10 2-4 2,6 3,11 2,5 3-4 2-9 2-8 3,1 2,9 3,9 2,1 2-6 3-10 2-5 3,5 2,11 2,6 3-2 2-10 3-9 2,0 3,9 2,9 2,4m0-21l3,7 2,10 3,4 2-6 3-11 2-5 3,4 2,10 2,8 3-3 2-10 3-8 2,0 3,9 2,9 3,2 2-7 3-10 2-4 3,5 2,11 2,6 3-4 2-10 3-7m0,6l2,11 3,5 2-6 3-11 2-6 2,3 3,10 2,9 3-1 2-10 3-9 2-2 2,7 3,11 2,5 3-6 2-11 3-6 2,3 2,9 3,5 2,0 3-4 2-11 3-2 2,7 2,12 3,1 2-5 3-9 2-6 3,3 2,10 2,9 3-1 2-10 3-9 2-2 3,7 2,11 2,4 3-5 2-11 3-6 2,3 3,10 2,8 2-1 3-9 2-9 3-2 2,7 3,11 2,4 2-6 3-10 2-6 3,3 2,10m0,7l3-1 2-8 2-8 3-2 2,7 3,9 2,4 2-5 3-10 2-5 3,2 2,9 3,8 2-1 2-8 3-8 2-2 3,6 2,9 2,5 3-5 2-9 3-4 2,2 3,7 2,7 2,1 3-8 2-5 3-1 2-1 2,11 3,5 2-4 3-15 2,0 3,2 2,7 2,8 3,1 2-7 3-10 2-4 2,7 3,9 2,6 3-4 2-9 3-7 2,1"/>
<path stroke="#bfbf00" d="M834,990l2,10 1,0 1,0m0,0l3-4 2-12 3,0 2,3 3,5 2,7 2,0 3-8 2-6 3-2 2,6 2,8 3,3 2-5 3-9 2-5 2,3m0,14l3,1 2-6 3-9 2-3 2,5 3,9 2,4 3-3 2-8 3-7 2,2 2,8 3,7 2,1 3-7 2-8 2-3 3,6 2,9 3,3 2-4 2-8 3-6 2,3 3,8 2,7 2-1 3-7 2-9 3-1 2,7 3,9 2,2 2-4m0-12l3-1 2,7 3,9 2,2 3-7 2-9 3-3 2,6 2,9 3,4 2-4 3-9 2-5 3,3 2,8 3,7 2-2 3-9 2-7 3,1 2,7 2,9 3,1 2-8 3-8m0,0l2,9 3,7 2-1 3-9 2-7 2-1 3,7 2,9 3,3 2-7 3-9 2-4 2,5 3,9 2,6 3-4 2-9 3-6 2,1 2,8 3,5 2,0 3-2 2-11 3-1 2,6 2,10 3,0 2-4 3-8 2-5 3,4 2,9 2,7 3-3 2-9 3-7 2,1 3,7 2,9 2,1 3-7 2-9 3-3 2,6 3,9 2,4 2-4 3-9 2-5 3,2 2,8 3,7 2,0 2-9 3-7 2-1 3,7 2,8m0-1l3,4 2-5 2-8 3-5 2,3 3,7 2,7 2-1 3-7 2-7 3-1 2,6 3,8 2,2 2-5 3-8 2-4 3,4 2,8 2,5 3-2 2-8 3-5 2,1 3,5 2,8 2,1 3-6 2-5 3-2 2-1 2,10 3,4 2-3 3-13 2,0 3,2 2,7 2,6 3,0 2-7 3-8 2-2 2,7 3,8 2,3 3-5 2-8 3-4 2,3"/>
<path stroke="#404040" d="M834,990l2,8 1,0 1,0m0,0l3-3 2-10 3,0 2,2 3,6 2,5 2-1 3-7 2-5 3,0 2,5 2,7 3,1 2-6 3-7 2-2 2,4m0,11l3-1 2-7 3-7 2,0 2,7 3,6 2,2 3-5 2-8 3-2 2,4 2,8 3,3 2-3 3-8 2-4 2,2 3,7 2,5 3-1 2-6 2-7 3,0 2,7 3,7 2,1 2-6 3-7 2-3 3,5 2,8 3,3 2-4 2-7m0,2l3-5 2,0 3,7 2,7 3,0 2-7 3-7 2-1 2,6 3,8 2,1 3-5 2-8 3-2 2,5 3,8 2,3 3-5 2-8 3-3 2,4 2,7 3,5 2-4 3-7m0-4l2,5 3,8 2,2 3-6 2-7 2-3 3,4 2,8 3,4 2-3 3-8 2-5 2,2 3,8 2,6 3-2 2-8 3-5 2,0 2,7 3,4 2,0 3-1 2-9 3-2 2,6 2,8 3,0 2-4 3-7 2-3 3,4 2,8 2,4 3-3 2-8 3-5 2,2 3,7 2,7 2-2 3-7 2-6 3,0 2,6 3,7 2,1 2-6 3-7 2-2 3,5 2,7 3,3 2-4 2-7 3-4 2,3 3,8 2,4m0-7l3,6 2,0 2-6 3-6 2-1 3,5 2,6 2,3 3-4 2-7 3-4 2,4 3,7 2,4 2-3 3-6 2-5 3,1 2,6 2,6 3,0 2-6 3-5 2,0 3,4 2,6 2,2 3-5 2-4 3-2 2-1 2,8 3,4 2-3 3-12 2,1 3,2 2,6 2,5 3-1 2-6 3-7 2,0 2,7 3,6 2,1 3-5 2-7 3-2 2,5"/>
<path stroke="#0000ff" d="M834,990l2,7 1,0 1,0m0,0l3-3 2-8 3,0 2,2 3,5 2,4 2-2 3-6 2-3 3,1 2,4 2,5 3,0 2-6 3-5 2,0 2,5m0,7l3-3 2-6 3-4 2,2 2,6 3,4 2-1 3-6 2-4 3,0 2,6 2,5 3,0 2-5 3-6 2,0 2,5 3,5 2,1 3-4 2-6 2-2 3,4 2,6 3,3 2-4 2-6 3-3 2,3 3,6 2,4 3-3 2-6 2-3m0,10l3-6 2-4 3,1 2,6 3,5 2-1 3-7 2-4 2,1 3,6 2,5 3-1 2-6 3-5 2,1 3,5 2,5 3,0 2-6 3-5 2,0 2,5 3,6 2,0 3-5m0-6l2,2 3,6 2,5 3-3 2-6 2-4 3,1 2,6 3,5 2-1 3-6 2-5 2,1 3,5 2,6 3,0 2-7 3-5 2,0 2,5 3,4 2,1 3-1 2-8 3-1 2,4 2,7 3,0 2-4 3-5 2-3 3,4 2,7 2,3 3-4 2-7 3-3 2,3 3,7 2,3 2-2 3-7 2-4 3,2 2,6 3,5 2-2 2-6 3-4 2,1 3,5 2,5 3,0 2-6 2-5 3,0 2,5 3,6 2,0m0-8l3,5 2,4 2-3 3-5 2-4 3,2 2,5 2,4 3-1 2-5 3-5 2,1 3,5 2,5 2,0 3-5 2-5 3-1 2,5 2,5 3,1 2-4 3-5 2-1 3,3 2,5 2,2 3-3 2-4 3-1 2-1 2,6 3,3 2-2 3-10 2,2 3,2 2,4 2,4 3-1 2-6 3-5 2,1 2,6 3,5 2-1 3-5 2-5 3,0 2,5"/>
<path stroke="#008000" d="M834,990l2,5 1,0 1,0m0,0l3-2 2-6 3,0 2,2 3,3 2,3 2-2 3-4 2-2 3,1 2,4 2,3 3-1 2-5 3-3 2,1 2,5m0,3l3-3 2-5 3-1 2,3 2,4 3,2 2-3 3-4 2-2 3,2 2,5 2,2 3-2 2-5 3-2 2,2 2,4 3,3 2-2 3-4 2-3 2,1 3,5 2,3 3-1 2-5 2-3 3,1 2,5 3,3 2-1 3-4 2-4 2,1m0,8l3-2 2-5 3-2 2,2 3,5 2,3 3-3 2-5 2-2 3,2 2,5 3,2 2-2 3-5 2-2 3,2 2,5 3,2 2-2 3-5 2-2 2,2 3,5 2,2 3-2m0-6l2,0 3,3 2,5 3,0 2-4 2-4 3,0 2,3 3,5 2,0 3-4 2-4 2-1 3,4 2,5 3,0 2-4 3-4 2-1 2,4 3,3 2,1 3,0 2-7 3-1 2,4 2,5 3-1 2-3 3-4 2-1 3,3 2,5 2,2 3-4 2-5 3-1 2,3 3,5 2,2 2-4 3-4 2-2 3,3 2,5 3,1 2-3 2-4 3-2 2,3 3,4 2,2 3-2 2-5 2-2 3,2 2,5 3,2 2-2m0-6l3,3 2,4 2,1 3-4 2-4 3,0 2,3 2,4 3,1 2-3 3-5 2-1 3,3 2,5 2,1 3-3 2-4 3-2 2,3 2,4 3,2 2-3 3-4 2-1 3,2 2,4 2,2 3-2 2-3 3-2 2-1 2,6 3,2 2-2 3-8 2,2 3,1 2,4 2,3 3-2 2-4 3-3 2,1 2,5 3,3 2-1 3-5 2-3 3,1 2,4"/>
<path stroke="#ff0000" d="M834,990l2,4 1,0 1,0m0,0l3-2 2-4 3,0 2,2 3,2 2,2 2-2 3-3 2-1 3,1 2,3 2,2 3-2 2-3 3-2 2,2 2,3m0,1l3-2 2-3 3,0 2,2 2,3 3,0 2-2 3-3 2,0 3,2 2,3 2,0 3-2 2-3 3,0 2,2 2,3 3,0 2-2 3-3 2,0 2,2 3,3 2,0 3-2 2-3 2,0 3,2 2,3 3,0 2-2 3-3 2,0 2,2m0,2l3,2 2-2 3-3 2-2 3,3 2,3 3,1 2-3 2-3 3,0 2,2 3,3 2,1 3-3 2-3 3,0 2,2 3,3 2,0 3-2 2-3 2,0 3,3 2,2 3,0m0-4l2-1 3,1 2,4 3,1 2-2 2-3 3-1 2,1 3,4 2,1 3-2 2-4 2,0 3,2 2,3 3,1 2-3 3-3 2,0 2,2 3,2 2,1 3,0 2-5 3,0 2,2 2,4 3-1 2-2 3-3 2,0 3,2 2,3 2,1 3-3 2-3 3,0 2,2 3,3 2,1 2-3 3-3 2,0 3,2 2,3 3,0 2-2 2-3 3,0 2,3 3,2 2,0 3-3 2-2 2,0 3,3 2,2 3,0 2-3m0-2l3,1 2,3 2,1 3-1 2-3 3-1 2,1 2,3 3,1 2-1 3-3 2-1 3,1 2,3 2,1 3-1 2-3 3-1 2,1 2,3 3,1 2-1 3-2 2-2 3,1 2,3 2,1 3-1 2-2 3-1 2-1 2,4 3,1 2-1 3-5 2,1 3,1 2,3 2,1 3-1 2-3 3-2 2,2 2,3 3,1 2-1 3-3 2-1 3,1 2,3"/>
<path stroke="#00bfbf" d="M834,990l2,2 1,0 1,0m0,0l3-1 2-2 3,0 2,1 3,1 2,1 2-1 3-1 2-1 3,1 2,2 2,0 3-1 2-2 3,0 2,1 2,2m0,0l3-2 2-1 3,0 2,2 2,1 3-1 2-1 3-1 2,1 3,1 2,1 2-1 3-1 2-1 3,1 2,1 2,1 3-1 2-1 3-1 2,1 2,1 3,1 2-1 3-2 2,0 2,1 3,2 2,0 3-1 2-2 3,0 2,1 2,2m0-2l3,2 2,0 3-1 2-2 3,0 2,1 3,2 2,0 2-2 3-1 2,0 3,2 2,1 3,0 2-2 3-1 2,1 3,1 2,1 3-1 2-1 2-1 3,1 2,2 3,0m0-2l2-1 3,0 2,2 3,1 2,0 2-2 3-1 2,1 3,1 2,1 3-1 2-1 2-1 3,1 2,1 3,1 2-1 3-1 2-1 2,1 3,1 2,1 3,0 2-3 3,0 2,1 2,2 3,0 2-1 3-2 2,0 3,1 2,2 2,0 3-2 2-1 3,0 2,2 3,1 2,0 2-2 3-1 2,0 3,2 2,1 3,0 2-2 2-1 3,1 2,1 3,1 2-1 3-1 2-1 2,1 3,1 2,1 3-1 2-1m0-1l3,0 2,1 2,2 3,0 2-1 3-2 2,0 2,1 3,2 2,0 3-2 2-1 3,0 2,2 2,1 3,0 2-2 3-1 2,0 2,2 3,1 2,0 3-2 2-1 3,1 2,1 2,1 3-1 2-1 3,0 2-1 2,2 3,1 2-1 3-2 2,0 3,1 2,1 2,1 3-1 2-1 3-1 2,1 2,1 3,1 2-1 3-2 2,0 3,1 2,2"/>
<path stroke="#bf00bf" d="M834,990l2,0 1,0 1,0m0,0l3,0 2,0 3,0 2,0 3,0 2,0 2,0 3,0 2,0 3,0 2,0 2,0 3,0 2,0 3,0 2,0 2,0m0,0l3,0 2,0 3,0 2,0 2,0 3,0 2,0 3,0 2,0 3,0 2,0 2,0 3,0 2,0 3,0 2,0 2,0 3,0 2,0 3,0 2,0 2,0 3,0 2,0 3,0 2,0 2,0 3,0 2,0 3,0 2,0 3,0 2,0 2,0m0,0l3,0 2,0 3,0 2,0 3,0 2,0 3,0 2,0 2,0 3,0 2,0 3,0 2,0 3,0 2,0 3,0 2,0 3,0 2,0 3,0 2,0 2,0 3,0 2,0 3,0m0,0l2,0 3,0 2,0 3,0 2,0 2,0 3,0 2,0 3,0 2,0 3,0 2,0 2,0 3,0 2,0 3,0 2,0 3,0 2,0 2,0 3,0 2,0 3,0 2,0 3,0 2,0 2,0 3,0 2,0 3,0 2,0 3,0 2,0 2,0 3,0 2,0 3,0 2,0 3,0 2,0 2,0 3,0 2,0 3,0 2,0 3,0 2,0 2,0 3,0 2,0 3,0 2,0 3,0 2,0 2,0 3,0 2,0 3,0 2,0m0,0l3,0 2,0 2,0 3,0 2,0 3,0 2,0 2,0 3,0 2,0 3,0 2,0 3,0 2,0 2,0 3,0 2,0 3,0 2,0 2,0 3,0 2,0 3,0 2,0 3,0 2,0 2,0 3,0 2,0 3,0 2,0 2,0 3,0 2,0 3,0 2,0 3,0 2,0 2,0 3,0 2,0 3,0 2,0 2,0 3,0 2,0 3,0 2,0 3,0 2,0"/>
</g>
<path d="M417.91,542.99L439.21,542.99" stroke="#bf00bf" stroke-width="0.9"/>
<path d="M439.72,464.56L439.72,448.79" stroke="#3030c0" stroke-width="0.9"/>
<path d="M439.72,448.79L480.17,448.79" stroke="#3030c0" stroke-width="0.9"/>
<path d="M480.17,448.79L480.17,457.74" stroke="#3030c0" stroke-width="0.9"/>
<path d="M480.68,451.77L511.4,451.77" stroke="#bf00bf" stroke-width="0.9"/>
<path d="M439.72,538.73L480.17,538.73" stroke="#3030c0" stroke-width="0.9"/>
<path d="M480.68,542.99L511.4,542.99" stroke="#3030c0" stroke-width="0.9"/>
<path d="M511.4,450.07L542.12,447.94" stroke="#3030c0" stroke-width="0.9"/>
<path d="M542.12,447.94L582.06,450.07" stroke="#bf00bf" stroke-width="0.9"/>
<path d="M583.08,539.58L643.5,539.58" stroke="#804040" stroke-width="0.9"/>
<path d="M409,495.25H417.91" stroke="#c000c0" stroke-width="1"/>
<path d="M73.5,410.0H329.0V580.5H73.5Z" fill="none" stroke="#505050" stroke-width="1.3"/>
<path d="M73.5,580.5v-3M73.5,410.0v3M124.6,580.5v-3M124.6,410.0v3M175.7,580.5v-3M175.7,410.0v3M226.8,580.5v-3M226.8,410.0v3M277.9,580.5v-3M277.9,410.0v3M329,580.5v-3M329,410.0v3M73.5,580.5h3M329.0,580.5h-3M73.5,537.88h3M329.0,537.88h-3M73.5,495.25h3M329.0,495.25h-3M73.5,452.62h3M329.0,452.62h-3M73.5,410h3M329.0,410h-3" stroke="#505050" stroke-width="1.3"/>
<path d="M409.0,410.0H665.0V580.5H409.0Z" fill="none" stroke="#505050" stroke-width="1.3"/>
<path d="M409,580.5v-3M409,410.0v3M460.2,580.5v-3M460.2,410.0v3M511.4,580.5v-3M511.4,410.0v3M562.6,580.5v-3M562.6,410.0v3M613.8,580.5v-3M613.8,410.0v3M665,580.5v-3M665,410.0v3M409.0,580.5h3M665.0,580.5h-3M409.0,537.88h3M665.0,537.88h-3M409.0,495.25h3M665.0,495.25h-3M409.0,452.62h3M665.0,452.62h-3M409.0,410h3M665.0,410h-3" stroke="#505050" stroke-width="1.3"/>
<g font-size="16"><text transform="translate(73.5,201.8) scale(0.95,1)" text-anchor="middle">0</text><text transform="translate(124.6,201.8) scale(0.95,1)" text-anchor="middle">5</text><text transform="translate(175.7,201.8) scale(0.95,1)" text-anchor="middle">10</text><text transform="translate(226.8,201.8) scale(0.95,1)" text-anchor="middle">15</text><text transform="translate(277.9,201.8) scale(0.95,1)" text-anchor="middle">20</text><text transform="translate(329,201.8) scale(0.95,1)" text-anchor="middle">25</text><text transform="translate(71.3,192.5) scale(0.95,1)" text-anchor="end">0</text><text transform="translate(71.3,158.7) scale(0.95,1)" text-anchor="end">2</text><text transform="translate(71.3,124.9) scale(0.95,1)" text-anchor="end">4</text><text transform="translate(71.3,91.1) scale(0.95,1)" text-anchor="end">6</text><text transform="translate(71.3,57.3) scale(0.95,1)" text-anchor="end">8</text><text transform="translate(71.3,23.5) scale(0.95,1)" text-anchor="end">10</text></g>
<g font-size="16"><text transform="translate(409,201.8) scale(0.95,1)" text-anchor="middle">0</text><text transform="translate(460.2,201.8) scale(0.95,1)" text-anchor="middle">5</text><text transform="translate(511.4,201.8) scale(0.95,1)" text-anchor="middle">10</text><text transform="translate(562.6,201.8) scale(0.95,1)" text-anchor="middle">15</text><text transform="translate(613.8,201.8) scale(0.95,1)" text-anchor="middle">20</text><text transform="translate(665,201.8) scale(0.95,1)" text-anchor="middle">25</text><text transform="translate(406.8,192.5) scale(0.95,1)" text-anchor="end">0</text><text transform="translate(406.8,158.7) scale(0.95,1)" text-anchor="end">2</text><text transform="translate(406.8,124.9) scale(0.95,1)" text-anchor="end">4</text><text transform="translate(406.8,91.1) scale(0.95,1)" text-anchor="end">6</text><text transform="translate(406.8,57.3) scale(0.95,1)" text-anchor="end">8</text><text transform="translate(406.8,23.5) scale(0.95,1)" text-anchor="end">10</text></g>
<g font-size="16"><text transform="translate(73.5,397.8) scale(0.95,1)" text-anchor="middle">0</text><text transform="translate(124.6,397.8) scale(0.95,1)" text-anchor="middle">5</text><text transform="translate(175.7,397.8) scale(0.95,1)" text-anchor="middle">10</text><text transform="translate(226.8,397.8) scale(0.95,1)" text-anchor="middle">15</text><text transform="translate(277.9,397.8) scale(0.95,1)" text-anchor="middle">20</text><text transform="translate(329,397.8) scale(0.95,1)" text-anchor="middle">25</text><text transform="translate(71.3,388.5) scale(0.95,1)" text-anchor="end">-0.6</text><text transform="translate(71.3,346) scale(0.95,1)" text-anchor="end">-0.4</text><text transform="translate(71.3,303.5) scale(0.95,1)" text-anchor="end">-0.2</text><text transform="translate(71.3,261) scale(0.95,1)" text-anchor="end">0</text><text transform="translate(71.3,218.5) scale(0.95,1)" text-anchor="end">0.2</text></g>
<g font-size="16"><text transform="translate(409,397.8) scale(0.95,1)" text-anchor="middle">0</text><text transform="translate(460.2,397.8) scale(0.95,1)" text-anchor="middle">5</text><text transform="translate(511.4,397.8) scale(0.95,1)" text-anchor="middle">10</text><text transform="translate(562.6,397.8) scale(0.95,1)" text-anchor="middle">15</text><text transform="translate(613.8,397.8) scale(0.95,1)" text-anchor="middle">20</text><text transform="translate(665,397.8) scale(0.95,1)" text-anchor="middle">25</text><text transform="translate(406.8,388.5) scale(0.95,1)" text-anchor="end">-0.5</text><text transform="translate(406.8,303.5) scale(0.95,1)" text-anchor="end">0</text><text transform="translate(406.8,218.5) scale(0.95,1)" text-anchor="end">0.5</text></g>
<g font-size="16"><text transform="translate(73.5,594.8) scale(0.95,1)" text-anchor="middle">0</text><text transform="translate(124.6,594.8) scale(0.95,1)" text-anchor="middle">5</text><text transform="translate(175.7,594.8) scale(0.95,1)" text-anchor="middle">10</text><text transform="translate(226.8,594.8) scale(0.95,1)" text-anchor="middle">15</text><text transform="translate(277.9,594.8) scale(0.95,1)" text-anchor="middle">20</text><text transform="translate(329,594.8) scale(0.95,1)" text-anchor="middle">25</text><text transform="translate(71.3,585.5) scale(0.95,1)" text-anchor="end">-0.01</text><text transform="translate(71.3,542.88) scale(0.95,1)" text-anchor="end">-0.005</text><text transform="translate(71.3,500.25) scale(0.95,1)" text-anchor="end">0</text><text transform="translate(71.3,457.62) scale(0.95,1)" text-anchor="end">0.005</text><text transform="translate(71.3,415) scale(0.95,1)" text-anchor="end">0.01</text></g>
<g font-size="16"><text transform="translate(409,594.8) scale(0.95,1)" text-anchor="middle">0</text><text transform="translate(460.2,594.8) scale(0.95,1)" text-anchor="middle">5</text><text transform="translate(511.4,594.8) scale(0.95,1)" text-anchor="middle">10</text><text transform="translate(562.6,594.8) scale(0.95,1)" text-anchor="middle">15</text><text transform="translate(613.8,594.8) scale(0.95,1)" text-anchor="middle">20</text><text transform="translate(665,594.8) scale(0.95,1)" text-anchor="middle">25</text><text transform="translate(406.8,585.5) scale(0.95,1)" text-anchor="end">-0.01</text><text transform="translate(406.8,542.88) scale(0.95,1)" text-anchor="end">-0.005</text><text transform="translate(406.8,500.25) scale(0.95,1)" text-anchor="end">0</text><text transform="translate(406.8,457.62) scale(0.95,1)" text-anchor="end">0.005</text><text transform="translate(406.8,415) scale(0.95,1)" text-anchor="end">0.01</text></g>
<g font-size="20" fill="#333">
<text x="4.6" y="16.6" font-size="20" text-anchor="start" fill="#333" >(a)</text>
<text x="349.8" y="16.5" font-size="20" text-anchor="start" fill="#333" >(b)</text>
<text x="4.8" y="213.7" font-size="20" text-anchor="start" fill="#333" >(c)</text>
<text x="349.8" y="213.7" font-size="20" text-anchor="start" fill="#333" >(d)</text>
<text x="4.6" y="412.8" font-size="20" text-anchor="start" fill="#333" >(e)</text>
<text x="350" y="412.8" font-size="20" text-anchor="start" fill="#333" >(f)</text>
</g>
<text transform="translate(16,105.75) rotate(-90)" font-size="20" text-anchor="middle" textLength="156.5" lengthAdjust="spacingAndGlyphs">Rabi freq. (MHz)</text>
<text transform="translate(357,105.6) rotate(-90)" font-size="19" text-anchor="middle" textLength="102.5" lengthAdjust="spacingAndGlyphs">Coherence</text>
<text transform="translate(16.1,301.2) rotate(-90)" font-size="19" text-anchor="middle" textLength="102.5" lengthAdjust="spacingAndGlyphs">Coherence</text>
<text transform="translate(357,301.3) rotate(-90)" font-size="19" text-anchor="middle" textLength="102.5" lengthAdjust="spacingAndGlyphs">Coherence</text>
<text transform="translate(16.1,498.2) rotate(-90)" font-size="19" text-anchor="middle" textLength="102.5" lengthAdjust="spacingAndGlyphs">Coherence</text>
<text transform="translate(357,498.2) rotate(-90)" font-size="19" text-anchor="middle" textLength="102.5" lengthAdjust="spacingAndGlyphs">Coherence</text>
<text x="152.7" y="621.8" font-size="20" text-anchor="start" fill="#000"  textLength="89.83" lengthAdjust="spacing">Time (<tspan font-family='"Liberation Serif", serif'>&#956;</tspan>s)</text>
<text x="493.1" y="622.6" font-size="20" text-anchor="start" fill="#000"  textLength="89.83" lengthAdjust="spacing">Time (<tspan font-family='"Liberation Serif", serif'>&#956;</tspan>s)</text>
<path d="M213.3,624.5L214.8,623.7L216.3,625.3L217.8,623.7L219.3,625.3L220.8,623.7L222.3,625.3L223.8,623.7L225.3,625.3L226.8,623.7L228.3,625.3L229.8,623.7L231.3,625.3L232.8,623.7L234.3,625.3L235.8,623.7" fill="none" stroke="#e04040" stroke-width="0.8"/>
<path d="M553.6,624.7L555.1,623.9L556.6,625.5L558.1,623.9L559.6,625.5L561.1,623.9L562.6,625.5L564.1,623.9L565.6,625.5L567.1,623.9L568.6,625.5L570.1,623.9L571.6,625.5L573.1,623.9L574.6,625.5L576.1,623.9L577.6,625.5" fill="none" stroke="#e04040" stroke-width="0.8"/>
<text x="80.7" y="68.5" font-size="18" text-anchor="start" fill="#000"  textLength="53.11" lengthAdjust="spacing">D(<tspan font-family='"Liberation Serif", serif'>&#960;</tspan>/2)</text>
<text x="150.3" y="55.4" font-size="18" text-anchor="start" fill="#000"  textLength="47.41" lengthAdjust="spacing">R1(<tspan font-family='"Liberation Serif", serif'>&#960;</tspan>)</text>
<text x="253" y="55.4" font-size="18" text-anchor="start" fill="#000"  textLength="46.51" lengthAdjust="spacing">R2(<tspan font-family='"Liberation Serif", serif'>&#960;</tspan>)</text>
<text x="96.5" y="97.9" font-size="18" text-anchor="start" fill="#000"  textLength="33.30" lengthAdjust="spacing">T(6)</text>
<text x="170" y="98" font-size="18" text-anchor="start" fill="#000" >T</text>
<text x="222" y="98" font-size="18" text-anchor="start" fill="#000" >T&#8217;</text>
<text x="252.6" y="98" font-size="18" text-anchor="start" fill="#000"  textLength="38.40" lengthAdjust="spacing">T&#8217;(4)</text>
<text x="179" y="137.5" font-size="18" text-anchor="start" fill="#000" >e1</text>
<text x="293.5" y="137" font-size="18" text-anchor="start" fill="#000" >e2</text>
<text x="88.5" y="159.5" font-size="18" text-anchor="start" fill="#0a9e3c" >AC1</text>
<text x="207.5" y="159.5" font-size="18" text-anchor="start" fill="#0a9e3c"  textLength="37.02" lengthAdjust="spacing">AC2</text>
<path d="M86.3,110.3L141.7,110.3M133.7,115.1L141.7,110.3L133.7,105.5M94.3,115.1L86.3,110.3L94.3,105.5" fill="none" stroke="#222" stroke-width="1.1"/>
<path d="M147.9,110.3L203.7,110.3M195.7,115.1L203.7,110.3L195.7,105.5M155.9,115.1L147.9,110.3L155.9,105.5" fill="none" stroke="#222" stroke-width="1.1"/>
<path d="M205.5,110.3L246.9,110.3M238.9,115.1L246.9,110.3L238.9,105.5M213.5,115.1L205.5,110.3L213.5,105.5" fill="none" stroke="#222" stroke-width="1.1"/>
<path d="M247.9,110.3L288.5,110.3M280.5,115.1L288.5,110.3L280.5,105.5M255.9,115.1L247.9,110.3L255.9,105.5" fill="none" stroke="#222" stroke-width="1.1"/>
<text x="427.7" y="152" font-size="18" text-anchor="start" fill="#0a9e3c"  textLength="36.02" lengthAdjust="spacing">AC1</text>
<text x="502" y="152" font-size="18" text-anchor="start" fill="#0a9e3c"  textLength="37.02" lengthAdjust="spacing">AC2</text>
<text x="195" y="237.7" font-size="18" text-anchor="start" fill="#000" >e1</text>
<text x="277.3" y="237.7" font-size="18" text-anchor="start" fill="#000" >e2</text>
<ellipse cx="206.5" cy="260.3" rx="26.5" ry="17.4" fill="none" stroke="#22b050" stroke-width="1.8" stroke-dasharray="4.5,3"/>
<ellipse cx="287.9" cy="305" rx="26.4" ry="62.1" fill="none" stroke="#22b050" stroke-width="1.8" stroke-dasharray="4.5,3"/>
<path d="M165.7,338.6L190,317M187.01,325.68L190,317L181.03,318.95" fill="none" stroke="#000" stroke-width="1.3"/>
<path d="M252.3,336.6L275.7,315.1M272.85,323.83L275.7,315.1L266.76,317.2" fill="none" stroke="#000" stroke-width="1.3"/>
<text x="143" y="361.8" font-size="18" text-anchor="start" fill="#e00000" font-style="italic">Re<tspan font-family='"Liberation Serif", serif' font-size="21">&#961;</tspan><tspan font-family='"Liberation Serif", serif' font-size="14" dy="4">12</tspan></text>
<text x="228.6" y="361.8" font-size="18" text-anchor="start" fill="#0000e0" font-style="italic">Im<tspan font-family='"Liberation Serif", serif' font-size="21">&#961;</tspan><tspan font-family='"Liberation Serif", serif' font-size="14" dy="4">12</tspan></text>
<text x="461" y="248.6" font-size="18" text-anchor="start" fill="#0000e0" font-style="italic">Im<tspan font-family='"Liberation Serif", serif' font-size="21">&#961;</tspan><tspan font-family='"Liberation Serif", serif' font-size="14" dy="4">12</tspan></text>
<path d="M506.4,255.7L527.9,275.7M518.98,273.55L527.9,275.7L525.11,266.96" fill="none" stroke="#000" stroke-width="1.3"/>
<text x="555" y="240" font-size="18" text-anchor="start" fill="#000" >e1</text>
<text x="603.6" y="251.4" font-size="18" text-anchor="start" fill="#e00000" font-style="italic">Re<tspan font-family='"Liberation Serif", serif' font-size="21">&#961;</tspan><tspan font-family='"Liberation Serif", serif' font-size="14" dy="4">12</tspan></text>
<path d="M627.1,262.9L620,292.9M617.46,284.08L620,292.9L626.22,286.15" fill="none" stroke="#000" stroke-width="1.3"/>
<text x="590.2" y="370" font-size="18" text-anchor="start" fill="#000" >e2</text>
<text x="89.5" y="435" font-size="18" text-anchor="start" fill="#000" font-style="italic">Im<tspan font-family='"Liberation Serif", serif' font-size="21">&#961;</tspan><tspan font-family='"Liberation Serif", serif' font-size="14" dy="4">12</tspan></text>
<text x="261.7" y="434.7" font-size="18" text-anchor="start" fill="#000" >e2</text>
<path d="M288,423.6L288,462.8M283.5,454.8L288,462.8L292.5,454.8" fill="none" stroke="#000" stroke-width="1.3"/>
<path d="M205.1,566.8L205.1,529.1M209.6,537.1L205.1,529.1L200.6,537.1" fill="none" stroke="#000" stroke-width="1.3"/>
<text x="213.4" y="568.3" font-size="18" text-anchor="start" fill="#000" >e1</text>
<text x="424.3" y="435" font-size="18" text-anchor="start" fill="#000" font-style="italic">Im<tspan font-family='"Liberation Serif", serif' font-size="21">&#961;</tspan><tspan font-family='"Liberation Serif", serif' font-size="14" dy="4">12</tspan></text>
<text x="595.9" y="435" font-size="18" text-anchor="start" fill="#000" >e2</text>
<path d="M622.3,423.6L622.3,463.8M617.8,455.8L622.3,463.8L626.8,455.8" fill="none" stroke="#000" stroke-width="1.3"/>
<path d="M541.5,566L541.5,528.8M546,536.8L541.5,528.8L537,536.8" fill="none" stroke="#000" stroke-width="1.3"/>
<text x="550.3" y="568.2" font-size="18" text-anchor="start" fill="#000" >e1</text>
</svg></body></html>
